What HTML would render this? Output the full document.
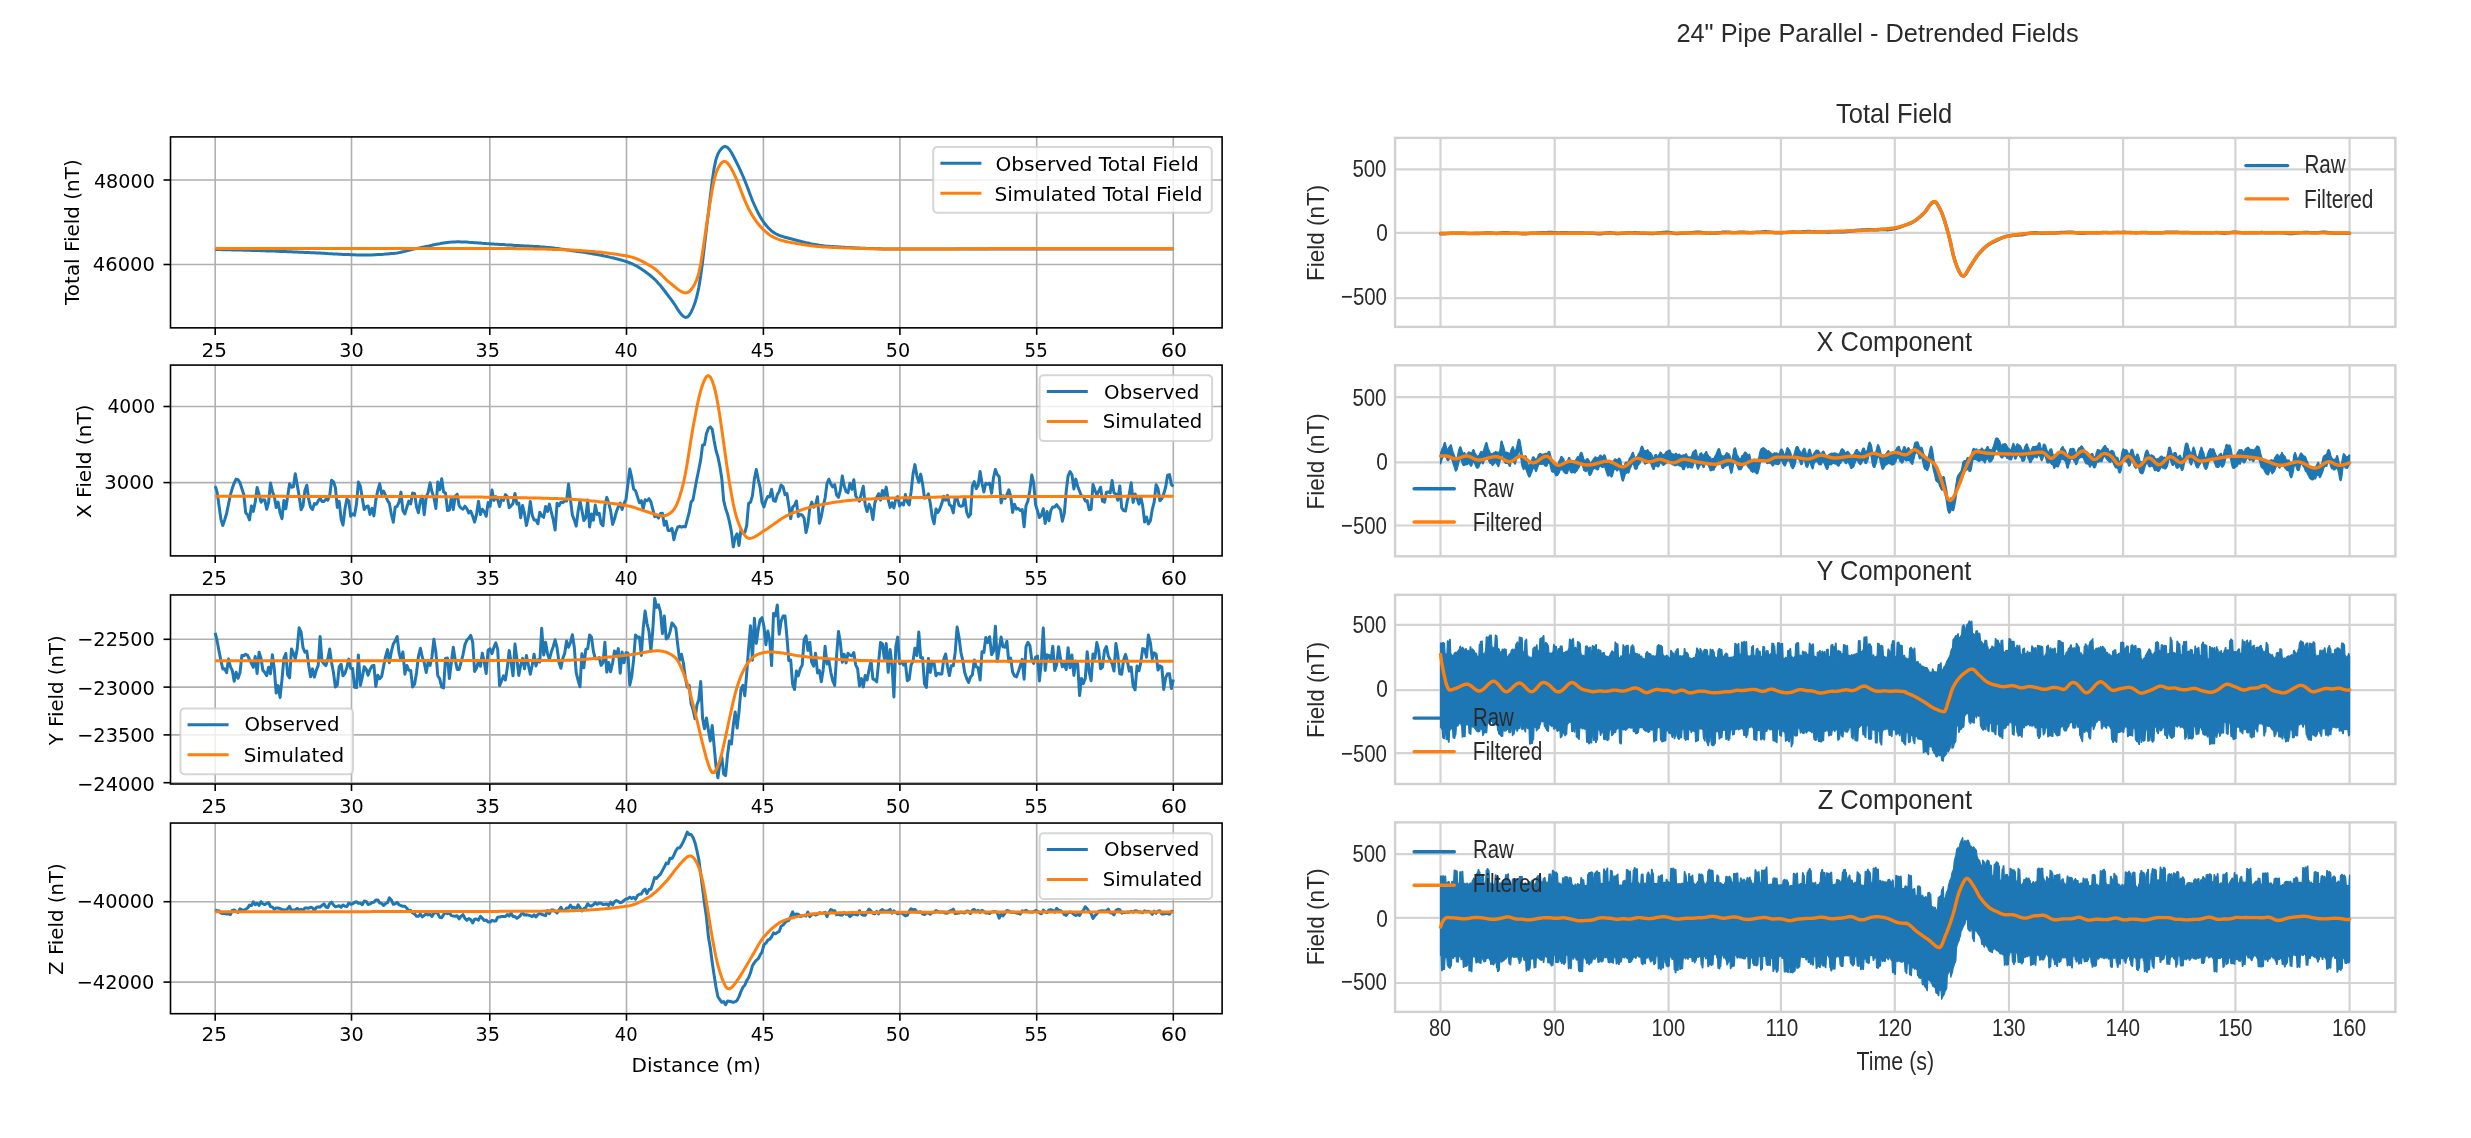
<!DOCTYPE html><html><head><meta charset="utf-8"><title>Pipe Parallel Fields</title><style>html,body{margin:0;padding:0;background:#fff;width:2471px;height:1138px;overflow:hidden}svg{display:block;will-change:transform}</style></head><body><svg width="2471" height="1138" viewBox="0 0 2471 1138"><defs><clipPath id="cl0"><rect x="170.5" y="136.9" width="1051.6" height="190.95"/></clipPath><clipPath id="cl1"><rect x="170.5" y="365.08" width="1051.6" height="190.82"/></clipPath><clipPath id="cl2"><rect x="170.5" y="594.95" width="1051.6" height="189.05"/></clipPath><clipPath id="cl3"><rect x="170.5" y="823.05" width="1051.6" height="190.65"/></clipPath><clipPath id="cr0"><rect x="1395.1" y="137.9" width="1000.3" height="189.0"/></clipPath><clipPath id="cr1"><rect x="1395.1" y="365.3" width="1000.3" height="191.0"/></clipPath><clipPath id="cr2"><rect x="1395.1" y="594.8" width="1000.3" height="189.2"/></clipPath><clipPath id="cr3"><rect x="1395.1" y="822.4" width="1000.3" height="189.5"/></clipPath><filter id="rblur" filterUnits="userSpaceOnUse" x="1270" y="0" width="1201" height="1138"><feGaussianBlur stdDeviation="0.45"/></filter></defs><rect width="2471" height="1138" fill="#fff"/><g>
<line x1="215.2" y1="136.9" x2="215.2" y2="327.9" stroke="#b0b0b0" stroke-width="1.6"/>
<line x1="351.5" y1="136.9" x2="351.5" y2="327.9" stroke="#b0b0b0" stroke-width="1.6"/>
<line x1="489.8" y1="136.9" x2="489.8" y2="327.9" stroke="#b0b0b0" stroke-width="1.6"/>
<line x1="626.5" y1="136.9" x2="626.5" y2="327.9" stroke="#b0b0b0" stroke-width="1.6"/>
<line x1="763.4" y1="136.9" x2="763.4" y2="327.9" stroke="#b0b0b0" stroke-width="1.6"/>
<line x1="899.9" y1="136.9" x2="899.9" y2="327.9" stroke="#b0b0b0" stroke-width="1.6"/>
<line x1="1036.7" y1="136.9" x2="1036.7" y2="327.9" stroke="#b0b0b0" stroke-width="1.6"/>
<line x1="1173.3" y1="136.9" x2="1173.3" y2="327.9" stroke="#b0b0b0" stroke-width="1.6"/>
<line x1="170.5" y1="264.5" x2="1222.1" y2="264.5" stroke="#b0b0b0" stroke-width="1.6"/>
<line x1="170.5" y1="180" x2="1222.1" y2="180" stroke="#b0b0b0" stroke-width="1.6"/>
<polyline points="215.2,249.5 217.1,249.5 219.0,249.6 220.9,249.6 222.8,249.7 224.7,249.7 226.6,249.7 228.5,249.8 230.4,249.8 232.3,249.9 234.2,249.9 236.1,250.0 238.1,250.0 240.0,250.1 241.9,250.1 243.8,250.2 245.7,250.2 247.6,250.3 249.5,250.3 251.4,250.4 253.3,250.5 255.2,250.5 257.1,250.6 259.1,250.6 261.0,250.7 262.9,250.8 264.8,250.8 266.7,250.9 268.6,250.9 270.5,251.0 272.4,251.1 274.3,251.1 276.2,251.2 278.1,251.3 280.1,251.4 282.0,251.4 283.9,251.5 285.8,251.6 287.7,251.7 289.6,251.8 291.5,251.8 293.4,251.9 295.3,252.0 297.2,252.1 299.1,252.2 301.1,252.3 303.0,252.3 304.9,252.4 306.8,252.5 308.7,252.6 310.6,252.7 312.5,252.8 314.4,252.8 316.3,252.9 318.2,253.0 320.1,253.1 322.0,253.2 324.0,253.3 325.9,253.4 327.8,253.6 329.7,253.7 331.6,253.8 333.5,253.9 335.4,254.0 337.3,254.1 339.2,254.2 341.1,254.3 343.0,254.4 345.0,254.5 346.9,254.6 348.8,254.6 350.7,254.7 352.6,254.8 354.5,254.8 356.5,254.9 358.4,254.9 360.4,255.0 362.3,255.0 364.2,255.0 366.2,255.0 368.1,255.0 370.0,254.9 372.0,254.9 373.9,254.8 375.8,254.7 377.8,254.6 379.7,254.5 381.6,254.4 383.6,254.3 385.5,254.1 387.5,254.0 389.4,253.8 391.3,253.6 393.3,253.5 395.2,253.2 397.1,253.0 399.1,252.6 401.0,252.2 402.9,251.8 404.9,251.4 406.8,250.9 408.8,250.4 410.7,249.9 412.6,249.4 414.6,248.9 416.5,248.5 418.4,248.1 420.4,247.7 422.3,247.3 424.2,246.9 426.2,246.5 428.1,246.1 430.1,245.7 432.0,245.3 433.9,244.8 435.9,244.4 437.8,244.0 439.7,243.7 441.7,243.3 443.6,243.0 445.5,242.7 447.5,242.4 449.4,242.2 451.4,242.1 453.3,241.9 455.2,241.9 457.2,241.8 459.1,241.8 461.0,241.9 463.0,242.0 464.9,242.0 466.8,242.1 468.8,242.3 470.7,242.4 472.7,242.5 474.6,242.7 476.5,242.8 478.5,243.0 480.4,243.1 482.3,243.3 484.3,243.4 486.2,243.6 488.1,243.7 490.1,243.8 492.0,243.9 493.9,244.1 495.8,244.2 497.7,244.3 499.6,244.4 501.6,244.5 503.5,244.6 505.4,244.8 507.3,244.9 509.2,245.0 511.1,245.1 513.0,245.2 515.0,245.4 516.9,245.5 518.8,245.6 520.7,245.7 522.6,245.8 524.5,245.9 526.4,246.0 528.3,246.1 530.3,246.2 532.2,246.3 534.1,246.4 536.0,246.5 537.9,246.6 539.8,246.8 541.7,246.9 543.7,247.0 545.6,247.2 547.5,247.4 549.4,247.6 551.3,247.8 553.2,248.0 555.1,248.3 557.1,248.5 559.0,248.8 560.9,249.1 562.8,249.3 564.7,249.6 566.6,249.9 568.5,250.1 570.5,250.4 572.4,250.7 574.3,250.9 576.2,251.2 578.1,251.5 580.0,251.8 581.9,252.1 583.8,252.3 585.8,252.6 587.7,252.9 589.6,253.3 591.5,253.6 593.4,253.9 595.3,254.2 597.2,254.6 599.2,254.9 601.1,255.3 603.0,255.7 604.9,256.1 606.8,256.5 608.7,256.9 610.6,257.4 612.6,257.8 614.5,258.3 616.4,258.8 618.3,259.3 620.2,259.8 622.1,260.3 624.0,260.9 626.0,261.5 627.9,262.1 629.8,262.8 631.7,263.6 633.6,264.5 635.5,265.5 637.5,266.5 639.4,267.7 641.3,268.9 643.2,270.2 645.1,271.5 647.0,273.0 649.0,274.4 650.9,276.0 652.8,277.6 654.7,279.3 656.6,281.2 658.5,283.4 660.5,285.6 662.4,288.0 664.3,290.5 666.2,293.0 668.1,295.5 670.0,298.0 672.0,300.6 673.9,303.4 675.8,306.3 677.7,309.4 679.6,312.2 681.5,314.7 683.5,316.5 685.4,317.4 687.3,317.1 689.2,315.3 691.1,312.2 693.0,308.0 695.0,302.8 696.9,296.2 698.8,287.6 700.7,275.9 702.6,261.5 704.5,245.6 706.4,229.2 708.4,212.9 710.3,196.6 712.2,181.1 714.1,168.2 716.0,159.4 717.9,154.0 719.9,150.6 721.8,148.2 723.7,146.8 725.6,146.5 727.5,147.4 729.4,149.5 731.4,152.5 733.3,156.0 735.2,159.7 737.1,163.5 739.0,167.4 740.9,171.6 742.9,176.0 744.8,180.6 746.7,185.4 748.6,190.4 750.5,195.6 752.4,200.5 754.4,205.0 756.3,209.2 758.2,213.0 760.1,216.5 762.0,219.7 763.9,222.5 765.9,225.0 767.8,227.2 769.7,229.2 771.6,231.0 773.5,232.4 775.4,233.5 777.3,234.5 779.2,235.3 781.1,236.0 783.1,236.6 785.0,237.2 786.9,237.7 788.8,238.2 790.7,238.7 792.6,239.2 794.5,239.7 796.4,240.2 798.3,240.7 800.3,241.2 802.2,241.7 804.1,242.1 806.0,242.6 807.9,243.0 809.8,243.5 811.7,243.9 813.6,244.2 815.5,244.6 817.5,244.9 819.4,245.3 821.3,245.5 823.2,245.8 825.1,246.0 827.0,246.2 828.9,246.3 830.8,246.5 832.7,246.6 834.7,246.7 836.6,246.8 838.5,247.0 840.4,247.1 842.3,247.2 844.2,247.3 846.1,247.4 848.0,247.5 849.9,247.6 851.9,247.7 853.8,247.8 855.7,247.9 857.6,248.0 859.5,248.1 861.4,248.2 863.3,248.3 865.2,248.3 867.1,248.4 869.1,248.5 871.0,248.5 872.9,248.6 874.8,248.7 876.7,248.7 878.6,248.8 880.5,248.8 882.4,248.9 884.3,248.9 886.2,248.9 888.2,249.0 890.1,249.0 892.0,249.0 893.9,249.0 895.8,249.0 897.7,249.0 899.6,249.0 901.5,249.0 903.5,249.0 905.4,249.0 907.3,249.0 909.2,249.0 911.1,249.0 913.0,249.0 914.9,249.0 916.9,249.0 918.8,249.0 920.7,249.0 922.6,249.0 924.5,249.0 926.4,249.0 928.4,249.0 930.3,249.0 932.2,249.0 934.1,249.0 936.0,249.0 937.9,249.0 939.8,249.0 941.8,249.0 943.7,249.0 945.6,249.0 947.5,249.0 949.4,249.0 951.3,249.0 953.3,249.0 955.2,249.0 957.1,249.0 959.0,249.0 960.9,249.0 962.8,249.0 964.7,249.0 966.7,249.0 968.6,249.0 970.5,249.0 972.4,249.0 974.3,249.0 976.2,249.0 978.1,249.0 980.1,249.0 982.0,249.0 983.9,249.0 985.8,249.0 987.7,249.0 989.6,249.0 991.6,249.0 993.5,249.0 995.4,249.0 997.3,249.0 999.2,249.0 1001.1,249.0 1003.0,249.0 1005.0,249.0 1006.9,249.0 1008.8,249.0 1010.7,249.0 1012.6,249.0 1014.5,249.0 1016.5,249.0 1018.4,249.0 1020.3,249.0 1022.2,249.0 1024.1,249.0 1026.0,249.0 1027.9,249.0 1029.9,249.0 1031.8,249.0 1033.7,249.0 1035.6,249.0 1037.5,249.0 1039.4,249.0 1041.3,249.0 1043.3,249.0 1045.2,249.0 1047.1,249.0 1049.0,249.0 1050.9,249.0 1052.8,249.0 1054.7,249.0 1056.6,249.0 1058.6,249.0 1060.5,249.0 1062.4,249.0 1064.3,249.0 1066.2,249.0 1068.1,249.0 1070.0,249.0 1071.9,249.0 1073.9,249.0 1075.8,249.0 1077.7,249.0 1079.6,249.0 1081.5,249.0 1083.4,249.0 1085.3,249.0 1087.2,249.0 1089.2,249.0 1091.1,249.0 1093.0,249.0 1094.9,249.0 1096.8,249.0 1098.7,249.0 1100.6,249.0 1102.5,249.0 1104.5,249.0 1106.4,249.0 1108.3,249.0 1110.2,249.0 1112.1,249.0 1114.0,249.0 1115.9,249.0 1117.8,249.0 1119.8,249.0 1121.7,249.0 1123.6,249.0 1125.5,249.0 1127.4,249.0 1129.3,249.0 1131.2,249.0 1133.1,249.0 1135.1,249.0 1137.0,249.0 1138.9,249.0 1140.8,249.0 1142.7,249.0 1144.6,249.0 1146.5,249.0 1148.4,249.0 1150.4,249.0 1152.3,249.0 1154.2,249.0 1156.1,249.0 1158.0,249.0 1159.9,249.0 1161.8,249.0 1163.7,249.0 1165.7,249.0 1167.6,249.0 1169.5,249.0 1171.4,249.0 1173.3,249.0" fill="none" stroke="#1f77b4" stroke-width="3" stroke-linejoin="round" stroke-linecap="butt" clip-path="url(#cl0)"/>
<polyline points="215.2,248.5 217.1,248.5 219.0,248.5 220.9,248.5 222.8,248.5 224.7,248.5 226.6,248.5 228.5,248.5 230.4,248.5 232.3,248.5 234.2,248.5 236.1,248.5 238.1,248.5 240.0,248.5 241.9,248.5 243.8,248.5 245.7,248.5 247.6,248.5 249.5,248.5 251.4,248.5 253.3,248.5 255.2,248.5 257.1,248.5 259.1,248.5 261.0,248.5 262.9,248.5 264.8,248.5 266.7,248.5 268.6,248.5 270.5,248.5 272.4,248.5 274.3,248.5 276.2,248.5 278.1,248.5 280.1,248.5 282.0,248.5 283.9,248.5 285.8,248.5 287.7,248.5 289.6,248.5 291.5,248.5 293.4,248.5 295.3,248.5 297.2,248.5 299.1,248.5 301.1,248.5 303.0,248.5 304.9,248.5 306.8,248.5 308.7,248.5 310.6,248.5 312.5,248.5 314.4,248.5 316.3,248.5 318.2,248.5 320.1,248.5 322.0,248.5 324.0,248.5 325.9,248.5 327.8,248.5 329.7,248.5 331.6,248.5 333.5,248.5 335.4,248.5 337.3,248.5 339.2,248.5 341.1,248.5 343.0,248.5 345.0,248.5 346.9,248.5 348.8,248.5 350.7,248.5 352.6,248.5 354.5,248.5 356.5,248.5 358.4,248.5 360.4,248.5 362.3,248.5 364.2,248.5 366.2,248.5 368.1,248.5 370.0,248.5 372.0,248.5 373.9,248.5 375.8,248.5 377.8,248.5 379.7,248.5 381.6,248.5 383.6,248.5 385.5,248.5 387.5,248.5 389.4,248.5 391.3,248.5 393.3,248.5 395.2,248.5 397.1,248.5 399.1,248.5 401.0,248.5 402.9,248.5 404.9,248.5 406.8,248.5 408.8,248.5 410.7,248.5 412.6,248.5 414.6,248.5 416.5,248.5 418.4,248.5 420.4,248.5 422.3,248.5 424.2,248.5 426.2,248.5 428.1,248.5 430.1,248.5 432.0,248.5 433.9,248.5 435.9,248.5 437.8,248.5 439.7,248.5 441.7,248.5 443.6,248.5 445.5,248.5 447.5,248.5 449.4,248.5 451.4,248.5 453.3,248.5 455.2,248.5 457.2,248.5 459.1,248.5 461.0,248.5 463.0,248.5 464.9,248.5 466.8,248.5 468.8,248.5 470.7,248.5 472.7,248.5 474.6,248.5 476.5,248.5 478.5,248.5 480.4,248.5 482.3,248.5 484.3,248.5 486.2,248.5 488.1,248.5 490.1,248.5 492.0,248.5 493.9,248.5 495.8,248.6 497.7,248.6 499.6,248.6 501.6,248.6 503.5,248.6 505.4,248.6 507.3,248.6 509.2,248.6 511.1,248.6 513.0,248.6 515.0,248.6 516.9,248.7 518.8,248.7 520.7,248.7 522.6,248.7 524.5,248.7 526.4,248.7 528.3,248.8 530.3,248.8 532.2,248.8 534.1,248.9 536.0,248.9 537.9,249.0 539.8,249.0 541.7,249.0 543.7,249.1 545.6,249.1 547.5,249.2 549.4,249.2 551.3,249.3 553.2,249.4 555.1,249.4 557.1,249.5 559.0,249.5 560.9,249.6 562.8,249.7 564.7,249.7 566.6,249.8 568.5,249.9 570.5,250.0 572.4,250.1 574.3,250.2 576.2,250.3 578.1,250.4 580.0,250.5 581.9,250.7 583.8,250.8 585.8,250.9 587.7,251.1 589.6,251.2 591.5,251.4 593.4,251.6 595.3,251.8 597.2,251.9 599.2,252.1 601.1,252.3 603.0,252.6 604.9,252.8 606.8,253.0 608.7,253.2 610.6,253.5 612.6,253.7 614.5,254.0 616.4,254.3 618.3,254.6 620.2,254.9 622.1,255.2 624.0,255.5 626.0,255.8 627.9,256.2 629.8,256.6 631.7,257.1 633.6,257.7 635.5,258.4 637.5,259.2 639.4,260.0 641.3,260.9 643.2,261.9 645.1,262.9 647.0,264.0 649.0,265.1 650.9,266.2 652.8,267.4 654.7,268.8 656.6,270.3 658.5,272.0 660.5,273.8 662.4,275.7 664.3,277.6 666.2,279.5 668.1,281.3 670.0,282.9 672.0,284.5 673.9,286.0 675.8,287.6 677.7,289.1 679.6,290.5 681.5,291.7 683.5,292.5 685.4,292.9 687.3,292.6 689.2,291.6 691.1,289.7 693.0,287.0 695.0,283.7 696.9,279.3 698.8,272.8 700.7,263.7 702.6,252.1 704.5,239.1 706.4,226.0 708.4,213.3 710.3,201.2 712.2,189.9 714.1,180.3 716.0,173.2 717.9,168.4 719.9,165.0 721.8,162.6 723.7,161.4 725.6,161.6 727.5,163.0 729.4,165.5 731.4,168.7 733.3,172.4 735.2,176.4 737.1,180.6 739.0,185.4 740.9,190.5 742.9,195.6 744.8,200.4 746.7,204.7 748.6,208.7 750.5,212.2 752.4,215.6 754.4,218.6 756.3,221.3 758.2,223.8 760.1,226.2 762.0,228.3 763.9,230.2 765.9,231.9 767.8,233.5 769.7,234.9 771.6,236.2 773.5,237.2 775.4,238.1 777.3,238.9 779.2,239.6 781.1,240.2 783.1,240.7 785.0,241.2 786.9,241.7 788.8,242.1 790.7,242.5 792.6,242.8 794.5,243.1 796.4,243.5 798.3,243.8 800.3,244.1 802.2,244.4 804.1,244.7 806.0,245.0 807.9,245.3 809.8,245.5 811.7,245.8 813.6,246.0 815.5,246.2 817.5,246.4 819.4,246.6 821.3,246.7 823.2,246.9 825.1,247.0 827.0,247.1 828.9,247.2 830.8,247.3 832.7,247.4 834.7,247.5 836.6,247.6 838.5,247.7 840.4,247.7 842.3,247.8 844.2,247.9 846.1,248.0 848.0,248.0 849.9,248.1 851.9,248.2 853.8,248.2 855.7,248.3 857.6,248.3 859.5,248.4 861.4,248.5 863.3,248.5 865.2,248.6 867.1,248.6 869.1,248.7 871.0,248.7 872.9,248.7 874.8,248.8 876.7,248.8 878.6,248.9 880.5,248.9 882.4,248.9 884.3,248.9 886.2,249.0 888.2,249.0 890.1,249.0 892.0,249.0 893.9,249.0 895.8,249.0 897.7,249.0 899.6,249.0 901.5,249.0 903.5,249.0 905.4,249.0 907.3,249.0 909.2,249.0 911.1,249.0 913.0,249.0 914.9,249.0 916.9,249.0 918.8,249.0 920.7,249.0 922.6,249.0 924.5,249.0 926.4,249.0 928.4,249.0 930.3,249.0 932.2,249.0 934.1,249.0 936.0,249.0 937.9,248.9 939.8,248.9 941.8,248.9 943.7,248.9 945.6,248.9 947.5,248.9 949.4,248.9 951.3,248.9 953.3,248.9 955.2,248.8 957.1,248.8 959.0,248.8 960.9,248.8 962.8,248.8 964.7,248.8 966.7,248.8 968.6,248.8 970.5,248.8 972.4,248.7 974.3,248.7 976.2,248.7 978.1,248.7 980.1,248.7 982.0,248.7 983.9,248.7 985.8,248.7 987.7,248.7 989.6,248.6 991.6,248.6 993.5,248.6 995.4,248.6 997.3,248.6 999.2,248.6 1001.1,248.6 1003.0,248.6 1005.0,248.6 1006.9,248.6 1008.8,248.5 1010.7,248.5 1012.6,248.5 1014.5,248.5 1016.5,248.5 1018.4,248.5 1020.3,248.5 1022.2,248.5 1024.1,248.5 1026.0,248.5 1027.9,248.5 1029.9,248.5 1031.8,248.5 1033.7,248.5 1035.6,248.5 1037.5,248.5 1039.4,248.5 1041.3,248.5 1043.3,248.5 1045.2,248.5 1047.1,248.5 1049.0,248.5 1050.9,248.5 1052.8,248.5 1054.7,248.5 1056.6,248.5 1058.6,248.5 1060.5,248.5 1062.4,248.5 1064.3,248.5 1066.2,248.5 1068.1,248.5 1070.0,248.5 1071.9,248.5 1073.9,248.5 1075.8,248.5 1077.7,248.5 1079.6,248.5 1081.5,248.5 1083.4,248.5 1085.3,248.5 1087.2,248.5 1089.2,248.5 1091.1,248.5 1093.0,248.5 1094.9,248.5 1096.8,248.5 1098.7,248.5 1100.6,248.5 1102.5,248.5 1104.5,248.5 1106.4,248.5 1108.3,248.5 1110.2,248.5 1112.1,248.5 1114.0,248.5 1115.9,248.5 1117.8,248.5 1119.8,248.5 1121.7,248.5 1123.6,248.5 1125.5,248.5 1127.4,248.5 1129.3,248.5 1131.2,248.5 1133.1,248.5 1135.1,248.5 1137.0,248.5 1138.9,248.5 1140.8,248.5 1142.7,248.5 1144.6,248.5 1146.5,248.5 1148.4,248.5 1150.4,248.5 1152.3,248.5 1154.2,248.5 1156.1,248.5 1158.0,248.5 1159.9,248.5 1161.8,248.5 1163.7,248.5 1165.7,248.5 1167.6,248.5 1169.5,248.5 1171.4,248.5 1173.3,248.5" fill="none" stroke="#ff7f0e" stroke-width="3" stroke-linejoin="round" stroke-linecap="butt" clip-path="url(#cl0)"/>
<rect x="170.5" y="136.9" width="1051.6" height="190.95" fill="none" stroke="#000" stroke-width="1.6"/>
<line x1="215.2" y1="327.9" x2="215.2" y2="334.9" stroke="#000" stroke-width="1.6"/>
<text x="214.15" y="357.10" font-size="20" font-family="'DejaVu Sans', sans-serif" fill="#000" text-anchor="middle" textLength="25.47" lengthAdjust="spacingAndGlyphs">25</text>
<line x1="351.5" y1="327.9" x2="351.5" y2="334.9" stroke="#000" stroke-width="1.6"/>
<text x="351.50" y="357.10" font-size="20" font-family="'DejaVu Sans', sans-serif" fill="#000" text-anchor="middle" textLength="24.43" lengthAdjust="spacingAndGlyphs">30</text>
<line x1="489.8" y1="327.9" x2="489.8" y2="334.9" stroke="#000" stroke-width="1.6"/>
<text x="487.80" y="357.10" font-size="20" font-family="'DejaVu Sans', sans-serif" fill="#000" text-anchor="middle" textLength="24.45" lengthAdjust="spacingAndGlyphs">35</text>
<line x1="626.5" y1="327.9" x2="626.5" y2="334.9" stroke="#000" stroke-width="1.6"/>
<text x="626.25" y="357.10" font-size="20" font-family="'DejaVu Sans', sans-serif" fill="#000" text-anchor="middle" textLength="22.78" lengthAdjust="spacingAndGlyphs">40</text>
<line x1="763.4" y1="327.9" x2="763.4" y2="334.9" stroke="#000" stroke-width="1.6"/>
<text x="762.65" y="357.10" font-size="20" font-family="'DejaVu Sans', sans-serif" fill="#000" text-anchor="middle" textLength="23.76" lengthAdjust="spacingAndGlyphs">45</text>
<line x1="899.9" y1="327.9" x2="899.9" y2="334.9" stroke="#000" stroke-width="1.6"/>
<text x="897.90" y="357.10" font-size="20" font-family="'DejaVu Sans', sans-serif" fill="#000" text-anchor="middle" textLength="24.38" lengthAdjust="spacingAndGlyphs">50</text>
<line x1="1036.7" y1="327.9" x2="1036.7" y2="334.9" stroke="#000" stroke-width="1.6"/>
<text x="1036.20" y="357.10" font-size="20" font-family="'DejaVu Sans', sans-serif" fill="#000" text-anchor="middle" textLength="23.16" lengthAdjust="spacingAndGlyphs">55</text>
<line x1="1173.3" y1="327.9" x2="1173.3" y2="334.9" stroke="#000" stroke-width="1.6"/>
<text x="1174.05" y="357.10" font-size="20" font-family="'DejaVu Sans', sans-serif" fill="#000" text-anchor="middle" textLength="26.03" lengthAdjust="spacingAndGlyphs">60</text>
<line x1="163.5" y1="264.5" x2="170.5" y2="264.5" stroke="#000" stroke-width="1.6"/>
<text x="154.95" y="271.40" font-size="20" font-family="'DejaVu Sans', sans-serif" fill="#000" text-anchor="end" textLength="62.10" lengthAdjust="spacingAndGlyphs">46000</text>
<line x1="163.5" y1="180" x2="170.5" y2="180" stroke="#000" stroke-width="1.6"/>
<text x="154.95" y="187.90" font-size="20" font-family="'DejaVu Sans', sans-serif" fill="#000" text-anchor="end" textLength="61.07" lengthAdjust="spacingAndGlyphs">48000</text>
<text x="79.50" y="232.12" font-size="20" font-family="'DejaVu Sans', sans-serif" fill="#000" text-anchor="middle" textLength="145.59" lengthAdjust="spacingAndGlyphs" transform="rotate(-90 79.50 232.12)">Total Field (nT)</text>
<line x1="215.2" y1="365.1" x2="215.2" y2="555.9" stroke="#b0b0b0" stroke-width="1.6"/>
<line x1="351.5" y1="365.1" x2="351.5" y2="555.9" stroke="#b0b0b0" stroke-width="1.6"/>
<line x1="489.8" y1="365.1" x2="489.8" y2="555.9" stroke="#b0b0b0" stroke-width="1.6"/>
<line x1="626.5" y1="365.1" x2="626.5" y2="555.9" stroke="#b0b0b0" stroke-width="1.6"/>
<line x1="763.4" y1="365.1" x2="763.4" y2="555.9" stroke="#b0b0b0" stroke-width="1.6"/>
<line x1="899.9" y1="365.1" x2="899.9" y2="555.9" stroke="#b0b0b0" stroke-width="1.6"/>
<line x1="1036.7" y1="365.1" x2="1036.7" y2="555.9" stroke="#b0b0b0" stroke-width="1.6"/>
<line x1="1173.3" y1="365.1" x2="1173.3" y2="555.9" stroke="#b0b0b0" stroke-width="1.6"/>
<line x1="170.5" y1="482.6" x2="1222.1" y2="482.6" stroke="#b0b0b0" stroke-width="1.6"/>
<line x1="170.5" y1="406.5" x2="1222.1" y2="406.5" stroke="#b0b0b0" stroke-width="1.6"/>
<polyline points="215.2,486.1 217.1,491.9 219.0,505.5 220.9,519.1 222.8,525.5 224.7,519.8 226.6,513.5 228.5,504.2 230.4,494.8 232.3,488.3 234.2,483.0 236.1,479.1 238.1,479.7 240.0,482.7 241.9,488.7 243.8,494.5 245.7,512.8 247.6,514.8 249.5,519.9 251.4,506.0 253.3,511.4 255.2,502.2 257.1,487.4 259.1,494.7 261.0,502.2 262.9,499.8 264.8,500.1 266.7,509.3 268.6,502.1 270.5,483.1 272.4,491.6 274.3,496.6 276.2,507.5 278.1,502.1 280.1,512.9 282.0,518.7 283.9,500.6 285.8,508.8 287.7,496.0 289.6,483.7 291.5,487.2 293.4,486.7 295.3,473.7 297.2,484.8 299.1,495.7 301.1,509.7 303.0,506.0 304.9,490.5 306.8,485.2 308.7,499.1 310.6,507.3 312.5,509.5 314.4,503.6 316.3,504.3 318.2,500.9 320.1,498.0 322.0,501.5 324.0,501.4 325.9,499.1 327.8,500.3 329.7,495.7 331.6,480.2 333.5,481.8 335.4,487.7 337.3,507.4 339.2,501.4 341.1,518.7 343.0,525.1 345.0,508.5 346.9,499.1 348.8,500.8 350.7,516.2 352.6,513.9 354.5,515.3 356.5,504.1 358.4,482.1 360.4,486.4 362.3,498.3 364.2,509.6 366.2,506.7 368.1,506.0 370.0,514.4 372.0,508.3 373.9,515.9 375.8,500.1 377.8,490.4 379.7,483.8 381.6,493.8 383.6,491.2 385.5,495.4 387.5,500.5 389.4,503.4 391.3,514.0 393.3,522.2 395.2,507.1 397.1,506.3 399.1,502.0 401.0,492.1 402.9,510.6 404.9,513.9 406.8,507.3 408.8,501.1 410.7,504.0 412.6,493.1 414.6,493.5 416.5,506.7 418.4,512.7 420.4,500.8 422.3,496.1 424.2,514.7 426.2,497.1 428.1,492.5 430.1,482.7 432.0,492.1 433.9,497.4 435.9,508.4 437.8,482.1 439.7,489.8 441.7,478.7 443.6,491.9 445.5,493.0 447.5,510.5 449.4,510.1 451.4,497.4 453.3,509.5 455.2,496.2 457.2,494.2 459.1,505.6 461.0,508.0 463.0,509.2 464.9,506.2 466.8,508.7 468.8,513.0 470.7,511.0 472.7,516.3 474.6,522.1 476.5,514.6 478.5,501.2 480.4,514.5 482.3,509.2 484.3,511.7 486.2,516.3 488.1,502.6 490.1,506.2 492.0,490.1 493.9,500.5 495.8,496.6 497.7,499.6 499.6,506.5 501.6,498.7 503.5,500.4 505.4,494.6 507.3,496.8 509.2,507.7 511.1,505.9 513.0,503.3 515.0,493.4 516.9,504.0 518.8,503.0 520.7,517.7 522.6,505.6 524.5,513.6 526.4,525.5 528.3,517.3 530.3,501.4 532.2,515.0 534.1,520.0 536.0,520.1 537.9,523.7 539.8,512.3 541.7,515.8 543.7,517.3 545.6,506.4 547.5,511.5 549.4,504.1 551.3,512.1 553.2,519.5 555.1,530.1 557.1,503.2 559.0,505.7 560.9,502.2 562.8,502.5 564.7,500.9 566.6,501.0 568.5,484.1 570.5,500.0 572.4,515.1 574.3,520.0 576.2,526.1 578.1,511.2 580.0,500.8 581.9,510.4 583.8,520.6 585.8,517.8 587.7,500.0 589.6,527.0 591.5,514.0 593.4,520.2 595.3,505.0 597.2,514.4 599.2,513.3 601.1,523.8 603.0,525.7 604.9,505.5 606.8,497.4 608.7,503.0 610.6,510.6 612.6,524.4 614.5,519.0 616.4,511.7 618.3,506.7 620.2,503.0 622.1,509.5 624.0,503.6 626.0,499.3 627.9,484.1 629.8,469.0 631.7,477.5 633.6,489.1 635.5,490.6 637.5,496.9 639.4,502.7 641.3,500.7 643.2,508.9 645.1,499.7 647.0,500.8 649.0,498.7 650.9,501.8 652.8,509.3 654.7,516.6 656.6,515.5 658.5,518.1 660.5,513.5 662.4,513.3 664.3,525.3 666.2,521.2 668.1,530.4 670.0,530.5 672.0,528.3 673.9,539.7 675.8,532.0 677.7,527.2 679.6,526.3 681.5,527.2 683.5,526.5 685.4,526.9 687.3,519.5 689.2,512.4 691.1,501.9 693.0,499.7 695.0,488.7 696.9,478.8 698.8,469.5 700.7,459.9 702.6,445.0 704.5,444.7 706.4,433.8 708.4,428.4 710.3,426.9 712.2,429.2 714.1,440.6 716.0,450.5 717.9,456.8 719.9,466.6 721.8,478.8 723.7,500.6 725.6,508.5 727.5,514.1 729.4,521.6 731.4,531.5 733.3,546.9 735.2,537.3 737.1,533.8 739.0,545.4 740.9,530.2 742.9,533.1 744.8,532.6 746.7,525.6 748.6,503.4 750.5,502.3 752.4,495.9 754.4,478.9 756.3,469.5 758.2,479.3 760.1,487.3 762.0,502.2 763.9,507.0 765.9,500.3 767.8,496.5 769.7,496.9 771.6,489.3 773.5,500.5 775.4,501.3 777.3,494.6 779.2,491.5 781.1,485.0 783.1,486.9 785.0,494.6 786.9,493.5 788.8,505.2 790.7,518.7 792.6,507.1 794.5,505.4 796.4,501.0 798.3,516.5 800.3,514.3 802.2,515.1 804.1,518.0 806.0,532.6 807.9,524.5 809.8,508.1 811.7,502.1 813.6,507.1 815.5,505.1 817.5,496.7 819.4,523.3 821.3,516.6 823.2,506.1 825.1,498.0 827.0,483.5 828.9,479.2 830.8,483.9 832.7,487.0 834.7,484.6 836.6,495.1 838.5,497.4 840.4,490.2 842.3,476.0 844.2,486.0 846.1,491.5 848.0,492.8 849.9,483.2 851.9,489.4 853.8,479.8 855.7,495.8 857.6,499.0 859.5,501.2 861.4,493.6 863.3,486.3 865.2,504.9 867.1,511.5 869.1,504.3 871.0,508.8 872.9,519.5 874.8,503.1 876.7,497.4 878.6,493.7 880.5,500.1 882.4,490.5 884.3,495.8 886.2,487.1 888.2,499.7 890.1,507.4 892.0,502.7 893.9,508.0 895.8,498.8 897.7,496.6 899.6,506.0 901.5,503.0 903.5,504.9 905.4,494.6 907.3,502.0 909.2,505.0 911.1,491.9 913.0,474.1 914.9,464.6 916.9,476.1 918.8,482.2 920.7,474.1 922.6,484.0 924.5,498.2 926.4,497.5 928.4,493.9 930.3,503.3 932.2,516.8 934.1,523.7 936.0,509.0 937.9,512.4 939.8,509.0 941.8,503.6 943.7,496.3 945.6,500.3 947.5,495.3 949.4,504.7 951.3,506.0 953.3,512.9 955.2,497.7 957.1,498.4 959.0,505.3 960.9,506.3 962.8,505.7 964.7,496.9 966.7,512.2 968.6,517.0 970.5,514.1 972.4,485.7 974.3,481.6 976.2,488.6 978.1,485.7 980.1,471.5 982.0,483.2 983.9,492.0 985.8,483.3 987.7,484.2 989.6,483.2 991.6,493.3 993.5,477.7 995.4,469.4 997.3,474.5 999.2,476.8 1001.1,503.0 1003.0,495.7 1005.0,498.5 1006.9,494.6 1008.8,489.8 1010.7,496.0 1012.6,512.4 1014.5,504.2 1016.5,509.1 1018.4,508.4 1020.3,510.5 1022.2,509.5 1024.1,526.8 1026.0,505.8 1027.9,501.0 1029.9,490.0 1031.8,474.9 1033.7,483.0 1035.6,504.9 1037.5,510.8 1039.4,517.5 1041.3,515.5 1043.3,508.8 1045.2,523.5 1047.1,511.6 1049.0,520.8 1050.9,510.3 1052.8,507.1 1054.7,507.0 1056.6,504.7 1058.6,507.4 1060.5,509.9 1062.4,521.2 1064.3,513.5 1066.2,491.4 1068.1,475.8 1070.0,471.6 1071.9,474.5 1073.9,489.0 1075.8,479.1 1077.7,486.4 1079.6,491.2 1081.5,496.3 1083.4,496.2 1085.3,500.9 1087.2,500.7 1089.2,509.8 1091.1,509.2 1093.0,484.5 1094.9,490.0 1096.8,495.0 1098.7,491.3 1100.6,487.2 1102.5,501.2 1104.5,502.1 1106.4,492.3 1108.3,491.9 1110.2,493.0 1112.1,480.6 1114.0,492.9 1115.9,494.0 1117.8,500.2 1119.8,485.9 1121.7,507.9 1123.6,510.6 1125.5,511.0 1127.4,500.4 1129.3,494.1 1131.2,482.7 1133.1,502.4 1135.1,494.0 1137.0,498.1 1138.9,504.1 1140.8,497.1 1142.7,505.8 1144.6,522.0 1146.5,517.0 1148.4,524.0 1150.4,520.8 1152.3,509.3 1154.2,502.0 1156.1,484.7 1158.0,488.4 1159.9,500.7 1161.8,498.7 1163.7,494.1 1165.7,487.0 1167.6,475.1 1169.5,474.6 1171.4,484.4 1173.3,486.6" fill="none" stroke="#1f77b4" stroke-width="3" stroke-linejoin="round" stroke-linecap="butt" clip-path="url(#cl1)"/>
<polyline points="215.2,496.3 217.1,496.3 219.0,496.3 220.9,496.3 222.8,496.3 224.7,496.3 226.6,496.3 228.5,496.3 230.4,496.3 232.3,496.3 234.2,496.3 236.1,496.3 238.1,496.3 240.0,496.3 241.9,496.3 243.8,496.3 245.7,496.3 247.6,496.3 249.5,496.3 251.4,496.3 253.3,496.3 255.2,496.3 257.1,496.3 259.1,496.3 261.0,496.3 262.9,496.3 264.8,496.3 266.7,496.3 268.6,496.3 270.5,496.3 272.4,496.3 274.3,496.3 276.2,496.3 278.1,496.3 280.1,496.3 282.0,496.3 283.9,496.3 285.8,496.4 287.7,496.4 289.6,496.4 291.5,496.4 293.4,496.4 295.3,496.4 297.2,496.4 299.1,496.4 301.1,496.4 303.0,496.4 304.9,496.4 306.8,496.4 308.7,496.4 310.6,496.4 312.5,496.4 314.4,496.4 316.3,496.4 318.2,496.4 320.1,496.4 322.0,496.4 324.0,496.4 325.9,496.4 327.8,496.4 329.7,496.4 331.6,496.4 333.5,496.4 335.4,496.4 337.3,496.4 339.2,496.4 341.1,496.4 343.0,496.4 345.0,496.4 346.9,496.4 348.8,496.4 350.7,496.4 352.6,496.5 354.5,496.5 356.5,496.5 358.4,496.5 360.4,496.5 362.3,496.5 364.2,496.5 366.2,496.5 368.1,496.5 370.0,496.5 372.0,496.5 373.9,496.5 375.8,496.5 377.8,496.5 379.7,496.5 381.6,496.5 383.6,496.5 385.5,496.5 387.5,496.5 389.4,496.5 391.3,496.5 393.3,496.5 395.2,496.5 397.1,496.5 399.1,496.6 401.0,496.6 402.9,496.6 404.9,496.6 406.8,496.6 408.8,496.6 410.7,496.6 412.6,496.6 414.6,496.6 416.5,496.6 418.4,496.6 420.4,496.6 422.3,496.6 424.2,496.6 426.2,496.6 428.1,496.7 430.1,496.7 432.0,496.7 433.9,496.7 435.9,496.7 437.8,496.7 439.7,496.7 441.7,496.7 443.6,496.7 445.5,496.7 447.5,496.8 449.4,496.8 451.4,496.8 453.3,496.8 455.2,496.8 457.2,496.8 459.1,496.9 461.0,496.9 463.0,496.9 464.9,496.9 466.8,496.9 468.8,497.0 470.7,497.0 472.7,497.0 474.6,497.0 476.5,497.1 478.5,497.1 480.4,497.1 482.3,497.1 484.3,497.2 486.2,497.2 488.1,497.2 490.1,497.2 492.0,497.3 493.9,497.3 495.8,497.3 497.7,497.4 499.6,497.4 501.6,497.4 503.5,497.4 505.4,497.5 507.3,497.5 509.2,497.5 511.1,497.6 513.0,497.6 515.0,497.6 516.9,497.6 518.8,497.7 520.7,497.7 522.6,497.7 524.5,497.8 526.4,497.8 528.3,497.9 530.3,497.9 532.2,497.9 534.1,498.0 536.0,498.0 537.9,498.1 539.8,498.1 541.7,498.2 543.7,498.2 545.6,498.3 547.5,498.3 549.4,498.4 551.3,498.4 553.2,498.5 555.1,498.5 557.1,498.6 559.0,498.7 560.9,498.7 562.8,498.8 564.7,498.9 566.6,499.0 568.5,499.1 570.5,499.2 572.4,499.3 574.3,499.4 576.2,499.6 578.1,499.7 580.0,499.8 581.9,500.0 583.8,500.1 585.8,500.3 587.7,500.5 589.6,500.7 591.5,500.9 593.4,501.1 595.3,501.3 597.2,501.5 599.2,501.7 601.1,501.9 603.0,502.1 604.9,502.4 606.8,502.6 608.7,502.9 610.6,503.2 612.6,503.4 614.5,503.7 616.4,504.0 618.3,504.3 620.2,504.6 622.1,504.9 624.0,505.2 626.0,505.5 627.9,505.9 629.8,506.3 631.7,506.8 633.6,507.3 635.5,507.9 637.5,508.6 639.4,509.2 641.3,509.9 643.2,510.5 645.1,511.1 647.0,511.7 649.0,512.3 650.9,513.0 652.8,513.6 654.7,514.3 656.6,514.8 658.5,515.3 660.5,515.6 662.4,515.8 664.3,515.7 666.2,515.3 668.1,514.5 670.0,513.3 672.0,511.8 673.9,509.6 675.8,506.5 677.7,502.2 679.6,496.8 681.5,490.4 683.5,482.9 685.4,473.8 687.3,463.0 689.2,451.0 691.1,439.0 693.0,427.6 695.0,417.0 696.9,407.0 698.8,398.1 700.7,390.7 702.6,384.7 704.5,379.9 706.4,376.6 708.4,375.6 710.3,377.0 712.2,380.8 714.1,386.4 716.0,394.1 717.9,404.2 719.9,416.3 721.8,429.5 723.7,443.0 725.6,456.7 727.5,470.0 729.4,482.5 731.4,493.9 733.3,504.1 735.2,512.5 737.1,519.1 739.0,524.4 740.9,528.8 742.9,532.5 744.8,535.5 746.7,537.4 748.6,538.3 750.5,538.4 752.4,537.9 754.4,537.0 756.3,535.9 758.2,534.7 760.1,533.4 762.0,532.1 763.9,530.8 765.9,529.6 767.8,528.4 769.7,527.1 771.6,525.8 773.5,524.4 775.4,523.0 777.3,521.7 779.2,520.3 781.1,519.0 783.1,517.8 785.0,516.7 786.9,515.7 788.8,514.8 790.7,513.9 792.6,513.1 794.5,512.4 796.4,511.7 798.3,511.0 800.3,510.3 802.2,509.7 804.1,509.0 806.0,508.4 807.9,507.9 809.8,507.3 811.7,506.8 813.6,506.3 815.5,505.8 817.5,505.4 819.4,505.0 821.3,504.6 823.2,504.2 825.1,503.9 827.0,503.5 828.9,503.2 830.8,502.9 832.7,502.6 834.7,502.3 836.6,502.0 838.5,501.8 840.4,501.5 842.3,501.2 844.2,501.0 846.1,500.8 848.0,500.6 849.9,500.4 851.9,500.2 853.8,500.0 855.7,499.9 857.6,499.7 859.5,499.6 861.4,499.5 863.3,499.4 865.2,499.2 867.1,499.1 869.1,499.0 871.0,498.9 872.9,498.8 874.8,498.7 876.7,498.7 878.6,498.6 880.5,498.5 882.4,498.4 884.3,498.3 886.2,498.3 888.2,498.2 890.1,498.1 892.0,498.1 893.9,498.0 895.8,498.0 897.7,497.9 899.6,497.9 901.5,497.8 903.5,497.8 905.4,497.7 907.3,497.7 909.2,497.7 911.1,497.6 913.0,497.6 914.9,497.5 916.9,497.5 918.8,497.5 920.7,497.4 922.6,497.4 924.5,497.4 926.4,497.3 928.4,497.3 930.3,497.3 932.2,497.2 934.1,497.2 936.0,497.2 937.9,497.1 939.8,497.1 941.8,497.1 943.7,497.0 945.6,497.0 947.5,497.0 949.4,497.0 951.3,496.9 953.3,496.9 955.2,496.9 957.1,496.9 959.0,496.9 960.9,496.8 962.8,496.8 964.7,496.8 966.7,496.8 968.6,496.8 970.5,496.8 972.4,496.7 974.3,496.7 976.2,496.7 978.1,496.7 980.1,496.7 982.0,496.7 983.9,496.7 985.8,496.7 987.7,496.7 989.6,496.6 991.6,496.6 993.5,496.6 995.4,496.6 997.3,496.6 999.2,496.6 1001.1,496.6 1003.0,496.6 1005.0,496.6 1006.9,496.6 1008.8,496.6 1010.7,496.6 1012.6,496.6 1014.5,496.6 1016.5,496.6 1018.4,496.5 1020.3,496.5 1022.2,496.5 1024.1,496.5 1026.0,496.5 1027.9,496.5 1029.9,496.5 1031.8,496.5 1033.7,496.5 1035.6,496.5 1037.5,496.5 1039.4,496.5 1041.3,496.5 1043.3,496.5 1045.2,496.5 1047.1,496.5 1049.0,496.5 1050.9,496.5 1052.8,496.5 1054.7,496.5 1056.6,496.5 1058.6,496.5 1060.5,496.5 1062.4,496.5 1064.3,496.4 1066.2,496.4 1068.1,496.4 1070.0,496.4 1071.9,496.4 1073.9,496.4 1075.8,496.4 1077.7,496.4 1079.6,496.4 1081.5,496.4 1083.4,496.4 1085.3,496.4 1087.2,496.4 1089.2,496.4 1091.1,496.4 1093.0,496.4 1094.9,496.4 1096.8,496.4 1098.7,496.4 1100.6,496.4 1102.5,496.4 1104.5,496.4 1106.4,496.4 1108.3,496.4 1110.2,496.4 1112.1,496.4 1114.0,496.4 1115.9,496.4 1117.8,496.4 1119.8,496.4 1121.7,496.4 1123.6,496.3 1125.5,496.3 1127.4,496.3 1129.3,496.3 1131.2,496.3 1133.1,496.3 1135.1,496.3 1137.0,496.3 1138.9,496.3 1140.8,496.3 1142.7,496.3 1144.6,496.3 1146.5,496.3 1148.4,496.3 1150.4,496.3 1152.3,496.3 1154.2,496.3 1156.1,496.3 1158.0,496.3 1159.9,496.3 1161.8,496.3 1163.7,496.3 1165.7,496.3 1167.6,496.3 1169.5,496.3 1171.4,496.3 1173.3,496.3" fill="none" stroke="#ff7f0e" stroke-width="3" stroke-linejoin="round" stroke-linecap="butt" clip-path="url(#cl1)"/>
<rect x="170.5" y="365.08" width="1051.6" height="190.82" fill="none" stroke="#000" stroke-width="1.6"/>
<line x1="215.2" y1="555.9" x2="215.2" y2="562.9" stroke="#000" stroke-width="1.6"/>
<text x="214.15" y="585.15" font-size="20" font-family="'DejaVu Sans', sans-serif" fill="#000" text-anchor="middle" textLength="25.47" lengthAdjust="spacingAndGlyphs">25</text>
<line x1="351.5" y1="555.9" x2="351.5" y2="562.9" stroke="#000" stroke-width="1.6"/>
<text x="351.50" y="585.15" font-size="20" font-family="'DejaVu Sans', sans-serif" fill="#000" text-anchor="middle" textLength="24.43" lengthAdjust="spacingAndGlyphs">30</text>
<line x1="489.8" y1="555.9" x2="489.8" y2="562.9" stroke="#000" stroke-width="1.6"/>
<text x="487.80" y="585.15" font-size="20" font-family="'DejaVu Sans', sans-serif" fill="#000" text-anchor="middle" textLength="24.45" lengthAdjust="spacingAndGlyphs">35</text>
<line x1="626.5" y1="555.9" x2="626.5" y2="562.9" stroke="#000" stroke-width="1.6"/>
<text x="626.25" y="585.15" font-size="20" font-family="'DejaVu Sans', sans-serif" fill="#000" text-anchor="middle" textLength="22.78" lengthAdjust="spacingAndGlyphs">40</text>
<line x1="763.4" y1="555.9" x2="763.4" y2="562.9" stroke="#000" stroke-width="1.6"/>
<text x="762.65" y="585.15" font-size="20" font-family="'DejaVu Sans', sans-serif" fill="#000" text-anchor="middle" textLength="23.76" lengthAdjust="spacingAndGlyphs">45</text>
<line x1="899.9" y1="555.9" x2="899.9" y2="562.9" stroke="#000" stroke-width="1.6"/>
<text x="897.90" y="585.15" font-size="20" font-family="'DejaVu Sans', sans-serif" fill="#000" text-anchor="middle" textLength="24.38" lengthAdjust="spacingAndGlyphs">50</text>
<line x1="1036.7" y1="555.9" x2="1036.7" y2="562.9" stroke="#000" stroke-width="1.6"/>
<text x="1036.20" y="585.15" font-size="20" font-family="'DejaVu Sans', sans-serif" fill="#000" text-anchor="middle" textLength="23.16" lengthAdjust="spacingAndGlyphs">55</text>
<line x1="1173.3" y1="555.9" x2="1173.3" y2="562.9" stroke="#000" stroke-width="1.6"/>
<text x="1174.05" y="585.15" font-size="20" font-family="'DejaVu Sans', sans-serif" fill="#000" text-anchor="middle" textLength="26.03" lengthAdjust="spacingAndGlyphs">60</text>
<line x1="163.5" y1="482.6" x2="170.5" y2="482.6" stroke="#000" stroke-width="1.6"/>
<text x="154.20" y="489.25" font-size="20" font-family="'DejaVu Sans', sans-serif" fill="#000" text-anchor="end" textLength="49.88" lengthAdjust="spacingAndGlyphs">3000</text>
<line x1="163.5" y1="406.5" x2="170.5" y2="406.5" stroke="#000" stroke-width="1.6"/>
<text x="155.20" y="412.65" font-size="20" font-family="'DejaVu Sans', sans-serif" fill="#000" text-anchor="end" textLength="47.80" lengthAdjust="spacingAndGlyphs">4000</text>
<text x="91.30" y="461.24" font-size="20" font-family="'DejaVu Sans', sans-serif" fill="#000" text-anchor="middle" textLength="113.60" lengthAdjust="spacingAndGlyphs" transform="rotate(-90 91.30 461.24)">X Field (nT)</text>
<line x1="215.2" y1="595" x2="215.2" y2="784" stroke="#b0b0b0" stroke-width="1.6"/>
<line x1="351.5" y1="595" x2="351.5" y2="784" stroke="#b0b0b0" stroke-width="1.6"/>
<line x1="489.8" y1="595" x2="489.8" y2="784" stroke="#b0b0b0" stroke-width="1.6"/>
<line x1="626.5" y1="595" x2="626.5" y2="784" stroke="#b0b0b0" stroke-width="1.6"/>
<line x1="763.4" y1="595" x2="763.4" y2="784" stroke="#b0b0b0" stroke-width="1.6"/>
<line x1="899.9" y1="595" x2="899.9" y2="784" stroke="#b0b0b0" stroke-width="1.6"/>
<line x1="1036.7" y1="595" x2="1036.7" y2="784" stroke="#b0b0b0" stroke-width="1.6"/>
<line x1="1173.3" y1="595" x2="1173.3" y2="784" stroke="#b0b0b0" stroke-width="1.6"/>
<line x1="170.5" y1="782.7" x2="1222.1" y2="782.7" stroke="#b0b0b0" stroke-width="1.6"/>
<line x1="170.5" y1="734.9" x2="1222.1" y2="734.9" stroke="#b0b0b0" stroke-width="1.6"/>
<line x1="170.5" y1="687.1" x2="1222.1" y2="687.1" stroke="#b0b0b0" stroke-width="1.6"/>
<line x1="170.5" y1="639.3" x2="1222.1" y2="639.3" stroke="#b0b0b0" stroke-width="1.6"/>
<polyline points="215.2,632.9 217.1,640.7 219.0,651.0 220.9,660.7 222.8,669.0 224.7,668.8 226.6,672.7 228.5,659.1 230.4,666.6 232.3,670.4 234.2,681.2 236.1,672.3 238.1,678.4 240.0,672.6 241.9,655.5 243.8,655.8 245.7,654.3 247.6,655.3 249.5,659.4 251.4,663.4 253.3,667.3 255.2,656.4 257.1,673.4 259.1,652.2 261.0,658.2 262.9,670.2 264.8,672.5 266.7,675.7 268.6,667.3 270.5,673.9 272.4,654.7 274.3,669.0 276.2,693.1 278.1,685.6 280.1,697.4 282.0,679.3 283.9,658.1 285.8,653.5 287.7,675.0 289.6,677.8 291.5,648.9 293.4,653.2 295.3,658.9 297.2,648.9 299.1,627.8 301.1,632.1 303.0,647.7 304.9,652.2 306.8,651.1 308.7,665.2 310.6,676.8 312.5,668.9 314.4,677.1 316.3,670.3 318.2,665.4 320.1,636.5 322.0,661.4 324.0,663.9 325.9,665.6 327.8,659.2 329.7,649.0 331.6,662.7 333.5,672.8 335.4,687.1 337.3,685.0 339.2,666.7 341.1,664.3 343.0,675.8 345.0,673.3 346.9,667.4 348.8,659.1 350.7,668.4 352.6,668.5 354.5,687.2 356.5,687.6 358.4,654.9 360.4,685.4 362.3,677.2 364.2,666.8 366.2,669.2 368.1,675.4 370.0,669.4 372.0,666.0 373.9,665.3 375.8,686.4 377.8,675.3 379.7,678.7 381.6,676.6 383.6,666.4 385.5,656.9 387.5,649.6 389.4,662.8 391.3,651.9 393.3,644.0 395.2,640.9 397.1,636.5 399.1,652.7 401.0,660.4 402.9,651.9 404.9,674.2 406.8,665.4 408.8,670.3 410.7,670.6 412.6,687.0 414.6,684.2 416.5,672.7 418.4,656.7 420.4,648.3 422.3,657.2 424.2,662.5 426.2,672.5 428.1,662.3 430.1,665.5 432.0,656.7 433.9,639.2 435.9,652.5 437.8,675.8 439.7,678.8 441.7,687.2 443.6,687.9 445.5,658.5 447.5,658.0 449.4,678.6 451.4,662.0 453.3,647.3 455.2,659.9 457.2,669.4 459.1,669.6 461.0,662.3 463.0,654.8 464.9,644.9 466.8,640.2 468.8,638.3 470.7,635.4 472.7,642.4 474.6,671.5 476.5,668.0 478.5,661.2 480.4,666.3 482.3,653.3 484.3,662.5 486.2,673.4 488.1,650.1 490.1,648.9 492.0,653.6 493.9,647.3 495.8,642.9 497.7,649.4 499.6,685.6 501.6,680.7 503.5,675.9 505.4,680.0 507.3,667.8 509.2,650.5 511.1,662.6 513.0,675.8 515.0,644.1 516.9,659.3 518.8,675.4 520.7,665.2 522.6,658.4 524.5,668.7 526.4,655.6 528.3,664.8 530.3,674.2 532.2,665.3 534.1,654.2 536.0,665.9 537.9,659.7 539.8,662.0 541.7,628.3 543.7,655.1 545.6,642.3 547.5,653.6 549.4,659.5 551.3,652.1 553.2,646.7 555.1,639.8 557.1,647.9 559.0,662.5 560.9,668.3 562.8,658.5 564.7,653.2 566.6,641.1 568.5,647.2 570.5,642.4 572.4,634.7 574.3,647.3 576.2,672.6 578.1,680.3 580.0,686.8 581.9,653.7 583.8,667.8 585.8,649.4 587.7,648.7 589.6,635.0 591.5,637.3 593.4,651.4 595.3,658.8 597.2,658.7 599.2,657.6 601.1,665.4 603.0,662.9 604.9,642.3 606.8,672.2 608.7,662.4 610.6,671.7 612.6,662.8 614.5,651.0 616.4,656.2 618.3,648.6 620.2,673.2 622.1,652.1 624.0,662.8 626.0,652.8 627.9,653.0 629.8,685.2 631.7,676.7 633.6,659.9 635.5,635.0 637.5,637.3 639.4,637.1 641.3,655.4 643.2,628.6 645.1,611.0 647.0,623.5 649.0,631.5 650.9,651.2 652.8,630.0 654.7,598.4 656.6,607.4 658.5,604.8 660.5,612.1 662.4,633.6 664.3,615.9 666.2,638.9 668.1,637.6 670.0,631.9 672.0,622.9 673.9,625.3 675.8,627.9 677.7,644.4 679.6,660.3 681.5,654.2 683.5,663.7 685.4,678.2 687.3,687.3 689.2,685.3 691.1,703.7 693.0,709.4 695.0,718.8 696.9,705.1 698.8,699.7 700.7,681.6 702.6,718.6 704.5,728.8 706.4,718.0 708.4,730.2 710.3,740.9 712.2,725.5 714.1,745.9 716.0,766.3 717.9,777.8 719.9,763.3 721.8,757.1 723.7,774.0 725.6,775.6 727.5,755.2 729.4,741.0 731.4,744.0 733.3,725.2 735.2,711.9 737.1,728.1 739.0,711.8 740.9,689.7 742.9,685.3 744.8,695.8 746.7,673.4 748.6,648.1 750.5,625.8 752.4,660.2 754.4,618.3 756.3,643.4 758.2,629.6 760.1,619.7 762.0,617.7 763.9,626.0 765.9,644.7 767.8,631.1 769.7,640.4 771.6,665.6 773.5,613.5 775.4,615.8 777.3,604.9 779.2,634.2 781.1,621.2 783.1,616.0 785.0,616.0 786.9,636.3 788.8,660.6 790.7,660.0 792.6,684.2 794.5,689.5 796.4,671.0 798.3,675.9 800.3,668.7 802.2,665.1 804.1,639.6 806.0,635.9 807.9,650.4 809.8,642.2 811.7,662.3 813.6,666.2 815.5,653.2 817.5,672.9 819.4,670.4 821.3,681.7 823.2,669.7 825.1,646.3 827.0,664.1 828.9,660.6 830.8,672.3 832.7,680.6 834.7,685.4 836.6,655.6 838.5,631.4 840.4,642.9 842.3,662.3 844.2,654.2 846.1,662.9 848.0,653.3 849.9,655.1 851.9,656.0 853.8,652.6 855.7,665.1 857.6,668.7 859.5,686.0 861.4,678.5 863.3,686.9 865.2,675.4 867.1,680.0 869.1,669.4 871.0,660.5 872.9,678.8 874.8,679.8 876.7,681.8 878.6,662.6 880.5,642.6 882.4,643.7 884.3,658.5 886.2,643.6 888.2,672.3 890.1,649.5 892.0,664.8 893.9,696.9 895.8,646.9 897.7,637.1 899.6,663.7 901.5,661.4 903.5,665.0 905.4,662.8 907.3,680.7 909.2,679.2 911.1,664.9 913.0,661.4 914.9,648.2 916.9,655.6 918.8,632.0 920.7,657.8 922.6,657.8 924.5,683.7 926.4,687.4 928.4,658.5 930.3,672.4 932.2,661.2 934.1,663.2 936.0,675.8 937.9,673.2 939.8,674.0 941.8,674.1 943.7,659.4 945.6,654.0 947.5,666.2 949.4,675.6 951.3,665.7 953.3,665.8 955.2,652.4 957.1,627.1 959.0,637.3 960.9,652.3 962.8,660.6 964.7,672.6 966.7,678.5 968.6,682.4 970.5,676.9 972.4,674.8 974.3,660.0 976.2,666.9 978.1,667.6 980.1,680.1 982.0,651.7 983.9,652.4 985.8,637.5 987.7,642.6 989.6,636.7 991.6,654.7 993.5,651.3 995.4,626.2 997.3,661.5 999.2,648.9 1001.1,637.1 1003.0,646.9 1005.0,647.3 1006.9,641.3 1008.8,661.8 1010.7,658.1 1012.6,672.0 1014.5,675.9 1016.5,676.9 1018.4,671.6 1020.3,665.7 1022.2,659.4 1024.1,679.2 1026.0,646.9 1027.9,642.3 1029.9,645.5 1031.8,660.1 1033.7,663.4 1035.6,657.2 1037.5,656.0 1039.4,680.9 1041.3,662.7 1043.3,628.0 1045.2,670.4 1047.1,654.8 1049.0,655.5 1050.9,661.6 1052.8,646.3 1054.7,670.5 1056.6,665.0 1058.6,646.7 1060.5,658.7 1062.4,666.8 1064.3,663.9 1066.2,669.5 1068.1,647.7 1070.0,667.8 1071.9,655.1 1073.9,675.4 1075.8,661.0 1077.7,664.0 1079.6,695.6 1081.5,678.4 1083.4,683.6 1085.3,678.3 1087.2,651.7 1089.2,672.2 1091.1,680.7 1093.0,654.0 1094.9,658.2 1096.8,642.6 1098.7,650.5 1100.6,668.8 1102.5,667.1 1104.5,650.4 1106.4,646.5 1108.3,656.2 1110.2,660.0 1112.1,663.7 1114.0,671.0 1115.9,643.6 1117.8,654.8 1119.8,673.8 1121.7,674.3 1123.6,659.9 1125.5,654.4 1127.4,661.4 1129.3,671.1 1131.2,667.0 1133.1,685.9 1135.1,689.8 1137.0,666.0 1138.9,670.8 1140.8,662.6 1142.7,648.6 1144.6,649.2 1146.5,657.2 1148.4,635.0 1150.4,642.9 1152.3,658.9 1154.2,652.9 1156.1,654.1 1158.0,670.1 1159.9,665.9 1161.8,667.0 1163.7,689.4 1165.7,677.6 1167.6,673.7 1169.5,673.8 1171.4,688.6 1173.3,679.5" fill="none" stroke="#1f77b4" stroke-width="3" stroke-linejoin="round" stroke-linecap="butt" clip-path="url(#cl2)"/>
<polyline points="215.2,660.8 217.1,660.8 219.0,660.8 220.9,660.8 222.8,660.8 224.7,660.8 226.6,660.8 228.5,660.8 230.4,660.8 232.3,660.8 234.2,660.8 236.1,660.8 238.1,660.8 240.0,660.8 241.9,660.8 243.8,660.8 245.7,660.8 247.6,660.8 249.5,660.8 251.4,660.8 253.3,660.8 255.2,660.8 257.1,660.8 259.1,660.8 261.0,660.8 262.9,660.8 264.8,660.8 266.7,660.8 268.6,660.8 270.5,660.8 272.4,660.8 274.3,660.8 276.2,660.8 278.1,660.8 280.1,660.8 282.0,660.8 283.9,660.8 285.8,660.8 287.7,660.8 289.6,660.8 291.5,660.8 293.4,660.8 295.3,660.8 297.2,660.8 299.1,660.8 301.1,660.8 303.0,660.8 304.9,660.8 306.8,660.8 308.7,660.8 310.6,660.8 312.5,660.8 314.4,660.8 316.3,660.7 318.2,660.7 320.1,660.7 322.0,660.7 324.0,660.7 325.9,660.7 327.8,660.7 329.7,660.7 331.6,660.7 333.5,660.7 335.4,660.7 337.3,660.7 339.2,660.7 341.1,660.7 343.0,660.7 345.0,660.7 346.9,660.7 348.8,660.7 350.7,660.7 352.6,660.7 354.5,660.7 356.5,660.7 358.4,660.7 360.4,660.7 362.3,660.7 364.2,660.7 366.2,660.7 368.1,660.7 370.0,660.7 372.0,660.7 373.9,660.7 375.8,660.7 377.8,660.7 379.7,660.7 381.6,660.7 383.6,660.7 385.5,660.7 387.5,660.7 389.4,660.6 391.3,660.6 393.3,660.6 395.2,660.6 397.1,660.6 399.1,660.6 401.0,660.6 402.9,660.6 404.9,660.6 406.8,660.6 408.8,660.6 410.7,660.6 412.6,660.6 414.6,660.6 416.5,660.6 418.4,660.6 420.4,660.6 422.3,660.6 424.2,660.6 426.2,660.6 428.1,660.6 430.1,660.6 432.0,660.6 433.9,660.5 435.9,660.5 437.8,660.5 439.7,660.5 441.7,660.5 443.6,660.5 445.5,660.5 447.5,660.5 449.4,660.5 451.4,660.5 453.3,660.5 455.2,660.5 457.2,660.5 459.1,660.5 461.0,660.5 463.0,660.5 464.9,660.5 466.8,660.5 468.8,660.5 470.7,660.5 472.7,660.5 474.6,660.5 476.5,660.5 478.5,660.5 480.4,660.5 482.3,660.5 484.3,660.5 486.2,660.5 488.1,660.5 490.1,660.5 492.0,660.5 493.9,660.5 495.8,660.5 497.7,660.5 499.6,660.5 501.6,660.5 503.5,660.5 505.4,660.5 507.3,660.5 509.2,660.5 511.1,660.5 513.0,660.5 515.0,660.5 516.9,660.5 518.8,660.5 520.7,660.5 522.6,660.5 524.5,660.5 526.4,660.5 528.3,660.5 530.3,660.5 532.2,660.5 534.1,660.5 536.0,660.5 537.9,660.5 539.8,660.5 541.7,660.5 543.7,660.5 545.6,660.5 547.5,660.5 549.4,660.4 551.3,660.4 553.2,660.4 555.1,660.4 557.1,660.4 559.0,660.4 560.9,660.4 562.8,660.4 564.7,660.3 566.6,660.3 568.5,660.2 570.5,660.2 572.4,660.1 574.3,660.0 576.2,659.9 578.1,659.8 580.0,659.7 581.9,659.5 583.8,659.4 585.8,659.3 587.7,659.1 589.6,659.0 591.5,658.8 593.4,658.6 595.3,658.5 597.2,658.3 599.2,658.1 601.1,657.9 603.0,657.7 604.9,657.5 606.8,657.3 608.7,657.1 610.6,656.9 612.6,656.7 614.5,656.5 616.4,656.3 618.3,656.1 620.2,655.9 622.1,655.7 624.0,655.5 626.0,655.3 627.9,655.1 629.8,654.8 631.7,654.6 633.6,654.3 635.5,653.9 637.5,653.6 639.4,653.2 641.3,652.9 643.2,652.5 645.1,652.2 647.0,651.9 649.0,651.6 650.9,651.3 652.8,651.1 654.7,650.9 656.6,650.8 658.5,650.8 660.5,650.9 662.4,651.2 664.3,651.6 666.2,652.2 668.1,653.0 670.0,654.0 672.0,655.1 673.9,656.4 675.8,658.1 677.7,660.7 679.6,664.1 681.5,668.3 683.5,673.0 685.4,678.2 687.3,683.7 689.2,689.9 691.1,696.8 693.0,704.3 695.0,712.1 696.9,719.9 698.8,727.8 700.7,735.8 702.6,743.7 704.5,751.2 706.4,758.2 708.4,764.5 710.3,769.7 712.2,772.6 714.1,772.5 716.0,770.0 717.9,765.8 719.9,760.2 721.8,753.3 723.7,745.3 725.6,736.6 727.5,727.7 729.4,718.8 731.4,709.9 733.3,701.3 735.2,693.6 737.1,687.0 739.0,681.2 740.9,676.1 742.9,671.6 744.8,667.8 746.7,664.6 748.6,662.0 750.5,659.7 752.4,657.8 754.4,656.2 756.3,655.0 758.2,654.1 760.1,653.5 762.0,653.0 763.9,652.6 765.9,652.3 767.8,652.1 769.7,652.0 771.6,652.0 773.5,652.1 775.4,652.2 777.3,652.4 779.2,652.6 781.1,652.9 783.1,653.1 785.0,653.4 786.9,653.8 788.8,654.1 790.7,654.4 792.6,654.8 794.5,655.1 796.4,655.5 798.3,655.8 800.3,656.1 802.2,656.3 804.1,656.6 806.0,656.8 807.9,657.0 809.8,657.2 811.7,657.3 813.6,657.5 815.5,657.7 817.5,657.8 819.4,658.0 821.3,658.1 823.2,658.3 825.1,658.4 827.0,658.6 828.9,658.7 830.8,658.9 832.7,659.0 834.7,659.1 836.6,659.3 838.5,659.4 840.4,659.5 842.3,659.6 844.2,659.7 846.1,659.8 848.0,659.9 849.9,660.0 851.9,660.1 853.8,660.2 855.7,660.3 857.6,660.3 859.5,660.4 861.4,660.5 863.3,660.5 865.2,660.6 867.1,660.6 869.1,660.7 871.0,660.8 872.9,660.8 874.8,660.9 876.7,660.9 878.6,661.0 880.5,661.0 882.4,661.0 884.3,661.1 886.2,661.1 888.2,661.2 890.1,661.2 892.0,661.2 893.9,661.2 895.8,661.2 897.7,661.3 899.6,661.3 901.5,661.3 903.5,661.3 905.4,661.3 907.3,661.3 909.2,661.3 911.1,661.3 913.0,661.3 914.9,661.3 916.9,661.3 918.8,661.3 920.7,661.3 922.6,661.3 924.5,661.3 926.4,661.3 928.4,661.3 930.3,661.3 932.2,661.3 934.1,661.2 936.0,661.2 937.9,661.2 939.8,661.2 941.8,661.2 943.7,661.2 945.6,661.2 947.5,661.2 949.4,661.2 951.3,661.2 953.3,661.2 955.2,661.2 957.1,661.2 959.0,661.2 960.9,661.2 962.8,661.2 964.7,661.2 966.7,661.2 968.6,661.2 970.5,661.2 972.4,661.2 974.3,661.2 976.2,661.2 978.1,661.2 980.1,661.2 982.0,661.2 983.9,661.2 985.8,661.2 987.7,661.2 989.6,661.2 991.6,661.2 993.5,661.2 995.4,661.2 997.3,661.2 999.2,661.2 1001.1,661.2 1003.0,661.2 1005.0,661.2 1006.9,661.2 1008.8,661.2 1010.7,661.2 1012.6,661.2 1014.5,661.2 1016.5,661.2 1018.4,661.2 1020.3,661.2 1022.2,661.2 1024.1,661.2 1026.0,661.2 1027.9,661.2 1029.9,661.2 1031.8,661.2 1033.7,661.2 1035.6,661.2 1037.5,661.2 1039.4,661.2 1041.3,661.2 1043.3,661.2 1045.2,661.2 1047.1,661.2 1049.0,661.2 1050.9,661.2 1052.8,661.2 1054.7,661.2 1056.6,661.2 1058.6,661.2 1060.5,661.2 1062.4,661.2 1064.3,661.2 1066.2,661.2 1068.1,661.2 1070.0,661.2 1071.9,661.2 1073.9,661.2 1075.8,661.2 1077.7,661.2 1079.6,661.2 1081.5,661.2 1083.4,661.2 1085.3,661.2 1087.2,661.2 1089.2,661.2 1091.1,661.2 1093.0,661.2 1094.9,661.2 1096.8,661.2 1098.7,661.2 1100.6,661.2 1102.5,661.2 1104.5,661.2 1106.4,661.2 1108.3,661.2 1110.2,661.2 1112.1,661.2 1114.0,661.2 1115.9,661.2 1117.8,661.2 1119.8,661.2 1121.7,661.2 1123.6,661.2 1125.5,661.2 1127.4,661.2 1129.3,661.2 1131.2,661.2 1133.1,661.2 1135.1,661.2 1137.0,661.2 1138.9,661.2 1140.8,661.3 1142.7,661.3 1144.6,661.3 1146.5,661.3 1148.4,661.3 1150.4,661.3 1152.3,661.3 1154.2,661.3 1156.1,661.3 1158.0,661.3 1159.9,661.3 1161.8,661.3 1163.7,661.3 1165.7,661.3 1167.6,661.3 1169.5,661.3 1171.4,661.3 1173.3,661.3" fill="none" stroke="#ff7f0e" stroke-width="3" stroke-linejoin="round" stroke-linecap="butt" clip-path="url(#cl2)"/>
<rect x="170.5" y="594.95" width="1051.6" height="189.05" fill="none" stroke="#000" stroke-width="1.6"/>
<line x1="215.2" y1="784" x2="215.2" y2="791" stroke="#000" stroke-width="1.6"/>
<text x="214.15" y="813.25" font-size="20" font-family="'DejaVu Sans', sans-serif" fill="#000" text-anchor="middle" textLength="25.47" lengthAdjust="spacingAndGlyphs">25</text>
<line x1="351.5" y1="784" x2="351.5" y2="791" stroke="#000" stroke-width="1.6"/>
<text x="351.50" y="813.25" font-size="20" font-family="'DejaVu Sans', sans-serif" fill="#000" text-anchor="middle" textLength="24.43" lengthAdjust="spacingAndGlyphs">30</text>
<line x1="489.8" y1="784" x2="489.8" y2="791" stroke="#000" stroke-width="1.6"/>
<text x="487.80" y="813.25" font-size="20" font-family="'DejaVu Sans', sans-serif" fill="#000" text-anchor="middle" textLength="24.45" lengthAdjust="spacingAndGlyphs">35</text>
<line x1="626.5" y1="784" x2="626.5" y2="791" stroke="#000" stroke-width="1.6"/>
<text x="626.25" y="813.25" font-size="20" font-family="'DejaVu Sans', sans-serif" fill="#000" text-anchor="middle" textLength="22.78" lengthAdjust="spacingAndGlyphs">40</text>
<line x1="763.4" y1="784" x2="763.4" y2="791" stroke="#000" stroke-width="1.6"/>
<text x="762.65" y="813.25" font-size="20" font-family="'DejaVu Sans', sans-serif" fill="#000" text-anchor="middle" textLength="23.76" lengthAdjust="spacingAndGlyphs">45</text>
<line x1="899.9" y1="784" x2="899.9" y2="791" stroke="#000" stroke-width="1.6"/>
<text x="897.90" y="813.25" font-size="20" font-family="'DejaVu Sans', sans-serif" fill="#000" text-anchor="middle" textLength="24.38" lengthAdjust="spacingAndGlyphs">50</text>
<line x1="1036.7" y1="784" x2="1036.7" y2="791" stroke="#000" stroke-width="1.6"/>
<text x="1036.20" y="813.25" font-size="20" font-family="'DejaVu Sans', sans-serif" fill="#000" text-anchor="middle" textLength="23.16" lengthAdjust="spacingAndGlyphs">55</text>
<line x1="1173.3" y1="784" x2="1173.3" y2="791" stroke="#000" stroke-width="1.6"/>
<text x="1174.05" y="813.25" font-size="20" font-family="'DejaVu Sans', sans-serif" fill="#000" text-anchor="middle" textLength="26.03" lengthAdjust="spacingAndGlyphs">60</text>
<line x1="163.5" y1="782.7" x2="170.5" y2="782.7" stroke="#000" stroke-width="1.6"/>
<text x="154.95" y="790.60" font-size="20" font-family="'DejaVu Sans', sans-serif" fill="#000" text-anchor="end" textLength="77.80" lengthAdjust="spacingAndGlyphs">−24000</text>
<line x1="163.5" y1="734.9" x2="170.5" y2="734.9" stroke="#000" stroke-width="1.6"/>
<text x="154.95" y="742.05" font-size="20" font-family="'DejaVu Sans', sans-serif" fill="#000" text-anchor="end" textLength="77.80" lengthAdjust="spacingAndGlyphs">−23500</text>
<line x1="163.5" y1="687.1" x2="170.5" y2="687.1" stroke="#000" stroke-width="1.6"/>
<text x="154.95" y="694.75" font-size="20" font-family="'DejaVu Sans', sans-serif" fill="#000" text-anchor="end" textLength="77.80" lengthAdjust="spacingAndGlyphs">−23000</text>
<line x1="163.5" y1="639.3" x2="170.5" y2="639.3" stroke="#000" stroke-width="1.6"/>
<text x="154.95" y="645.95" font-size="20" font-family="'DejaVu Sans', sans-serif" fill="#000" text-anchor="end" textLength="77.80" lengthAdjust="spacingAndGlyphs">−22500</text>
<text x="63.30" y="690.23" font-size="20" font-family="'DejaVu Sans', sans-serif" fill="#000" text-anchor="middle" textLength="110.08" lengthAdjust="spacingAndGlyphs" transform="rotate(-90 63.30 690.23)">Y Field (nT)</text>
<line x1="215.2" y1="823" x2="215.2" y2="1013.7" stroke="#b0b0b0" stroke-width="1.6"/>
<line x1="351.5" y1="823" x2="351.5" y2="1013.7" stroke="#b0b0b0" stroke-width="1.6"/>
<line x1="489.8" y1="823" x2="489.8" y2="1013.7" stroke="#b0b0b0" stroke-width="1.6"/>
<line x1="626.5" y1="823" x2="626.5" y2="1013.7" stroke="#b0b0b0" stroke-width="1.6"/>
<line x1="763.4" y1="823" x2="763.4" y2="1013.7" stroke="#b0b0b0" stroke-width="1.6"/>
<line x1="899.9" y1="823" x2="899.9" y2="1013.7" stroke="#b0b0b0" stroke-width="1.6"/>
<line x1="1036.7" y1="823" x2="1036.7" y2="1013.7" stroke="#b0b0b0" stroke-width="1.6"/>
<line x1="1173.3" y1="823" x2="1173.3" y2="1013.7" stroke="#b0b0b0" stroke-width="1.6"/>
<line x1="170.5" y1="982.1" x2="1222.1" y2="982.1" stroke="#b0b0b0" stroke-width="1.6"/>
<line x1="170.5" y1="901.7" x2="1222.1" y2="901.7" stroke="#b0b0b0" stroke-width="1.6"/>
<polyline points="215.2,909.9 217.1,910.9 219.0,910.8 220.9,913.1 222.8,913.6 224.7,913.2 226.6,914.0 228.5,913.7 230.4,914.5 232.3,910.5 234.2,910.0 236.1,911.2 238.1,912.4 240.0,908.8 241.9,909.9 243.8,910.4 245.7,909.3 247.6,908.1 249.5,905.1 251.4,905.6 253.3,901.8 255.2,904.8 257.1,903.3 259.1,905.4 261.0,901.7 262.9,903.9 264.8,904.6 266.7,903.4 268.6,902.6 270.5,906.5 272.4,907.1 274.3,909.3 276.2,907.9 278.1,908.0 280.1,908.7 282.0,909.7 283.9,909.7 285.8,910.4 287.7,908.6 289.6,906.3 291.5,911.0 293.4,909.9 295.3,909.9 297.2,908.3 299.1,910.0 301.1,909.3 303.0,910.4 304.9,907.9 306.8,907.9 308.7,908.2 310.6,907.3 312.5,907.9 314.4,910.3 316.3,907.5 318.2,906.8 320.1,907.2 322.0,905.2 324.0,903.9 325.9,907.0 327.8,907.6 329.7,903.7 331.6,902.2 333.5,905.0 335.4,906.7 337.3,906.3 339.2,905.7 341.1,907.2 343.0,905.0 345.0,906.2 346.9,906.5 348.8,903.1 350.7,904.3 352.6,903.8 354.5,902.5 356.5,901.7 358.4,903.2 360.4,903.3 362.3,904.7 364.2,901.1 366.2,901.4 368.1,904.5 370.0,903.9 372.0,902.5 373.9,902.3 375.8,900.1 377.8,899.9 379.7,903.0 381.6,903.4 383.6,905.5 385.5,903.6 387.5,902.7 389.4,897.8 391.3,899.9 393.3,904.3 395.2,903.7 397.1,902.4 399.1,904.7 401.0,905.8 402.9,906.3 404.9,906.3 406.8,908.2 408.8,911.0 410.7,910.3 412.6,912.8 414.6,914.1 416.5,916.3 418.4,916.3 420.4,914.0 422.3,916.9 424.2,915.5 426.2,913.7 428.1,914.9 430.1,914.4 432.0,916.4 433.9,913.3 435.9,912.4 437.8,913.5 439.7,917.3 441.7,917.7 443.6,914.6 445.5,912.2 447.5,913.7 449.4,912.8 451.4,915.6 453.3,916.1 455.2,916.2 457.2,915.7 459.1,918.9 461.0,916.2 463.0,914.7 464.9,918.4 466.8,920.3 468.8,918.5 470.7,919.6 472.7,923.0 474.6,919.3 476.5,919.0 478.5,920.1 480.4,916.4 482.3,918.2 484.3,920.5 486.2,920.1 488.1,921.9 490.1,922.1 492.0,920.3 493.9,921.0 495.8,921.0 497.7,917.3 499.6,916.9 501.6,916.6 503.5,916.6 505.4,916.5 507.3,914.5 509.2,916.0 511.1,913.2 513.0,916.6 515.0,916.6 516.9,918.3 518.8,917.1 520.7,915.1 522.6,912.6 524.5,915.0 526.4,914.7 528.3,915.1 530.3,915.7 532.2,916.6 534.1,914.8 536.0,916.9 537.9,914.5 539.8,913.6 541.7,914.3 543.7,915.0 545.6,915.7 547.5,910.5 549.4,913.6 551.3,909.9 553.2,909.9 555.1,911.3 557.1,913.0 559.0,909.9 560.9,907.3 562.8,910.5 564.7,910.5 566.6,908.1 568.5,908.1 570.5,905.2 572.4,908.1 574.3,907.2 576.2,909.7 578.1,904.9 580.0,907.6 581.9,910.9 583.8,908.7 585.8,907.7 587.7,903.7 589.6,905.8 591.5,905.9 593.4,904.8 595.3,902.6 597.2,904.3 599.2,903.1 601.1,903.3 603.0,904.5 604.9,904.3 606.8,904.1 608.7,905.4 610.6,902.2 612.6,905.0 614.5,901.7 616.4,900.5 618.3,901.5 620.2,902.8 622.1,902.1 624.0,900.4 626.0,898.9 627.9,898.7 629.8,897.1 631.7,898.5 633.6,897.3 635.5,899.2 637.5,895.5 639.4,894.3 641.3,894.1 643.2,890.6 645.1,889.2 647.0,893.6 649.0,889.6 650.9,889.3 652.8,883.6 654.7,877.5 656.6,878.4 658.5,876.1 660.5,874.1 662.4,870.6 664.3,867.1 666.2,863.1 668.1,863.7 670.0,858.2 672.0,858.6 673.9,855.2 675.8,850.8 677.7,848.0 679.6,847.8 681.5,845.1 683.5,841.2 685.4,836.9 687.3,832.1 689.2,834.5 691.1,834.5 693.0,837.3 695.0,842.7 696.9,850.5 698.8,859.5 700.7,873.8 702.6,888.3 704.5,903.7 706.4,916.8 708.4,936.8 710.3,947.8 712.2,962.3 714.1,975.1 716.0,987.0 717.9,996.7 719.9,999.8 721.8,1002.2 723.7,1001.6 725.6,1004.7 727.5,1001.1 729.4,1001.2 731.4,1001.8 733.3,1002.4 735.2,1001.7 737.1,1000.4 739.0,996.6 740.9,991.6 742.9,987.3 744.8,985.3 746.7,980.6 748.6,977.7 750.5,972.8 752.4,965.8 754.4,962.6 756.3,960.3 758.2,958.7 760.1,955.1 762.0,951.9 763.9,944.8 765.9,943.2 767.8,940.1 769.7,939.2 771.6,936.8 773.5,932.9 775.4,933.8 777.3,932.5 779.2,931.4 781.1,926.2 783.1,925.0 785.0,922.7 786.9,921.1 788.8,920.3 790.7,916.8 792.6,911.9 794.5,915.7 796.4,913.9 798.3,914.2 800.3,916.5 802.2,915.9 804.1,915.6 806.0,916.1 807.9,912.0 809.8,916.6 811.7,914.6 813.6,913.9 815.5,915.0 817.5,914.3 819.4,912.7 821.3,913.3 823.2,913.0 825.1,912.4 827.0,916.7 828.9,912.5 830.8,909.5 832.7,910.4 834.7,910.7 836.6,914.8 838.5,914.2 840.4,915.1 842.3,915.1 844.2,912.5 846.1,914.4 848.0,914.0 849.9,916.7 851.9,914.9 853.8,913.7 855.7,914.6 857.6,914.9 859.5,910.7 861.4,914.1 863.3,915.2 865.2,915.2 867.1,911.9 869.1,909.1 871.0,910.8 872.9,913.3 874.8,913.7 876.7,911.4 878.6,913.8 880.5,910.8 882.4,909.6 884.3,911.4 886.2,911.1 888.2,910.8 890.1,909.4 892.0,913.1 893.9,910.8 895.8,912.5 897.7,913.8 899.6,912.9 901.5,913.0 903.5,914.3 905.4,915.9 907.3,915.4 909.2,911.2 911.1,908.7 913.0,909.8 914.9,909.4 916.9,912.0 918.8,912.3 920.7,911.8 922.6,913.9 924.5,914.5 926.4,912.9 928.4,913.0 930.3,914.2 932.2,912.3 934.1,912.6 936.0,910.6 937.9,911.5 939.8,912.3 941.8,911.9 943.7,912.2 945.6,913.2 947.5,913.1 949.4,911.1 951.3,910.5 953.3,909.2 955.2,913.6 957.1,913.2 959.0,913.1 960.9,912.0 962.8,912.6 964.7,913.0 966.7,911.0 968.6,911.2 970.5,913.5 972.4,910.2 974.3,909.5 976.2,911.8 978.1,910.4 980.1,912.4 982.0,910.2 983.9,911.5 985.8,913.0 987.7,912.9 989.6,913.5 991.6,912.1 993.5,911.6 995.4,911.7 997.3,912.7 999.2,918.2 1001.1,914.2 1003.0,916.0 1005.0,913.1 1006.9,910.5 1008.8,910.9 1010.7,912.2 1012.6,912.3 1014.5,912.3 1016.5,913.0 1018.4,913.4 1020.3,914.1 1022.2,910.9 1024.1,911.6 1026.0,910.3 1027.9,911.8 1029.9,911.9 1031.8,912.3 1033.7,911.5 1035.6,910.5 1037.5,911.1 1039.4,912.9 1041.3,913.8 1043.3,910.1 1045.2,911.9 1047.1,912.6 1049.0,910.0 1050.9,909.6 1052.8,910.4 1054.7,912.2 1056.6,908.4 1058.6,910.1 1060.5,910.6 1062.4,911.9 1064.3,914.5 1066.2,915.4 1068.1,912.9 1070.0,911.9 1071.9,912.6 1073.9,914.4 1075.8,915.5 1077.7,914.2 1079.6,915.5 1081.5,912.1 1083.4,910.3 1085.3,906.8 1087.2,908.7 1089.2,911.8 1091.1,913.5 1093.0,918.5 1094.9,915.7 1096.8,913.9 1098.7,911.3 1100.6,910.9 1102.5,910.7 1104.5,911.3 1106.4,910.7 1108.3,909.2 1110.2,912.7 1112.1,913.1 1114.0,914.8 1115.9,910.5 1117.8,909.3 1119.8,909.7 1121.7,913.1 1123.6,912.2 1125.5,912.5 1127.4,912.1 1129.3,912.3 1131.2,911.2 1133.1,912.3 1135.1,910.7 1137.0,911.0 1138.9,912.0 1140.8,912.1 1142.7,912.7 1144.6,910.8 1146.5,911.8 1148.4,911.3 1150.4,912.2 1152.3,914.3 1154.2,911.2 1156.1,913.2 1158.0,911.1 1159.9,910.7 1161.8,913.9 1163.7,914.0 1165.7,913.3 1167.6,913.6 1169.5,914.2 1171.4,911.3 1173.3,911.7" fill="none" stroke="#1f77b4" stroke-width="3" stroke-linejoin="round" stroke-linecap="butt" clip-path="url(#cl3)"/>
<polyline points="215.2,911.7 217.1,911.7 219.0,911.7 220.9,911.7 222.8,911.7 224.7,911.7 226.6,911.7 228.5,911.7 230.4,911.7 232.3,911.7 234.2,911.7 236.1,911.7 238.1,911.7 240.0,911.7 241.9,911.7 243.8,911.7 245.7,911.7 247.6,911.7 249.5,911.7 251.4,911.7 253.3,911.7 255.2,911.7 257.1,911.7 259.1,911.7 261.0,911.7 262.9,911.7 264.8,911.7 266.7,911.7 268.6,911.7 270.5,911.7 272.4,911.7 274.3,911.7 276.2,911.7 278.1,911.7 280.1,911.7 282.0,911.7 283.9,911.7 285.8,911.7 287.7,911.7 289.6,911.7 291.5,911.7 293.4,911.7 295.3,911.7 297.2,911.7 299.1,911.7 301.1,911.7 303.0,911.7 304.9,911.7 306.8,911.7 308.7,911.7 310.6,911.7 312.5,911.7 314.4,911.7 316.3,911.7 318.2,911.7 320.1,911.7 322.0,911.7 324.0,911.7 325.9,911.7 327.8,911.7 329.7,911.7 331.6,911.7 333.5,911.7 335.4,911.7 337.3,911.7 339.2,911.7 341.1,911.7 343.0,911.7 345.0,911.7 346.9,911.7 348.8,911.7 350.7,911.7 352.6,911.7 354.5,911.7 356.5,911.7 358.4,911.7 360.4,911.7 362.3,911.7 364.2,911.7 366.2,911.7 368.1,911.7 370.0,911.7 372.0,911.6 373.9,911.6 375.8,911.6 377.8,911.6 379.7,911.6 381.6,911.6 383.6,911.6 385.5,911.6 387.5,911.6 389.4,911.6 391.3,911.6 393.3,911.6 395.2,911.6 397.1,911.6 399.1,911.6 401.0,911.6 402.9,911.6 404.9,911.6 406.8,911.6 408.8,911.6 410.7,911.6 412.6,911.6 414.6,911.6 416.5,911.6 418.4,911.6 420.4,911.6 422.3,911.6 424.2,911.6 426.2,911.6 428.1,911.6 430.1,911.6 432.0,911.6 433.9,911.6 435.9,911.5 437.8,911.5 439.7,911.5 441.7,911.5 443.6,911.5 445.5,911.5 447.5,911.5 449.4,911.5 451.4,911.5 453.3,911.5 455.2,911.5 457.2,911.5 459.1,911.5 461.0,911.5 463.0,911.5 464.9,911.5 466.8,911.5 468.8,911.5 470.7,911.5 472.7,911.4 474.6,911.4 476.5,911.4 478.5,911.4 480.4,911.4 482.3,911.4 484.3,911.4 486.2,911.4 488.1,911.4 490.1,911.4 492.0,911.4 493.9,911.4 495.8,911.4 497.7,911.4 499.6,911.3 501.6,911.3 503.5,911.3 505.4,911.3 507.3,911.3 509.2,911.3 511.1,911.3 513.0,911.3 515.0,911.3 516.9,911.3 518.8,911.3 520.7,911.3 522.6,911.2 524.5,911.2 526.4,911.2 528.3,911.2 530.3,911.2 532.2,911.2 534.1,911.2 536.0,911.2 537.9,911.2 539.8,911.2 541.7,911.2 543.7,911.1 545.6,911.1 547.5,911.1 549.4,911.1 551.3,911.1 553.2,911.1 555.1,911.1 557.1,911.1 559.0,911.0 560.9,911.0 562.8,911.0 564.7,911.0 566.6,910.9 568.5,910.9 570.5,910.8 572.4,910.8 574.3,910.7 576.2,910.6 578.1,910.6 580.0,910.5 581.9,910.4 583.8,910.3 585.8,910.2 587.7,910.1 589.6,910.0 591.5,909.8 593.4,909.7 595.3,909.6 597.2,909.4 599.2,909.3 601.1,909.1 603.0,908.9 604.9,908.8 606.8,908.6 608.7,908.4 610.6,908.2 612.6,908.0 614.5,907.8 616.4,907.5 618.3,907.3 620.2,907.1 622.1,906.8 624.0,906.6 626.0,906.3 627.9,906.0 629.8,905.6 631.7,905.1 633.6,904.5 635.5,903.8 637.5,903.1 639.4,902.2 641.3,901.3 643.2,900.3 645.1,899.2 647.0,898.2 649.0,897.0 650.9,895.8 652.8,894.3 654.7,892.8 656.6,891.1 658.5,889.3 660.5,887.4 662.4,885.4 664.3,883.4 666.2,881.4 668.1,879.2 670.0,876.8 672.0,874.3 673.9,871.7 675.8,869.2 677.7,866.9 679.6,864.6 681.5,862.5 683.5,860.4 685.4,858.4 687.3,856.9 689.2,856.0 691.1,856.1 693.0,857.3 695.0,859.6 696.9,862.9 698.8,867.3 700.7,873.3 702.6,880.9 704.5,890.5 706.4,901.9 708.4,914.1 710.3,926.0 712.2,937.2 714.1,947.7 716.0,957.1 717.9,965.2 719.9,972.0 721.8,977.7 723.7,982.6 725.6,986.4 727.5,988.5 729.4,988.9 731.4,987.8 733.3,985.8 735.2,983.3 737.1,980.7 739.0,977.9 740.9,974.9 742.9,971.8 744.8,968.5 746.7,965.2 748.6,962.0 750.5,958.7 752.4,955.4 754.4,952.1 756.3,948.7 758.2,945.3 760.1,942.2 762.0,939.4 763.9,936.9 765.9,934.7 767.8,932.6 769.7,930.7 771.6,928.9 773.5,927.2 775.4,925.7 777.3,924.2 779.2,922.9 781.1,921.8 783.1,920.9 785.0,920.1 786.9,919.4 788.8,918.9 790.7,918.3 792.6,917.8 794.5,917.3 796.4,916.9 798.3,916.4 800.3,916.0 802.2,915.6 804.1,915.3 806.0,914.9 807.9,914.6 809.8,914.3 811.7,914.1 813.6,913.9 815.5,913.7 817.5,913.5 819.4,913.4 821.3,913.2 823.2,913.2 825.1,913.1 827.0,913.1 828.9,913.0 830.8,913.0 832.7,912.9 834.7,912.9 836.6,912.9 838.5,912.8 840.4,912.8 842.3,912.8 844.2,912.7 846.1,912.7 848.0,912.7 849.9,912.6 851.9,912.6 853.8,912.6 855.7,912.6 857.6,912.5 859.5,912.5 861.4,912.5 863.3,912.5 865.2,912.5 867.1,912.4 869.1,912.4 871.0,912.4 872.9,912.4 874.8,912.4 876.7,912.4 878.6,912.3 880.5,912.3 882.4,912.3 884.3,912.3 886.2,912.3 888.2,912.3 890.1,912.3 892.0,912.3 893.9,912.3 895.8,912.3 897.7,912.3 899.6,912.2 901.5,912.2 903.5,912.2 905.4,912.2 907.3,912.2 909.2,912.2 911.1,912.2 913.0,912.2 914.9,912.2 916.9,912.2 918.8,912.2 920.7,912.2 922.6,912.2 924.5,912.2 926.4,912.2 928.4,912.2 930.3,912.2 932.2,912.2 934.1,912.2 936.0,912.2 937.9,912.1 939.8,912.1 941.8,912.1 943.7,912.1 945.6,912.1 947.5,912.1 949.4,912.1 951.3,912.1 953.3,912.1 955.2,912.1 957.1,912.1 959.0,912.1 960.9,912.1 962.8,912.1 964.7,912.1 966.7,912.1 968.6,912.1 970.5,912.1 972.4,912.1 974.3,912.1 976.2,912.1 978.1,912.1 980.1,912.1 982.0,912.1 983.9,912.1 985.8,912.1 987.7,912.1 989.6,912.1 991.6,912.1 993.5,912.1 995.4,912.1 997.3,912.1 999.2,912.1 1001.1,912.1 1003.0,912.1 1005.0,912.1 1006.9,912.1 1008.8,912.1 1010.7,912.1 1012.6,912.1 1014.5,912.1 1016.5,912.1 1018.4,912.1 1020.3,912.1 1022.2,912.1 1024.1,912.1 1026.0,912.1 1027.9,912.1 1029.9,912.1 1031.8,912.1 1033.7,912.1 1035.6,912.1 1037.5,912.1 1039.4,912.1 1041.3,912.1 1043.3,912.1 1045.2,912.1 1047.1,912.1 1049.0,912.1 1050.9,912.1 1052.8,912.1 1054.7,912.1 1056.6,912.1 1058.6,912.1 1060.5,912.1 1062.4,912.1 1064.3,912.1 1066.2,912.1 1068.1,912.1 1070.0,912.1 1071.9,912.1 1073.9,912.1 1075.8,912.1 1077.7,912.1 1079.6,912.1 1081.5,912.1 1083.4,912.1 1085.3,912.1 1087.2,912.1 1089.2,912.1 1091.1,912.1 1093.0,912.1 1094.9,912.1 1096.8,912.1 1098.7,912.1 1100.6,912.1 1102.5,912.1 1104.5,912.1 1106.4,912.1 1108.3,912.1 1110.2,912.1 1112.1,912.1 1114.0,912.1 1115.9,912.1 1117.8,912.1 1119.8,912.1 1121.7,912.1 1123.6,912.1 1125.5,912.1 1127.4,912.1 1129.3,912.1 1131.2,912.1 1133.1,912.1 1135.1,912.1 1137.0,912.1 1138.9,912.1 1140.8,912.1 1142.7,912.1 1144.6,912.1 1146.5,912.1 1148.4,912.1 1150.4,912.1 1152.3,912.1 1154.2,912.1 1156.1,912.1 1158.0,912.1 1159.9,912.1 1161.8,912.1 1163.7,912.1 1165.7,912.1 1167.6,912.1 1169.5,912.1 1171.4,912.1 1173.3,912.2" fill="none" stroke="#ff7f0e" stroke-width="3" stroke-linejoin="round" stroke-linecap="butt" clip-path="url(#cl3)"/>
<rect x="170.5" y="823.05" width="1051.6" height="190.65" fill="none" stroke="#000" stroke-width="1.6"/>
<line x1="215.2" y1="1013.7" x2="215.2" y2="1020.7" stroke="#000" stroke-width="1.6"/>
<text x="214.15" y="1041.45" font-size="20" font-family="'DejaVu Sans', sans-serif" fill="#000" text-anchor="middle" textLength="25.47" lengthAdjust="spacingAndGlyphs">25</text>
<line x1="351.5" y1="1013.7" x2="351.5" y2="1020.7" stroke="#000" stroke-width="1.6"/>
<text x="351.50" y="1041.45" font-size="20" font-family="'DejaVu Sans', sans-serif" fill="#000" text-anchor="middle" textLength="24.43" lengthAdjust="spacingAndGlyphs">30</text>
<line x1="489.8" y1="1013.7" x2="489.8" y2="1020.7" stroke="#000" stroke-width="1.6"/>
<text x="487.80" y="1041.45" font-size="20" font-family="'DejaVu Sans', sans-serif" fill="#000" text-anchor="middle" textLength="24.45" lengthAdjust="spacingAndGlyphs">35</text>
<line x1="626.5" y1="1013.7" x2="626.5" y2="1020.7" stroke="#000" stroke-width="1.6"/>
<text x="626.25" y="1041.45" font-size="20" font-family="'DejaVu Sans', sans-serif" fill="#000" text-anchor="middle" textLength="22.78" lengthAdjust="spacingAndGlyphs">40</text>
<line x1="763.4" y1="1013.7" x2="763.4" y2="1020.7" stroke="#000" stroke-width="1.6"/>
<text x="762.65" y="1041.45" font-size="20" font-family="'DejaVu Sans', sans-serif" fill="#000" text-anchor="middle" textLength="23.76" lengthAdjust="spacingAndGlyphs">45</text>
<line x1="899.9" y1="1013.7" x2="899.9" y2="1020.7" stroke="#000" stroke-width="1.6"/>
<text x="897.90" y="1041.45" font-size="20" font-family="'DejaVu Sans', sans-serif" fill="#000" text-anchor="middle" textLength="24.38" lengthAdjust="spacingAndGlyphs">50</text>
<line x1="1036.7" y1="1013.7" x2="1036.7" y2="1020.7" stroke="#000" stroke-width="1.6"/>
<text x="1036.20" y="1041.45" font-size="20" font-family="'DejaVu Sans', sans-serif" fill="#000" text-anchor="middle" textLength="23.16" lengthAdjust="spacingAndGlyphs">55</text>
<line x1="1173.3" y1="1013.7" x2="1173.3" y2="1020.7" stroke="#000" stroke-width="1.6"/>
<text x="1174.05" y="1041.45" font-size="20" font-family="'DejaVu Sans', sans-serif" fill="#000" text-anchor="middle" textLength="26.03" lengthAdjust="spacingAndGlyphs">60</text>
<line x1="163.5" y1="982.1" x2="170.5" y2="982.1" stroke="#000" stroke-width="1.6"/>
<text x="154.45" y="988.75" font-size="20" font-family="'DejaVu Sans', sans-serif" fill="#000" text-anchor="end" textLength="77.79" lengthAdjust="spacingAndGlyphs">−42000</text>
<line x1="163.5" y1="901.7" x2="170.5" y2="901.7" stroke="#000" stroke-width="1.6"/>
<text x="154.45" y="908.35" font-size="20" font-family="'DejaVu Sans', sans-serif" fill="#000" text-anchor="end" textLength="77.79" lengthAdjust="spacingAndGlyphs">−40000</text>
<text x="63.30" y="919.12" font-size="20" font-family="'DejaVu Sans', sans-serif" fill="#000" text-anchor="middle" textLength="111.54" lengthAdjust="spacingAndGlyphs" transform="rotate(-90 63.30 919.12)">Z Field (nT)</text>
<rect x="933.2" y="147.0" width="278.6" height="65.8" rx="4" ry="4" fill="#fff" fill-opacity="0.8" stroke="#cccccc" stroke-opacity="0.8" stroke-width="2"/>
<line x1="940.4" y1="163.2" x2="981.4" y2="163.2" stroke="#1f77b4" stroke-width="3"/>
<text x="995.45" y="171.20" font-size="20" font-family="'DejaVu Sans', sans-serif" fill="#000" textLength="203.34" lengthAdjust="spacingAndGlyphs">Observed Total Field</text>
<line x1="940.4" y1="193.2" x2="981.4" y2="193.2" stroke="#ff7f0e" stroke-width="3"/>
<text x="994.45" y="201.20" font-size="20" font-family="'DejaVu Sans', sans-serif" fill="#000" textLength="208.19" lengthAdjust="spacingAndGlyphs">Simulated Total Field</text>
<rect x="1039.6" y="375.3" width="172.5" height="65.8" rx="4" ry="4" fill="#fff" fill-opacity="0.8" stroke="#cccccc" stroke-opacity="0.8" stroke-width="2"/>
<line x1="1046.8" y1="391.5" x2="1087.8" y2="391.5" stroke="#1f77b4" stroke-width="3"/>
<text x="1104.10" y="398.50" font-size="20" font-family="'DejaVu Sans', sans-serif" fill="#000" textLength="95.21" lengthAdjust="spacingAndGlyphs">Observed</text>
<line x1="1046.8" y1="421.5" x2="1087.8" y2="421.5" stroke="#ff7f0e" stroke-width="3"/>
<text x="1102.85" y="428.00" font-size="20" font-family="'DejaVu Sans', sans-serif" fill="#000" textLength="99.54" lengthAdjust="spacingAndGlyphs">Simulated</text>
<rect x="180.4" y="708.5" width="172.6" height="65.8" rx="4" ry="4" fill="#fff" fill-opacity="0.8" stroke="#cccccc" stroke-opacity="0.8" stroke-width="2"/>
<line x1="187.6" y1="724.7" x2="228.6" y2="724.7" stroke="#1f77b4" stroke-width="3"/>
<text x="244.40" y="731.20" font-size="20" font-family="'DejaVu Sans', sans-serif" fill="#000" textLength="95.20" lengthAdjust="spacingAndGlyphs">Observed</text>
<line x1="187.6" y1="754.7" x2="228.6" y2="754.7" stroke="#ff7f0e" stroke-width="3"/>
<text x="243.65" y="762.20" font-size="20" font-family="'DejaVu Sans', sans-serif" fill="#000" textLength="100.56" lengthAdjust="spacingAndGlyphs">Simulated</text>
<rect x="1039.6" y="833.2" width="172.5" height="65.8" rx="4" ry="4" fill="#fff" fill-opacity="0.8" stroke="#cccccc" stroke-opacity="0.8" stroke-width="2"/>
<line x1="1046.8" y1="849.4" x2="1087.8" y2="849.4" stroke="#1f77b4" stroke-width="3"/>
<text x="1104.10" y="856.40" font-size="20" font-family="'DejaVu Sans', sans-serif" fill="#000" textLength="95.21" lengthAdjust="spacingAndGlyphs">Observed</text>
<line x1="1046.8" y1="879.4" x2="1087.8" y2="879.4" stroke="#ff7f0e" stroke-width="3"/>
<text x="1102.85" y="885.90" font-size="20" font-family="'DejaVu Sans', sans-serif" fill="#000" textLength="99.54" lengthAdjust="spacingAndGlyphs">Simulated</text>
<text x="696.25" y="1072.00" font-size="20" font-family="'DejaVu Sans', sans-serif" fill="#000" text-anchor="middle" textLength="129.42" lengthAdjust="spacingAndGlyphs">Distance (m)</text>
</g>
<g filter="url(#rblur)">
<line x1="1440.5" y1="137.9" x2="1440.5" y2="326.9" stroke="#d3d3d3" stroke-width="2.2"/>
<line x1="1554.7" y1="137.9" x2="1554.7" y2="326.9" stroke="#d3d3d3" stroke-width="2.2"/>
<line x1="1668.6" y1="137.9" x2="1668.6" y2="326.9" stroke="#d3d3d3" stroke-width="2.2"/>
<line x1="1780.9" y1="137.9" x2="1780.9" y2="326.9" stroke="#d3d3d3" stroke-width="2.2"/>
<line x1="1894.8" y1="137.9" x2="1894.8" y2="326.9" stroke="#d3d3d3" stroke-width="2.2"/>
<line x1="2009" y1="137.9" x2="2009" y2="326.9" stroke="#d3d3d3" stroke-width="2.2"/>
<line x1="2123.1" y1="137.9" x2="2123.1" y2="326.9" stroke="#d3d3d3" stroke-width="2.2"/>
<line x1="2235.4" y1="137.9" x2="2235.4" y2="326.9" stroke="#d3d3d3" stroke-width="2.2"/>
<line x1="2349.6" y1="137.9" x2="2349.6" y2="326.9" stroke="#d3d3d3" stroke-width="2.2"/>
<line x1="1395.1" y1="169.4" x2="2395.4" y2="169.4" stroke="#d3d3d3" stroke-width="2.2"/>
<line x1="1395.1" y1="232.8" x2="2395.4" y2="232.8" stroke="#d3d3d3" stroke-width="2.2"/>
<line x1="1395.1" y1="298.2" x2="2395.4" y2="298.2" stroke="#d3d3d3" stroke-width="2.2"/>
<rect x="1395.1" y="137.9" width="1000.3" height="189.0" fill="none" stroke="#d0d0d0" stroke-width="2.4"/>
<polyline points="1440.5,233.8 1441.1,233.8 1441.6,233.8 1442.2,233.8 1442.8,233.8 1443.4,233.8 1443.9,233.8 1444.5,233.7 1445.1,233.7 1445.6,233.7 1446.2,233.6 1446.8,233.6 1447.4,233.6 1447.9,233.5 1448.5,233.5 1449.1,233.4 1449.6,233.4 1450.2,233.3 1450.8,233.3 1451.3,233.2 1451.9,233.2 1452.5,233.2 1453.1,233.1 1453.6,233.1 1454.2,233.1 1454.8,233.1 1455.3,233.1 1455.9,233.1 1456.5,233.1 1457.1,233.1 1457.6,233.2 1458.2,233.2 1458.8,233.2 1459.3,233.3 1459.9,233.3 1460.5,233.3 1461.1,233.3 1461.6,233.3 1462.2,233.3 1462.8,233.3 1463.3,233.3 1463.9,233.3 1464.5,233.3 1465.1,233.3 1465.6,233.4 1466.2,233.4 1466.8,233.4 1467.3,233.5 1467.9,233.5 1468.5,233.6 1469.0,233.6 1469.6,233.6 1470.2,233.6 1470.8,233.6 1471.3,233.6 1471.9,233.6 1472.5,233.6 1473.0,233.6 1473.6,233.6 1474.2,233.5 1474.8,233.5 1475.3,233.5 1475.9,233.5 1476.5,233.5 1477.0,233.5 1477.6,233.5 1478.2,233.5 1478.8,233.5 1479.3,233.5 1479.9,233.4 1480.5,233.4 1481.0,233.4 1481.6,233.4 1482.2,233.3 1482.8,233.3 1483.3,233.2 1483.9,233.2 1484.5,233.1 1485.0,233.1 1485.6,233.0 1486.2,233.0 1486.8,232.9 1487.3,232.9 1487.9,232.9 1488.5,232.9 1489.0,232.9 1489.6,232.9 1490.2,232.9 1490.7,233.0 1491.3,233.0 1491.9,233.1 1492.5,233.1 1493.0,233.2 1493.6,233.3 1494.2,233.3 1494.7,233.4 1495.3,233.4 1495.9,233.5 1496.5,233.5 1497.0,233.5 1497.6,233.4 1498.2,233.4 1498.7,233.3 1499.3,233.3 1499.9,233.2 1500.5,233.1 1501.0,233.0 1501.6,232.9 1502.2,232.9 1502.7,232.8 1503.3,232.7 1503.9,232.7 1504.5,232.7 1505.0,232.7 1505.6,232.7 1506.2,232.8 1506.7,232.8 1507.3,232.8 1507.9,232.9 1508.4,232.9 1509.0,233.0 1509.6,233.0 1510.2,233.1 1510.7,233.1 1511.3,233.1 1511.9,233.2 1512.4,233.2 1513.0,233.2 1513.6,233.2 1514.2,233.3 1514.7,233.3 1515.3,233.3 1515.9,233.3 1516.4,233.3 1517.0,233.3 1517.6,233.4 1518.2,233.4 1518.7,233.4 1519.3,233.5 1519.9,233.5 1520.4,233.6 1521.0,233.6 1521.6,233.7 1522.2,233.7 1522.7,233.7 1523.3,233.8 1523.9,233.8 1524.4,233.8 1525.0,233.8 1525.6,233.8 1526.2,233.7 1526.7,233.7 1527.3,233.6 1527.9,233.6 1528.4,233.5 1529.0,233.5 1529.6,233.4 1530.1,233.3 1530.7,233.3 1531.3,233.2 1531.9,233.2 1532.4,233.2 1533.0,233.2 1533.6,233.1 1534.1,233.1 1534.7,233.1 1535.3,233.1 1535.9,233.1 1536.4,233.1 1537.0,233.0 1537.6,233.0 1538.1,233.0 1538.7,232.9 1539.3,232.9 1539.9,232.9 1540.4,232.8 1541.0,232.8 1541.6,232.8 1542.1,232.8 1542.7,232.7 1543.3,232.7 1543.9,232.7 1544.4,232.7 1545.0,232.6 1545.6,232.6 1546.1,232.6 1546.7,232.6 1547.3,232.6 1547.8,232.5 1548.4,232.5 1549.0,232.5 1549.6,232.5 1550.1,232.5 1550.7,232.5 1551.3,232.5 1551.8,232.5 1552.4,232.5 1553.0,232.6 1553.6,232.6 1554.1,232.7 1554.7,232.7 1555.3,232.8 1555.8,232.8 1556.4,232.8 1557.0,232.8 1557.5,232.9 1558.1,232.9 1558.7,232.9 1559.3,232.9 1559.8,232.9 1560.4,232.9 1561.0,232.8 1561.5,232.8 1562.1,232.8 1562.7,232.8 1563.2,232.7 1563.8,232.7 1564.4,232.7 1565.0,232.7 1565.5,232.7 1566.1,232.8 1566.7,232.8 1567.2,232.8 1567.8,232.8 1568.4,232.9 1568.9,232.9 1569.5,232.9 1570.1,232.9 1570.6,232.9 1571.2,232.9 1571.8,232.9 1572.4,232.9 1572.9,232.9 1573.5,232.9 1574.1,232.9 1574.6,232.9 1575.2,232.9 1575.8,232.9 1576.3,232.9 1576.9,233.0 1577.5,233.0 1578.0,233.0 1578.6,233.0 1579.2,233.0 1579.8,233.0 1580.3,233.0 1580.9,233.0 1581.5,233.0 1582.0,233.0 1582.6,233.0 1583.2,233.0 1583.7,233.0 1584.3,233.1 1584.9,233.1 1585.5,233.1 1586.0,233.1 1586.6,233.2 1587.2,233.2 1587.7,233.2 1588.3,233.2 1588.9,233.2 1589.4,233.2 1590.0,233.2 1590.6,233.2 1591.1,233.2 1591.7,233.2 1592.3,233.2 1592.9,233.3 1593.4,233.3 1594.0,233.4 1594.6,233.4 1595.1,233.5 1595.7,233.6 1596.3,233.6 1596.8,233.7 1597.4,233.7 1598.0,233.8 1598.6,233.8 1599.1,233.8 1599.7,233.8 1600.3,233.7 1600.8,233.7 1601.4,233.6 1602.0,233.6 1602.5,233.5 1603.1,233.5 1603.7,233.4 1604.2,233.3 1604.8,233.3 1605.4,233.2 1606.0,233.1 1606.5,233.1 1607.1,233.0 1607.7,233.0 1608.2,232.9 1608.8,232.9 1609.4,232.8 1609.9,232.8 1610.5,232.8 1611.1,232.9 1611.7,232.9 1612.2,233.0 1612.8,233.1 1613.4,233.1 1613.9,233.2 1614.5,233.3 1615.1,233.4 1615.6,233.5 1616.2,233.5 1616.8,233.6 1617.3,233.6 1617.9,233.6 1618.5,233.6 1619.1,233.6 1619.6,233.5 1620.2,233.5 1620.8,233.4 1621.3,233.4 1621.9,233.3 1622.5,233.3 1623.0,233.2 1623.6,233.2 1624.2,233.1 1624.7,233.1 1625.3,233.0 1625.9,233.0 1626.5,233.0 1627.0,233.0 1627.6,233.0 1628.2,232.9 1628.7,232.9 1629.3,232.9 1629.9,232.9 1630.4,232.9 1631.0,232.9 1631.6,232.9 1632.2,232.9 1632.7,232.9 1633.3,232.9 1633.9,232.8 1634.4,232.8 1635.0,232.8 1635.6,232.8 1636.1,232.8 1636.7,232.9 1637.3,232.9 1637.8,232.9 1638.4,233.0 1639.0,233.0 1639.6,233.0 1640.1,233.1 1640.7,233.1 1641.3,233.2 1641.8,233.2 1642.4,233.2 1643.0,233.2 1643.5,233.2 1644.1,233.3 1644.7,233.3 1645.3,233.3 1645.8,233.3 1646.4,233.3 1647.0,233.4 1647.5,233.4 1648.1,233.4 1648.7,233.5 1649.2,233.5 1649.8,233.5 1650.4,233.5 1650.9,233.6 1651.5,233.6 1652.1,233.5 1652.7,233.5 1653.2,233.5 1653.8,233.5 1654.4,233.4 1654.9,233.4 1655.5,233.4 1656.1,233.3 1656.6,233.2 1657.2,233.2 1657.8,233.1 1658.3,233.0 1658.9,233.0 1659.5,232.9 1660.1,232.8 1660.6,232.7 1661.2,232.7 1661.8,232.6 1662.3,232.6 1662.9,232.5 1663.5,232.5 1664.0,232.4 1664.6,232.4 1665.2,232.4 1665.8,232.3 1666.3,232.3 1666.9,232.3 1667.5,232.3 1668.0,232.4 1668.6,232.4 1669.2,232.4 1669.7,232.5 1670.3,232.6 1670.8,232.7 1671.4,232.8 1672.0,232.9 1672.5,233.0 1673.1,233.1 1673.7,233.3 1674.2,233.4 1674.8,233.4 1675.3,233.5 1675.9,233.6 1676.5,233.6 1677.0,233.6 1677.6,233.5 1678.1,233.5 1678.7,233.5 1679.3,233.4 1679.8,233.3 1680.4,233.3 1681.0,233.2 1681.5,233.2 1682.1,233.2 1682.6,233.1 1683.2,233.1 1683.8,233.1 1684.3,233.1 1684.9,233.1 1685.4,233.1 1686.0,233.1 1686.6,233.1 1687.1,233.1 1687.7,233.0 1688.3,233.0 1688.8,232.9 1689.4,232.9 1689.9,232.8 1690.5,232.8 1691.1,232.7 1691.6,232.6 1692.2,232.6 1692.7,232.6 1693.3,232.5 1693.9,232.5 1694.4,232.4 1695.0,232.4 1695.6,232.3 1696.1,232.3 1696.7,232.3 1697.2,232.2 1697.8,232.2 1698.4,232.2 1698.9,232.3 1699.5,232.3 1700.0,232.3 1700.6,232.4 1701.2,232.5 1701.7,232.5 1702.3,232.6 1702.9,232.7 1703.4,232.7 1704.0,232.8 1704.5,232.9 1705.1,232.9 1705.7,233.0 1706.2,233.0 1706.8,233.1 1707.3,233.1 1707.9,233.1 1708.5,233.1 1709.0,233.1 1709.6,233.2 1710.2,233.2 1710.7,233.1 1711.3,233.1 1711.8,233.1 1712.4,233.1 1713.0,233.1 1713.5,233.1 1714.1,233.1 1714.6,233.1 1715.2,233.1 1715.8,233.0 1716.3,233.0 1716.9,233.0 1717.5,232.9 1718.0,232.9 1718.6,232.8 1719.1,232.8 1719.7,232.7 1720.3,232.6 1720.8,232.6 1721.4,232.5 1721.9,232.4 1722.5,232.3 1723.1,232.3 1723.6,232.2 1724.2,232.1 1724.8,232.1 1725.3,232.1 1725.9,232.1 1726.4,232.1 1727.0,232.1 1727.6,232.1 1728.1,232.2 1728.7,232.2 1729.2,232.3 1729.8,232.3 1730.4,232.4 1730.9,232.4 1731.5,232.5 1732.0,232.5 1732.6,232.6 1733.2,232.6 1733.7,232.6 1734.3,232.6 1734.9,232.6 1735.4,232.6 1736.0,232.6 1736.5,232.5 1737.1,232.5 1737.7,232.4 1738.2,232.4 1738.8,232.3 1739.3,232.3 1739.9,232.2 1740.5,232.2 1741.0,232.2 1741.6,232.2 1742.2,232.2 1742.7,232.2 1743.3,232.2 1743.8,232.3 1744.4,232.3 1745.0,232.3 1745.5,232.4 1746.1,232.4 1746.6,232.5 1747.2,232.5 1747.8,232.5 1748.3,232.5 1748.9,232.6 1749.5,232.6 1750.0,232.6 1750.6,232.6 1751.1,232.6 1751.7,232.6 1752.3,232.5 1752.8,232.5 1753.4,232.5 1753.9,232.4 1754.5,232.4 1755.1,232.4 1755.6,232.4 1756.2,232.3 1756.8,232.3 1757.3,232.3 1757.9,232.3 1758.4,232.2 1759.0,232.2 1759.6,232.2 1760.1,232.1 1760.7,232.1 1761.2,232.1 1761.8,232.0 1762.4,232.0 1762.9,231.9 1763.5,231.9 1764.1,231.9 1764.6,231.8 1765.2,231.8 1765.7,231.8 1766.3,231.9 1766.9,231.9 1767.4,231.9 1768.0,232.0 1768.5,232.0 1769.1,232.1 1769.7,232.1 1770.2,232.2 1770.8,232.2 1771.4,232.3 1771.9,232.4 1772.5,232.4 1773.0,232.5 1773.6,232.5 1774.2,232.6 1774.7,232.6 1775.3,232.7 1775.8,232.7 1776.4,232.8 1777.0,232.8 1777.5,232.8 1778.1,232.8 1778.7,232.8 1779.2,232.8 1779.8,232.8 1780.3,232.8 1780.9,232.7 1781.5,232.7 1782.0,232.7 1782.6,232.7 1783.2,232.6 1783.7,232.6 1784.3,232.6 1784.9,232.6 1785.5,232.6 1786.0,232.6 1786.6,232.5 1787.2,232.5 1787.7,232.5 1788.3,232.4 1788.9,232.4 1789.4,232.3 1790.0,232.2 1790.6,232.2 1791.2,232.1 1791.7,232.1 1792.3,232.0 1792.9,232.0 1793.4,232.0 1794.0,232.0 1794.6,232.0 1795.1,232.1 1795.7,232.1 1796.3,232.1 1796.8,232.1 1797.4,232.1 1798.0,232.1 1798.6,232.1 1799.1,232.1 1799.7,232.1 1800.3,232.1 1800.8,232.1 1801.4,232.0 1802.0,232.0 1802.5,231.9 1803.1,231.9 1803.7,231.8 1804.2,231.8 1804.8,231.7 1805.4,231.6 1806.0,231.6 1806.5,231.6 1807.1,231.5 1807.7,231.5 1808.2,231.5 1808.8,231.5 1809.4,231.5 1809.9,231.5 1810.5,231.5 1811.1,231.6 1811.7,231.6 1812.2,231.6 1812.8,231.7 1813.4,231.7 1813.9,231.8 1814.5,231.8 1815.1,231.8 1815.6,231.8 1816.2,231.8 1816.8,231.8 1817.3,231.8 1817.9,231.8 1818.5,231.7 1819.1,231.7 1819.6,231.7 1820.2,231.7 1820.8,231.7 1821.3,231.7 1821.9,231.7 1822.5,231.7 1823.0,231.7 1823.6,231.7 1824.2,231.8 1824.8,231.8 1825.3,231.9 1825.9,231.9 1826.5,231.9 1827.0,232.0 1827.6,232.0 1828.2,232.0 1828.7,232.0 1829.3,232.0 1829.9,232.0 1830.4,232.0 1831.0,231.9 1831.6,231.9 1832.2,231.9 1832.7,231.9 1833.3,231.8 1833.9,231.8 1834.4,231.8 1835.0,231.8 1835.6,231.8 1836.1,231.8 1836.7,231.8 1837.3,231.8 1837.8,231.8 1838.4,231.9 1839.0,231.9 1839.6,231.9 1840.1,231.9 1840.7,231.9 1841.3,231.9 1841.8,231.9 1842.4,231.9 1843.0,231.8 1843.5,231.8 1844.1,231.8 1844.7,231.7 1845.3,231.6 1845.8,231.6 1846.4,231.5 1847.0,231.5 1847.5,231.4 1848.1,231.3 1848.7,231.2 1849.2,231.2 1849.8,231.1 1850.4,231.0 1850.9,231.0 1851.5,230.9 1852.1,230.8 1852.7,230.8 1853.2,230.7 1853.8,230.7 1854.4,230.6 1854.9,230.5 1855.5,230.5 1856.1,230.4 1856.6,230.4 1857.2,230.3 1857.8,230.3 1858.4,230.2 1858.9,230.2 1859.5,230.1 1860.1,230.1 1860.6,230.1 1861.2,230.1 1861.8,230.0 1862.3,230.0 1862.9,230.0 1863.5,230.0 1864.0,230.0 1864.6,230.0 1865.2,229.9 1865.8,229.9 1866.3,229.9 1866.9,229.8 1867.5,229.8 1868.0,229.7 1868.6,229.7 1869.2,229.7 1869.7,229.7 1870.3,229.6 1870.9,229.6 1871.5,229.6 1872.0,229.7 1872.6,229.7 1873.2,229.7 1873.7,229.7 1874.3,229.7 1874.9,229.7 1875.4,229.8 1876.0,229.8 1876.6,229.8 1877.1,229.7 1877.7,229.7 1878.3,229.7 1878.9,229.7 1879.4,229.6 1880.0,229.6 1880.6,229.5 1881.1,229.5 1881.7,229.5 1882.3,229.5 1882.8,229.5 1883.4,229.5 1884.0,229.5 1884.5,229.5 1885.1,229.6 1885.7,229.6 1886.3,229.6 1886.8,229.6 1887.4,229.7 1888.0,229.6 1888.5,229.6 1889.1,229.6 1889.7,229.5 1890.2,229.4 1890.8,229.3 1891.4,229.2 1892.0,229.1 1892.5,229.0 1893.1,228.9 1893.7,228.8 1894.2,228.6 1894.8,228.5 1895.4,228.4 1895.9,228.3 1896.5,228.1 1897.1,228.0 1897.7,227.9 1898.2,227.7 1898.8,227.5 1899.4,227.4 1899.9,227.2 1900.5,227.0 1901.1,226.7 1901.7,226.5 1902.2,226.3 1902.8,226.0 1903.4,225.8 1903.9,225.6 1904.5,225.4 1905.1,225.2 1905.6,225.0 1906.2,224.8 1906.8,224.6 1907.4,224.4 1907.9,224.2 1908.5,224.0 1909.1,223.8 1909.6,223.6 1910.2,223.3 1910.8,223.1 1911.4,222.8 1911.9,222.6 1912.5,222.3 1913.1,221.9 1913.6,221.6 1914.2,221.2 1914.8,220.9 1915.4,220.5 1915.9,220.1 1916.5,219.6 1917.1,219.2 1917.6,218.8 1918.2,218.3 1918.8,217.8 1919.4,217.4 1919.9,216.9 1920.5,216.4 1921.1,215.9 1921.6,215.4 1922.2,214.9 1922.8,214.4 1923.3,213.8 1923.9,213.3 1924.5,212.6 1925.1,211.9 1925.6,211.2 1926.2,210.4 1926.8,209.6 1927.3,208.7 1927.9,207.9 1928.5,207.1 1929.1,206.3 1929.6,205.5 1930.2,204.8 1930.8,204.1 1931.3,203.4 1931.9,202.9 1932.5,202.4 1933.1,202.1 1933.6,201.8 1934.2,201.7 1934.8,201.8 1935.3,202.0 1935.9,202.4 1936.5,203.0 1937.1,203.8 1937.6,204.6 1938.2,205.6 1938.8,206.7 1939.3,207.8 1939.9,208.9 1940.5,210.0 1941.1,211.2 1941.6,212.5 1942.2,213.9 1942.8,215.5 1943.3,217.1 1943.9,218.8 1944.5,220.5 1945.0,222.4 1945.6,224.2 1946.2,226.1 1946.8,228.1 1947.3,230.0 1947.9,232.0 1948.5,234.1 1949.0,236.3 1949.6,238.6 1950.2,241.0 1950.8,243.6 1951.3,246.2 1951.9,248.8 1952.5,251.4 1953.0,253.8 1953.6,256.2 1954.2,258.3 1954.8,260.3 1955.3,262.0 1955.9,263.7 1956.5,265.2 1957.0,266.6 1957.6,268.1 1958.2,269.4 1958.8,270.7 1959.3,271.9 1959.9,272.9 1960.5,273.9 1961.0,274.6 1961.6,275.3 1962.2,275.7 1962.7,275.9 1963.3,276.0 1963.9,275.8 1964.5,275.4 1965.0,274.9 1965.6,274.2 1966.2,273.4 1966.7,272.5 1967.3,271.6 1967.9,270.6 1968.5,269.6 1969.0,268.6 1969.6,267.7 1970.2,266.8 1970.7,265.9 1971.3,265.0 1971.9,264.2 1972.5,263.2 1973.0,262.3 1973.6,261.4 1974.2,260.5 1974.7,259.6 1975.3,258.7 1975.9,257.8 1976.5,257.0 1977.0,256.2 1977.6,255.5 1978.2,254.7 1978.7,254.0 1979.3,253.4 1979.9,252.7 1980.5,252.1 1981.0,251.4 1981.6,250.8 1982.2,250.2 1982.7,249.7 1983.3,249.1 1983.9,248.5 1984.4,248.0 1985.0,247.5 1985.6,247.0 1986.2,246.5 1986.7,246.0 1987.3,245.5 1987.9,245.1 1988.4,244.7 1989.0,244.4 1989.6,244.0 1990.2,243.7 1990.7,243.3 1991.3,243.0 1991.9,242.7 1992.4,242.4 1993.0,242.2 1993.6,241.9 1994.2,241.6 1994.7,241.3 1995.3,241.1 1995.9,240.8 1996.4,240.5 1997.0,240.2 1997.6,240.0 1998.2,239.7 1998.7,239.4 1999.3,239.1 1999.9,238.8 2000.4,238.6 2001.0,238.3 2001.6,238.0 2002.1,237.8 2002.7,237.5 2003.3,237.3 2003.9,237.1 2004.4,236.9 2005.0,236.7 2005.6,236.6 2006.1,236.4 2006.7,236.3 2007.3,236.2 2007.9,236.1 2008.4,236.0 2009.0,235.9 2009.6,235.8 2010.1,235.8 2010.7,235.7 2011.3,235.6 2011.9,235.5 2012.4,235.5 2013.0,235.4 2013.6,235.3 2014.1,235.2 2014.7,235.2 2015.3,235.1 2015.8,235.1 2016.4,235.0 2017.0,235.0 2017.6,235.0 2018.1,235.0 2018.7,235.0 2019.3,234.9 2019.8,234.9 2020.4,234.9 2021.0,234.8 2021.6,234.7 2022.1,234.7 2022.7,234.6 2023.3,234.5 2023.8,234.4 2024.4,234.2 2025.0,234.1 2025.5,234.0 2026.1,233.9 2026.7,233.8 2027.3,233.7 2027.8,233.6 2028.4,233.6 2029.0,233.5 2029.5,233.4 2030.1,233.3 2030.7,233.2 2031.2,233.1 2031.8,233.0 2032.4,232.9 2033.0,232.9 2033.5,232.8 2034.1,232.8 2034.7,232.8 2035.2,232.8 2035.8,232.8 2036.4,232.9 2037.0,232.9 2037.5,233.0 2038.1,233.0 2038.7,233.1 2039.2,233.1 2039.8,233.1 2040.4,233.2 2040.9,233.2 2041.5,233.2 2042.1,233.2 2042.7,233.2 2043.2,233.2 2043.8,233.2 2044.4,233.2 2044.9,233.2 2045.5,233.1 2046.1,233.1 2046.7,233.1 2047.2,233.1 2047.8,233.1 2048.4,233.1 2048.9,233.1 2049.5,233.1 2050.1,233.1 2050.6,233.1 2051.2,233.1 2051.8,233.2 2052.4,233.2 2052.9,233.2 2053.5,233.1 2054.1,233.1 2054.6,233.1 2055.2,233.0 2055.8,233.0 2056.4,232.9 2056.9,232.9 2057.5,232.8 2058.1,232.7 2058.6,232.7 2059.2,232.6 2059.8,232.6 2060.3,232.5 2060.9,232.5 2061.5,232.5 2062.1,232.4 2062.6,232.4 2063.2,232.4 2063.8,232.4 2064.3,232.4 2064.9,232.4 2065.5,232.4 2066.1,232.4 2066.6,232.3 2067.2,232.3 2067.8,232.3 2068.3,232.3 2068.9,232.3 2069.5,232.3 2070.0,232.3 2070.6,232.3 2071.2,232.3 2071.8,232.3 2072.3,232.3 2072.9,232.4 2073.5,232.4 2074.0,232.5 2074.6,232.5 2075.2,232.6 2075.7,232.7 2076.3,232.8 2076.9,232.9 2077.5,232.9 2078.0,233.0 2078.6,233.1 2079.2,233.1 2079.7,233.2 2080.3,233.2 2080.9,233.2 2081.5,233.2 2082.0,233.2 2082.6,233.2 2083.2,233.2 2083.7,233.2 2084.3,233.1 2084.9,233.1 2085.4,233.0 2086.0,233.0 2086.6,233.0 2087.2,232.9 2087.7,232.9 2088.3,232.8 2088.9,232.8 2089.4,232.8 2090.0,232.8 2090.6,232.8 2091.2,232.8 2091.7,232.9 2092.3,232.9 2092.9,232.9 2093.4,232.9 2094.0,232.9 2094.6,232.9 2095.1,232.9 2095.7,232.9 2096.3,232.9 2096.9,232.9 2097.4,232.8 2098.0,232.8 2098.6,232.8 2099.1,232.7 2099.7,232.7 2100.3,232.6 2100.9,232.6 2101.4,232.6 2102.0,232.5 2102.6,232.5 2103.1,232.5 2103.7,232.4 2104.3,232.4 2104.8,232.4 2105.4,232.4 2106.0,232.4 2106.6,232.5 2107.1,232.5 2107.7,232.5 2108.3,232.6 2108.8,232.6 2109.4,232.6 2110.0,232.6 2110.5,232.6 2111.1,232.6 2111.7,232.6 2112.3,232.6 2112.8,232.5 2113.4,232.5 2114.0,232.4 2114.5,232.4 2115.1,232.4 2115.7,232.4 2116.3,232.4 2116.8,232.3 2117.4,232.3 2118.0,232.4 2118.5,232.4 2119.1,232.4 2119.7,232.4 2120.2,232.4 2120.8,232.4 2121.4,232.4 2122.0,232.4 2122.5,232.4 2123.1,232.4 2123.7,232.3 2124.2,232.3 2124.8,232.3 2125.3,232.3 2125.9,232.4 2126.5,232.4 2127.0,232.4 2127.6,232.4 2128.2,232.4 2128.7,232.4 2129.3,232.4 2129.8,232.4 2130.4,232.5 2131.0,232.5 2131.5,232.5 2132.1,232.6 2132.6,232.6 2133.2,232.6 2133.8,232.6 2134.3,232.7 2134.9,232.7 2135.5,232.7 2136.0,232.7 2136.6,232.7 2137.1,232.7 2137.7,232.7 2138.3,232.7 2138.8,232.6 2139.4,232.6 2139.9,232.6 2140.5,232.5 2141.1,232.5 2141.6,232.5 2142.2,232.5 2142.8,232.4 2143.3,232.4 2143.9,232.4 2144.4,232.4 2145.0,232.5 2145.6,232.5 2146.1,232.5 2146.7,232.5 2147.2,232.6 2147.8,232.6 2148.4,232.7 2148.9,232.7 2149.5,232.7 2150.1,232.8 2150.6,232.8 2151.2,232.8 2151.7,232.8 2152.3,232.8 2152.9,232.8 2153.4,232.8 2154.0,232.8 2154.5,232.8 2155.1,232.8 2155.7,232.8 2156.2,232.8 2156.8,232.8 2157.4,232.9 2157.9,232.9 2158.5,232.9 2159.0,232.9 2159.6,232.9 2160.2,232.8 2160.7,232.8 2161.3,232.8 2161.8,232.7 2162.4,232.7 2163.0,232.6 2163.5,232.5 2164.1,232.5 2164.7,232.4 2165.2,232.4 2165.8,232.3 2166.3,232.3 2166.9,232.2 2167.5,232.2 2168.0,232.2 2168.6,232.2 2169.1,232.2 2169.7,232.2 2170.3,232.2 2170.8,232.2 2171.4,232.2 2172.0,232.3 2172.5,232.3 2173.1,232.3 2173.6,232.3 2174.2,232.2 2174.8,232.2 2175.3,232.3 2175.9,232.3 2176.4,232.3 2177.0,232.3 2177.6,232.3 2178.1,232.3 2178.7,232.4 2179.2,232.4 2179.8,232.4 2180.4,232.5 2180.9,232.5 2181.5,232.5 2182.1,232.5 2182.6,232.5 2183.2,232.5 2183.7,232.5 2184.3,232.5 2184.9,232.5 2185.4,232.5 2186.0,232.5 2186.5,232.5 2187.1,232.5 2187.7,232.5 2188.2,232.5 2188.8,232.5 2189.4,232.6 2189.9,232.6 2190.5,232.6 2191.0,232.6 2191.6,232.7 2192.2,232.7 2192.7,232.8 2193.3,232.8 2193.8,232.8 2194.4,232.8 2195.0,232.9 2195.5,232.9 2196.1,232.9 2196.7,232.9 2197.2,232.9 2197.8,232.9 2198.3,232.8 2198.9,232.8 2199.5,232.8 2200.0,232.8 2200.6,232.7 2201.1,232.7 2201.7,232.7 2202.3,232.7 2202.8,232.6 2203.4,232.6 2204.0,232.6 2204.5,232.7 2205.1,232.7 2205.6,232.7 2206.2,232.8 2206.8,232.8 2207.3,232.8 2207.9,232.9 2208.4,232.9 2209.0,232.9 2209.6,232.9 2210.1,232.9 2210.7,232.9 2211.3,232.8 2211.8,232.8 2212.4,232.8 2212.9,232.7 2213.5,232.7 2214.1,232.6 2214.6,232.6 2215.2,232.6 2215.7,232.5 2216.3,232.5 2216.9,232.5 2217.4,232.6 2218.0,232.6 2218.6,232.6 2219.1,232.7 2219.7,232.8 2220.2,232.8 2220.8,232.9 2221.4,233.0 2221.9,233.1 2222.5,233.1 2223.0,233.2 2223.6,233.2 2224.2,233.2 2224.7,233.2 2225.3,233.2 2225.9,233.1 2226.4,233.1 2227.0,233.0 2227.5,232.9 2228.1,232.8 2228.7,232.8 2229.2,232.7 2229.8,232.6 2230.3,232.5 2230.9,232.4 2231.5,232.4 2232.0,232.3 2232.6,232.3 2233.2,232.3 2233.7,232.2 2234.3,232.2 2234.8,232.2 2235.4,232.2 2236.0,232.3 2236.5,232.3 2237.1,232.3 2237.7,232.4 2238.3,232.4 2238.8,232.4 2239.4,232.5 2240.0,232.5 2240.5,232.6 2241.1,232.6 2241.7,232.6 2242.3,232.7 2242.8,232.7 2243.4,232.7 2244.0,232.8 2244.5,232.8 2245.1,232.8 2245.7,232.8 2246.2,232.8 2246.8,232.8 2247.4,232.8 2248.0,232.8 2248.5,232.8 2249.1,232.8 2249.7,232.8 2250.2,232.8 2250.8,232.8 2251.4,232.8 2252.0,232.9 2252.5,232.9 2253.1,232.9 2253.7,232.9 2254.2,232.9 2254.8,232.9 2255.4,232.9 2256.0,232.9 2256.5,232.9 2257.1,232.8 2257.7,232.8 2258.2,232.7 2258.8,232.7 2259.4,232.6 2260.0,232.6 2260.5,232.6 2261.1,232.5 2261.7,232.5 2262.2,232.5 2262.8,232.6 2263.4,232.6 2263.9,232.6 2264.5,232.7 2265.1,232.7 2265.7,232.7 2266.2,232.8 2266.8,232.8 2267.4,232.8 2267.9,232.8 2268.5,232.9 2269.1,232.9 2269.7,232.9 2270.2,232.9 2270.8,232.9 2271.4,232.9 2271.9,232.9 2272.5,232.9 2273.1,232.9 2273.7,232.9 2274.2,232.8 2274.8,232.8 2275.4,232.8 2275.9,232.7 2276.5,232.7 2277.1,232.7 2277.7,232.6 2278.2,232.6 2278.8,232.6 2279.4,232.7 2279.9,232.7 2280.5,232.7 2281.1,232.7 2281.7,232.8 2282.2,232.8 2282.8,232.8 2283.4,232.8 2283.9,232.9 2284.5,232.9 2285.1,233.0 2285.6,233.1 2286.2,233.1 2286.8,233.2 2287.4,233.3 2287.9,233.4 2288.5,233.5 2289.1,233.5 2289.6,233.6 2290.2,233.6 2290.8,233.6 2291.4,233.6 2291.9,233.6 2292.5,233.6 2293.1,233.5 2293.6,233.4 2294.2,233.4 2294.8,233.3 2295.4,233.2 2295.9,233.1 2296.5,233.1 2297.1,233.0 2297.6,232.9 2298.2,232.9 2298.8,232.8 2299.4,232.8 2299.9,232.8 2300.5,232.7 2301.1,232.7 2301.6,232.6 2302.2,232.6 2302.8,232.6 2303.3,232.5 2303.9,232.5 2304.5,232.5 2305.1,232.5 2305.6,232.5 2306.2,232.5 2306.8,232.5 2307.3,232.5 2307.9,232.5 2308.5,232.5 2309.1,232.6 2309.6,232.6 2310.2,232.6 2310.8,232.7 2311.3,232.7 2311.9,232.7 2312.5,232.7 2313.1,232.8 2313.6,232.8 2314.2,232.8 2314.8,232.8 2315.3,232.8 2315.9,232.8 2316.5,232.8 2317.1,232.7 2317.6,232.7 2318.2,232.7 2318.8,232.6 2319.3,232.6 2319.9,232.5 2320.5,232.5 2321.1,232.4 2321.6,232.4 2322.2,232.3 2322.8,232.3 2323.3,232.2 2323.9,232.2 2324.5,232.3 2325.0,232.3 2325.6,232.3 2326.2,232.4 2326.8,232.5 2327.3,232.5 2327.9,232.6 2328.5,232.7 2329.0,232.7 2329.6,232.8 2330.2,232.9 2330.8,232.9 2331.3,233.0 2331.9,233.0 2332.5,233.1 2333.0,233.1 2333.6,233.1 2334.2,233.2 2334.8,233.2 2335.3,233.2 2335.9,233.2 2336.5,233.2 2337.0,233.2 2337.6,233.2 2338.2,233.2 2338.8,233.2 2339.3,233.2 2339.9,233.2 2340.5,233.2 2341.0,233.2 2341.6,233.2 2342.2,233.2 2342.7,233.2 2343.3,233.2 2343.9,233.2 2344.5,233.2 2345.0,233.2 2345.6,233.2 2346.2,233.2 2346.7,233.2 2347.3,233.2 2347.9,233.2 2348.5,233.2 2349.0,233.2 2349.6,233.2" fill="none" stroke="#1f77b4" stroke-width="3.4" stroke-linejoin="round" stroke-linecap="round" clip-path="url(#cr0)"/>
<polyline points="1440.5,233.2 1441.1,233.2 1441.6,233.2 1442.2,233.2 1442.8,233.2 1443.4,233.2 1443.9,233.2 1444.5,233.2 1445.1,233.2 1445.6,233.2 1446.2,233.2 1446.8,233.2 1447.4,233.2 1447.9,233.2 1448.5,233.2 1449.1,233.2 1449.6,233.2 1450.2,233.2 1450.8,233.2 1451.3,233.2 1451.9,233.2 1452.5,233.2 1453.1,233.2 1453.6,233.2 1454.2,233.2 1454.8,233.2 1455.3,233.2 1455.9,233.2 1456.5,233.2 1457.1,233.2 1457.6,233.2 1458.2,233.2 1458.8,233.2 1459.3,233.2 1459.9,233.2 1460.5,233.2 1461.1,233.2 1461.6,233.2 1462.2,233.2 1462.8,233.2 1463.3,233.2 1463.9,233.2 1464.5,233.2 1465.1,233.2 1465.6,233.2 1466.2,233.2 1466.8,233.2 1467.3,233.2 1467.9,233.2 1468.5,233.2 1469.0,233.2 1469.6,233.2 1470.2,233.2 1470.8,233.2 1471.3,233.2 1471.9,233.2 1472.5,233.2 1473.0,233.2 1473.6,233.2 1474.2,233.2 1474.8,233.2 1475.3,233.2 1475.9,233.2 1476.5,233.2 1477.0,233.2 1477.6,233.2 1478.2,233.2 1478.8,233.2 1479.3,233.2 1479.9,233.2 1480.5,233.2 1481.0,233.2 1481.6,233.2 1482.2,233.2 1482.8,233.2 1483.3,233.2 1483.9,233.2 1484.5,233.2 1485.0,233.2 1485.6,233.2 1486.2,233.2 1486.8,233.2 1487.3,233.2 1487.9,233.2 1488.5,233.2 1489.0,233.2 1489.6,233.2 1490.2,233.2 1490.7,233.2 1491.3,233.2 1491.9,233.2 1492.5,233.2 1493.0,233.2 1493.6,233.2 1494.2,233.2 1494.7,233.2 1495.3,233.2 1495.9,233.2 1496.5,233.2 1497.0,233.2 1497.6,233.2 1498.2,233.2 1498.7,233.2 1499.3,233.2 1499.9,233.2 1500.5,233.2 1501.0,233.2 1501.6,233.2 1502.2,233.2 1502.7,233.2 1503.3,233.2 1503.9,233.2 1504.5,233.2 1505.0,233.2 1505.6,233.2 1506.2,233.2 1506.7,233.2 1507.3,233.2 1507.9,233.2 1508.4,233.2 1509.0,233.2 1509.6,233.2 1510.2,233.2 1510.7,233.2 1511.3,233.2 1511.9,233.2 1512.4,233.2 1513.0,233.2 1513.6,233.2 1514.2,233.2 1514.7,233.2 1515.3,233.2 1515.9,233.2 1516.4,233.2 1517.0,233.2 1517.6,233.2 1518.2,233.2 1518.7,233.2 1519.3,233.2 1519.9,233.2 1520.4,233.2 1521.0,233.2 1521.6,233.2 1522.2,233.2 1522.7,233.2 1523.3,233.2 1523.9,233.2 1524.4,233.2 1525.0,233.2 1525.6,233.2 1526.2,233.2 1526.7,233.2 1527.3,233.2 1527.9,233.2 1528.4,233.2 1529.0,233.2 1529.6,233.2 1530.1,233.2 1530.7,233.2 1531.3,233.2 1531.9,233.2 1532.4,233.2 1533.0,233.2 1533.6,233.2 1534.1,233.2 1534.7,233.2 1535.3,233.2 1535.9,233.2 1536.4,233.2 1537.0,233.2 1537.6,233.2 1538.1,233.2 1538.7,233.2 1539.3,233.2 1539.9,233.2 1540.4,233.2 1541.0,233.2 1541.6,233.2 1542.1,233.2 1542.7,233.2 1543.3,233.2 1543.9,233.2 1544.4,233.2 1545.0,233.2 1545.6,233.2 1546.1,233.2 1546.7,233.2 1547.3,233.2 1547.8,233.2 1548.4,233.2 1549.0,233.2 1549.6,233.2 1550.1,233.2 1550.7,233.2 1551.3,233.2 1551.8,233.2 1552.4,233.2 1553.0,233.2 1553.6,233.2 1554.1,233.2 1554.7,233.2 1555.3,233.2 1555.8,233.2 1556.4,233.2 1557.0,233.2 1557.5,233.2 1558.1,233.2 1558.7,233.2 1559.3,233.2 1559.8,233.2 1560.4,233.2 1561.0,233.2 1561.5,233.2 1562.1,233.2 1562.7,233.2 1563.2,233.2 1563.8,233.2 1564.4,233.2 1565.0,233.2 1565.5,233.2 1566.1,233.2 1566.7,233.2 1567.2,233.2 1567.8,233.2 1568.4,233.2 1568.9,233.2 1569.5,233.2 1570.1,233.2 1570.6,233.2 1571.2,233.2 1571.8,233.2 1572.4,233.2 1572.9,233.2 1573.5,233.2 1574.1,233.2 1574.6,233.2 1575.2,233.2 1575.8,233.2 1576.3,233.2 1576.9,233.2 1577.5,233.2 1578.0,233.2 1578.6,233.2 1579.2,233.2 1579.8,233.2 1580.3,233.2 1580.9,233.2 1581.5,233.2 1582.0,233.2 1582.6,233.2 1583.2,233.2 1583.7,233.2 1584.3,233.2 1584.9,233.2 1585.5,233.2 1586.0,233.2 1586.6,233.2 1587.2,233.1 1587.7,233.1 1588.3,233.1 1588.9,233.1 1589.4,233.1 1590.0,233.1 1590.6,233.1 1591.1,233.1 1591.7,233.1 1592.3,233.1 1592.9,233.1 1593.4,233.1 1594.0,233.1 1594.6,233.1 1595.1,233.1 1595.7,233.1 1596.3,233.1 1596.8,233.1 1597.4,233.1 1598.0,233.1 1598.6,233.1 1599.1,233.1 1599.7,233.1 1600.3,233.1 1600.8,233.1 1601.4,233.1 1602.0,233.1 1602.5,233.1 1603.1,233.1 1603.7,233.1 1604.2,233.1 1604.8,233.1 1605.4,233.1 1606.0,233.1 1606.5,233.1 1607.1,233.1 1607.7,233.1 1608.2,233.1 1608.8,233.1 1609.4,233.1 1609.9,233.1 1610.5,233.1 1611.1,233.1 1611.7,233.1 1612.2,233.1 1612.8,233.1 1613.4,233.1 1613.9,233.1 1614.5,233.1 1615.1,233.1 1615.6,233.1 1616.2,233.1 1616.8,233.1 1617.3,233.1 1617.9,233.1 1618.5,233.1 1619.1,233.1 1619.6,233.1 1620.2,233.1 1620.8,233.1 1621.3,233.1 1621.9,233.1 1622.5,233.1 1623.0,233.1 1623.6,233.1 1624.2,233.1 1624.7,233.1 1625.3,233.1 1625.9,233.1 1626.5,233.1 1627.0,233.1 1627.6,233.1 1628.2,233.1 1628.7,233.1 1629.3,233.1 1629.9,233.1 1630.4,233.1 1631.0,233.1 1631.6,233.1 1632.2,233.1 1632.7,233.1 1633.3,233.1 1633.9,233.1 1634.4,233.1 1635.0,233.1 1635.6,233.1 1636.1,233.1 1636.7,233.1 1637.3,233.1 1637.8,233.1 1638.4,233.1 1639.0,233.1 1639.6,233.1 1640.1,233.1 1640.7,233.1 1641.3,233.1 1641.8,233.1 1642.4,233.1 1643.0,233.1 1643.5,233.1 1644.1,233.1 1644.7,233.1 1645.3,233.1 1645.8,233.1 1646.4,233.1 1647.0,233.1 1647.5,233.1 1648.1,233.1 1648.7,233.1 1649.2,233.1 1649.8,233.1 1650.4,233.1 1650.9,233.1 1651.5,233.1 1652.1,233.1 1652.7,233.1 1653.2,233.1 1653.8,233.1 1654.4,233.1 1654.9,233.1 1655.5,233.1 1656.1,233.1 1656.6,233.1 1657.2,233.1 1657.8,233.1 1658.3,233.1 1658.9,233.1 1659.5,233.1 1660.1,233.1 1660.6,233.1 1661.2,233.1 1661.8,233.1 1662.3,233.1 1662.9,233.1 1663.5,233.1 1664.0,233.1 1664.6,233.1 1665.2,233.1 1665.8,233.1 1666.3,233.1 1666.9,233.1 1667.5,233.1 1668.0,233.1 1668.6,233.1 1669.2,233.1 1669.7,233.1 1670.3,233.1 1670.8,233.1 1671.4,233.1 1672.0,233.1 1672.5,233.1 1673.1,233.1 1673.7,233.1 1674.2,233.1 1674.8,233.1 1675.3,233.1 1675.9,233.1 1676.5,233.1 1677.0,233.1 1677.6,233.1 1678.1,233.1 1678.7,233.1 1679.3,233.1 1679.8,233.1 1680.4,233.1 1681.0,233.1 1681.5,233.0 1682.1,233.0 1682.6,233.0 1683.2,233.0 1683.8,233.0 1684.3,233.0 1684.9,233.0 1685.4,233.0 1686.0,233.0 1686.6,233.0 1687.1,233.0 1687.7,233.0 1688.3,233.0 1688.8,233.0 1689.4,233.0 1689.9,233.0 1690.5,233.0 1691.1,233.0 1691.6,233.0 1692.2,233.0 1692.7,233.0 1693.3,233.0 1693.9,233.0 1694.4,233.0 1695.0,233.0 1695.6,233.0 1696.1,233.0 1696.7,233.0 1697.2,233.0 1697.8,233.0 1698.4,233.0 1698.9,233.0 1699.5,233.0 1700.0,233.0 1700.6,233.0 1701.2,233.0 1701.7,233.0 1702.3,233.0 1702.9,233.0 1703.4,233.0 1704.0,233.0 1704.5,233.0 1705.1,233.0 1705.7,233.0 1706.2,233.0 1706.8,233.0 1707.3,233.0 1707.9,233.0 1708.5,233.0 1709.0,232.9 1709.6,232.9 1710.2,232.9 1710.7,232.9 1711.3,232.9 1711.8,232.9 1712.4,232.9 1713.0,232.9 1713.5,232.9 1714.1,232.9 1714.6,232.9 1715.2,232.9 1715.8,232.9 1716.3,232.9 1716.9,232.9 1717.5,232.9 1718.0,232.9 1718.6,232.9 1719.1,232.9 1719.7,232.9 1720.3,232.9 1720.8,232.9 1721.4,232.9 1721.9,232.9 1722.5,232.9 1723.1,232.9 1723.6,232.9 1724.2,232.9 1724.8,232.9 1725.3,232.9 1725.9,232.9 1726.4,232.9 1727.0,232.9 1727.6,232.8 1728.1,232.8 1728.7,232.8 1729.2,232.8 1729.8,232.8 1730.4,232.8 1730.9,232.8 1731.5,232.8 1732.0,232.8 1732.6,232.8 1733.2,232.8 1733.7,232.8 1734.3,232.8 1734.9,232.8 1735.4,232.8 1736.0,232.8 1736.5,232.8 1737.1,232.8 1737.7,232.8 1738.2,232.8 1738.8,232.8 1739.3,232.8 1739.9,232.8 1740.5,232.8 1741.0,232.8 1741.6,232.8 1742.2,232.7 1742.7,232.7 1743.3,232.7 1743.8,232.7 1744.4,232.7 1745.0,232.7 1745.5,232.7 1746.1,232.7 1746.6,232.7 1747.2,232.7 1747.8,232.7 1748.3,232.7 1748.9,232.7 1749.5,232.7 1750.0,232.7 1750.6,232.7 1751.1,232.7 1751.7,232.7 1752.3,232.7 1752.8,232.7 1753.4,232.7 1753.9,232.7 1754.5,232.7 1755.1,232.6 1755.6,232.6 1756.2,232.6 1756.8,232.6 1757.3,232.6 1757.9,232.6 1758.4,232.6 1759.0,232.6 1759.6,232.6 1760.1,232.6 1760.7,232.6 1761.2,232.6 1761.8,232.6 1762.4,232.6 1762.9,232.6 1763.5,232.6 1764.1,232.6 1764.6,232.6 1765.2,232.6 1765.7,232.6 1766.3,232.6 1766.9,232.5 1767.4,232.5 1768.0,232.5 1768.5,232.5 1769.1,232.5 1769.7,232.5 1770.2,232.5 1770.8,232.5 1771.4,232.5 1771.9,232.5 1772.5,232.5 1773.0,232.5 1773.6,232.5 1774.2,232.5 1774.7,232.5 1775.3,232.5 1775.8,232.5 1776.4,232.5 1777.0,232.5 1777.5,232.4 1778.1,232.4 1778.7,232.4 1779.2,232.4 1779.8,232.4 1780.3,232.4 1780.9,232.4 1781.5,232.4 1782.0,232.4 1782.6,232.4 1783.2,232.4 1783.7,232.4 1784.3,232.4 1784.9,232.4 1785.5,232.4 1786.0,232.4 1786.6,232.4 1787.2,232.3 1787.7,232.3 1788.3,232.3 1788.9,232.3 1789.4,232.3 1790.0,232.3 1790.6,232.3 1791.2,232.3 1791.7,232.3 1792.3,232.3 1792.9,232.3 1793.4,232.3 1794.0,232.3 1794.6,232.2 1795.1,232.2 1795.7,232.2 1796.3,232.2 1796.8,232.2 1797.4,232.2 1798.0,232.2 1798.6,232.2 1799.1,232.2 1799.7,232.2 1800.3,232.2 1800.8,232.1 1801.4,232.1 1802.0,232.1 1802.5,232.1 1803.1,232.1 1803.7,232.1 1804.2,232.1 1804.8,232.1 1805.4,232.1 1806.0,232.1 1806.5,232.0 1807.1,232.0 1807.7,232.0 1808.2,232.0 1808.8,232.0 1809.4,232.0 1809.9,232.0 1810.5,232.0 1811.1,231.9 1811.7,231.9 1812.2,231.9 1812.8,231.9 1813.4,231.9 1813.9,231.9 1814.5,231.9 1815.1,231.9 1815.6,231.8 1816.2,231.8 1816.8,231.8 1817.3,231.8 1817.9,231.8 1818.5,231.8 1819.1,231.8 1819.6,231.8 1820.2,231.7 1820.8,231.7 1821.3,231.7 1821.9,231.7 1822.5,231.7 1823.0,231.7 1823.6,231.7 1824.2,231.6 1824.8,231.6 1825.3,231.6 1825.9,231.6 1826.5,231.6 1827.0,231.6 1827.6,231.6 1828.2,231.5 1828.7,231.5 1829.3,231.5 1829.9,231.5 1830.4,231.5 1831.0,231.5 1831.6,231.4 1832.2,231.4 1832.7,231.4 1833.3,231.4 1833.9,231.4 1834.4,231.4 1835.0,231.4 1835.6,231.3 1836.1,231.3 1836.7,231.3 1837.3,231.3 1837.8,231.3 1838.4,231.3 1839.0,231.2 1839.6,231.2 1840.1,231.2 1840.7,231.2 1841.3,231.2 1841.8,231.1 1842.4,231.1 1843.0,231.1 1843.5,231.1 1844.1,231.1 1844.7,231.1 1845.3,231.0 1845.8,231.0 1846.4,231.0 1847.0,231.0 1847.5,231.0 1848.1,231.0 1848.7,230.9 1849.2,230.9 1849.8,230.9 1850.4,230.9 1850.9,230.9 1851.5,230.8 1852.1,230.8 1852.7,230.8 1853.2,230.8 1853.8,230.8 1854.4,230.7 1854.9,230.7 1855.5,230.7 1856.1,230.7 1856.6,230.7 1857.2,230.6 1857.8,230.6 1858.4,230.6 1858.9,230.6 1859.5,230.5 1860.1,230.5 1860.6,230.5 1861.2,230.5 1861.8,230.4 1862.3,230.4 1862.9,230.4 1863.5,230.4 1864.0,230.3 1864.6,230.3 1865.2,230.3 1865.8,230.2 1866.3,230.2 1866.9,230.2 1867.5,230.2 1868.0,230.1 1868.6,230.1 1869.2,230.1 1869.7,230.0 1870.3,230.0 1870.9,230.0 1871.5,229.9 1872.0,229.9 1872.6,229.9 1873.2,229.8 1873.7,229.8 1874.3,229.8 1874.9,229.7 1875.4,229.7 1876.0,229.7 1876.6,229.6 1877.1,229.6 1877.7,229.5 1878.3,229.5 1878.9,229.5 1879.4,229.4 1880.0,229.4 1880.6,229.3 1881.1,229.3 1881.7,229.3 1882.3,229.2 1882.8,229.2 1883.4,229.1 1884.0,229.1 1884.5,229.0 1885.1,229.0 1885.7,228.9 1886.3,228.9 1886.8,228.8 1887.4,228.8 1888.0,228.7 1888.5,228.7 1889.1,228.6 1889.7,228.5 1890.2,228.5 1890.8,228.4 1891.4,228.3 1892.0,228.2 1892.5,228.2 1893.1,228.1 1893.7,228.0 1894.2,227.9 1894.8,227.8 1895.4,227.7 1895.9,227.6 1896.5,227.5 1897.1,227.4 1897.7,227.3 1898.2,227.1 1898.8,227.0 1899.4,226.9 1899.9,226.7 1900.5,226.5 1901.1,226.4 1901.7,226.2 1902.2,226.1 1902.8,225.9 1903.4,225.7 1903.9,225.5 1904.5,225.3 1905.1,225.1 1905.6,224.9 1906.2,224.7 1906.8,224.5 1907.4,224.3 1907.9,224.0 1908.5,223.8 1909.1,223.6 1909.6,223.3 1910.2,223.1 1910.8,222.8 1911.4,222.6 1911.9,222.3 1912.5,222.0 1913.1,221.7 1913.6,221.4 1914.2,221.0 1914.8,220.7 1915.4,220.3 1915.9,219.9 1916.5,219.5 1917.1,219.1 1917.6,218.6 1918.2,218.2 1918.8,217.7 1919.4,217.2 1919.9,216.8 1920.5,216.3 1921.1,215.8 1921.6,215.3 1922.2,214.8 1922.8,214.3 1923.3,213.7 1923.9,213.1 1924.5,212.5 1925.1,211.8 1925.6,211.1 1926.2,210.3 1926.8,209.5 1927.3,208.7 1927.9,207.8 1928.5,207.0 1929.1,206.2 1929.6,205.4 1930.2,204.7 1930.8,204.0 1931.3,203.4 1931.9,202.8 1932.5,202.4 1933.1,202.0 1933.6,201.7 1934.2,201.6 1934.8,201.7 1935.3,201.9 1935.9,202.3 1936.5,202.9 1937.1,203.6 1937.6,204.5 1938.2,205.5 1938.8,206.5 1939.3,207.6 1939.9,208.7 1940.5,209.9 1941.1,211.1 1941.6,212.4 1942.2,213.9 1942.8,215.4 1943.3,217.0 1943.9,218.7 1944.5,220.5 1945.0,222.4 1945.6,224.3 1946.2,226.3 1946.8,228.3 1947.3,230.3 1947.9,232.3 1948.5,234.5 1949.0,236.7 1949.6,239.0 1950.2,241.5 1950.8,244.1 1951.3,246.7 1951.9,249.3 1952.5,251.8 1953.0,254.2 1953.6,256.5 1954.2,258.6 1954.8,260.5 1955.3,262.2 1955.9,263.7 1956.5,265.2 1957.0,266.6 1957.6,268.0 1958.2,269.3 1958.8,270.6 1959.3,271.8 1959.9,272.8 1960.5,273.8 1961.0,274.6 1961.6,275.2 1962.2,275.6 1962.7,275.8 1963.3,275.9 1963.9,275.7 1964.5,275.3 1965.0,274.7 1965.6,274.0 1966.2,273.2 1966.7,272.2 1967.3,271.2 1967.9,270.2 1968.5,269.2 1969.0,268.2 1969.6,267.3 1970.2,266.4 1970.7,265.5 1971.3,264.6 1971.9,263.7 1972.5,262.8 1973.0,261.9 1973.6,261.0 1974.2,260.2 1974.7,259.3 1975.3,258.4 1975.9,257.6 1976.5,256.8 1977.0,256.0 1977.6,255.2 1978.2,254.5 1978.7,253.8 1979.3,253.2 1979.9,252.5 1980.5,251.9 1981.0,251.3 1981.6,250.7 1982.2,250.1 1982.7,249.5 1983.3,248.9 1983.9,248.4 1984.4,247.8 1985.0,247.3 1985.6,246.8 1986.2,246.3 1986.7,245.8 1987.3,245.3 1987.9,244.9 1988.4,244.5 1989.0,244.1 1989.6,243.7 1990.2,243.3 1990.7,242.9 1991.3,242.6 1991.9,242.2 1992.4,241.9 1993.0,241.6 1993.6,241.3 1994.2,241.0 1994.7,240.7 1995.3,240.4 1995.9,240.1 1996.4,239.9 1997.0,239.6 1997.6,239.4 1998.2,239.2 1998.7,238.9 1999.3,238.7 1999.9,238.5 2000.4,238.3 2001.0,238.1 2001.6,237.9 2002.1,237.7 2002.7,237.6 2003.3,237.4 2003.9,237.2 2004.4,237.0 2005.0,236.9 2005.6,236.7 2006.1,236.6 2006.7,236.4 2007.3,236.3 2007.9,236.2 2008.4,236.1 2009.0,236.0 2009.6,235.9 2010.1,235.8 2010.7,235.7 2011.3,235.6 2011.9,235.5 2012.4,235.4 2013.0,235.3 2013.6,235.2 2014.1,235.1 2014.7,235.0 2015.3,234.9 2015.8,234.8 2016.4,234.7 2017.0,234.6 2017.6,234.5 2018.1,234.4 2018.7,234.3 2019.3,234.3 2019.8,234.2 2020.4,234.1 2021.0,234.0 2021.6,234.0 2022.1,233.9 2022.7,233.8 2023.3,233.8 2023.8,233.7 2024.4,233.6 2025.0,233.6 2025.5,233.5 2026.1,233.5 2026.7,233.4 2027.3,233.4 2027.8,233.4 2028.4,233.3 2029.0,233.3 2029.5,233.3 2030.1,233.3 2030.7,233.2 2031.2,233.2 2031.8,233.2 2032.4,233.2 2033.0,233.2 2033.5,233.2 2034.1,233.2 2034.7,233.2 2035.2,233.2 2035.8,233.2 2036.4,233.1 2037.0,233.1 2037.5,233.1 2038.1,233.1 2038.7,233.1 2039.2,233.1 2039.8,233.1 2040.4,233.1 2040.9,233.1 2041.5,233.1 2042.1,233.1 2042.7,233.1 2043.2,233.1 2043.8,233.1 2044.4,233.1 2044.9,233.0 2045.5,233.0 2046.1,233.0 2046.7,233.0 2047.2,233.0 2047.8,233.0 2048.4,233.0 2048.9,233.0 2049.5,233.0 2050.1,233.0 2050.6,233.0 2051.2,233.0 2051.8,233.0 2052.4,233.0 2052.9,233.0 2053.5,233.0 2054.1,233.0 2054.6,232.9 2055.2,232.9 2055.8,232.9 2056.4,232.9 2056.9,232.9 2057.5,232.9 2058.1,232.9 2058.6,232.9 2059.2,232.9 2059.8,232.9 2060.3,232.9 2060.9,232.9 2061.5,232.9 2062.1,232.9 2062.6,232.9 2063.2,232.9 2063.8,232.9 2064.3,232.9 2064.9,232.9 2065.5,232.9 2066.1,232.9 2066.6,232.9 2067.2,232.9 2067.8,232.8 2068.3,232.8 2068.9,232.8 2069.5,232.8 2070.0,232.8 2070.6,232.8 2071.2,232.8 2071.8,232.8 2072.3,232.8 2072.9,232.8 2073.5,232.8 2074.0,232.8 2074.6,232.8 2075.2,232.8 2075.7,232.8 2076.3,232.8 2076.9,232.8 2077.5,232.8 2078.0,232.8 2078.6,232.8 2079.2,232.8 2079.7,232.8 2080.3,232.8 2080.9,232.8 2081.5,232.8 2082.0,232.8 2082.6,232.8 2083.2,232.8 2083.7,232.8 2084.3,232.8 2084.9,232.8 2085.4,232.8 2086.0,232.7 2086.6,232.7 2087.2,232.7 2087.7,232.7 2088.3,232.7 2088.9,232.7 2089.4,232.7 2090.0,232.7 2090.6,232.7 2091.2,232.7 2091.7,232.7 2092.3,232.7 2092.9,232.7 2093.4,232.7 2094.0,232.7 2094.6,232.7 2095.1,232.7 2095.7,232.7 2096.3,232.7 2096.9,232.7 2097.4,232.7 2098.0,232.7 2098.6,232.7 2099.1,232.7 2099.7,232.7 2100.3,232.7 2100.9,232.7 2101.4,232.7 2102.0,232.7 2102.6,232.7 2103.1,232.7 2103.7,232.7 2104.3,232.7 2104.8,232.7 2105.4,232.7 2106.0,232.7 2106.6,232.7 2107.1,232.7 2107.7,232.7 2108.3,232.7 2108.8,232.7 2109.4,232.7 2110.0,232.7 2110.5,232.7 2111.1,232.7 2111.7,232.7 2112.3,232.7 2112.8,232.7 2113.4,232.7 2114.0,232.7 2114.5,232.7 2115.1,232.7 2115.7,232.7 2116.3,232.7 2116.8,232.7 2117.4,232.7 2118.0,232.7 2118.5,232.7 2119.1,232.7 2119.7,232.7 2120.2,232.7 2120.8,232.7 2121.4,232.7 2122.0,232.7 2122.5,232.7 2123.1,232.7 2123.7,232.7 2124.2,232.7 2124.8,232.7 2125.3,232.7 2125.9,232.7 2126.5,232.7 2127.0,232.7 2127.6,232.7 2128.2,232.7 2128.7,232.7 2129.3,232.7 2129.8,232.7 2130.4,232.7 2131.0,232.7 2131.5,232.7 2132.1,232.7 2132.6,232.7 2133.2,232.7 2133.8,232.7 2134.3,232.7 2134.9,232.7 2135.5,232.7 2136.0,232.7 2136.6,232.7 2137.1,232.7 2137.7,232.7 2138.3,232.7 2138.8,232.7 2139.4,232.7 2139.9,232.7 2140.5,232.7 2141.1,232.7 2141.6,232.7 2142.2,232.7 2142.8,232.7 2143.3,232.7 2143.9,232.7 2144.4,232.7 2145.0,232.7 2145.6,232.7 2146.1,232.7 2146.7,232.7 2147.2,232.7 2147.8,232.7 2148.4,232.7 2148.9,232.7 2149.5,232.7 2150.1,232.7 2150.6,232.7 2151.2,232.7 2151.7,232.7 2152.3,232.7 2152.9,232.7 2153.4,232.7 2154.0,232.7 2154.5,232.7 2155.1,232.7 2155.7,232.7 2156.2,232.7 2156.8,232.7 2157.4,232.7 2157.9,232.7 2158.5,232.7 2159.0,232.7 2159.6,232.7 2160.2,232.7 2160.7,232.7 2161.3,232.7 2161.8,232.7 2162.4,232.7 2163.0,232.7 2163.5,232.7 2164.1,232.7 2164.7,232.7 2165.2,232.7 2165.8,232.7 2166.3,232.7 2166.9,232.7 2167.5,232.7 2168.0,232.7 2168.6,232.7 2169.1,232.7 2169.7,232.7 2170.3,232.7 2170.8,232.7 2171.4,232.7 2172.0,232.7 2172.5,232.7 2173.1,232.7 2173.6,232.7 2174.2,232.7 2174.8,232.7 2175.3,232.7 2175.9,232.7 2176.4,232.7 2177.0,232.7 2177.6,232.7 2178.1,232.7 2178.7,232.7 2179.2,232.7 2179.8,232.7 2180.4,232.7 2180.9,232.7 2181.5,232.7 2182.1,232.7 2182.6,232.7 2183.2,232.7 2183.7,232.7 2184.3,232.7 2184.9,232.7 2185.4,232.7 2186.0,232.7 2186.5,232.7 2187.1,232.7 2187.7,232.7 2188.2,232.7 2188.8,232.7 2189.4,232.7 2189.9,232.7 2190.5,232.7 2191.0,232.7 2191.6,232.7 2192.2,232.7 2192.7,232.7 2193.3,232.7 2193.8,232.7 2194.4,232.7 2195.0,232.7 2195.5,232.7 2196.1,232.7 2196.7,232.7 2197.2,232.7 2197.8,232.7 2198.3,232.7 2198.9,232.7 2199.5,232.7 2200.0,232.7 2200.6,232.7 2201.1,232.7 2201.7,232.7 2202.3,232.7 2202.8,232.7 2203.4,232.7 2204.0,232.7 2204.5,232.7 2205.1,232.7 2205.6,232.7 2206.2,232.7 2206.8,232.7 2207.3,232.7 2207.9,232.7 2208.4,232.7 2209.0,232.7 2209.6,232.7 2210.1,232.7 2210.7,232.7 2211.3,232.7 2211.8,232.7 2212.4,232.7 2212.9,232.7 2213.5,232.7 2214.1,232.7 2214.6,232.7 2215.2,232.7 2215.7,232.7 2216.3,232.7 2216.9,232.7 2217.4,232.7 2218.0,232.7 2218.6,232.7 2219.1,232.7 2219.7,232.7 2220.2,232.7 2220.8,232.7 2221.4,232.7 2221.9,232.7 2222.5,232.7 2223.0,232.7 2223.6,232.7 2224.2,232.7 2224.7,232.7 2225.3,232.7 2225.9,232.7 2226.4,232.7 2227.0,232.7 2227.5,232.7 2228.1,232.7 2228.7,232.7 2229.2,232.7 2229.8,232.7 2230.3,232.7 2230.9,232.7 2231.5,232.7 2232.0,232.7 2232.6,232.7 2233.2,232.7 2233.7,232.7 2234.3,232.7 2234.8,232.7 2235.4,232.7 2236.0,232.7 2236.5,232.7 2237.1,232.7 2237.7,232.7 2238.3,232.7 2238.8,232.7 2239.4,232.7 2240.0,232.7 2240.5,232.7 2241.1,232.7 2241.7,232.7 2242.3,232.7 2242.8,232.7 2243.4,232.7 2244.0,232.7 2244.5,232.7 2245.1,232.7 2245.7,232.7 2246.2,232.7 2246.8,232.7 2247.4,232.7 2248.0,232.7 2248.5,232.7 2249.1,232.7 2249.7,232.7 2250.2,232.7 2250.8,232.7 2251.4,232.7 2252.0,232.7 2252.5,232.7 2253.1,232.7 2253.7,232.7 2254.2,232.7 2254.8,232.7 2255.4,232.7 2256.0,232.7 2256.5,232.7 2257.1,232.7 2257.7,232.7 2258.2,232.7 2258.8,232.7 2259.4,232.7 2260.0,232.7 2260.5,232.7 2261.1,232.7 2261.7,232.7 2262.2,232.7 2262.8,232.7 2263.4,232.7 2263.9,232.7 2264.5,232.7 2265.1,232.7 2265.7,232.7 2266.2,232.7 2266.8,232.7 2267.4,232.7 2267.9,232.7 2268.5,232.7 2269.1,232.7 2269.7,232.7 2270.2,232.7 2270.8,232.7 2271.4,232.7 2271.9,232.7 2272.5,232.7 2273.1,232.7 2273.7,232.7 2274.2,232.7 2274.8,232.7 2275.4,232.7 2275.9,232.7 2276.5,232.7 2277.1,232.7 2277.7,232.7 2278.2,232.8 2278.8,232.8 2279.4,232.8 2279.9,232.8 2280.5,232.8 2281.1,232.8 2281.7,232.8 2282.2,232.8 2282.8,232.8 2283.4,232.8 2283.9,232.8 2284.5,232.8 2285.1,232.8 2285.6,232.8 2286.2,232.8 2286.8,232.8 2287.4,232.8 2287.9,232.8 2288.5,232.8 2289.1,232.8 2289.6,232.8 2290.2,232.8 2290.8,232.8 2291.4,232.8 2291.9,232.8 2292.5,232.8 2293.1,232.8 2293.6,232.8 2294.2,232.8 2294.8,232.8 2295.4,232.8 2295.9,232.8 2296.5,232.8 2297.1,232.8 2297.6,232.8 2298.2,232.8 2298.8,232.8 2299.4,232.8 2299.9,232.8 2300.5,232.8 2301.1,232.8 2301.6,232.8 2302.2,232.8 2302.8,232.8 2303.3,232.8 2303.9,232.8 2304.5,232.9 2305.1,232.9 2305.6,232.9 2306.2,232.9 2306.8,232.9 2307.3,232.9 2307.9,232.9 2308.5,232.9 2309.1,232.9 2309.6,232.9 2310.2,232.9 2310.8,232.9 2311.3,232.9 2311.9,232.9 2312.5,232.9 2313.1,232.9 2313.6,232.9 2314.2,232.9 2314.8,232.9 2315.3,232.9 2315.9,232.9 2316.5,232.9 2317.1,232.9 2317.6,232.9 2318.2,232.9 2318.8,232.9 2319.3,232.9 2319.9,232.9 2320.5,232.9 2321.1,232.9 2321.6,232.9 2322.2,232.9 2322.8,232.9 2323.3,232.9 2323.9,232.9 2324.5,232.9 2325.0,232.9 2325.6,233.0 2326.2,233.0 2326.8,233.0 2327.3,233.0 2327.9,233.0 2328.5,233.0 2329.0,233.0 2329.6,233.0 2330.2,233.0 2330.8,233.0 2331.3,233.0 2331.9,233.0 2332.5,233.0 2333.0,233.0 2333.6,233.0 2334.2,233.0 2334.8,233.0 2335.3,233.0 2335.9,233.0 2336.5,233.0 2337.0,233.0 2337.6,233.0 2338.2,233.0 2338.8,233.0 2339.3,233.0 2339.9,233.0 2340.5,233.0 2341.0,233.0 2341.6,233.0 2342.2,233.0 2342.7,233.0 2343.3,233.0 2343.9,233.0 2344.5,233.0 2345.0,233.0 2345.6,233.1 2346.2,233.1 2346.7,233.1 2347.3,233.1 2347.9,233.1 2348.5,233.1 2349.0,233.1 2349.6,233.1" fill="none" stroke="#ff7f0e" stroke-width="3.4" stroke-linejoin="round" stroke-linecap="round" clip-path="url(#cr0)"/>
<text x="1386.50" y="176.50" font-size="24.6" font-family="'Liberation Sans', Arial, sans-serif" fill="#2c2c2c" text-anchor="end" textLength="34.08" lengthAdjust="spacingAndGlyphs">500</text>
<text x="1387.75" y="241.40" font-size="24.6" font-family="'Liberation Sans', Arial, sans-serif" fill="#2c2c2c" text-anchor="end" textLength="11.60" lengthAdjust="spacingAndGlyphs">0</text>
<text x="1387.00" y="305.05" font-size="24.6" font-family="'Liberation Sans', Arial, sans-serif" fill="#2c2c2c" text-anchor="end" textLength="46.06" lengthAdjust="spacingAndGlyphs">−500</text>
<text x="1324.20" y="232.90" font-size="24.3" font-family="'Liberation Sans', Arial, sans-serif" fill="#2c2c2c" text-anchor="middle" textLength="96.27" lengthAdjust="spacingAndGlyphs" transform="rotate(-90 1324.20 232.90)">Field (nT)</text>
<line x1="1440.5" y1="365.3" x2="1440.5" y2="556.3" stroke="#d3d3d3" stroke-width="2.2"/>
<line x1="1554.7" y1="365.3" x2="1554.7" y2="556.3" stroke="#d3d3d3" stroke-width="2.2"/>
<line x1="1668.6" y1="365.3" x2="1668.6" y2="556.3" stroke="#d3d3d3" stroke-width="2.2"/>
<line x1="1780.9" y1="365.3" x2="1780.9" y2="556.3" stroke="#d3d3d3" stroke-width="2.2"/>
<line x1="1894.8" y1="365.3" x2="1894.8" y2="556.3" stroke="#d3d3d3" stroke-width="2.2"/>
<line x1="2009" y1="365.3" x2="2009" y2="556.3" stroke="#d3d3d3" stroke-width="2.2"/>
<line x1="2123.1" y1="365.3" x2="2123.1" y2="556.3" stroke="#d3d3d3" stroke-width="2.2"/>
<line x1="2235.4" y1="365.3" x2="2235.4" y2="556.3" stroke="#d3d3d3" stroke-width="2.2"/>
<line x1="2349.6" y1="365.3" x2="2349.6" y2="556.3" stroke="#d3d3d3" stroke-width="2.2"/>
<line x1="1395.1" y1="397.2" x2="2395.4" y2="397.2" stroke="#d3d3d3" stroke-width="2.2"/>
<line x1="1395.1" y1="462.4" x2="2395.4" y2="462.4" stroke="#d3d3d3" stroke-width="2.2"/>
<line x1="1395.1" y1="525.5" x2="2395.4" y2="525.5" stroke="#d3d3d3" stroke-width="2.2"/>
<rect x="1395.1" y="365.3" width="1000.3" height="191.0" fill="none" stroke="#d0d0d0" stroke-width="2.4"/>
<polygon points="1440.5,452.3 1441.1,451.7 1441.6,449.9 1442.2,448.3 1442.8,447.2 1443.4,445.9 1443.9,443.9 1444.5,442.5 1445.1,442.5 1445.6,444.0 1446.2,446.6 1446.8,448.7 1447.4,449.6 1447.9,449.9 1448.5,447.7 1449.1,446.9 1449.6,446.6 1450.2,445.2 1450.8,444.7 1451.3,445.1 1451.9,447.3 1452.5,450.0 1453.1,451.9 1453.6,453.3 1454.2,455.1 1454.8,456.2 1455.3,458.3 1455.9,458.8 1456.5,458.9 1457.1,458.0 1457.6,455.7 1458.2,452.1 1458.8,449.7 1459.3,448.6 1459.9,446.8 1460.5,446.8 1461.1,447.8 1461.6,449.4 1462.2,451.3 1462.8,453.2 1463.3,453.7 1463.9,452.8 1464.5,452.6 1465.1,453.2 1465.6,454.5 1466.2,454.7 1466.8,454.0 1467.3,453.8 1467.9,452.9 1468.5,452.0 1469.0,451.9 1469.6,452.0 1470.2,452.2 1470.8,453.5 1471.3,452.8 1471.9,452.1 1472.5,451.3 1473.0,449.7 1473.6,449.6 1474.2,450.3 1474.8,452.5 1475.3,453.5 1475.9,454.2 1476.5,455.5 1477.0,456.3 1477.6,456.3 1478.2,455.5 1478.8,455.5 1479.3,454.7 1479.9,453.3 1480.5,452.1 1481.0,451.4 1481.6,451.5 1482.2,452.3 1482.8,451.9 1483.3,451.0 1483.9,449.3 1484.5,447.4 1485.0,445.4 1485.6,443.5 1486.2,442.6 1486.8,442.7 1487.3,444.4 1487.9,447.0 1488.5,448.8 1489.0,450.0 1489.6,451.3 1490.2,452.9 1490.7,453.6 1491.3,453.6 1491.9,453.9 1492.5,454.0 1493.0,453.3 1493.6,452.7 1494.2,452.8 1494.7,452.6 1495.3,451.4 1495.9,451.4 1496.5,452.1 1497.0,452.0 1497.6,452.0 1498.2,452.3 1498.7,453.7 1499.3,451.8 1499.9,450.0 1500.5,445.4 1501.0,441.5 1501.6,441.0 1502.2,441.6 1502.7,444.1 1503.3,445.3 1503.9,447.3 1504.5,449.6 1505.0,451.7 1505.6,452.7 1506.2,452.2 1506.7,452.1 1507.3,452.5 1507.9,452.5 1508.4,452.9 1509.0,454.2 1509.6,453.8 1510.2,452.5 1510.7,450.7 1511.3,449.2 1511.9,448.0 1512.4,446.9 1513.0,446.7 1513.6,447.6 1514.2,450.1 1514.7,451.8 1515.3,451.5 1515.9,449.8 1516.4,447.6 1517.0,445.3 1517.6,442.4 1518.2,439.9 1518.7,439.2 1519.3,439.3 1519.9,440.2 1520.4,442.7 1521.0,446.4 1521.6,449.9 1522.2,453.9 1522.7,456.3 1523.3,457.4 1523.9,457.7 1524.4,456.6 1525.0,455.9 1525.6,455.8 1526.2,456.3 1526.7,458.7 1527.3,461.6 1527.9,463.9 1528.4,465.4 1529.0,465.8 1529.6,464.8 1530.1,463.2 1530.7,461.7 1531.3,460.8 1531.9,459.3 1532.4,457.5 1533.0,456.8 1533.6,456.8 1534.1,457.4 1534.7,458.2 1535.3,458.9 1535.9,459.9 1536.4,459.7 1537.0,458.2 1537.6,456.9 1538.1,455.4 1538.7,454.2 1539.3,454.0 1539.9,453.4 1540.4,453.5 1541.0,454.0 1541.6,454.1 1542.1,454.4 1542.7,454.2 1543.3,454.1 1543.9,454.0 1544.4,454.1 1545.0,453.4 1545.6,453.3 1546.1,453.3 1546.7,453.6 1547.3,454.0 1547.8,452.6 1548.4,451.5 1549.0,451.3 1549.6,451.5 1550.1,453.3 1550.7,455.7 1551.3,458.0 1551.8,460.0 1552.4,461.6 1553.0,462.1 1553.6,461.7 1554.1,461.6 1554.7,462.4 1555.3,462.4 1555.8,462.9 1556.4,464.4 1557.0,465.3 1557.5,465.3 1558.1,464.0 1558.7,461.6 1559.3,460.1 1559.8,459.9 1560.4,458.0 1561.0,456.6 1561.5,456.4 1562.1,456.8 1562.7,458.1 1563.2,458.1 1563.8,458.9 1564.4,460.9 1565.0,462.1 1565.5,462.1 1566.1,462.4 1566.7,462.7 1567.2,461.6 1567.8,459.9 1568.4,458.2 1568.9,457.4 1569.5,457.5 1570.1,458.9 1570.6,461.2 1571.2,462.2 1571.8,462.6 1572.4,462.2 1572.9,461.9 1573.5,460.9 1574.1,460.9 1574.6,461.2 1575.2,461.3 1575.8,459.4 1576.3,459.3 1576.9,457.8 1577.5,456.6 1578.0,456.6 1578.6,457.5 1579.2,456.3 1579.8,454.5 1580.3,453.2 1580.9,452.4 1581.5,452.4 1582.0,453.0 1582.6,454.7 1583.2,456.6 1583.7,458.5 1584.3,459.9 1584.9,460.4 1585.5,460.1 1586.0,460.1 1586.6,459.2 1587.2,458.5 1587.7,458.5 1588.3,459.8 1588.9,460.0 1589.4,461.3 1590.0,463.2 1590.6,464.1 1591.1,462.9 1591.7,461.7 1592.3,460.6 1592.9,459.9 1593.4,458.9 1594.0,458.2 1594.6,457.6 1595.1,456.8 1595.7,456.8 1596.3,458.2 1596.8,457.8 1597.4,457.8 1598.0,457.7 1598.6,457.2 1599.1,456.7 1599.7,455.5 1600.3,455.0 1600.8,455.1 1601.4,456.0 1602.0,457.0 1602.5,456.3 1603.1,456.3 1603.7,455.0 1604.2,454.8 1604.8,455.0 1605.4,456.1 1606.0,458.2 1606.5,460.5 1607.1,462.0 1607.7,462.7 1608.2,463.5 1608.8,463.9 1609.4,463.4 1609.9,463.4 1610.5,464.1 1611.1,464.9 1611.7,464.2 1612.2,462.0 1612.8,461.5 1613.4,461.1 1613.9,459.9 1614.5,459.1 1615.1,458.9 1615.6,459.1 1616.2,459.4 1616.8,459.5 1617.3,459.8 1617.9,459.5 1618.5,458.4 1619.1,458.1 1619.6,458.3 1620.2,459.0 1620.8,460.1 1621.3,463.2 1621.9,466.3 1622.5,468.6 1623.0,469.8 1623.6,468.8 1624.2,466.4 1624.7,464.2 1625.3,462.8 1625.9,462.0 1626.5,462.0 1627.0,462.2 1627.6,462.0 1628.2,461.3 1628.7,460.3 1629.3,458.4 1629.9,457.5 1630.4,457.3 1631.0,455.7 1631.6,454.2 1632.2,453.1 1632.7,452.3 1633.3,452.4 1633.9,454.4 1634.4,456.2 1635.0,458.3 1635.6,458.4 1636.1,457.4 1636.7,456.5 1637.3,456.5 1637.8,455.2 1638.4,453.8 1639.0,452.8 1639.6,452.0 1640.1,450.4 1640.7,448.2 1641.3,446.6 1641.8,446.2 1642.4,446.3 1643.0,447.4 1643.5,448.5 1644.1,450.6 1644.7,450.5 1645.3,450.5 1645.8,451.1 1646.4,451.1 1647.0,449.9 1647.5,449.7 1648.1,450.1 1648.7,451.8 1649.2,451.8 1649.8,452.2 1650.4,452.5 1650.9,453.1 1651.5,454.1 1652.1,455.2 1652.7,456.7 1653.2,458.3 1653.8,457.8 1654.4,456.5 1654.9,454.9 1655.5,454.6 1656.1,454.7 1656.6,454.7 1657.2,456.3 1657.8,456.5 1658.3,455.7 1658.9,454.6 1659.5,453.5 1660.1,452.2 1660.6,452.1 1661.2,452.5 1661.8,453.4 1662.3,454.1 1662.9,454.6 1663.5,454.8 1664.0,454.2 1664.6,453.9 1665.2,453.3 1665.8,452.3 1666.3,451.5 1666.9,451.4 1667.5,450.8 1668.0,450.7 1668.6,450.5 1669.2,450.0 1669.7,450.0 1670.3,450.6 1670.8,452.0 1671.4,453.7 1672.0,453.9 1672.5,453.9 1673.1,454.0 1673.7,454.0 1674.2,454.2 1674.8,454.6 1675.3,453.5 1675.9,453.2 1676.5,453.5 1677.0,454.4 1677.6,454.5 1678.1,454.8 1678.7,454.0 1679.3,454.1 1679.8,455.2 1680.4,454.9 1681.0,455.4 1681.5,456.0 1682.1,455.4 1682.6,455.2 1683.2,454.9 1683.8,454.8 1684.3,455.0 1684.9,454.9 1685.4,454.1 1686.0,453.8 1686.6,454.1 1687.1,455.5 1687.7,457.1 1688.3,456.8 1688.8,456.8 1689.4,457.0 1689.9,456.9 1690.5,456.9 1691.1,457.3 1691.6,456.1 1692.2,453.8 1692.7,452.6 1693.3,451.5 1693.9,450.9 1694.4,450.9 1695.0,450.0 1695.6,449.7 1696.1,450.2 1696.7,452.6 1697.2,455.4 1697.8,456.7 1698.4,457.0 1698.9,456.2 1699.5,455.0 1700.0,453.6 1700.6,453.2 1701.2,452.7 1701.7,452.9 1702.3,454.2 1702.9,455.6 1703.4,455.9 1704.0,454.6 1704.5,453.8 1705.1,453.3 1705.7,451.9 1706.2,451.6 1706.8,451.9 1707.3,453.4 1707.9,454.7 1708.5,455.6 1709.0,456.5 1709.6,456.9 1710.2,457.1 1710.7,457.9 1711.3,459.3 1711.8,459.3 1712.4,458.7 1713.0,458.6 1713.5,458.6 1714.1,458.0 1714.6,456.8 1715.2,455.8 1715.8,454.8 1716.3,453.6 1716.9,452.1 1717.5,450.4 1718.0,449.3 1718.6,448.6 1719.1,448.6 1719.7,449.4 1720.3,451.7 1720.8,453.5 1721.4,455.0 1721.9,455.9 1722.5,455.8 1723.1,456.2 1723.6,456.0 1724.2,455.6 1724.8,455.2 1725.3,454.9 1725.9,453.9 1726.4,452.8 1727.0,452.7 1727.6,453.3 1728.1,453.5 1728.7,453.6 1729.2,454.4 1729.8,455.3 1730.4,457.1 1730.9,460.1 1731.5,461.5 1732.0,459.1 1732.6,456.6 1733.2,453.0 1733.7,449.6 1734.3,448.4 1734.9,447.8 1735.4,447.9 1736.0,449.6 1736.5,452.5 1737.1,454.5 1737.7,455.5 1738.2,456.4 1738.8,457.6 1739.3,458.6 1739.9,458.7 1740.5,458.7 1741.0,458.5 1741.6,456.2 1742.2,455.3 1742.7,455.3 1743.3,455.1 1743.8,453.8 1744.4,452.7 1745.0,452.0 1745.5,452.0 1746.1,452.8 1746.6,453.2 1747.2,453.9 1747.8,455.3 1748.3,455.6 1748.9,454.3 1749.5,454.2 1750.0,455.8 1750.6,458.7 1751.1,460.3 1751.7,461.0 1752.3,461.5 1752.8,460.8 1753.4,459.6 1753.9,459.0 1754.5,459.0 1755.1,460.2 1755.6,461.8 1756.2,462.8 1756.8,462.8 1757.3,462.3 1757.9,460.5 1758.4,458.5 1759.0,456.7 1759.6,452.9 1760.1,451.2 1760.7,450.1 1761.2,448.6 1761.8,448.6 1762.4,448.4 1762.9,447.7 1763.5,447.8 1764.1,448.0 1764.6,448.2 1765.2,449.0 1765.7,449.3 1766.3,450.0 1766.9,451.2 1767.4,451.6 1768.0,450.7 1768.5,450.7 1769.1,451.2 1769.7,452.0 1770.2,452.4 1770.8,452.7 1771.4,453.5 1771.9,454.5 1772.5,454.0 1773.0,453.9 1773.6,453.4 1774.2,452.9 1774.7,452.9 1775.3,453.1 1775.8,453.1 1776.4,452.9 1777.0,452.9 1777.5,453.9 1778.1,454.1 1778.7,453.7 1779.2,453.0 1779.8,452.0 1780.3,450.1 1780.9,449.2 1781.5,449.1 1782.0,449.2 1782.6,450.2 1783.2,451.5 1783.7,453.6 1784.3,455.5 1784.9,454.5 1785.5,453.4 1786.0,451.7 1786.6,449.2 1787.2,447.8 1787.7,447.7 1788.3,448.4 1788.9,449.5 1789.4,449.6 1790.0,451.0 1790.6,452.5 1791.2,454.3 1791.7,456.0 1792.3,457.7 1792.9,457.7 1793.4,456.1 1794.0,454.4 1794.6,452.6 1795.1,450.3 1795.7,448.1 1796.3,447.0 1796.8,446.6 1797.4,446.5 1798.0,446.9 1798.6,448.2 1799.1,449.5 1799.7,450.5 1800.3,451.5 1800.8,452.5 1801.4,453.4 1802.0,452.4 1802.5,450.7 1803.1,449.8 1803.7,448.9 1804.2,448.2 1804.8,448.4 1805.4,450.2 1806.0,452.3 1806.5,454.6 1807.1,456.1 1807.7,454.1 1808.2,451.7 1808.8,449.9 1809.4,449.1 1809.9,449.2 1810.5,450.6 1811.1,453.3 1811.7,455.2 1812.2,455.6 1812.8,456.1 1813.4,453.8 1813.9,453.5 1814.5,452.3 1815.1,451.5 1815.6,450.7 1816.2,450.1 1816.8,450.1 1817.3,450.4 1817.9,450.4 1818.5,450.4 1819.1,451.6 1819.6,452.0 1820.2,453.2 1820.8,454.1 1821.3,453.9 1821.9,452.6 1822.5,451.7 1823.0,451.2 1823.6,451.2 1824.2,452.0 1824.8,453.1 1825.3,454.5 1825.9,456.4 1826.5,457.9 1827.0,457.1 1827.6,456.0 1828.2,455.4 1828.7,454.7 1829.3,454.3 1829.9,454.1 1830.4,453.7 1831.0,453.3 1831.6,453.1 1832.2,453.2 1832.7,453.7 1833.3,453.5 1833.9,453.0 1834.4,452.9 1835.0,453.0 1835.6,453.0 1836.1,453.6 1836.7,453.7 1837.3,453.8 1837.8,454.9 1838.4,454.9 1839.0,453.7 1839.6,452.9 1840.1,452.0 1840.7,450.6 1841.3,449.3 1841.8,448.8 1842.4,448.8 1843.0,449.2 1843.5,449.6 1844.1,450.6 1844.7,451.8 1845.3,452.4 1845.8,452.7 1846.4,452.3 1847.0,451.5 1847.5,451.4 1848.1,451.5 1848.7,452.4 1849.2,452.7 1849.8,453.7 1850.4,455.0 1850.9,456.2 1851.5,457.0 1852.1,456.1 1852.7,455.1 1853.2,454.8 1853.8,454.0 1854.4,453.0 1854.9,452.0 1855.5,450.7 1856.1,450.0 1856.6,449.6 1857.2,449.5 1857.8,450.1 1858.4,451.9 1858.9,451.9 1859.5,452.2 1860.1,452.7 1860.6,453.5 1861.2,453.1 1861.8,451.2 1862.3,449.3 1862.9,448.4 1863.5,448.0 1864.0,448.0 1864.6,448.9 1865.2,450.9 1865.8,452.4 1866.3,452.2 1866.9,450.6 1867.5,449.2 1868.0,446.3 1868.6,443.7 1869.2,442.3 1869.7,442.2 1870.3,442.8 1870.9,444.0 1871.5,445.6 1872.0,448.6 1872.6,452.3 1873.2,455.5 1873.7,456.9 1874.3,456.0 1874.9,454.8 1875.4,453.2 1876.0,450.8 1876.6,448.8 1877.1,446.6 1877.7,444.7 1878.3,444.7 1878.9,445.9 1879.4,447.3 1880.0,449.0 1880.6,451.5 1881.1,453.9 1881.7,456.5 1882.3,457.9 1882.8,459.0 1883.4,458.3 1884.0,457.0 1884.5,456.3 1885.1,454.8 1885.7,453.8 1886.3,453.8 1886.8,452.4 1887.4,451.5 1888.0,450.8 1888.5,450.7 1889.1,451.5 1889.7,452.6 1890.2,453.3 1890.8,453.8 1891.4,453.5 1892.0,453.5 1892.5,453.6 1893.1,453.4 1893.7,453.2 1894.2,453.3 1894.8,451.5 1895.4,450.2 1895.9,449.6 1896.5,448.5 1897.1,447.3 1897.7,447.0 1898.2,446.6 1898.8,446.3 1899.4,446.7 1899.9,448.4 1900.5,449.9 1901.1,451.1 1901.7,452.2 1902.2,451.7 1902.8,449.6 1903.4,447.6 1903.9,446.7 1904.5,446.6 1905.1,447.2 1905.6,448.8 1906.2,449.2 1906.8,449.3 1907.4,449.0 1907.9,447.8 1908.5,447.7 1909.1,448.2 1909.6,449.4 1910.2,450.1 1910.8,451.5 1911.4,453.2 1911.9,454.1 1912.5,452.4 1913.1,450.4 1913.6,447.9 1914.2,445.0 1914.8,442.9 1915.4,442.2 1915.9,442.2 1916.5,442.3 1917.1,441.8 1917.6,441.8 1918.2,442.8 1918.8,444.8 1919.4,446.2 1919.9,447.0 1920.5,447.3 1921.1,447.3 1921.6,447.4 1922.2,447.9 1922.8,449.9 1923.3,452.5 1923.9,454.0 1924.5,455.4 1925.1,456.4 1925.6,457.4 1926.2,458.4 1926.8,458.5 1927.3,457.9 1927.9,457.0 1928.5,455.9 1929.1,453.3 1929.6,450.6 1930.2,447.9 1930.8,446.4 1931.3,446.4 1931.9,447.2 1932.5,449.8 1933.1,453.6 1933.6,457.5 1934.2,460.8 1934.8,463.3 1935.3,466.0 1935.9,468.1 1936.5,469.6 1937.1,470.2 1937.6,470.9 1938.2,471.9 1938.8,472.0 1939.3,472.4 1939.9,473.9 1940.5,475.3 1941.1,476.2 1941.6,476.7 1942.2,477.3 1942.8,477.3 1943.3,476.5 1943.9,476.5 1944.5,478.1 1945.0,481.1 1945.6,484.1 1946.2,487.0 1946.8,490.4 1947.3,494.6 1947.9,498.8 1948.5,501.6 1949.0,502.3 1949.6,502.0 1950.2,499.5 1950.8,498.1 1951.3,497.6 1951.9,497.8 1952.5,499.0 1953.0,499.2 1953.6,497.4 1954.2,495.5 1954.8,491.5 1955.3,488.3 1955.9,484.7 1956.5,481.0 1957.0,477.7 1957.6,476.1 1958.2,474.6 1958.8,474.2 1959.3,473.4 1959.9,472.5 1960.5,472.0 1961.0,471.0 1961.6,469.0 1962.2,466.3 1962.7,462.9 1963.3,461.4 1963.9,461.2 1964.5,460.5 1965.0,460.5 1965.6,461.1 1966.2,460.4 1966.7,458.9 1967.3,457.8 1967.9,457.4 1968.5,457.5 1969.0,458.5 1969.6,460.4 1970.2,461.0 1970.7,458.0 1971.3,455.0 1971.9,452.6 1972.5,450.2 1973.0,449.0 1973.6,448.3 1974.2,448.5 1974.7,449.8 1975.3,449.6 1975.9,448.9 1976.5,448.9 1977.0,449.5 1977.6,450.1 1978.2,450.0 1978.7,450.0 1979.3,450.5 1979.9,449.6 1980.5,449.3 1981.0,449.0 1981.6,448.1 1982.2,448.1 1982.7,449.0 1983.3,450.1 1983.9,450.3 1984.4,450.2 1985.0,450.1 1985.6,449.3 1986.2,448.5 1986.7,447.5 1987.3,446.5 1987.9,446.5 1988.4,447.6 1989.0,449.1 1989.6,449.4 1990.2,449.4 1990.7,449.7 1991.3,450.6 1991.9,449.5 1992.4,448.9 1993.0,447.2 1993.6,445.7 1994.2,443.8 1994.7,441.8 1995.3,439.7 1995.9,438.2 1996.4,437.9 1997.0,438.3 1997.6,438.1 1998.2,438.6 1998.7,439.6 1999.3,440.3 1999.9,441.4 2000.4,443.7 2001.0,446.6 2001.6,446.2 2002.1,444.5 2002.7,444.0 2003.3,444.1 2003.9,444.5 2004.4,443.8 2005.0,443.6 2005.6,443.8 2006.1,444.5 2006.7,445.2 2007.3,446.4 2007.9,447.7 2008.4,448.0 2009.0,448.4 2009.6,449.2 2010.1,449.8 2010.7,449.4 2011.3,448.9 2011.9,447.3 2012.4,445.1 2013.0,443.5 2013.6,443.4 2014.1,444.4 2014.7,446.8 2015.3,447.6 2015.8,446.9 2016.4,445.2 2017.0,443.9 2017.6,443.8 2018.1,444.2 2018.7,445.2 2019.3,445.1 2019.8,445.2 2020.4,446.0 2021.0,447.1 2021.6,448.4 2022.1,449.4 2022.7,450.3 2023.3,450.7 2023.8,450.3 2024.4,448.0 2025.0,446.1 2025.5,445.6 2026.1,444.6 2026.7,443.8 2027.3,444.0 2027.8,446.2 2028.4,447.3 2029.0,449.1 2029.5,450.9 2030.1,452.0 2030.7,451.3 2031.2,450.1 2031.8,448.6 2032.4,447.1 2033.0,446.5 2033.5,446.5 2034.1,446.7 2034.7,446.5 2035.2,446.6 2035.8,446.3 2036.4,446.0 2037.0,446.1 2037.5,445.9 2038.1,444.3 2038.7,443.0 2039.2,442.7 2039.8,442.9 2040.4,444.6 2040.9,447.2 2041.5,448.9 2042.1,448.9 2042.7,447.7 2043.2,444.9 2043.8,444.1 2044.4,444.1 2044.9,444.7 2045.5,445.0 2046.1,447.2 2046.7,449.2 2047.2,450.5 2047.8,451.5 2048.4,452.4 2048.9,452.1 2049.5,450.3 2050.1,449.3 2050.6,448.9 2051.2,448.7 2051.8,449.2 2052.4,451.7 2052.9,453.9 2053.5,455.2 2054.1,455.2 2054.6,454.9 2055.2,455.0 2055.8,455.2 2056.4,455.5 2056.9,454.2 2057.5,454.0 2058.1,454.7 2058.6,454.0 2059.2,452.7 2059.8,451.8 2060.3,450.7 2060.9,448.9 2061.5,447.9 2062.1,447.1 2062.6,446.7 2063.2,446.8 2063.8,448.2 2064.3,449.5 2064.9,449.8 2065.5,450.6 2066.1,452.4 2066.6,453.8 2067.2,455.8 2067.8,455.2 2068.3,454.3 2068.9,453.1 2069.5,450.8 2070.0,448.9 2070.6,448.5 2071.2,448.7 2071.8,448.9 2072.3,448.6 2072.9,448.4 2073.5,448.4 2074.0,448.8 2074.6,449.7 2075.2,451.9 2075.7,453.7 2076.3,453.7 2076.9,452.2 2077.5,450.7 2078.0,449.2 2078.6,448.2 2079.2,447.9 2079.7,447.5 2080.3,447.4 2080.9,446.2 2081.5,445.9 2082.0,446.1 2082.6,446.9 2083.2,447.8 2083.7,448.5 2084.3,449.5 2084.9,450.7 2085.4,451.9 2086.0,451.8 2086.6,451.7 2087.2,452.0 2087.7,452.8 2088.3,453.3 2088.9,453.7 2089.4,454.4 2090.0,455.1 2090.6,454.5 2091.2,454.1 2091.7,453.5 2092.3,453.3 2092.9,453.9 2093.4,456.0 2094.0,457.4 2094.6,457.7 2095.1,456.6 2095.7,455.2 2096.3,452.6 2096.9,451.1 2097.4,449.5 2098.0,449.5 2098.6,449.8 2099.1,449.9 2099.7,450.5 2100.3,451.0 2100.9,450.8 2101.4,449.9 2102.0,449.2 2102.6,448.8 2103.1,447.6 2103.7,446.6 2104.3,446.1 2104.8,445.5 2105.4,445.5 2106.0,446.8 2106.6,448.3 2107.1,448.4 2107.7,448.4 2108.3,449.1 2108.8,450.7 2109.4,452.0 2110.0,451.7 2110.5,451.3 2111.1,450.5 2111.7,450.3 2112.3,450.6 2112.8,450.8 2113.4,451.0 2114.0,452.3 2114.5,454.0 2115.1,455.7 2115.7,457.0 2116.3,457.2 2116.8,457.2 2117.4,457.3 2118.0,458.2 2118.5,459.7 2119.1,461.8 2119.7,462.9 2120.2,461.8 2120.8,458.7 2121.4,455.1 2122.0,452.1 2122.5,450.0 2123.1,448.9 2123.7,449.1 2124.2,449.8 2124.8,449.9 2125.3,449.9 2125.9,449.8 2126.5,449.8 2127.0,450.3 2127.6,451.4 2128.2,453.1 2128.7,454.5 2129.3,454.2 2129.8,453.2 2130.4,452.8 2131.0,450.0 2131.5,449.4 2132.1,449.4 2132.6,449.4 2133.2,451.0 2133.8,453.9 2134.3,455.5 2134.9,457.1 2135.5,457.2 2136.0,456.4 2136.6,455.0 2137.1,454.0 2137.7,454.0 2138.3,454.8 2138.8,456.4 2139.4,458.4 2139.9,460.5 2140.5,461.9 2141.1,461.8 2141.6,461.6 2142.2,461.7 2142.8,462.0 2143.3,460.1 2143.9,458.6 2144.4,456.4 2145.0,453.8 2145.6,452.1 2146.1,451.0 2146.7,450.2 2147.2,450.2 2147.8,450.9 2148.4,452.3 2148.9,453.8 2149.5,455.0 2150.1,455.9 2150.6,455.9 2151.2,454.8 2151.7,454.8 2152.3,455.3 2152.9,455.6 2153.4,456.1 2154.0,456.3 2154.5,457.3 2155.1,458.6 2155.7,458.5 2156.2,458.9 2156.8,459.2 2157.4,458.7 2157.9,458.4 2158.5,458.4 2159.0,458.8 2159.6,457.6 2160.2,456.7 2160.7,456.4 2161.3,456.0 2161.8,456.0 2162.4,456.6 2163.0,457.4 2163.5,457.7 2164.1,457.3 2164.7,457.2 2165.2,457.3 2165.8,458.1 2166.3,457.6 2166.9,456.1 2167.5,453.9 2168.0,451.0 2168.6,447.7 2169.1,447.2 2169.7,447.3 2170.3,447.4 2170.8,449.0 2171.4,451.4 2172.0,453.5 2172.5,454.3 2173.1,454.6 2173.6,453.6 2174.2,452.5 2174.8,452.5 2175.3,452.5 2175.9,452.6 2176.4,454.0 2177.0,456.0 2177.6,457.6 2178.1,456.8 2178.7,456.0 2179.2,455.7 2179.8,455.3 2180.4,455.3 2180.9,456.6 2181.5,458.4 2182.1,459.3 2182.6,459.6 2183.2,456.9 2183.7,453.4 2184.3,450.0 2184.9,446.8 2185.4,444.3 2186.0,443.3 2186.5,443.1 2187.1,443.4 2187.7,443.8 2188.2,445.2 2188.8,448.0 2189.4,450.1 2189.9,451.2 2190.5,452.4 2191.0,453.8 2191.6,453.5 2192.2,451.1 2192.7,448.6 2193.3,447.2 2193.8,447.2 2194.4,448.7 2195.0,450.2 2195.5,452.7 2196.1,455.4 2196.7,456.2 2197.2,456.7 2197.8,457.0 2198.3,456.9 2198.9,454.7 2199.5,452.1 2200.0,451.1 2200.6,448.9 2201.1,447.2 2201.7,447.3 2202.3,448.9 2202.8,450.8 2203.4,451.8 2204.0,453.6 2204.5,456.4 2205.1,457.2 2205.6,458.5 2206.2,458.3 2206.8,457.0 2207.3,454.6 2207.9,452.9 2208.4,451.5 2209.0,450.3 2209.6,449.4 2210.1,448.5 2210.7,448.5 2211.3,449.5 2211.8,449.3 2212.4,448.9 2212.9,448.8 2213.5,448.9 2214.1,449.8 2214.6,451.5 2215.2,453.1 2215.7,454.3 2216.3,455.1 2216.9,456.5 2217.4,456.6 2218.0,456.8 2218.6,455.8 2219.1,454.7 2219.7,454.1 2220.2,454.2 2220.8,453.2 2221.4,453.3 2221.9,455.1 2222.5,456.6 2223.0,456.1 2223.6,453.8 2224.2,451.2 2224.7,449.2 2225.3,448.2 2225.9,445.4 2226.4,444.3 2227.0,444.4 2227.5,445.4 2228.1,445.2 2228.7,445.2 2229.2,445.1 2229.8,445.1 2230.3,446.1 2230.9,447.9 2231.5,450.3 2232.0,454.1 2232.6,456.3 2233.2,457.7 2233.7,458.8 2234.3,458.3 2234.8,457.9 2235.4,456.9 2236.0,456.8 2236.5,455.0 2237.1,453.2 2237.7,451.9 2238.3,451.1 2238.8,450.1 2239.4,449.6 2240.0,449.7 2240.5,450.6 2241.1,449.7 2241.7,449.7 2242.3,450.3 2242.8,451.0 2243.4,451.6 2244.0,452.4 2244.5,451.8 2245.1,449.2 2245.7,448.7 2246.2,448.9 2246.8,447.9 2247.4,447.4 2248.0,447.3 2248.5,447.5 2249.1,448.0 2249.7,449.0 2250.2,449.0 2250.8,449.8 2251.4,449.4 2252.0,449.5 2252.5,450.0 2253.1,450.0 2253.7,450.0 2254.2,449.5 2254.8,449.5 2255.4,448.3 2256.0,447.8 2256.5,446.4 2257.1,446.1 2257.7,446.1 2258.2,446.4 2258.8,446.8 2259.4,447.9 2260.0,450.0 2260.5,452.6 2261.1,455.0 2261.7,456.9 2262.2,458.2 2262.8,458.8 2263.4,459.1 2263.9,459.6 2264.5,460.1 2265.1,461.0 2265.7,462.3 2266.2,463.5 2266.8,463.5 2267.4,463.5 2267.9,463.5 2268.5,463.2 2269.1,461.6 2269.7,460.4 2270.2,460.3 2270.8,460.0 2271.4,459.7 2271.9,459.8 2272.5,460.2 2273.1,460.8 2273.7,460.6 2274.2,458.9 2274.8,457.5 2275.4,456.5 2275.9,455.8 2276.5,455.4 2277.1,454.3 2277.7,454.3 2278.2,455.3 2278.8,457.1 2279.4,457.1 2279.9,455.8 2280.5,454.7 2281.1,454.4 2281.7,452.4 2282.2,452.4 2282.8,454.0 2283.4,454.9 2283.9,455.8 2284.5,455.9 2285.1,456.4 2285.6,458.0 2286.2,459.5 2286.8,460.0 2287.4,460.0 2287.9,460.2 2288.5,460.1 2289.1,460.2 2289.6,460.9 2290.2,462.1 2290.8,463.9 2291.4,466.3 2291.9,465.8 2292.5,463.4 2293.1,460.6 2293.6,456.3 2294.2,454.0 2294.8,452.7 2295.4,452.6 2295.9,453.9 2296.5,456.2 2297.1,457.8 2297.6,458.7 2298.2,458.2 2298.8,457.3 2299.4,455.9 2299.9,454.6 2300.5,453.5 2301.1,453.0 2301.6,453.0 2302.2,454.0 2302.8,454.8 2303.3,455.3 2303.9,455.8 2304.5,456.2 2305.1,456.4 2305.6,456.9 2306.2,458.8 2306.8,460.7 2307.3,461.3 2307.9,462.7 2308.5,465.1 2309.1,466.0 2309.6,467.4 2310.2,467.7 2310.8,468.4 2311.3,468.4 2311.9,469.0 2312.5,469.3 2313.1,468.6 2313.6,467.7 2314.2,467.7 2314.8,468.1 2315.3,467.4 2315.9,466.1 2316.5,465.5 2317.1,464.4 2317.6,462.6 2318.2,462.2 2318.8,462.8 2319.3,464.9 2319.9,466.1 2320.5,466.3 2321.1,465.2 2321.6,463.7 2322.2,461.5 2322.8,458.7 2323.3,456.6 2323.9,455.8 2324.5,455.7 2325.0,455.0 2325.6,454.8 2326.2,454.6 2326.8,453.7 2327.3,451.9 2327.9,449.9 2328.5,449.5 2329.0,449.8 2329.6,450.8 2330.2,452.7 2330.8,455.5 2331.3,456.6 2331.9,457.7 2332.5,458.8 2333.0,459.1 2333.6,459.3 2334.2,459.3 2334.8,459.6 2335.3,458.9 2335.9,458.2 2336.5,456.4 2337.0,455.5 2337.6,455.8 2338.2,458.4 2338.8,461.2 2339.3,463.8 2339.9,466.9 2340.5,469.4 2341.0,468.2 2341.6,463.7 2342.2,459.2 2342.7,457.1 2343.3,453.9 2343.9,453.5 2344.5,454.4 2345.0,454.7 2345.6,455.8 2346.2,457.1 2346.7,456.8 2347.3,456.7 2347.9,456.8 2348.5,455.9 2349.0,455.0 2349.6,454.9 2349.6,464.5 2349.0,465.1 2348.5,466.1 2347.9,467.5 2347.3,468.4 2346.7,468.4 2346.2,467.6 2345.6,468.1 2345.0,467.9 2344.5,465.3 2343.9,465.5 2343.3,466.2 2342.7,469.8 2342.2,474.3 2341.6,478.4 2341.0,480.5 2340.5,480.7 2339.9,479.8 2339.3,477.0 2338.8,474.0 2338.2,471.2 2337.6,469.2 2337.0,468.1 2336.5,468.0 2335.9,468.7 2335.3,469.2 2334.8,469.8 2334.2,469.9 2333.6,469.8 2333.0,469.0 2332.5,469.0 2331.9,468.9 2331.3,468.2 2330.8,466.6 2330.2,464.7 2329.6,462.5 2329.0,460.5 2328.5,460.9 2327.9,462.4 2327.3,464.4 2326.8,466.3 2326.2,466.5 2325.6,466.1 2325.0,465.9 2324.5,467.0 2323.9,467.6 2323.3,469.9 2322.8,471.7 2322.2,473.2 2321.6,474.5 2321.1,475.9 2320.5,477.0 2319.9,477.6 2319.3,477.3 2318.8,475.3 2318.2,475.3 2317.6,474.6 2317.1,475.5 2316.5,476.2 2315.9,478.2 2315.3,478.9 2314.8,479.0 2314.2,478.9 2313.6,479.4 2313.1,479.8 2312.5,479.9 2311.9,479.8 2311.3,478.9 2310.8,479.1 2310.2,478.9 2309.6,478.2 2309.1,477.3 2308.5,475.6 2307.9,475.1 2307.3,473.7 2306.8,471.9 2306.2,471.8 2305.6,471.4 2305.1,470.4 2304.5,468.6 2303.9,467.0 2303.3,466.3 2302.8,466.0 2302.2,464.7 2301.6,463.4 2301.1,463.3 2300.5,464.9 2299.9,467.5 2299.4,469.6 2298.8,470.5 2298.2,470.7 2297.6,470.5 2297.1,469.9 2296.5,468.0 2295.9,466.4 2295.4,465.0 2294.8,464.1 2294.2,466.3 2293.6,469.6 2293.1,472.8 2292.5,475.1 2291.9,477.0 2291.4,477.6 2290.8,477.6 2290.2,476.6 2289.6,474.5 2289.1,472.0 2288.5,470.3 2287.9,470.6 2287.4,470.6 2286.8,470.3 2286.2,469.5 2285.6,468.9 2285.1,468.2 2284.5,467.7 2283.9,466.4 2283.4,465.4 2282.8,465.0 2282.2,464.0 2281.7,464.2 2281.1,465.0 2280.5,466.6 2279.9,468.0 2279.4,468.1 2278.8,467.5 2278.2,466.6 2277.7,465.3 2277.1,465.8 2276.5,466.3 2275.9,467.4 2275.4,468.5 2274.8,470.6 2274.2,471.6 2273.7,472.1 2273.1,472.8 2272.5,473.8 2271.9,473.6 2271.4,471.2 2270.8,470.7 2270.2,470.9 2269.7,471.8 2269.1,472.8 2268.5,474.7 2267.9,475.0 2267.4,474.7 2266.8,474.3 2266.2,473.9 2265.7,473.1 2265.1,472.5 2264.5,471.3 2263.9,469.5 2263.4,469.1 2262.8,468.6 2262.2,468.0 2261.7,467.8 2261.1,466.9 2260.5,465.0 2260.0,463.0 2259.4,461.2 2258.8,459.2 2258.2,457.5 2257.7,457.3 2257.1,457.3 2256.5,457.3 2256.0,457.9 2255.4,458.7 2254.8,459.4 2254.2,460.2 2253.7,461.4 2253.1,461.6 2252.5,461.1 2252.0,460.0 2251.4,459.4 2250.8,459.8 2250.2,460.2 2249.7,460.3 2249.1,459.8 2248.5,458.5 2248.0,457.2 2247.4,458.3 2246.8,458.9 2246.2,459.7 2245.7,461.0 2245.1,462.0 2244.5,462.8 2244.0,462.8 2243.4,462.6 2242.8,461.8 2242.3,460.9 2241.7,460.3 2241.1,461.1 2240.5,463.6 2240.0,464.3 2239.4,463.7 2238.8,463.7 2238.3,463.8 2237.7,465.5 2237.1,466.4 2236.5,466.6 2236.0,467.0 2235.4,467.3 2234.8,467.9 2234.3,468.3 2233.7,468.3 2233.2,468.2 2232.6,468.0 2232.0,466.2 2231.5,463.4 2230.9,460.8 2230.3,458.5 2229.8,456.4 2229.2,455.9 2228.7,456.0 2228.1,455.9 2227.5,455.4 2227.0,455.5 2226.4,456.2 2225.9,457.9 2225.3,460.4 2224.7,463.1 2224.2,464.8 2223.6,466.1 2223.0,466.6 2222.5,467.1 2221.9,467.1 2221.4,466.4 2220.8,465.2 2220.2,464.7 2219.7,465.5 2219.1,466.6 2218.6,467.3 2218.0,467.5 2217.4,467.4 2216.9,467.1 2216.3,467.1 2215.7,466.1 2215.2,464.9 2214.6,463.3 2214.1,461.5 2213.5,460.0 2212.9,458.9 2212.4,459.1 2211.8,459.2 2211.3,459.6 2210.7,460.2 2210.1,460.2 2209.6,460.0 2209.0,461.4 2208.4,463.3 2207.9,465.9 2207.3,467.6 2206.8,468.8 2206.2,469.4 2205.6,469.3 2205.1,468.5 2204.5,467.9 2204.0,466.6 2203.4,464.6 2202.8,462.2 2202.3,460.1 2201.7,460.2 2201.1,461.9 2200.6,463.5 2200.0,464.5 2199.5,465.0 2198.9,466.3 2198.3,467.7 2197.8,467.8 2197.2,467.7 2196.7,467.4 2196.1,466.5 2195.5,464.8 2195.0,463.1 2194.4,461.0 2193.8,459.8 2193.3,459.8 2192.7,461.5 2192.2,462.8 2191.6,464.8 2191.0,464.9 2190.5,464.2 2189.9,463.0 2189.4,461.3 2188.8,459.2 2188.2,457.3 2187.7,455.3 2187.1,453.7 2186.5,454.5 2186.0,456.2 2185.4,457.9 2184.9,459.2 2184.3,464.1 2183.7,467.3 2183.2,469.2 2182.6,470.3 2182.1,470.5 2181.5,470.2 2180.9,468.6 2180.4,467.6 2179.8,467.0 2179.2,466.2 2178.7,466.8 2178.1,467.6 2177.6,468.4 2177.0,468.3 2176.4,467.7 2175.9,466.9 2175.3,464.9 2174.8,463.6 2174.2,463.9 2173.6,464.7 2173.1,465.5 2172.5,465.5 2172.0,464.7 2171.4,463.4 2170.8,461.4 2170.3,459.7 2169.7,458.1 2169.1,458.9 2168.6,460.6 2168.0,463.6 2167.5,465.8 2166.9,467.2 2166.3,468.0 2165.8,468.9 2165.2,469.0 2164.7,468.9 2164.1,468.6 2163.5,467.7 2163.0,468.1 2162.4,467.9 2161.8,466.8 2161.3,467.0 2160.7,468.1 2160.2,469.1 2159.6,470.1 2159.0,471.1 2158.5,471.5 2157.9,471.5 2157.4,470.9 2156.8,470.4 2156.2,470.0 2155.7,470.4 2155.1,470.8 2154.5,470.5 2154.0,469.0 2153.4,467.7 2152.9,466.7 2152.3,466.1 2151.7,466.2 2151.2,466.1 2150.6,466.3 2150.1,466.9 2149.5,466.9 2148.9,466.5 2148.4,465.6 2147.8,464.1 2147.2,463.4 2146.7,463.7 2146.1,464.1 2145.6,465.0 2145.0,466.9 2144.4,469.2 2143.9,471.0 2143.3,472.5 2142.8,473.5 2142.2,473.8 2141.6,473.8 2141.1,473.4 2140.5,473.1 2139.9,472.5 2139.4,470.8 2138.8,468.6 2138.3,466.6 2137.7,465.5 2137.1,466.7 2136.6,467.9 2136.0,468.3 2135.5,468.2 2134.9,467.2 2134.3,466.5 2133.8,465.3 2133.2,463.3 2132.6,461.7 2132.1,460.9 2131.5,460.9 2131.0,462.5 2130.4,464.6 2129.8,465.7 2129.3,466.2 2128.7,466.1 2128.2,464.7 2127.6,462.7 2127.0,462.2 2126.5,462.1 2125.9,461.2 2125.3,461.2 2124.8,460.4 2124.2,460.2 2123.7,459.9 2123.1,461.0 2122.5,461.9 2122.0,465.4 2121.4,469.5 2120.8,471.7 2120.2,472.7 2119.7,472.9 2119.1,472.8 2118.5,471.7 2118.0,469.1 2117.4,468.2 2116.8,467.7 2116.3,467.8 2115.7,467.9 2115.1,467.2 2114.5,466.0 2114.0,465.2 2113.4,463.0 2112.8,462.4 2112.3,460.8 2111.7,460.9 2111.1,461.4 2110.5,462.3 2110.0,462.3 2109.4,462.0 2108.8,461.7 2108.3,461.0 2107.7,460.2 2107.1,459.8 2106.6,459.1 2106.0,458.1 2105.4,457.3 2104.8,456.3 2104.3,456.5 2103.7,457.1 2103.1,458.3 2102.6,460.1 2102.0,461.6 2101.4,461.8 2100.9,461.6 2100.3,461.3 2099.7,461.2 2099.1,462.0 2098.6,462.2 2098.0,461.7 2097.4,461.4 2096.9,462.6 2096.3,464.4 2095.7,466.6 2095.1,467.4 2094.6,467.9 2094.0,467.6 2093.4,467.4 2092.9,465.7 2092.3,464.9 2091.7,465.0 2091.2,465.1 2090.6,466.5 2090.0,467.1 2089.4,466.8 2088.9,464.5 2088.3,464.5 2087.7,463.9 2087.2,463.9 2086.6,464.0 2086.0,463.7 2085.4,462.6 2084.9,461.8 2084.3,460.5 2083.7,459.0 2083.2,458.2 2082.6,457.4 2082.0,457.3 2081.5,457.2 2080.9,457.4 2080.3,457.9 2079.7,458.1 2079.2,458.1 2078.6,459.2 2078.0,460.6 2077.5,462.7 2076.9,464.0 2076.3,464.6 2075.7,464.5 2075.2,462.8 2074.6,462.2 2074.0,461.0 2073.5,459.9 2072.9,459.3 2072.3,459.0 2071.8,459.2 2071.2,459.2 2070.6,459.5 2070.0,461.6 2069.5,463.7 2068.9,464.2 2068.3,467.5 2067.8,468.3 2067.2,468.1 2066.6,466.6 2066.1,464.0 2065.5,461.9 2064.9,460.9 2064.3,460.0 2063.8,459.9 2063.2,459.9 2062.6,459.2 2062.1,458.5 2061.5,458.8 2060.9,460.4 2060.3,461.9 2059.8,463.0 2059.2,464.3 2058.6,466.1 2058.1,467.0 2057.5,467.0 2056.9,466.5 2056.4,466.3 2055.8,466.4 2055.2,467.1 2054.6,468.3 2054.1,468.4 2053.5,467.1 2052.9,465.0 2052.4,464.4 2051.8,464.4 2051.2,463.8 2050.6,463.1 2050.1,462.2 2049.5,462.1 2048.9,462.8 2048.4,462.8 2047.8,462.8 2047.2,462.9 2046.7,461.9 2046.1,459.6 2045.5,457.2 2044.9,454.9 2044.4,454.7 2043.8,456.5 2043.2,457.7 2042.7,458.6 2042.1,460.6 2041.5,460.7 2040.9,459.7 2040.4,457.8 2039.8,456.6 2039.2,455.2 2038.7,454.5 2038.1,455.3 2037.5,457.1 2037.0,457.8 2036.4,457.8 2035.8,457.5 2035.2,456.7 2034.7,456.8 2034.1,457.2 2033.5,457.9 2033.0,458.8 2032.4,459.5 2031.8,460.6 2031.2,462.2 2030.7,462.7 2030.1,462.7 2029.5,461.8 2029.0,460.2 2028.4,459.3 2027.8,457.9 2027.3,456.2 2026.7,455.1 2026.1,455.0 2025.5,456.5 2025.0,458.9 2024.4,460.7 2023.8,461.0 2023.3,461.1 2022.7,461.4 2022.1,461.2 2021.6,459.7 2021.0,457.7 2020.4,457.3 2019.8,456.6 2019.3,455.8 2018.7,455.2 2018.1,455.2 2017.6,455.4 2017.0,456.4 2016.4,458.1 2015.8,459.0 2015.3,459.1 2014.7,458.5 2014.1,456.5 2013.6,455.0 2013.0,455.0 2012.4,456.4 2011.9,458.5 2011.3,459.9 2010.7,460.0 2010.1,459.8 2009.6,459.3 2009.0,459.1 2008.4,458.8 2007.9,458.1 2007.3,458.4 2006.7,458.1 2006.1,456.1 2005.6,456.5 2005.0,456.4 2004.4,455.7 2003.9,455.5 2003.3,456.3 2002.7,457.8 2002.1,457.9 2001.6,458.0 2001.0,457.3 2000.4,456.8 1999.9,455.2 1999.3,453.6 1998.7,453.0 1998.2,451.6 1997.6,449.7 1997.0,449.0 1996.4,448.6 1995.9,449.8 1995.3,450.8 1994.7,453.3 1994.2,455.4 1993.6,456.8 1993.0,458.9 1992.4,459.8 1991.9,460.4 1991.3,461.3 1990.7,461.6 1990.2,462.1 1989.6,462.1 1989.0,461.5 1988.4,460.0 1987.9,458.1 1987.3,458.8 1986.7,459.7 1986.2,459.8 1985.6,461.5 1985.0,463.0 1984.4,462.9 1983.9,461.2 1983.3,461.1 1982.7,460.8 1982.2,459.6 1981.6,459.7 1981.0,460.4 1980.5,460.2 1979.9,461.1 1979.3,461.5 1978.7,461.5 1978.2,460.9 1977.6,460.5 1977.0,460.2 1976.5,460.0 1975.9,459.5 1975.3,459.6 1974.7,459.6 1974.2,459.5 1973.6,459.3 1973.0,460.0 1972.5,462.4 1971.9,466.1 1971.3,469.4 1970.7,471.2 1970.2,471.2 1969.6,471.7 1969.0,471.3 1968.5,469.9 1967.9,469.4 1967.3,469.8 1966.7,470.0 1966.2,470.4 1965.6,471.1 1965.0,471.2 1964.5,470.7 1963.9,472.8 1963.3,475.3 1962.7,477.4 1962.2,479.3 1961.6,481.2 1961.0,482.8 1960.5,483.7 1959.9,483.8 1959.3,483.8 1958.8,484.5 1958.2,485.6 1957.6,487.2 1957.0,490.2 1956.5,494.8 1955.9,499.5 1955.3,502.5 1954.8,505.2 1954.2,508.3 1953.6,510.4 1953.0,510.6 1952.5,510.2 1951.9,509.5 1951.3,509.5 1950.8,511.0 1950.2,512.6 1949.6,513.1 1949.0,513.1 1948.5,512.7 1947.9,510.7 1947.3,508.4 1946.8,504.5 1946.2,500.1 1945.6,497.1 1945.0,494.5 1944.5,491.4 1943.9,488.8 1943.3,487.8 1942.8,489.5 1942.2,490.2 1941.6,490.1 1941.1,489.2 1940.5,487.7 1939.9,486.7 1939.3,485.4 1938.8,483.1 1938.2,482.5 1937.6,482.3 1937.1,481.9 1936.5,481.4 1935.9,480.6 1935.3,478.7 1934.8,475.5 1934.2,473.1 1933.6,471.4 1933.1,468.8 1932.5,465.4 1931.9,462.1 1931.3,459.6 1930.8,459.3 1930.2,460.3 1929.6,462.3 1929.1,466.5 1928.5,467.9 1927.9,469.8 1927.3,470.6 1926.8,470.4 1926.2,469.4 1925.6,469.1 1925.1,469.1 1924.5,468.8 1923.9,467.1 1923.3,464.7 1922.8,462.3 1922.2,459.3 1921.6,457.5 1921.1,457.1 1920.5,458.2 1919.9,458.9 1919.4,458.7 1918.8,456.7 1918.2,454.4 1917.6,453.6 1917.1,452.6 1916.5,452.9 1915.9,453.0 1915.4,453.6 1914.8,455.3 1914.2,458.1 1913.6,460.3 1913.1,463.0 1912.5,464.3 1911.9,464.2 1911.4,463.7 1910.8,462.6 1910.2,462.0 1909.6,460.8 1909.1,459.7 1908.5,460.4 1907.9,460.5 1907.4,459.9 1906.8,460.8 1906.2,460.9 1905.6,460.5 1905.1,459.9 1904.5,459.0 1903.9,459.5 1903.4,461.7 1902.8,462.6 1902.2,462.9 1901.7,463.1 1901.1,462.5 1900.5,461.5 1899.9,461.3 1899.4,460.0 1898.8,458.0 1898.2,457.5 1897.7,458.2 1897.1,458.5 1896.5,459.2 1895.9,461.8 1895.4,462.5 1894.8,463.3 1894.2,464.3 1893.7,464.2 1893.1,464.9 1892.5,464.9 1892.0,464.9 1891.4,464.8 1890.8,463.9 1890.2,464.0 1889.7,463.8 1889.1,462.7 1888.5,463.2 1888.0,463.8 1887.4,464.1 1886.8,464.7 1886.3,465.0 1885.7,465.2 1885.1,465.5 1884.5,466.8 1884.0,468.0 1883.4,469.0 1882.8,469.3 1882.3,469.3 1881.7,467.7 1881.1,465.6 1880.6,462.9 1880.0,461.0 1879.4,458.0 1878.9,457.3 1878.3,456.7 1877.7,457.2 1877.1,459.4 1876.6,461.9 1876.0,464.1 1875.4,465.4 1874.9,467.0 1874.3,467.5 1873.7,467.4 1873.2,466.9 1872.6,465.0 1872.0,462.2 1871.5,458.8 1870.9,455.9 1870.3,453.9 1869.7,453.1 1869.2,454.3 1868.6,457.1 1868.0,460.0 1867.5,461.5 1866.9,462.5 1866.3,463.4 1865.8,463.6 1865.2,463.4 1864.6,462.0 1864.0,459.7 1863.5,459.6 1862.9,460.9 1862.3,462.0 1861.8,462.7 1861.2,463.8 1860.6,464.7 1860.1,464.7 1859.5,463.6 1858.9,463.3 1858.4,462.5 1857.8,461.2 1857.2,460.5 1856.6,460.0 1856.1,460.4 1855.5,461.5 1854.9,463.5 1854.4,465.1 1853.8,466.4 1853.2,467.3 1852.7,467.6 1852.1,467.9 1851.5,468.5 1850.9,468.5 1850.4,467.2 1849.8,465.0 1849.2,464.5 1848.7,463.1 1848.1,462.0 1847.5,462.1 1847.0,462.6 1846.4,463.6 1845.8,463.7 1845.3,463.1 1844.7,462.1 1844.1,461.4 1843.5,460.7 1843.0,460.7 1842.4,460.8 1841.8,460.9 1841.3,462.0 1840.7,463.5 1840.1,463.6 1839.6,464.9 1839.0,465.9 1838.4,466.1 1837.8,466.0 1837.3,465.3 1836.7,464.5 1836.1,463.7 1835.6,464.1 1835.0,464.1 1834.4,463.6 1833.9,463.2 1833.3,463.3 1832.7,463.3 1832.2,463.8 1831.6,464.8 1831.0,465.0 1830.4,464.9 1829.9,464.5 1829.3,464.5 1828.7,465.6 1828.2,467.8 1827.6,469.3 1827.0,469.4 1826.5,469.1 1825.9,467.9 1825.3,466.5 1824.8,465.1 1824.2,463.7 1823.6,462.1 1823.0,462.1 1822.5,461.9 1821.9,463.1 1821.3,464.8 1820.8,465.0 1820.2,464.6 1819.6,464.6 1819.1,464.7 1818.5,464.1 1817.9,462.8 1817.3,461.0 1816.8,461.2 1816.2,461.7 1815.6,462.0 1815.1,462.1 1814.5,463.1 1813.9,464.6 1813.4,467.7 1812.8,469.0 1812.2,468.9 1811.7,467.2 1811.1,465.9 1810.5,464.1 1809.9,461.8 1809.4,460.5 1808.8,463.0 1808.2,465.7 1807.7,467.1 1807.1,467.3 1806.5,467.1 1806.0,466.5 1805.4,464.7 1804.8,461.4 1804.2,460.2 1803.7,459.9 1803.1,460.3 1802.5,462.8 1802.0,464.5 1801.4,464.8 1800.8,464.6 1800.3,462.9 1799.7,460.8 1799.1,460.1 1798.6,459.5 1798.0,458.7 1797.4,458.1 1796.8,457.4 1796.3,458.5 1795.7,461.7 1795.1,464.5 1794.6,466.2 1794.0,467.1 1793.4,468.3 1792.9,468.7 1792.3,468.3 1791.7,467.6 1791.2,466.8 1790.6,465.0 1790.0,462.4 1789.4,461.0 1788.9,461.0 1788.3,460.8 1787.7,461.0 1787.2,461.5 1786.6,461.7 1786.0,464.2 1785.5,465.6 1784.9,465.9 1784.3,465.8 1783.7,464.9 1783.2,464.2 1782.6,463.0 1782.0,461.4 1781.5,460.1 1780.9,460.2 1780.3,461.3 1779.8,463.0 1779.2,463.8 1778.7,464.5 1778.1,464.6 1777.5,464.4 1777.0,463.6 1776.4,464.3 1775.8,464.3 1775.3,463.4 1774.7,463.7 1774.2,464.2 1773.6,465.3 1773.0,466.0 1772.5,466.0 1771.9,465.2 1771.4,464.3 1770.8,463.8 1770.2,463.3 1769.7,463.1 1769.1,463.3 1768.5,463.0 1768.0,463.4 1767.4,463.6 1766.9,463.4 1766.3,462.4 1765.7,460.5 1765.2,459.8 1764.6,459.8 1764.1,459.6 1763.5,459.1 1762.9,458.6 1762.4,458.4 1761.8,459.8 1761.2,460.9 1760.7,461.8 1760.1,463.9 1759.6,467.0 1759.0,469.4 1758.4,471.6 1757.9,473.4 1757.3,473.9 1756.8,473.9 1756.2,473.5 1755.6,472.4 1755.1,472.4 1754.5,471.8 1753.9,471.4 1753.4,471.9 1752.8,472.3 1752.3,472.2 1751.7,471.6 1751.1,471.3 1750.6,470.5 1750.0,469.1 1749.5,468.3 1748.9,468.1 1748.3,467.6 1747.8,466.2 1747.2,466.0 1746.6,464.2 1746.1,463.9 1745.5,463.5 1745.0,463.7 1744.4,464.4 1743.8,465.3 1743.3,465.9 1742.7,466.4 1742.2,467.4 1741.6,468.7 1741.0,469.6 1740.5,469.6 1739.9,469.6 1739.3,469.7 1738.8,469.8 1738.2,469.0 1737.7,466.8 1737.1,465.9 1736.5,464.7 1736.0,462.3 1735.4,460.0 1734.9,458.7 1734.3,459.9 1733.7,463.4 1733.2,466.7 1732.6,469.5 1732.0,472.2 1731.5,473.3 1730.9,473.2 1730.4,471.4 1729.8,468.7 1729.2,466.4 1728.7,464.3 1728.1,464.9 1727.6,465.4 1727.0,465.6 1726.4,465.4 1725.9,466.0 1725.3,466.6 1724.8,466.6 1724.2,466.9 1723.6,468.2 1723.1,468.5 1722.5,468.4 1721.9,467.4 1721.4,465.9 1720.8,464.2 1720.3,462.5 1719.7,461.8 1719.1,461.3 1718.6,459.9 1718.0,460.5 1717.5,461.9 1716.9,462.8 1716.3,464.7 1715.8,466.7 1715.2,467.3 1714.6,468.1 1714.1,469.9 1713.5,470.1 1713.0,469.7 1712.4,470.2 1711.8,470.3 1711.3,470.7 1710.7,470.8 1710.2,470.5 1709.6,468.6 1709.0,467.0 1708.5,466.0 1707.9,464.9 1707.3,464.6 1706.8,464.2 1706.2,463.4 1705.7,463.3 1705.1,463.9 1704.5,466.0 1704.0,467.5 1703.4,467.6 1702.9,466.9 1702.3,465.5 1701.7,464.5 1701.2,464.0 1700.6,464.9 1700.0,465.7 1699.5,465.9 1698.9,467.9 1698.4,469.1 1697.8,469.1 1697.2,468.0 1696.7,466.0 1696.1,464.0 1695.6,462.2 1695.0,461.5 1694.4,462.3 1693.9,463.6 1693.3,465.3 1692.7,467.1 1692.2,467.8 1691.6,467.9 1691.1,468.0 1690.5,467.5 1689.9,467.1 1689.4,467.1 1688.8,467.3 1688.3,467.8 1687.7,467.8 1687.1,466.9 1686.6,465.4 1686.0,465.6 1685.4,466.3 1684.9,467.9 1684.3,469.4 1683.8,469.7 1683.2,469.7 1682.6,469.1 1682.1,467.9 1681.5,466.4 1681.0,466.5 1680.4,466.3 1679.8,465.9 1679.3,466.0 1678.7,465.4 1678.1,465.3 1677.6,464.8 1677.0,464.9 1676.5,465.4 1675.9,465.7 1675.3,465.7 1674.8,465.6 1674.2,465.6 1673.7,464.8 1673.1,464.7 1672.5,464.8 1672.0,464.5 1671.4,463.6 1670.8,463.2 1670.3,462.6 1669.7,462.0 1669.2,461.9 1668.6,461.1 1668.0,461.3 1667.5,462.0 1666.9,462.6 1666.3,462.9 1665.8,464.0 1665.2,464.1 1664.6,464.5 1664.0,465.2 1663.5,465.3 1662.9,465.1 1662.3,464.8 1661.8,464.0 1661.2,462.8 1660.6,462.0 1660.1,463.1 1659.5,464.7 1658.9,466.4 1658.3,467.0 1657.8,467.0 1657.2,466.5 1656.6,465.8 1656.1,465.4 1655.5,466.1 1654.9,466.4 1654.4,468.9 1653.8,469.5 1653.2,469.5 1652.7,468.7 1652.1,467.3 1651.5,465.6 1650.9,464.0 1650.4,462.9 1649.8,462.2 1649.2,462.3 1648.7,462.4 1648.1,462.2 1647.5,462.6 1647.0,463.5 1646.4,463.5 1645.8,463.4 1645.3,464.1 1644.7,463.9 1644.1,462.5 1643.5,460.3 1643.0,457.7 1642.4,457.0 1641.8,457.8 1641.3,459.7 1640.7,461.4 1640.1,463.0 1639.6,463.8 1639.0,464.4 1638.4,465.2 1637.8,465.8 1637.3,468.0 1636.7,469.1 1636.1,469.1 1635.6,469.2 1635.0,469.1 1634.4,467.9 1633.9,465.7 1633.3,463.7 1632.7,463.5 1632.2,464.5 1631.6,465.5 1631.0,466.9 1630.4,467.9 1629.9,469.4 1629.3,471.7 1628.7,473.0 1628.2,473.1 1627.6,472.5 1627.0,472.5 1626.5,473.3 1625.9,473.4 1625.3,474.0 1624.7,476.6 1624.2,477.8 1623.6,480.3 1623.0,481.1 1622.5,480.9 1621.9,479.6 1621.3,477.2 1620.8,474.4 1620.2,471.9 1619.6,469.9 1619.1,468.5 1618.5,469.0 1617.9,470.1 1617.3,471.0 1616.8,470.9 1616.2,469.7 1615.6,469.4 1615.1,469.2 1614.5,469.4 1613.9,470.3 1613.4,472.2 1612.8,474.7 1612.2,476.4 1611.7,476.9 1611.1,476.8 1610.5,475.9 1609.9,474.4 1609.4,474.7 1608.8,475.8 1608.2,476.1 1607.7,475.9 1607.1,474.3 1606.5,472.6 1606.0,471.1 1605.4,469.4 1604.8,467.0 1604.2,465.4 1603.7,466.6 1603.1,467.4 1602.5,467.4 1602.0,467.2 1601.4,466.9 1600.8,466.2 1600.3,466.0 1599.7,466.3 1599.1,467.3 1598.6,469.0 1598.0,470.0 1597.4,470.0 1596.8,469.3 1596.3,469.5 1595.7,468.8 1595.1,467.6 1594.6,468.3 1594.0,468.7 1593.4,469.2 1592.9,469.9 1592.3,471.3 1591.7,473.2 1591.1,474.3 1590.6,474.8 1590.0,475.5 1589.4,475.5 1588.9,474.4 1588.3,472.2 1587.7,470.4 1587.2,469.1 1586.6,470.6 1586.0,471.6 1585.5,471.6 1584.9,470.9 1584.3,470.9 1583.7,470.3 1583.2,468.4 1582.6,466.1 1582.0,464.8 1581.5,463.9 1580.9,463.8 1580.3,464.3 1579.8,465.5 1579.2,467.2 1578.6,468.2 1578.0,469.3 1577.5,469.5 1576.9,471.1 1576.3,471.6 1575.8,471.7 1575.2,473.0 1574.6,473.0 1574.1,472.7 1573.5,472.4 1572.9,472.5 1572.4,472.6 1571.8,472.9 1571.2,472.5 1570.6,472.2 1570.1,471.1 1569.5,469.1 1568.9,468.6 1568.4,470.0 1567.8,472.2 1567.2,473.4 1566.7,473.7 1566.1,473.7 1565.5,473.4 1565.0,473.2 1564.4,472.2 1563.8,472.2 1563.2,471.2 1562.7,469.5 1562.1,470.0 1561.5,469.9 1561.0,469.7 1560.4,469.9 1559.8,471.0 1559.3,472.6 1558.7,473.6 1558.1,474.6 1557.5,475.4 1557.0,475.5 1556.4,475.8 1555.8,475.6 1555.3,474.5 1554.7,473.2 1554.1,472.1 1553.6,472.2 1553.0,472.0 1552.4,472.1 1551.8,471.7 1551.3,470.3 1550.7,467.8 1550.1,465.3 1549.6,463.9 1549.0,463.2 1548.4,463.2 1547.8,463.4 1547.3,465.2 1546.7,466.2 1546.1,466.2 1545.6,466.1 1545.0,466.0 1544.4,465.4 1543.9,464.3 1543.3,464.2 1542.7,464.2 1542.1,464.0 1541.6,464.3 1541.0,464.3 1540.4,464.4 1539.9,464.0 1539.3,464.2 1538.7,465.0 1538.1,466.5 1537.6,467.9 1537.0,469.6 1536.4,471.4 1535.9,471.6 1535.3,470.6 1534.7,468.6 1534.1,468.0 1533.6,467.6 1533.0,468.8 1532.4,470.3 1531.9,471.9 1531.3,473.2 1530.7,474.7 1530.1,476.4 1529.6,477.0 1529.0,476.9 1528.4,475.9 1527.9,474.9 1527.3,473.2 1526.7,471.5 1526.2,470.0 1525.6,468.7 1525.0,467.3 1524.4,468.3 1523.9,469.6 1523.3,469.6 1522.7,467.8 1522.2,467.2 1521.6,464.1 1521.0,459.4 1520.4,456.4 1519.9,452.2 1519.3,450.7 1518.7,450.9 1518.2,453.5 1517.6,455.6 1517.0,457.4 1516.4,459.2 1515.9,462.2 1515.3,464.2 1514.7,464.1 1514.2,462.7 1513.6,462.6 1513.0,461.1 1512.4,459.4 1511.9,458.9 1511.3,461.0 1510.7,464.6 1510.2,466.3 1509.6,466.3 1509.0,465.6 1508.4,464.1 1507.9,463.6 1507.3,463.0 1506.7,463.0 1506.2,463.5 1505.6,463.5 1505.0,462.6 1504.5,462.3 1503.9,460.4 1503.3,457.5 1502.7,455.2 1502.2,453.4 1501.6,454.4 1501.0,457.4 1500.5,459.7 1499.9,461.9 1499.3,464.3 1498.7,466.6 1498.2,466.7 1497.6,465.2 1497.0,464.4 1496.5,463.8 1495.9,462.3 1495.3,462.4 1494.7,463.1 1494.2,463.8 1493.6,463.9 1493.0,465.3 1492.5,465.5 1491.9,464.8 1491.3,463.8 1490.7,463.5 1490.2,463.5 1489.6,462.6 1489.0,461.5 1488.5,460.1 1487.9,459.0 1487.3,458.2 1486.8,456.4 1486.2,454.1 1485.6,455.5 1485.0,458.4 1484.5,460.2 1483.9,461.4 1483.3,463.9 1482.8,464.0 1482.2,463.2 1481.6,462.2 1481.0,462.3 1480.5,463.3 1479.9,464.1 1479.3,465.9 1478.8,467.3 1478.2,468.0 1477.6,468.2 1477.0,468.2 1476.5,467.6 1475.9,466.6 1475.3,465.2 1474.8,463.7 1474.2,462.8 1473.6,461.9 1473.0,461.3 1472.5,463.3 1471.9,465.3 1471.3,466.2 1470.8,466.2 1470.2,465.3 1469.6,464.1 1469.0,463.1 1468.5,463.2 1467.9,464.3 1467.3,464.7 1466.8,464.7 1466.2,464.5 1465.6,464.9 1465.1,464.9 1464.5,465.3 1463.9,465.6 1463.3,465.5 1462.8,464.8 1462.2,463.7 1461.6,461.7 1461.1,460.0 1460.5,459.5 1459.9,459.6 1459.3,460.5 1458.8,462.7 1458.2,465.1 1457.6,467.7 1457.1,469.5 1456.5,470.4 1455.9,471.1 1455.3,470.9 1454.8,468.9 1454.2,466.7 1453.6,465.6 1453.1,463.7 1452.5,461.3 1451.9,460.0 1451.3,459.1 1450.8,458.4 1450.2,457.6 1449.6,458.2 1449.1,459.5 1448.5,460.7 1447.9,460.8 1447.4,460.5 1446.8,459.4 1446.2,457.9 1445.6,456.8 1445.1,456.0 1444.5,455.3 1443.9,455.9 1443.4,456.6 1442.8,457.8 1442.2,459.0 1441.6,460.9 1441.1,462.8 1440.5,463.9" fill="#1f77b4" stroke="#1f77b4" stroke-width="1.2" stroke-linejoin="round" clip-path="url(#cr1)"/>
<polyline points="1440.5,456.0 1441.1,456.0 1441.6,455.9 1442.2,455.9 1442.8,455.9 1443.4,455.9 1443.9,455.9 1444.5,455.9 1445.1,455.9 1445.6,455.9 1446.2,456.0 1446.8,456.1 1447.4,456.2 1447.9,456.4 1448.5,456.5 1449.1,456.7 1449.6,457.0 1450.2,457.2 1450.8,457.5 1451.3,457.7 1451.9,458.0 1452.5,458.2 1453.1,458.4 1453.6,458.5 1454.2,458.7 1454.8,458.8 1455.3,458.8 1455.9,458.8 1456.5,458.8 1457.1,458.7 1457.6,458.6 1458.2,458.4 1458.8,458.3 1459.3,458.1 1459.9,457.8 1460.5,457.6 1461.1,457.4 1461.6,457.2 1462.2,457.0 1462.8,456.7 1463.3,456.6 1463.9,456.4 1464.5,456.2 1465.1,456.1 1465.6,456.0 1466.2,456.0 1466.8,456.0 1467.3,456.0 1467.9,456.1 1468.5,456.2 1469.0,456.4 1469.6,456.6 1470.2,456.8 1470.8,457.1 1471.3,457.3 1471.9,457.6 1472.5,457.9 1473.0,458.2 1473.6,458.5 1474.2,458.8 1474.8,459.0 1475.3,459.3 1475.9,459.5 1476.5,459.6 1477.0,459.8 1477.6,459.9 1478.2,459.9 1478.8,460.0 1479.3,460.0 1479.9,459.9 1480.5,459.9 1481.0,459.8 1481.6,459.7 1482.2,459.6 1482.8,459.5 1483.3,459.4 1483.9,459.2 1484.5,459.1 1485.0,458.9 1485.6,458.8 1486.2,458.6 1486.8,458.5 1487.3,458.3 1487.9,458.1 1488.5,458.0 1489.0,457.8 1489.6,457.7 1490.2,457.5 1490.7,457.4 1491.3,457.2 1491.9,457.1 1492.5,457.0 1493.0,456.9 1493.6,456.8 1494.2,456.7 1494.7,456.7 1495.3,456.6 1495.9,456.6 1496.5,456.7 1497.0,456.7 1497.6,456.8 1498.2,456.9 1498.7,457.1 1499.3,457.3 1499.9,457.5 1500.5,457.8 1501.0,458.0 1501.6,458.3 1502.2,458.6 1502.7,458.9 1503.3,459.3 1503.9,459.6 1504.5,459.9 1505.0,460.2 1505.6,460.5 1506.2,460.8 1506.7,461.0 1507.3,461.2 1507.9,461.4 1508.4,461.5 1509.0,461.6 1509.6,461.7 1510.2,461.6 1510.7,461.5 1511.3,461.4 1511.9,461.2 1512.4,460.9 1513.0,460.5 1513.6,460.2 1514.2,459.8 1514.7,459.3 1515.3,458.9 1515.9,458.4 1516.4,458.0 1517.0,457.6 1517.6,457.2 1518.2,456.9 1518.7,456.6 1519.3,456.4 1519.9,456.3 1520.4,456.2 1521.0,456.2 1521.6,456.3 1522.2,456.5 1522.7,456.7 1523.3,457.0 1523.9,457.3 1524.4,457.7 1525.0,458.1 1525.6,458.5 1526.2,459.0 1526.7,459.5 1527.3,459.9 1527.9,460.4 1528.4,460.8 1529.0,461.2 1529.6,461.6 1530.1,461.9 1530.7,462.2 1531.3,462.4 1531.9,462.6 1532.4,462.7 1533.0,462.8 1533.6,462.8 1534.1,462.7 1534.7,462.5 1535.3,462.3 1535.9,462.1 1536.4,461.8 1537.0,461.5 1537.6,461.1 1538.1,460.7 1538.7,460.3 1539.3,459.9 1539.9,459.5 1540.4,459.0 1541.0,458.6 1541.6,458.2 1542.1,457.8 1542.7,457.4 1543.3,457.1 1543.9,456.8 1544.4,456.6 1545.0,456.4 1545.6,456.3 1546.1,456.2 1546.7,456.3 1547.3,456.4 1547.8,456.6 1548.4,456.9 1549.0,457.3 1549.6,457.7 1550.1,458.2 1550.7,458.8 1551.3,459.4 1551.8,460.1 1552.4,460.7 1553.0,461.4 1553.6,462.0 1554.1,462.7 1554.7,463.2 1555.3,463.8 1555.8,464.2 1556.4,464.6 1557.0,464.9 1557.5,465.1 1558.1,465.2 1558.7,465.3 1559.3,465.2 1559.8,465.2 1560.4,465.0 1561.0,464.8 1561.5,464.6 1562.1,464.3 1562.7,464.0 1563.2,463.7 1563.8,463.4 1564.4,463.1 1565.0,462.8 1565.5,462.5 1566.1,462.3 1566.7,462.0 1567.2,461.8 1567.8,461.6 1568.4,461.5 1568.9,461.4 1569.5,461.3 1570.1,461.3 1570.6,461.3 1571.2,461.3 1571.8,461.4 1572.4,461.4 1572.9,461.5 1573.5,461.7 1574.1,461.8 1574.6,461.9 1575.2,462.1 1575.8,462.2 1576.3,462.4 1576.9,462.6 1577.5,462.7 1578.0,462.9 1578.6,463.1 1579.2,463.3 1579.8,463.5 1580.3,463.7 1580.9,463.8 1581.5,464.0 1582.0,464.2 1582.6,464.3 1583.2,464.4 1583.7,464.6 1584.3,464.7 1584.9,464.8 1585.5,464.9 1586.0,464.9 1586.6,465.0 1587.2,465.0 1587.7,465.0 1588.3,465.0 1588.9,465.0 1589.4,465.0 1590.0,464.9 1590.6,464.9 1591.1,464.8 1591.7,464.7 1592.3,464.6 1592.9,464.5 1593.4,464.3 1594.0,464.2 1594.6,464.1 1595.1,463.9 1595.7,463.8 1596.3,463.6 1596.8,463.4 1597.4,463.3 1598.0,463.1 1598.6,462.9 1599.1,462.8 1599.7,462.6 1600.3,462.5 1600.8,462.3 1601.4,462.2 1602.0,462.0 1602.5,461.9 1603.1,461.8 1603.7,461.6 1604.2,461.5 1604.8,461.4 1605.4,461.4 1606.0,461.3 1606.5,461.3 1607.1,461.2 1607.7,461.2 1608.2,461.3 1608.8,461.3 1609.4,461.4 1609.9,461.5 1610.5,461.7 1611.1,461.9 1611.7,462.1 1612.2,462.3 1612.8,462.6 1613.4,462.9 1613.9,463.2 1614.5,463.5 1615.1,463.8 1615.6,464.1 1616.2,464.5 1616.8,464.8 1617.3,465.1 1617.9,465.4 1618.5,465.7 1619.1,466.0 1619.6,466.2 1620.2,466.4 1620.8,466.6 1621.3,466.7 1621.9,466.8 1622.5,466.8 1623.0,466.8 1623.6,466.7 1624.2,466.6 1624.7,466.4 1625.3,466.1 1625.9,465.8 1626.5,465.5 1627.0,465.1 1627.6,464.6 1628.2,464.1 1628.7,463.6 1629.3,463.1 1629.9,462.6 1630.4,462.1 1631.0,461.6 1631.6,461.1 1632.2,460.6 1632.7,460.1 1633.3,459.7 1633.9,459.4 1634.4,459.1 1635.0,458.8 1635.6,458.6 1636.1,458.5 1636.7,458.4 1637.3,458.4 1637.8,458.4 1638.4,458.4 1639.0,458.6 1639.6,458.7 1640.1,458.9 1640.7,459.1 1641.3,459.3 1641.8,459.5 1642.4,459.8 1643.0,460.0 1643.5,460.3 1644.1,460.5 1644.7,460.8 1645.3,461.0 1645.8,461.2 1646.4,461.4 1647.0,461.5 1647.5,461.6 1648.1,461.7 1648.7,461.8 1649.2,461.8 1649.8,461.8 1650.4,461.7 1650.9,461.6 1651.5,461.5 1652.1,461.4 1652.7,461.2 1653.2,461.0 1653.8,460.8 1654.4,460.6 1654.9,460.4 1655.5,460.2 1656.1,460.0 1656.6,459.8 1657.2,459.7 1657.8,459.6 1658.3,459.5 1658.9,459.4 1659.5,459.4 1660.1,459.4 1660.6,459.4 1661.2,459.5 1661.8,459.6 1662.3,459.8 1662.9,459.9 1663.5,460.1 1664.0,460.3 1664.6,460.5 1665.2,460.7 1665.8,461.0 1666.3,461.2 1666.9,461.4 1667.5,461.6 1668.0,461.9 1668.6,462.1 1669.2,462.3 1669.7,462.5 1670.3,462.6 1670.8,462.7 1671.4,462.8 1672.0,462.9 1672.5,462.9 1673.1,462.9 1673.7,462.9 1674.2,462.8 1674.8,462.6 1675.3,462.5 1675.9,462.3 1676.5,462.0 1677.0,461.8 1677.6,461.5 1678.1,461.2 1678.7,460.9 1679.3,460.6 1679.8,460.4 1680.4,460.1 1681.0,459.9 1681.5,459.7 1682.1,459.6 1682.6,459.5 1683.2,459.4 1683.8,459.3 1684.3,459.3 1684.9,459.3 1685.4,459.4 1686.0,459.4 1686.6,459.5 1687.1,459.6 1687.7,459.7 1688.3,459.8 1688.8,460.0 1689.4,460.1 1689.9,460.2 1690.5,460.4 1691.1,460.5 1691.6,460.6 1692.2,460.8 1692.7,460.9 1693.3,461.1 1693.9,461.2 1694.4,461.3 1695.0,461.5 1695.6,461.6 1696.1,461.7 1696.7,461.8 1697.2,462.0 1697.8,462.1 1698.4,462.2 1698.9,462.3 1699.5,462.3 1700.0,462.4 1700.6,462.5 1701.2,462.6 1701.7,462.7 1702.3,462.8 1702.9,462.9 1703.4,463.0 1704.0,463.1 1704.5,463.2 1705.1,463.3 1705.7,463.3 1706.2,463.4 1706.8,463.5 1707.3,463.6 1707.9,463.7 1708.5,463.7 1709.0,463.8 1709.6,463.9 1710.2,463.9 1710.7,464.0 1711.3,464.0 1711.8,464.1 1712.4,464.1 1713.0,464.1 1713.5,464.2 1714.1,464.2 1714.6,464.2 1715.2,464.2 1715.8,464.1 1716.3,464.1 1716.9,464.0 1717.5,463.9 1718.0,463.8 1718.6,463.7 1719.1,463.5 1719.7,463.3 1720.3,463.1 1720.8,462.9 1721.4,462.7 1721.9,462.4 1722.5,462.2 1723.1,462.0 1723.6,461.8 1724.2,461.5 1724.8,461.3 1725.3,461.1 1725.9,460.9 1726.4,460.8 1727.0,460.6 1727.6,460.5 1728.1,460.5 1728.7,460.4 1729.2,460.4 1729.8,460.5 1730.4,460.5 1730.9,460.6 1731.5,460.8 1732.0,461.0 1732.6,461.2 1733.2,461.4 1733.7,461.6 1734.3,461.9 1734.9,462.2 1735.4,462.5 1736.0,462.8 1736.5,463.0 1737.1,463.3 1737.7,463.5 1738.2,463.8 1738.8,464.0 1739.3,464.1 1739.9,464.3 1740.5,464.4 1741.0,464.5 1741.6,464.5 1742.2,464.5 1742.7,464.4 1743.3,464.3 1743.8,464.1 1744.4,464.0 1745.0,463.8 1745.5,463.5 1746.1,463.3 1746.6,463.0 1747.2,462.8 1747.8,462.5 1748.3,462.2 1748.9,461.9 1749.5,461.6 1750.0,461.4 1750.6,461.2 1751.1,461.0 1751.7,460.8 1752.3,460.6 1752.8,460.5 1753.4,460.4 1753.9,460.3 1754.5,460.3 1755.1,460.3 1755.6,460.3 1756.2,460.3 1756.8,460.3 1757.3,460.3 1757.9,460.4 1758.4,460.4 1759.0,460.5 1759.6,460.5 1760.1,460.6 1760.7,460.6 1761.2,460.7 1761.8,460.7 1762.4,460.8 1762.9,460.8 1763.5,460.8 1764.1,460.9 1764.6,460.9 1765.2,460.9 1765.7,460.9 1766.3,460.9 1766.9,460.8 1767.4,460.7 1768.0,460.6 1768.5,460.4 1769.1,460.2 1769.7,460.0 1770.2,459.7 1770.8,459.4 1771.4,459.1 1771.9,458.7 1772.5,458.4 1773.0,458.2 1773.6,457.9 1774.2,457.7 1774.7,457.5 1775.3,457.4 1775.8,457.3 1776.4,457.2 1777.0,457.1 1777.5,457.1 1778.1,457.1 1778.7,457.1 1779.2,457.1 1779.8,457.1 1780.3,457.1 1780.9,457.1 1781.5,457.1 1782.0,457.1 1782.6,457.1 1783.2,457.1 1783.7,457.1 1784.3,457.1 1784.9,457.1 1785.5,457.1 1786.0,457.1 1786.6,457.1 1787.2,457.1 1787.7,457.1 1788.3,457.1 1788.9,457.1 1789.4,457.1 1790.0,457.1 1790.6,457.1 1791.2,457.1 1791.7,457.1 1792.3,457.1 1792.9,457.1 1793.4,457.2 1794.0,457.2 1794.6,457.3 1795.1,457.3 1795.7,457.4 1796.3,457.5 1796.8,457.5 1797.4,457.6 1798.0,457.7 1798.6,457.8 1799.1,457.9 1799.7,458.0 1800.3,458.1 1800.8,458.2 1801.4,458.3 1802.0,458.4 1802.5,458.5 1803.1,458.6 1803.7,458.7 1804.2,458.8 1804.8,458.8 1805.4,458.9 1806.0,458.9 1806.5,459.0 1807.1,459.0 1807.7,459.0 1808.2,459.0 1808.8,458.9 1809.4,458.8 1809.9,458.7 1810.5,458.6 1811.1,458.4 1811.7,458.2 1812.2,458.0 1812.8,457.8 1813.4,457.6 1813.9,457.3 1814.5,457.1 1815.1,456.8 1815.6,456.6 1816.2,456.4 1816.8,456.1 1817.3,455.9 1817.9,455.7 1818.5,455.6 1819.1,455.5 1819.6,455.4 1820.2,455.3 1820.8,455.3 1821.3,455.2 1821.9,455.3 1822.5,455.3 1823.0,455.4 1823.6,455.5 1824.2,455.6 1824.8,455.7 1825.3,455.9 1825.9,456.1 1826.5,456.2 1827.0,456.4 1827.6,456.6 1828.2,456.7 1828.7,456.9 1829.3,457.1 1829.9,457.2 1830.4,457.4 1831.0,457.5 1831.6,457.6 1832.2,457.8 1832.7,457.8 1833.3,457.9 1833.9,458.0 1834.4,458.0 1835.0,458.0 1835.6,458.0 1836.1,458.0 1836.7,458.0 1837.3,457.9 1837.8,457.9 1838.4,457.8 1839.0,457.7 1839.6,457.7 1840.1,457.6 1840.7,457.5 1841.3,457.4 1841.8,457.4 1842.4,457.3 1843.0,457.2 1843.5,457.1 1844.1,457.0 1844.7,456.9 1845.3,456.8 1845.8,456.7 1846.4,456.6 1847.0,456.6 1847.5,456.5 1848.1,456.4 1848.7,456.4 1849.2,456.3 1849.8,456.2 1850.4,456.2 1850.9,456.2 1851.5,456.1 1852.1,456.1 1852.7,456.1 1853.2,456.1 1853.8,456.2 1854.4,456.2 1854.9,456.2 1855.5,456.3 1856.1,456.4 1856.6,456.4 1857.2,456.5 1857.8,456.6 1858.4,456.6 1858.9,456.7 1859.5,456.8 1860.1,456.8 1860.6,456.9 1861.2,456.9 1861.8,456.9 1862.3,456.9 1862.9,456.8 1863.5,456.8 1864.0,456.6 1864.6,456.5 1865.2,456.3 1865.8,456.1 1866.3,455.9 1866.9,455.6 1867.5,455.3 1868.0,455.0 1868.6,454.7 1869.2,454.5 1869.7,454.2 1870.3,454.0 1870.9,453.8 1871.5,453.6 1872.0,453.4 1872.6,453.4 1873.2,453.3 1873.7,453.3 1874.3,453.4 1874.9,453.4 1875.4,453.6 1876.0,453.7 1876.6,453.9 1877.1,454.1 1877.7,454.3 1878.3,454.5 1878.9,454.7 1879.4,454.9 1880.0,455.1 1880.6,455.3 1881.1,455.5 1881.7,455.6 1882.3,455.7 1882.8,455.7 1883.4,455.7 1884.0,455.7 1884.5,455.6 1885.1,455.5 1885.7,455.4 1886.3,455.2 1886.8,455.0 1887.4,454.7 1888.0,454.5 1888.5,454.2 1889.1,454.0 1889.7,453.7 1890.2,453.5 1890.8,453.3 1891.4,453.1 1892.0,452.9 1892.5,452.7 1893.1,452.6 1893.7,452.5 1894.2,452.4 1894.8,452.4 1895.4,452.4 1895.9,452.4 1896.5,452.5 1897.1,452.6 1897.7,452.7 1898.2,452.9 1898.8,453.1 1899.4,453.3 1899.9,453.5 1900.5,453.7 1901.1,453.9 1901.7,454.1 1902.2,454.3 1902.8,454.5 1903.4,454.6 1903.9,454.7 1904.5,454.8 1905.1,454.8 1905.6,454.8 1906.2,454.7 1906.8,454.5 1907.4,454.3 1907.9,454.0 1908.5,453.6 1909.1,453.1 1909.6,452.6 1910.2,452.1 1910.8,451.6 1911.4,451.2 1911.9,450.7 1912.5,450.4 1913.1,450.1 1913.6,449.9 1914.2,449.8 1914.8,449.8 1915.4,449.9 1915.9,450.1 1916.5,450.4 1917.1,450.7 1917.6,451.1 1918.2,451.5 1918.8,452.0 1919.4,452.5 1919.9,453.0 1920.5,453.4 1921.1,453.9 1921.6,454.4 1922.2,454.9 1922.8,455.4 1923.3,455.8 1923.9,456.3 1924.5,456.8 1925.1,457.2 1925.6,457.7 1926.2,458.1 1926.8,458.6 1927.3,459.0 1927.9,459.4 1928.5,459.8 1929.1,460.1 1929.6,460.4 1930.2,460.8 1930.8,461.1 1931.3,461.4 1931.9,461.7 1932.5,462.1 1933.1,462.5 1933.6,463.0 1934.2,463.6 1934.8,464.2 1935.3,465.1 1935.9,466.0 1936.5,467.1 1937.1,468.3 1937.6,469.7 1938.2,471.1 1938.8,472.7 1939.3,474.3 1939.9,475.9 1940.5,477.6 1941.1,479.4 1941.6,481.1 1942.2,482.9 1942.8,484.6 1943.3,486.4 1943.9,488.2 1944.5,490.0 1945.0,491.7 1945.6,493.4 1946.2,494.9 1946.8,496.3 1947.3,497.5 1947.9,498.6 1948.5,499.4 1949.0,499.9 1949.6,500.3 1950.2,500.3 1950.8,500.2 1951.3,499.9 1951.9,499.3 1952.5,498.6 1953.0,497.8 1953.6,496.9 1954.2,495.9 1954.8,494.8 1955.3,493.6 1955.9,492.4 1956.5,491.1 1957.0,489.8 1957.6,488.5 1958.2,487.1 1958.8,485.7 1959.3,484.2 1959.9,482.7 1960.5,481.2 1961.0,479.6 1961.6,478.1 1962.2,476.5 1962.7,475.0 1963.3,473.5 1963.9,472.1 1964.5,470.6 1965.0,469.2 1965.6,467.9 1966.2,466.6 1966.7,465.3 1967.3,464.0 1967.9,462.8 1968.5,461.5 1969.0,460.4 1969.6,459.2 1970.2,458.1 1970.7,457.0 1971.3,456.0 1971.9,455.1 1972.5,454.2 1973.0,453.5 1973.6,452.9 1974.2,452.4 1974.7,452.0 1975.3,451.8 1975.9,451.6 1976.5,451.6 1977.0,451.5 1977.6,451.6 1978.2,451.6 1978.7,451.7 1979.3,451.8 1979.9,451.9 1980.5,452.0 1981.0,452.2 1981.6,452.3 1982.2,452.4 1982.7,452.5 1983.3,452.6 1983.9,452.7 1984.4,452.8 1985.0,452.9 1985.6,453.0 1986.2,453.0 1986.7,453.1 1987.3,453.2 1987.9,453.2 1988.4,453.3 1989.0,453.3 1989.6,453.4 1990.2,453.4 1990.7,453.4 1991.3,453.5 1991.9,453.5 1992.4,453.5 1993.0,453.6 1993.6,453.6 1994.2,453.6 1994.7,453.6 1995.3,453.7 1995.9,453.7 1996.4,453.7 1997.0,453.7 1997.6,453.7 1998.2,453.8 1998.7,453.8 1999.3,453.8 1999.9,453.8 2000.4,453.8 2001.0,453.8 2001.6,453.9 2002.1,453.9 2002.7,453.9 2003.3,453.9 2003.9,453.9 2004.4,453.9 2005.0,453.9 2005.6,453.9 2006.1,454.0 2006.7,454.0 2007.3,454.0 2007.9,454.0 2008.4,454.0 2009.0,454.0 2009.6,454.0 2010.1,454.0 2010.7,454.0 2011.3,454.1 2011.9,454.1 2012.4,454.1 2013.0,454.1 2013.6,454.1 2014.1,454.1 2014.7,454.1 2015.3,454.1 2015.8,454.1 2016.4,454.1 2017.0,454.1 2017.6,454.1 2018.1,454.1 2018.7,454.1 2019.3,454.1 2019.8,454.1 2020.4,454.1 2021.0,454.1 2021.6,454.1 2022.1,454.1 2022.7,454.0 2023.3,454.0 2023.8,454.0 2024.4,453.9 2025.0,453.9 2025.5,453.8 2026.1,453.8 2026.7,453.7 2027.3,453.7 2027.8,453.6 2028.4,453.5 2029.0,453.5 2029.5,453.4 2030.1,453.3 2030.7,453.3 2031.2,453.2 2031.8,453.1 2032.4,453.0 2033.0,453.0 2033.5,452.9 2034.1,452.8 2034.7,452.7 2035.2,452.7 2035.8,452.6 2036.4,452.5 2037.0,452.5 2037.5,452.4 2038.1,452.4 2038.7,452.3 2039.2,452.3 2039.8,452.3 2040.4,452.2 2040.9,452.2 2041.5,452.3 2042.1,452.3 2042.7,452.4 2043.2,452.6 2043.8,452.9 2044.4,453.2 2044.9,453.6 2045.5,454.0 2046.1,454.5 2046.7,455.1 2047.2,455.7 2047.8,456.2 2048.4,456.8 2048.9,457.3 2049.5,457.7 2050.1,458.0 2050.6,458.2 2051.2,458.3 2051.8,458.2 2052.4,458.1 2052.9,457.8 2053.5,457.4 2054.1,456.9 2054.6,456.4 2055.2,455.8 2055.8,455.2 2056.4,454.6 2056.9,454.0 2057.5,453.5 2058.1,453.0 2058.6,452.6 2059.2,452.3 2059.8,452.1 2060.3,451.9 2060.9,451.9 2061.5,452.0 2062.1,452.1 2062.6,452.3 2063.2,452.6 2063.8,453.0 2064.3,453.4 2064.9,453.8 2065.5,454.2 2066.1,454.7 2066.6,455.2 2067.2,455.6 2067.8,456.0 2068.3,456.4 2068.9,456.8 2069.5,457.1 2070.0,457.3 2070.6,457.5 2071.2,457.6 2071.8,457.6 2072.3,457.6 2072.9,457.4 2073.5,457.2 2074.0,456.9 2074.6,456.6 2075.2,456.2 2075.7,455.7 2076.3,455.2 2076.9,454.7 2077.5,454.2 2078.0,453.7 2078.6,453.2 2079.2,452.7 2079.7,452.2 2080.3,451.8 2080.9,451.5 2081.5,451.2 2082.0,451.0 2082.6,450.9 2083.2,450.9 2083.7,451.0 2084.3,451.1 2084.9,451.4 2085.4,451.8 2086.0,452.2 2086.6,452.7 2087.2,453.3 2087.7,453.9 2088.3,454.6 2088.9,455.2 2089.4,455.9 2090.0,456.5 2090.6,457.1 2091.2,457.7 2091.7,458.2 2092.3,458.7 2092.9,459.0 2093.4,459.3 2094.0,459.4 2094.6,459.5 2095.1,459.4 2095.7,459.3 2096.3,459.0 2096.9,458.6 2097.4,458.2 2098.0,457.7 2098.6,457.2 2099.1,456.7 2099.7,456.2 2100.3,455.6 2100.9,455.1 2101.4,454.7 2102.0,454.3 2102.6,454.0 2103.1,453.8 2103.7,453.6 2104.3,453.6 2104.8,453.5 2105.4,453.6 2106.0,453.7 2106.6,453.8 2107.1,454.0 2107.7,454.2 2108.3,454.5 2108.8,454.7 2109.4,455.0 2110.0,455.4 2110.5,455.8 2111.1,456.3 2111.7,456.8 2112.3,457.4 2112.8,458.0 2113.4,458.8 2114.0,459.5 2114.5,460.3 2115.1,461.1 2115.7,461.9 2116.3,462.6 2116.8,463.2 2117.4,463.7 2118.0,464.0 2118.5,464.2 2119.1,464.2 2119.7,464.1 2120.2,463.8 2120.8,463.4 2121.4,462.9 2122.0,462.3 2122.5,461.7 2123.1,461.0 2123.7,460.3 2124.2,459.6 2124.8,458.9 2125.3,458.2 2125.9,457.6 2126.5,457.1 2127.0,456.7 2127.6,456.5 2128.2,456.3 2128.7,456.3 2129.3,456.5 2129.8,456.8 2130.4,457.3 2131.0,457.9 2131.5,458.6 2132.1,459.5 2132.6,460.3 2133.2,461.3 2133.8,462.2 2134.3,463.0 2134.9,463.9 2135.5,464.6 2136.0,465.2 2136.6,465.7 2137.1,466.0 2137.7,466.2 2138.3,466.3 2138.8,466.2 2139.4,466.0 2139.9,465.7 2140.5,465.3 2141.1,464.8 2141.6,464.2 2142.2,463.6 2142.8,462.9 2143.3,462.3 2143.9,461.6 2144.4,461.0 2145.0,460.4 2145.6,459.8 2146.1,459.3 2146.7,458.8 2147.2,458.5 2147.8,458.2 2148.4,458.1 2148.9,458.0 2149.5,458.0 2150.1,458.2 2150.6,458.4 2151.2,458.8 2151.7,459.2 2152.3,459.7 2152.9,460.2 2153.4,460.7 2154.0,461.3 2154.5,461.9 2155.1,462.4 2155.7,463.0 2156.2,463.4 2156.8,463.9 2157.4,464.2 2157.9,464.5 2158.5,464.6 2159.0,464.7 2159.6,464.6 2160.2,464.5 2160.7,464.3 2161.3,463.9 2161.8,463.5 2162.4,463.1 2163.0,462.5 2163.5,462.0 2164.1,461.4 2164.7,460.8 2165.2,460.2 2165.8,459.6 2166.3,459.1 2166.9,458.5 2167.5,458.1 2168.0,457.7 2168.6,457.3 2169.1,457.1 2169.7,456.9 2170.3,456.8 2170.8,456.8 2171.4,456.9 2172.0,457.1 2172.5,457.3 2173.1,457.6 2173.6,458.0 2174.2,458.4 2174.8,458.8 2175.3,459.3 2175.9,459.7 2176.4,460.2 2177.0,460.6 2177.6,461.0 2178.1,461.4 2178.7,461.8 2179.2,462.1 2179.8,462.3 2180.4,462.5 2180.9,462.5 2181.5,462.5 2182.1,462.4 2182.6,462.1 2183.2,461.8 2183.7,461.4 2184.3,460.9 2184.9,460.4 2185.4,459.8 2186.0,459.2 2186.5,458.6 2187.1,458.0 2187.7,457.5 2188.2,457.0 2188.8,456.6 2189.4,456.3 2189.9,456.1 2190.5,456.0 2191.0,456.0 2191.6,456.1 2192.2,456.3 2192.7,456.6 2193.3,456.9 2193.8,457.3 2194.4,457.8 2195.0,458.2 2195.5,458.7 2196.1,459.1 2196.7,459.6 2197.2,459.9 2197.8,460.3 2198.3,460.5 2198.9,460.8 2199.5,460.9 2200.0,461.0 2200.6,461.1 2201.1,461.1 2201.7,461.1 2202.3,461.0 2202.8,461.0 2203.4,460.9 2204.0,460.8 2204.5,460.8 2205.1,460.7 2205.6,460.6 2206.2,460.4 2206.8,460.3 2207.3,460.2 2207.9,460.1 2208.4,460.0 2209.0,459.9 2209.6,459.8 2210.1,459.7 2210.7,459.6 2211.3,459.4 2211.8,459.3 2212.4,459.2 2212.9,459.1 2213.5,459.1 2214.1,459.0 2214.6,458.9 2215.2,458.8 2215.7,458.7 2216.3,458.6 2216.9,458.5 2217.4,458.4 2218.0,458.3 2218.6,458.2 2219.1,458.1 2219.7,458.0 2220.2,457.9 2220.8,457.8 2221.4,457.7 2221.9,457.6 2222.5,457.5 2223.0,457.4 2223.6,457.4 2224.2,457.3 2224.7,457.2 2225.3,457.1 2225.9,457.0 2226.4,456.9 2227.0,456.8 2227.5,456.8 2228.1,456.7 2228.7,456.6 2229.2,456.6 2229.8,456.5 2230.3,456.5 2230.9,456.4 2231.5,456.4 2232.0,456.3 2232.6,456.3 2233.2,456.3 2233.7,456.3 2234.3,456.2 2234.8,456.2 2235.4,456.2 2236.0,456.2 2236.5,456.2 2237.1,456.2 2237.7,456.2 2238.3,456.2 2238.8,456.3 2239.4,456.3 2240.0,456.3 2240.5,456.3 2241.1,456.4 2241.7,456.4 2242.3,456.4 2242.8,456.5 2243.4,456.5 2244.0,456.6 2244.5,456.6 2245.1,456.7 2245.7,456.7 2246.2,456.8 2246.8,456.8 2247.4,456.9 2248.0,456.9 2248.5,457.0 2249.1,457.1 2249.7,457.1 2250.2,457.2 2250.8,457.3 2251.4,457.3 2252.0,457.4 2252.5,457.5 2253.1,457.5 2253.7,457.6 2254.2,457.7 2254.8,457.8 2255.4,457.9 2256.0,457.9 2256.5,458.0 2257.1,458.1 2257.7,458.2 2258.2,458.3 2258.8,458.4 2259.4,458.5 2260.0,458.6 2260.5,458.8 2261.1,458.9 2261.7,459.1 2262.2,459.3 2262.8,459.5 2263.4,459.7 2263.9,459.9 2264.5,460.1 2265.1,460.3 2265.7,460.5 2266.2,460.8 2266.8,461.0 2267.4,461.2 2267.9,461.5 2268.5,461.7 2269.1,462.0 2269.7,462.2 2270.2,462.5 2270.8,462.7 2271.4,462.9 2271.9,463.2 2272.5,463.4 2273.1,463.6 2273.7,463.8 2274.2,464.0 2274.8,464.2 2275.4,464.4 2275.9,464.5 2276.5,464.7 2277.1,464.8 2277.7,464.9 2278.2,465.0 2278.8,465.1 2279.4,465.2 2279.9,465.2 2280.5,465.3 2281.1,465.3 2281.7,465.3 2282.2,465.2 2282.8,465.2 2283.4,465.1 2283.9,465.0 2284.5,464.9 2285.1,464.8 2285.6,464.7 2286.2,464.6 2286.8,464.4 2287.4,464.2 2287.9,464.1 2288.5,463.9 2289.1,463.7 2289.6,463.6 2290.2,463.4 2290.8,463.2 2291.4,463.0 2291.9,462.9 2292.5,462.7 2293.1,462.6 2293.6,462.4 2294.2,462.3 2294.8,462.2 2295.4,462.1 2295.9,462.0 2296.5,461.9 2297.1,461.9 2297.6,461.9 2298.2,461.9 2298.8,461.9 2299.4,462.0 2299.9,462.1 2300.5,462.2 2301.1,462.4 2301.6,462.6 2302.2,462.8 2302.8,463.0 2303.3,463.3 2303.9,463.5 2304.5,463.8 2305.1,464.1 2305.6,464.4 2306.2,464.7 2306.8,465.0 2307.3,465.3 2307.9,465.7 2308.5,466.0 2309.1,466.3 2309.6,466.5 2310.2,466.8 2310.8,467.1 2311.3,467.3 2311.9,467.5 2312.5,467.7 2313.1,467.8 2313.6,467.9 2314.2,468.0 2314.8,468.1 2315.3,468.0 2315.9,468.0 2316.5,467.9 2317.1,467.7 2317.6,467.5 2318.2,467.3 2318.8,467.0 2319.3,466.7 2319.9,466.4 2320.5,466.0 2321.1,465.6 2321.6,465.2 2322.2,464.8 2322.8,464.4 2323.3,464.0 2323.9,463.7 2324.5,463.3 2325.0,463.0 2325.6,462.7 2326.2,462.4 2326.8,462.2 2327.3,462.0 2327.9,461.8 2328.5,461.8 2329.0,461.8 2329.6,461.8 2330.2,461.9 2330.8,462.0 2331.3,462.2 2331.9,462.5 2332.5,462.8 2333.0,463.1 2333.6,463.4 2334.2,463.7 2334.8,464.0 2335.3,464.3 2335.9,464.5 2336.5,464.7 2337.0,464.9 2337.6,465.0 2338.2,465.2 2338.8,465.2 2339.3,465.3 2339.9,465.3 2340.5,465.2 2341.0,465.2 2341.6,465.1 2342.2,465.1 2342.7,465.0 2343.3,464.8 2343.9,464.7 2344.5,464.6 2345.0,464.4 2345.6,464.2 2346.2,464.0 2346.7,463.8 2347.3,463.6 2347.9,463.4 2348.5,463.2 2349.0,463.0 2349.6,462.8" fill="none" stroke="#ff7f0e" stroke-width="3.4" stroke-linejoin="round" stroke-linecap="round" clip-path="url(#cr1)"/>
<text x="1386.50" y="406.05" font-size="24.6" font-family="'Liberation Sans', Arial, sans-serif" fill="#2c2c2c" text-anchor="end" textLength="34.08" lengthAdjust="spacingAndGlyphs">500</text>
<text x="1387.75" y="469.75" font-size="24.6" font-family="'Liberation Sans', Arial, sans-serif" fill="#2c2c2c" text-anchor="end" textLength="11.60" lengthAdjust="spacingAndGlyphs">0</text>
<text x="1387.00" y="534.10" font-size="24.6" font-family="'Liberation Sans', Arial, sans-serif" fill="#2c2c2c" text-anchor="end" textLength="46.06" lengthAdjust="spacingAndGlyphs">−500</text>
<text x="1324.20" y="461.30" font-size="24.3" font-family="'Liberation Sans', Arial, sans-serif" fill="#2c2c2c" text-anchor="middle" textLength="96.28" lengthAdjust="spacingAndGlyphs" transform="rotate(-90 1324.20 461.30)">Field (nT)</text>
<line x1="1440.5" y1="594.8" x2="1440.5" y2="784" stroke="#d3d3d3" stroke-width="2.2"/>
<line x1="1554.7" y1="594.8" x2="1554.7" y2="784" stroke="#d3d3d3" stroke-width="2.2"/>
<line x1="1668.6" y1="594.8" x2="1668.6" y2="784" stroke="#d3d3d3" stroke-width="2.2"/>
<line x1="1780.9" y1="594.8" x2="1780.9" y2="784" stroke="#d3d3d3" stroke-width="2.2"/>
<line x1="1894.8" y1="594.8" x2="1894.8" y2="784" stroke="#d3d3d3" stroke-width="2.2"/>
<line x1="2009" y1="594.8" x2="2009" y2="784" stroke="#d3d3d3" stroke-width="2.2"/>
<line x1="2123.1" y1="594.8" x2="2123.1" y2="784" stroke="#d3d3d3" stroke-width="2.2"/>
<line x1="2235.4" y1="594.8" x2="2235.4" y2="784" stroke="#d3d3d3" stroke-width="2.2"/>
<line x1="2349.6" y1="594.8" x2="2349.6" y2="784" stroke="#d3d3d3" stroke-width="2.2"/>
<line x1="1395.1" y1="624.9" x2="2395.4" y2="624.9" stroke="#d3d3d3" stroke-width="2.2"/>
<line x1="1395.1" y1="690.1" x2="2395.4" y2="690.1" stroke="#d3d3d3" stroke-width="2.2"/>
<line x1="1395.1" y1="753.1" x2="2395.4" y2="753.1" stroke="#d3d3d3" stroke-width="2.2"/>
<rect x="1395.1" y="594.8" width="1000.3" height="189.2" fill="none" stroke="#d0d0d0" stroke-width="2.4"/>
<polygon points="1440.5,643.0 1441.1,643.0 1441.6,643.0 1442.2,643.0 1442.8,642.6 1443.4,642.6 1443.9,643.4 1444.5,643.4 1445.1,653.7 1445.6,653.7 1446.2,656.5 1446.8,656.5 1447.4,640.9 1447.9,640.9 1448.5,642.4 1449.1,642.4 1449.6,639.3 1450.2,639.3 1450.8,653.9 1451.3,653.9 1451.9,655.6 1452.5,655.4 1453.1,656.3 1453.6,656.1 1454.2,653.1 1454.8,652.9 1455.3,652.4 1455.9,652.2 1456.5,653.0 1457.1,652.8 1457.6,651.2 1458.2,650.9 1458.8,649.9 1459.3,649.6 1459.9,646.5 1460.5,646.2 1461.1,650.6 1461.6,650.4 1462.2,647.4 1462.8,647.2 1463.3,648.8 1463.9,648.6 1464.5,651.1 1465.1,651.0 1465.6,648.8 1466.2,648.7 1466.8,651.5 1467.3,651.6 1467.9,650.4 1468.5,650.6 1469.0,652.2 1469.6,652.5 1470.2,646.7 1470.8,647.1 1471.3,649.9 1471.9,650.4 1472.5,648.9 1473.0,649.4 1473.6,650.3 1474.2,650.7 1474.8,652.9 1475.3,653.3 1475.9,653.0 1476.5,653.4 1477.0,655.9 1477.6,656.2 1478.2,656.8 1478.8,657.0 1479.3,644.6 1479.9,644.5 1480.5,641.5 1481.0,641.2 1481.6,641.4 1482.2,641.0 1482.8,653.7 1483.3,653.3 1483.9,655.8 1484.5,655.3 1485.0,652.0 1485.6,651.5 1486.2,637.3 1486.8,636.7 1487.3,637.9 1487.9,637.3 1488.5,637.1 1489.0,636.6 1489.6,635.4 1490.2,635.0 1490.7,635.4 1491.3,635.1 1491.9,647.0 1492.5,646.9 1493.0,648.3 1493.6,648.3 1494.2,647.1 1494.7,647.3 1495.3,635.1 1495.9,635.5 1496.5,635.6 1497.0,636.1 1497.6,648.2 1498.2,648.9 1498.7,648.6 1499.3,649.3 1499.9,653.4 1500.5,654.1 1501.0,651.7 1501.6,652.4 1502.2,649.2 1502.7,649.8 1503.3,649.3 1503.9,649.8 1504.5,648.8 1505.0,649.1 1505.6,649.3 1506.2,649.4 1506.7,658.2 1507.3,658.0 1507.9,656.3 1508.4,655.9 1509.0,654.5 1509.6,654.0 1510.2,653.3 1510.7,652.8 1511.3,650.2 1511.9,649.6 1512.4,649.5 1513.0,649.0 1513.6,651.2 1514.2,650.7 1514.7,649.3 1515.3,648.9 1515.9,644.1 1516.4,643.8 1517.0,642.3 1517.6,642.0 1518.2,649.2 1518.7,649.1 1519.3,637.0 1519.9,637.0 1520.4,637.3 1521.0,637.5 1521.6,637.7 1522.2,638.1 1522.7,651.1 1523.3,651.6 1523.9,652.4 1524.4,652.9 1525.0,640.7 1525.6,641.3 1526.2,639.0 1526.7,639.6 1527.3,654.9 1527.9,655.5 1528.4,657.4 1529.0,657.9 1529.6,656.9 1530.1,657.1 1530.7,658.7 1531.3,658.8 1531.9,657.0 1532.4,656.8 1533.0,648.5 1533.6,648.1 1534.1,647.5 1534.7,647.0 1535.3,648.6 1535.9,647.9 1536.4,645.4 1537.0,644.7 1537.6,652.9 1538.1,652.2 1538.7,650.6 1539.3,650.0 1539.9,638.9 1540.4,638.4 1541.0,638.4 1541.6,638.1 1542.1,637.5 1542.7,637.3 1543.3,635.7 1543.9,635.7 1544.4,649.1 1545.0,649.2 1545.6,642.4 1546.1,642.6 1546.7,643.5 1547.3,643.8 1547.8,645.3 1548.4,645.7 1549.0,653.2 1549.6,653.7 1550.1,653.0 1550.7,653.5 1551.3,653.3 1551.8,653.8 1552.4,652.1 1553.0,652.7 1553.6,644.4 1554.1,645.0 1554.7,646.1 1555.3,646.5 1555.8,646.3 1556.4,646.6 1557.0,656.0 1557.5,656.2 1558.1,648.8 1558.7,648.7 1559.3,648.6 1559.8,648.4 1560.4,646.2 1561.0,645.9 1561.5,646.5 1562.1,646.1 1562.7,653.2 1563.2,652.7 1563.8,653.2 1564.4,652.6 1565.0,652.3 1565.5,651.7 1566.1,651.7 1566.7,651.1 1567.2,651.7 1567.8,651.2 1568.4,649.1 1568.9,648.7 1569.5,639.4 1570.1,639.1 1570.6,641.4 1571.2,641.3 1571.8,639.8 1572.4,639.8 1572.9,638.6 1573.5,638.8 1574.1,650.0 1574.6,650.4 1575.2,647.3 1575.8,647.7 1576.3,651.3 1576.9,651.8 1577.5,641.6 1578.0,642.1 1578.6,641.9 1579.2,642.3 1579.8,643.4 1580.3,643.7 1580.9,653.7 1581.5,654.0 1582.0,656.0 1582.6,656.2 1583.2,655.3 1583.7,655.5 1584.3,657.0 1584.9,657.1 1585.5,646.3 1586.0,646.4 1586.6,645.9 1587.2,645.9 1587.7,647.6 1588.3,647.7 1588.9,647.9 1589.4,648.0 1590.0,647.0 1590.6,647.2 1591.1,657.4 1591.7,657.6 1592.3,645.5 1592.9,645.5 1593.4,647.1 1594.0,647.1 1594.6,646.4 1595.1,646.3 1595.7,644.8 1596.3,644.7 1596.8,655.0 1597.4,654.9 1598.0,649.4 1598.6,649.4 1599.1,650.2 1599.7,650.2 1600.3,650.4 1600.8,650.4 1601.4,655.3 1602.0,655.4 1602.5,652.8 1603.1,652.9 1603.7,652.5 1604.2,652.5 1604.8,655.5 1605.4,655.5 1606.0,656.5 1606.5,656.4 1607.1,656.4 1607.7,656.3 1608.2,657.8 1608.8,657.7 1609.4,655.7 1609.9,655.6 1610.5,653.1 1611.1,652.9 1611.7,651.0 1612.2,650.9 1612.8,651.9 1613.4,651.8 1613.9,656.2 1614.5,656.2 1615.1,642.0 1615.6,642.1 1616.2,643.7 1616.8,643.7 1617.3,644.1 1617.9,644.2 1618.5,658.3 1619.1,658.4 1619.6,657.6 1620.2,657.7 1620.8,655.8 1621.3,655.8 1621.9,656.9 1622.5,656.8 1623.0,644.9 1623.6,644.8 1624.2,648.5 1624.7,648.4 1625.3,646.2 1625.9,646.0 1626.5,645.5 1627.0,645.3 1627.6,645.4 1628.2,645.3 1628.7,655.7 1629.3,655.5 1629.9,654.3 1630.4,654.1 1631.0,646.5 1631.6,646.4 1632.2,645.0 1632.7,644.8 1633.3,646.7 1633.9,646.6 1634.4,652.9 1635.0,652.9 1635.6,654.0 1636.1,654.1 1636.7,653.5 1637.3,653.6 1637.8,655.5 1638.4,655.7 1639.0,654.1 1639.6,654.4 1640.1,656.8 1640.7,657.2 1641.3,656.0 1641.8,656.4 1642.4,658.7 1643.0,659.1 1643.5,658.3 1644.1,658.6 1644.7,660.1 1645.3,660.3 1645.8,653.2 1646.4,653.3 1647.0,651.7 1647.5,651.6 1648.1,653.4 1648.7,653.2 1649.2,653.7 1649.8,653.5 1650.4,654.4 1650.9,654.1 1651.5,657.2 1652.1,657.0 1652.7,655.8 1653.2,655.6 1653.8,656.3 1654.4,656.1 1654.9,656.5 1655.5,656.4 1656.1,655.0 1656.6,655.0 1657.2,645.8 1657.8,645.9 1658.3,644.7 1658.9,644.7 1659.5,645.7 1660.1,645.8 1660.6,645.3 1661.2,645.4 1661.8,646.6 1662.3,646.6 1662.9,654.8 1663.5,654.9 1664.0,656.0 1664.6,656.0 1665.2,656.6 1665.8,656.6 1666.3,655.2 1666.9,655.3 1667.5,656.0 1668.0,656.0 1668.6,658.5 1669.2,658.6 1669.7,657.6 1670.3,657.8 1670.8,650.4 1671.4,650.6 1672.0,652.3 1672.5,652.4 1673.1,653.2 1673.7,653.3 1674.2,655.9 1674.8,655.9 1675.3,651.6 1675.9,651.5 1676.5,649.3 1677.0,649.1 1677.6,648.8 1678.1,648.6 1678.7,656.6 1679.3,656.4 1679.8,655.8 1680.4,655.7 1681.0,657.0 1681.5,657.0 1682.1,655.8 1682.6,655.9 1683.2,655.7 1683.8,655.9 1684.3,648.6 1684.9,648.9 1685.4,652.8 1686.0,653.0 1686.6,652.3 1687.1,652.5 1687.7,653.8 1688.3,654.0 1688.8,657.5 1689.4,657.6 1689.9,658.2 1690.5,658.2 1691.1,658.6 1691.6,658.5 1692.2,658.8 1692.7,658.6 1693.3,657.7 1693.9,657.6 1694.4,658.1 1695.0,657.9 1695.6,654.5 1696.1,654.3 1696.7,648.0 1697.2,647.9 1697.8,649.8 1698.4,649.8 1698.9,657.9 1699.5,657.8 1700.0,648.6 1700.6,648.6 1701.2,650.7 1701.7,650.7 1702.3,656.5 1702.9,656.5 1703.4,650.8 1704.0,650.9 1704.5,649.3 1705.1,649.4 1705.7,649.5 1706.2,649.6 1706.8,649.9 1707.3,650.1 1707.9,655.7 1708.5,655.8 1709.0,659.4 1709.6,659.5 1710.2,649.1 1710.7,649.2 1711.3,650.7 1711.8,650.7 1712.4,649.6 1713.0,649.6 1713.5,651.8 1714.1,651.8 1714.6,656.9 1715.2,656.8 1715.8,657.7 1716.3,657.7 1716.9,658.1 1717.5,658.1 1718.0,650.4 1718.6,650.3 1719.1,648.7 1719.7,648.6 1720.3,649.5 1720.8,649.4 1721.4,649.6 1721.9,649.5 1722.5,657.9 1723.1,657.8 1723.6,656.2 1724.2,656.2 1724.8,654.4 1725.3,654.4 1725.9,653.0 1726.4,653.0 1727.0,654.0 1727.6,654.0 1728.1,657.9 1728.7,657.9 1729.2,657.5 1729.8,657.4 1730.4,657.4 1730.9,657.3 1731.5,657.1 1732.0,657.0 1732.6,657.5 1733.2,657.3 1733.7,656.2 1734.3,656.1 1734.9,643.5 1735.4,643.4 1736.0,644.2 1736.5,644.1 1737.1,645.7 1737.7,645.7 1738.2,643.6 1738.8,643.6 1739.3,654.3 1739.9,654.3 1740.5,654.5 1741.0,654.6 1741.6,642.1 1742.2,642.1 1742.7,644.0 1743.3,644.0 1743.8,641.5 1744.4,641.4 1745.0,642.6 1745.5,642.5 1746.1,641.8 1746.6,641.7 1747.2,655.5 1747.8,655.4 1748.3,656.2 1748.9,656.1 1749.5,656.2 1750.0,656.1 1750.6,655.5 1751.1,655.5 1751.7,646.8 1752.3,646.8 1752.8,645.7 1753.4,645.7 1753.9,655.6 1754.5,655.6 1755.1,657.6 1755.6,657.7 1756.2,649.0 1756.8,649.2 1757.3,648.4 1757.9,648.5 1758.4,651.7 1759.0,651.9 1759.6,651.2 1760.1,651.3 1760.7,656.3 1761.2,656.4 1761.8,657.4 1762.4,657.4 1762.9,646.6 1763.5,646.6 1764.1,646.9 1764.6,646.8 1765.2,657.3 1765.7,657.1 1766.3,650.9 1766.9,650.6 1767.4,651.0 1768.0,650.7 1768.5,654.5 1769.1,654.3 1769.7,655.1 1770.2,655.0 1770.8,653.4 1771.4,653.4 1771.9,643.2 1772.5,643.3 1773.0,643.4 1773.6,643.5 1774.2,645.9 1774.7,646.0 1775.3,654.5 1775.8,654.7 1776.4,655.1 1777.0,655.3 1777.5,642.9 1778.1,643.1 1778.7,642.6 1779.2,642.8 1779.8,644.6 1780.3,644.7 1780.9,643.7 1781.5,643.8 1782.0,643.4 1782.6,643.5 1783.2,659.5 1783.7,659.6 1784.3,658.6 1784.9,658.6 1785.5,657.3 1786.0,657.3 1786.6,659.9 1787.2,659.8 1787.7,650.7 1788.3,650.7 1788.9,650.8 1789.4,650.7 1790.0,648.7 1790.6,648.5 1791.2,656.9 1791.7,656.7 1792.3,657.3 1792.9,657.1 1793.4,658.4 1794.0,658.2 1794.6,656.6 1795.1,656.4 1795.7,644.0 1796.3,643.8 1796.8,642.9 1797.4,642.7 1798.0,642.9 1798.6,642.8 1799.1,655.8 1799.7,655.7 1800.3,655.2 1800.8,655.2 1801.4,656.5 1802.0,656.5 1802.5,651.2 1803.1,651.3 1803.7,652.6 1804.2,652.8 1804.8,651.8 1805.4,651.9 1806.0,652.7 1806.5,652.8 1807.1,654.7 1807.7,654.7 1808.2,654.6 1808.8,654.6 1809.4,643.1 1809.9,643.1 1810.5,644.9 1811.1,644.9 1811.7,645.4 1812.2,645.5 1812.8,643.9 1813.4,644.0 1813.9,655.8 1814.5,656.0 1815.1,656.4 1815.6,656.6 1816.2,659.1 1816.8,659.3 1817.3,652.4 1817.9,652.5 1818.5,652.0 1819.1,652.1 1819.6,650.7 1820.2,650.7 1820.8,657.7 1821.3,657.6 1821.9,651.3 1822.5,651.2 1823.0,653.5 1823.6,653.4 1824.2,651.7 1824.8,651.6 1825.3,658.0 1825.9,657.9 1826.5,649.5 1827.0,649.4 1827.6,649.4 1828.2,649.3 1828.7,657.9 1829.3,657.8 1829.9,656.2 1830.4,656.2 1831.0,645.2 1831.6,645.2 1832.2,644.5 1832.7,644.5 1833.3,647.0 1833.9,647.1 1834.4,646.6 1835.0,646.6 1835.6,643.2 1836.1,643.2 1836.7,657.6 1837.3,657.5 1837.8,650.5 1838.4,650.4 1839.0,651.1 1839.6,651.0 1840.1,651.8 1840.7,651.7 1841.3,654.3 1841.8,654.2 1842.4,653.9 1843.0,653.8 1843.5,644.7 1844.1,644.6 1844.7,645.3 1845.3,645.2 1845.8,646.4 1846.4,646.4 1847.0,645.7 1847.5,645.7 1848.1,656.4 1848.7,656.5 1849.2,655.3 1849.8,655.4 1850.4,656.0 1850.9,656.1 1851.5,654.6 1852.1,654.6 1852.7,656.4 1853.2,656.3 1853.8,654.4 1854.4,654.2 1854.9,654.8 1855.5,654.5 1856.1,653.6 1856.6,653.3 1857.2,656.9 1857.8,656.6 1858.4,640.9 1858.9,640.6 1859.5,640.9 1860.1,640.7 1860.6,652.3 1861.2,652.0 1861.8,651.3 1862.3,651.2 1862.9,649.9 1863.5,649.8 1864.0,637.2 1864.6,637.3 1865.2,637.1 1865.8,637.2 1866.3,636.7 1866.9,636.9 1867.5,653.1 1868.0,653.4 1868.6,643.9 1869.2,644.3 1869.7,643.8 1870.3,644.2 1870.9,646.0 1871.5,646.3 1872.0,657.9 1872.6,658.2 1873.2,654.8 1873.7,655.1 1874.3,658.1 1874.9,658.3 1875.4,656.6 1876.0,656.7 1876.6,656.1 1877.1,656.2 1877.7,643.3 1878.3,643.3 1878.9,643.9 1879.4,643.8 1880.0,647.2 1880.6,647.2 1881.1,645.3 1881.7,645.3 1882.3,646.1 1882.8,646.0 1883.4,656.1 1884.0,656.1 1884.5,656.7 1885.1,656.7 1885.7,658.2 1886.3,658.3 1886.8,657.0 1887.4,657.1 1888.0,649.1 1888.5,649.1 1889.1,650.5 1889.7,650.5 1890.2,657.4 1890.8,657.4 1891.4,644.5 1892.0,644.4 1892.5,640.9 1893.1,640.9 1893.7,640.8 1894.2,640.8 1894.8,656.3 1895.4,656.3 1895.9,659.0 1896.5,659.0 1897.1,642.7 1897.7,642.8 1898.2,642.0 1898.8,642.0 1899.4,644.8 1899.9,644.9 1900.5,645.4 1901.1,645.5 1901.7,645.4 1902.2,645.5 1902.8,657.8 1903.4,657.9 1903.9,655.3 1904.5,655.3 1905.1,657.8 1905.6,657.9 1906.2,658.0 1906.8,658.2 1907.4,659.2 1907.9,659.4 1908.5,658.4 1909.1,658.7 1909.6,648.3 1910.2,648.5 1910.8,647.3 1911.4,647.6 1911.9,648.8 1912.5,649.0 1913.1,651.2 1913.6,651.5 1914.2,648.0 1914.8,648.3 1915.4,661.7 1915.9,662.0 1916.5,661.8 1917.1,662.1 1917.6,661.4 1918.2,661.7 1918.8,664.9 1919.4,665.2 1919.9,663.7 1920.5,664.0 1921.1,666.1 1921.6,666.4 1922.2,666.0 1922.8,666.3 1923.3,666.6 1923.9,666.9 1924.5,667.2 1925.1,667.5 1925.6,667.6 1926.2,668.0 1926.8,667.6 1927.3,667.9 1927.9,669.6 1928.5,669.9 1929.1,672.0 1929.6,672.3 1930.2,672.1 1930.8,672.4 1931.3,672.3 1931.9,672.5 1932.5,668.9 1933.1,669.1 1933.6,671.8 1934.2,671.9 1934.8,671.6 1935.3,671.8 1935.9,672.8 1936.5,672.9 1937.1,671.3 1937.6,671.4 1938.2,664.5 1938.8,664.6 1939.3,664.7 1939.9,664.8 1940.5,662.9 1941.1,662.9 1941.6,673.3 1942.2,673.3 1942.8,669.1 1943.3,669.0 1943.9,666.8 1944.5,666.2 1945.0,666.0 1945.6,664.4 1946.2,663.0 1946.8,661.0 1947.3,661.0 1947.9,659.1 1948.5,659.0 1949.0,657.1 1949.6,656.3 1950.2,654.4 1950.8,651.4 1951.3,649.7 1951.9,648.6 1952.5,647.4 1953.0,639.8 1953.6,638.8 1954.2,638.6 1954.8,637.7 1955.3,636.2 1955.9,635.4 1956.5,637.0 1957.0,636.3 1957.6,634.2 1958.2,633.6 1958.8,639.1 1959.3,638.6 1959.9,637.2 1960.5,636.7 1961.0,635.6 1961.6,635.2 1962.2,626.6 1962.7,626.3 1963.3,625.0 1963.9,624.7 1964.5,627.1 1965.0,626.8 1965.6,636.4 1966.2,636.1 1966.7,624.7 1967.3,624.4 1967.9,623.7 1968.5,623.5 1969.0,621.1 1969.6,620.9 1970.2,623.3 1970.7,623.3 1971.3,621.2 1971.9,621.3 1972.5,633.2 1973.0,633.5 1973.6,633.6 1974.2,634.1 1974.7,636.2 1975.3,636.8 1975.9,631.0 1976.5,631.7 1977.0,630.6 1977.6,631.4 1978.2,634.1 1978.7,634.7 1979.3,633.2 1979.9,633.8 1980.5,640.5 1981.0,641.1 1981.6,642.0 1982.2,642.5 1982.7,643.6 1983.3,644.2 1983.9,643.8 1984.4,644.3 1985.0,640.1 1985.6,640.6 1986.2,640.4 1986.7,640.8 1987.3,646.4 1987.9,646.7 1988.4,650.6 1989.0,650.9 1989.6,649.4 1990.2,649.6 1990.7,648.3 1991.3,648.5 1991.9,646.0 1992.4,646.2 1993.0,646.9 1993.6,647.0 1994.2,651.0 1994.7,651.1 1995.3,638.5 1995.9,638.7 1996.4,640.9 1997.0,641.0 1997.6,640.1 1998.2,640.5 1998.7,642.9 1999.3,643.0 1999.9,650.3 2000.4,650.4 2001.0,640.7 2001.6,640.8 2002.1,640.0 2002.7,640.0 2003.3,651.8 2003.9,651.8 2004.4,653.1 2005.0,653.0 2005.6,650.6 2006.1,650.5 2006.7,650.4 2007.3,650.3 2007.9,652.5 2008.4,652.4 2009.0,638.7 2009.6,638.7 2010.1,639.1 2010.7,639.1 2011.3,642.0 2011.9,642.0 2012.4,641.4 2013.0,641.4 2013.6,641.3 2014.1,641.4 2014.7,653.1 2015.3,653.3 2015.8,647.2 2016.4,647.4 2017.0,645.2 2017.6,645.4 2018.1,649.0 2018.7,649.2 2019.3,645.4 2019.8,645.5 2020.4,653.9 2021.0,654.0 2021.6,655.7 2022.1,655.7 2022.7,649.1 2023.3,649.0 2023.8,648.3 2024.4,648.2 2025.0,653.7 2025.5,653.6 2026.1,653.8 2026.7,653.7 2027.3,651.3 2027.8,651.2 2028.4,653.2 2029.0,653.2 2029.5,652.4 2030.1,652.4 2030.7,653.5 2031.2,653.6 2031.8,645.9 2032.4,646.0 2033.0,647.9 2033.5,648.0 2034.1,648.4 2034.7,648.5 2035.2,647.5 2035.8,647.7 2036.4,653.3 2037.0,653.5 2037.5,645.4 2038.1,645.5 2038.7,645.6 2039.2,645.7 2039.8,646.3 2040.4,646.5 2040.9,646.0 2041.5,646.2 2042.1,646.7 2042.7,646.8 2043.2,657.4 2043.8,657.5 2044.4,656.1 2044.9,656.0 2045.5,654.0 2046.1,653.9 2046.7,646.2 2047.2,646.0 2047.8,645.4 2048.4,645.2 2048.9,654.3 2049.5,654.1 2050.1,647.9 2050.6,647.8 2051.2,649.7 2051.8,649.6 2052.4,648.8 2052.9,648.8 2053.5,649.3 2054.1,649.3 2054.6,648.2 2055.2,648.2 2055.8,653.7 2056.4,653.7 2056.9,655.7 2057.5,655.8 2058.1,640.7 2058.6,640.8 2059.2,640.6 2059.8,640.8 2060.3,641.2 2060.9,641.4 2061.5,642.3 2062.1,642.5 2062.6,642.5 2063.2,642.6 2063.8,656.8 2064.3,656.5 2064.9,655.8 2065.5,655.3 2066.1,652.6 2066.6,652.0 2067.2,652.1 2067.8,651.4 2068.3,648.7 2068.9,648.1 2069.5,647.4 2070.0,646.9 2070.6,645.1 2071.2,644.8 2071.8,648.6 2072.3,648.5 2072.9,648.1 2073.5,648.2 2074.0,647.8 2074.6,647.9 2075.2,650.4 2075.7,650.7 2076.3,643.3 2076.9,643.7 2077.5,644.9 2078.0,645.5 2078.6,646.5 2079.2,647.2 2079.7,652.5 2080.3,653.2 2080.9,652.9 2081.5,653.5 2082.0,654.4 2082.6,655.1 2083.2,656.4 2083.7,656.9 2084.3,646.4 2084.9,646.7 2085.4,643.9 2086.0,644.0 2086.6,645.7 2087.2,645.5 2087.7,657.2 2088.3,656.9 2088.9,644.9 2089.4,644.4 2090.0,641.6 2090.6,641.1 2091.2,640.7 2091.7,640.1 2092.3,639.3 2092.9,638.7 2093.4,652.3 2094.0,651.7 2094.6,650.3 2095.1,649.7 2095.7,648.7 2096.3,648.2 2096.9,648.7 2097.4,648.3 2098.0,648.0 2098.6,647.7 2099.1,649.7 2099.7,649.5 2100.3,646.7 2100.9,646.7 2101.4,647.7 2102.0,647.9 2102.6,646.3 2103.1,646.7 2103.7,647.4 2104.3,647.9 2104.8,649.0 2105.4,649.5 2106.0,652.7 2106.6,653.3 2107.1,652.3 2107.7,652.8 2108.3,655.1 2108.8,655.6 2109.4,653.9 2110.0,654.4 2110.5,655.9 2111.1,656.3 2111.7,655.5 2112.3,655.7 2112.8,651.1 2113.4,651.2 2114.0,650.2 2114.5,650.1 2115.1,649.9 2115.7,649.8 2116.3,655.9 2116.8,655.7 2117.4,654.6 2118.0,654.4 2118.5,653.4 2119.1,653.2 2119.7,655.7 2120.2,655.6 2120.8,642.4 2121.4,642.3 2122.0,642.2 2122.5,642.1 2123.1,642.8 2123.7,642.7 2124.2,653.9 2124.8,653.8 2125.3,648.1 2125.9,648.0 2126.5,646.2 2127.0,646.1 2127.6,646.0 2128.2,646.0 2128.7,653.5 2129.3,653.5 2129.8,654.0 2130.4,654.1 2131.0,645.7 2131.5,645.8 2132.1,644.7 2132.6,645.0 2133.2,646.0 2133.8,646.3 2134.3,646.2 2134.9,646.6 2135.5,645.5 2136.0,645.9 2136.6,656.4 2137.1,656.8 2137.7,648.3 2138.3,648.7 2138.8,648.4 2139.4,648.6 2139.9,649.1 2140.5,649.2 2141.1,658.5 2141.6,658.5 2142.2,661.5 2142.8,661.4 2143.3,658.7 2143.9,658.5 2144.4,657.8 2145.0,657.6 2145.6,655.1 2146.1,654.9 2146.7,653.3 2147.2,653.0 2147.8,651.1 2148.4,650.9 2148.9,649.1 2149.5,648.9 2150.1,650.6 2150.6,650.4 2151.2,653.6 2151.7,653.4 2152.3,656.2 2152.9,655.9 2153.4,653.7 2154.0,653.4 2154.5,652.3 2155.1,652.0 2155.7,642.4 2156.2,642.1 2156.8,642.0 2157.4,641.7 2157.9,642.7 2158.5,642.6 2159.0,650.4 2159.6,650.3 2160.2,652.8 2160.7,652.8 2161.3,644.8 2161.8,644.8 2162.4,644.9 2163.0,645.0 2163.5,647.4 2164.1,647.6 2164.7,645.4 2165.2,645.6 2165.8,645.6 2166.3,645.8 2166.9,654.9 2167.5,655.1 2168.0,653.7 2168.6,653.7 2169.1,653.4 2169.7,653.4 2170.3,637.4 2170.8,637.3 2171.4,640.1 2172.0,640.1 2172.5,652.0 2173.1,652.0 2173.6,652.7 2174.2,652.7 2174.8,653.2 2175.3,653.3 2175.9,653.6 2176.4,653.8 2177.0,641.2 2177.6,641.4 2178.1,642.8 2178.7,643.0 2179.2,643.9 2179.8,644.0 2180.4,654.9 2180.9,655.0 2181.5,654.6 2182.1,654.7 2182.6,645.7 2183.2,645.7 2183.7,641.6 2184.3,641.6 2184.9,642.4 2185.4,642.4 2186.0,641.4 2186.5,641.4 2187.1,655.1 2187.7,655.0 2188.2,651.3 2188.8,651.2 2189.4,651.5 2189.9,651.4 2190.5,649.5 2191.0,649.4 2191.6,649.9 2192.2,649.8 2192.7,654.5 2193.3,654.4 2193.8,655.0 2194.4,655.0 2195.0,646.1 2195.5,646.2 2196.1,649.8 2196.7,650.0 2197.2,648.5 2197.8,648.7 2198.3,647.3 2198.9,647.5 2199.5,655.9 2200.0,656.1 2200.6,655.5 2201.1,655.7 2201.7,644.1 2202.3,644.3 2202.8,642.1 2203.4,642.2 2204.0,645.3 2204.5,645.5 2205.1,644.7 2205.6,644.9 2206.2,645.4 2206.8,645.5 2207.3,658.5 2207.9,658.6 2208.4,659.9 2209.0,660.0 2209.6,646.4 2210.1,646.4 2210.7,649.2 2211.3,649.1 2211.8,647.7 2212.4,647.6 2212.9,648.9 2213.5,648.7 2214.1,647.9 2214.6,647.6 2215.2,655.3 2215.7,655.0 2216.3,647.0 2216.9,646.7 2217.4,649.7 2218.0,649.3 2218.6,656.1 2219.1,655.7 2219.7,651.6 2220.2,651.2 2220.8,651.0 2221.4,650.6 2221.9,654.3 2222.5,653.8 2223.0,653.5 2223.6,653.2 2224.2,650.7 2224.7,650.4 2225.3,647.7 2225.9,647.6 2226.4,651.8 2227.0,651.8 2227.5,649.8 2228.1,649.9 2228.7,652.4 2229.2,652.6 2229.8,640.7 2230.3,640.9 2230.9,639.0 2231.5,639.3 2232.0,640.2 2232.6,640.4 2233.2,652.5 2233.7,652.7 2234.3,651.5 2234.8,651.7 2235.4,651.5 2236.0,651.7 2236.5,652.3 2237.1,652.5 2237.7,649.9 2238.3,650.2 2238.8,648.7 2239.4,649.0 2240.0,653.2 2240.5,653.5 2241.1,653.6 2241.7,653.8 2242.3,639.8 2242.8,639.9 2243.4,642.9 2244.0,642.9 2244.5,641.5 2245.1,641.4 2245.7,654.0 2246.2,653.9 2246.8,640.2 2247.4,640.0 2248.0,643.3 2248.5,643.1 2249.1,642.8 2249.7,642.7 2250.2,640.4 2250.8,640.3 2251.4,652.1 2252.0,652.0 2252.5,646.2 2253.1,646.1 2253.7,645.3 2254.2,645.3 2254.8,654.3 2255.4,654.3 2256.0,647.5 2256.5,647.4 2257.1,647.3 2257.7,647.1 2258.2,647.7 2258.8,647.5 2259.4,646.7 2260.0,646.4 2260.5,645.5 2261.1,645.3 2261.7,648.8 2262.2,648.6 2262.8,651.2 2263.4,651.2 2263.9,652.0 2264.5,652.0 2265.1,651.2 2265.7,651.3 2266.2,642.5 2266.8,642.8 2267.4,644.1 2267.9,644.5 2268.5,653.5 2269.1,653.9 2269.7,653.7 2270.2,654.2 2270.8,655.4 2271.4,655.8 2271.9,654.6 2272.5,654.9 2273.1,656.8 2273.7,657.0 2274.2,658.5 2274.8,658.6 2275.4,657.1 2275.9,657.2 2276.5,652.9 2277.1,653.0 2277.7,652.3 2278.2,652.4 2278.8,657.2 2279.4,657.3 2279.9,648.7 2280.5,648.9 2281.1,649.2 2281.7,649.3 2282.2,657.7 2282.8,657.8 2283.4,658.6 2283.9,658.6 2284.5,658.1 2285.1,657.9 2285.6,658.9 2286.2,658.7 2286.8,656.7 2287.4,656.4 2287.9,656.2 2288.5,655.8 2289.1,657.0 2289.6,656.6 2290.2,655.6 2290.8,655.3 2291.4,654.9 2291.9,654.6 2292.5,655.4 2293.1,655.1 2293.6,650.7 2294.2,650.3 2294.8,652.3 2295.4,652.0 2295.9,653.5 2296.5,653.2 2297.1,653.1 2297.6,652.8 2298.2,649.4 2298.8,649.3 2299.4,642.9 2299.9,642.8 2300.5,640.9 2301.1,640.9 2301.6,641.7 2302.2,641.8 2302.8,642.0 2303.3,642.2 2303.9,649.9 2304.5,650.2 2305.1,644.6 2305.6,645.0 2306.2,643.2 2306.8,643.7 2307.3,642.8 2307.9,643.3 2308.5,654.1 2309.1,654.5 2309.6,643.0 2310.2,643.4 2310.8,643.5 2311.3,643.8 2311.9,644.9 2312.5,645.1 2313.1,641.8 2313.6,641.8 2314.2,642.9 2314.8,642.8 2315.3,654.7 2315.9,654.5 2316.5,657.5 2317.1,657.3 2317.6,655.6 2318.2,655.4 2318.8,656.0 2319.3,655.8 2319.9,650.2 2320.5,650.0 2321.1,651.8 2321.6,651.6 2322.2,650.4 2322.8,650.2 2323.3,650.3 2323.9,650.2 2324.5,647.8 2325.0,647.8 2325.6,653.4 2326.2,653.4 2326.8,653.6 2327.3,653.7 2327.9,647.9 2328.5,648.0 2329.0,645.7 2329.6,645.7 2330.2,648.8 2330.8,648.8 2331.3,655.6 2331.9,655.6 2332.5,653.6 2333.0,653.5 2333.6,655.7 2334.2,655.6 2334.8,649.3 2335.3,649.1 2335.9,650.0 2336.5,649.9 2337.0,647.9 2337.6,647.9 2338.2,648.1 2338.8,648.1 2339.3,649.0 2339.9,649.0 2340.5,652.5 2341.0,652.7 2341.6,643.0 2342.2,643.2 2342.7,643.1 2343.3,643.3 2343.9,644.5 2344.5,644.7 2345.0,655.5 2345.6,655.6 2346.2,657.6 2346.7,657.6 2347.3,656.1 2347.9,656.1 2348.5,653.7 2349.0,653.6 2349.6,656.3 2349.6,734.1 2349.0,735.7 2348.5,735.8 2347.9,729.8 2347.3,729.8 2346.7,729.5 2346.2,729.5 2345.6,729.6 2345.0,729.5 2344.5,729.2 2343.9,729.0 2343.3,733.6 2342.7,733.4 2342.2,731.3 2341.6,731.1 2341.0,730.4 2340.5,730.2 2339.9,731.2 2339.3,731.1 2338.8,726.3 2338.2,726.3 2337.6,727.6 2337.0,727.7 2336.5,728.0 2335.9,728.1 2335.3,726.8 2334.8,726.9 2334.2,727.3 2333.6,727.4 2333.0,724.6 2332.5,724.6 2331.9,729.2 2331.3,729.2 2330.8,734.7 2330.2,734.7 2329.6,734.0 2329.0,733.9 2328.5,736.0 2327.9,736.0 2327.3,733.9 2326.8,733.9 2326.2,735.2 2325.6,735.2 2325.0,728.2 2324.5,728.3 2323.9,728.8 2323.3,729.0 2322.8,727.6 2322.2,727.8 2321.6,736.1 2321.1,736.3 2320.5,733.3 2319.9,733.5 2319.3,728.3 2318.8,728.5 2318.2,731.8 2317.6,732.0 2317.1,735.0 2316.5,735.2 2315.9,736.4 2315.3,736.6 2314.8,735.4 2314.2,735.5 2313.6,735.0 2313.1,735.0 2312.5,732.6 2311.9,732.5 2311.3,740.4 2310.8,740.2 2310.2,739.3 2309.6,738.9 2309.1,740.1 2308.5,739.7 2307.9,738.1 2307.3,737.6 2306.8,735.1 2306.2,734.6 2305.6,725.3 2305.1,724.9 2304.5,722.4 2303.9,722.1 2303.3,727.1 2302.8,726.9 2302.2,724.2 2301.6,724.1 2301.1,723.3 2300.5,723.3 2299.9,724.9 2299.4,725.0 2298.8,724.2 2298.2,724.4 2297.6,735.7 2297.1,736.0 2296.5,735.3 2295.9,735.6 2295.4,734.2 2294.8,734.6 2294.2,737.4 2293.6,737.8 2293.1,737.2 2292.5,737.5 2291.9,729.7 2291.4,730.0 2290.8,728.0 2290.2,728.3 2289.6,737.3 2289.1,737.6 2288.5,741.1 2287.9,741.4 2287.4,739.5 2286.8,739.8 2286.2,741.7 2285.6,741.9 2285.1,737.9 2284.5,738.0 2283.9,729.4 2283.4,729.5 2282.8,738.9 2282.2,738.8 2281.7,736.5 2281.1,736.4 2280.5,737.1 2279.9,736.9 2279.4,736.8 2278.8,736.6 2278.2,731.3 2277.7,731.2 2277.1,731.0 2276.5,730.9 2275.9,734.7 2275.4,734.6 2274.8,736.7 2274.2,736.5 2273.7,731.0 2273.1,730.8 2272.5,729.7 2271.9,729.4 2271.4,728.4 2270.8,728.0 2270.2,726.4 2269.7,726.0 2269.1,726.4 2268.5,726.0 2267.9,726.4 2267.4,725.9 2266.8,725.4 2266.2,725.1 2265.7,732.1 2265.1,731.9 2264.5,735.9 2263.9,735.8 2263.4,724.7 2262.8,724.8 2262.2,723.9 2261.7,724.1 2261.1,723.6 2260.5,723.8 2260.0,722.6 2259.4,722.8 2258.8,724.7 2258.2,724.9 2257.7,731.7 2257.1,731.9 2256.5,729.4 2256.0,729.5 2255.4,726.6 2254.8,726.7 2254.2,736.9 2253.7,737.0 2253.1,736.5 2252.5,736.6 2252.0,737.8 2251.4,737.8 2250.8,736.8 2250.2,736.9 2249.7,728.7 2249.1,728.9 2248.5,732.8 2248.0,733.0 2247.4,732.5 2246.8,732.7 2246.2,729.1 2245.7,729.2 2245.1,729.5 2244.5,729.6 2244.0,727.7 2243.4,727.7 2242.8,733.7 2242.3,733.6 2241.7,732.0 2241.1,731.8 2240.5,731.8 2240.0,731.6 2239.4,725.2 2238.8,724.9 2238.3,727.4 2237.7,727.1 2237.1,725.2 2236.5,724.9 2236.0,738.6 2235.4,738.3 2234.8,738.9 2234.3,738.6 2233.7,739.6 2233.2,739.4 2232.6,736.8 2232.0,736.5 2231.5,736.6 2230.9,736.3 2230.3,723.8 2229.8,723.5 2229.2,722.6 2228.7,722.5 2228.1,734.3 2227.5,734.2 2227.0,733.4 2226.4,733.5 2225.9,722.2 2225.3,722.4 2224.7,720.0 2224.2,720.3 2223.6,732.8 2223.0,733.2 2222.5,732.1 2221.9,732.5 2221.4,733.3 2220.8,733.8 2220.2,735.9 2219.7,736.3 2219.1,728.3 2218.6,728.7 2218.0,733.2 2217.4,733.5 2216.9,737.0 2216.3,737.3 2215.7,729.9 2215.2,730.1 2214.6,743.6 2214.1,743.8 2213.5,743.5 2212.9,743.7 2212.4,743.8 2211.8,743.9 2211.3,742.2 2210.7,742.2 2210.1,744.5 2209.6,744.5 2209.0,731.5 2208.4,731.5 2207.9,736.9 2207.3,736.8 2206.8,734.5 2206.2,734.3 2205.6,735.2 2205.1,735.1 2204.5,735.1 2204.0,735.0 2203.4,734.2 2202.8,734.0 2202.3,730.2 2201.7,730.0 2201.1,726.9 2200.6,726.7 2200.0,728.0 2199.5,727.8 2198.9,734.0 2198.3,733.7 2197.8,733.8 2197.2,733.6 2196.7,734.7 2196.1,734.5 2195.5,727.0 2195.0,726.9 2194.4,726.4 2193.8,726.4 2193.3,737.6 2192.7,737.7 2192.2,738.9 2191.6,739.0 2191.0,738.5 2190.5,738.6 2189.9,738.2 2189.4,738.3 2188.8,738.7 2188.2,738.8 2187.7,727.2 2187.1,727.3 2186.5,737.3 2186.0,737.4 2185.4,739.1 2184.9,739.1 2184.3,728.4 2183.7,728.4 2183.2,727.4 2182.6,727.4 2182.1,725.9 2181.5,725.9 2180.9,727.7 2180.4,727.6 2179.8,725.8 2179.2,725.7 2178.7,725.7 2178.1,725.5 2177.6,727.1 2177.0,726.9 2176.4,726.3 2175.9,726.1 2175.3,725.6 2174.8,725.5 2174.2,736.6 2173.6,736.5 2173.1,737.4 2172.5,737.4 2172.0,738.3 2171.4,738.3 2170.8,737.0 2170.3,737.1 2169.7,734.7 2169.1,734.8 2168.6,726.9 2168.0,726.8 2167.5,738.4 2166.9,738.3 2166.3,735.8 2165.8,735.7 2165.2,735.2 2164.7,735.0 2164.1,724.7 2163.5,724.5 2163.0,727.8 2162.4,727.6 2161.8,730.5 2161.3,730.4 2160.7,730.9 2160.2,730.9 2159.6,725.7 2159.0,725.9 2158.5,733.4 2157.9,733.6 2157.4,731.6 2156.8,731.8 2156.2,726.6 2155.7,726.9 2155.1,727.2 2154.5,727.5 2154.0,740.6 2153.4,740.9 2152.9,741.9 2152.3,742.2 2151.7,740.2 2151.2,740.4 2150.6,730.1 2150.1,730.3 2149.5,740.6 2148.9,740.8 2148.4,741.1 2147.8,741.3 2147.2,729.6 2146.7,729.8 2146.1,729.8 2145.6,730.0 2145.0,740.4 2144.4,740.6 2143.9,741.1 2143.3,741.2 2142.8,739.3 2142.2,739.3 2141.6,742.3 2141.1,742.3 2140.5,730.2 2139.9,730.1 2139.4,744.5 2138.8,744.3 2138.3,740.8 2137.7,740.5 2137.1,741.9 2136.6,741.5 2136.0,740.3 2135.5,739.9 2134.9,728.9 2134.3,728.5 2133.8,725.9 2133.2,725.6 2132.6,736.1 2132.1,735.8 2131.5,735.1 2131.0,734.9 2130.4,735.5 2129.8,735.4 2129.3,735.1 2128.7,735.1 2128.2,736.5 2127.6,736.6 2127.0,727.1 2126.5,727.2 2125.9,725.7 2125.3,725.8 2124.8,727.8 2124.2,727.9 2123.7,732.5 2123.1,732.6 2122.5,730.5 2122.0,730.6 2121.4,731.7 2120.8,731.8 2120.2,732.0 2119.7,732.1 2119.1,732.5 2118.5,732.6 2118.0,729.2 2117.4,729.4 2116.8,742.1 2116.3,742.3 2115.7,741.0 2115.1,741.1 2114.5,739.7 2114.0,739.8 2113.4,742.4 2112.8,742.3 2112.3,740.2 2111.7,740.0 2111.1,728.7 2110.5,728.3 2110.0,727.0 2109.4,726.6 2108.8,725.7 2108.3,725.2 2107.7,725.3 2107.1,724.7 2106.6,728.3 2106.0,727.7 2105.4,727.2 2104.8,726.6 2104.3,723.1 2103.7,722.6 2103.1,726.9 2102.6,726.5 2102.0,729.0 2101.4,728.7 2100.9,720.4 2100.3,720.3 2099.7,720.1 2099.1,720.3 2098.6,720.0 2098.0,720.4 2097.4,721.5 2096.9,722.0 2096.3,722.5 2095.7,723.0 2095.1,725.9 2094.6,726.5 2094.0,728.9 2093.4,729.6 2092.9,725.3 2092.3,725.9 2091.7,726.4 2091.2,727.0 2090.6,738.5 2090.0,739.0 2089.4,737.3 2088.9,737.7 2088.3,731.7 2087.7,732.0 2087.2,731.0 2086.6,731.1 2086.0,730.2 2085.4,730.1 2084.9,732.4 2084.3,732.2 2083.7,729.3 2083.2,728.8 2082.6,741.6 2082.0,741.0 2081.5,738.9 2080.9,738.3 2080.3,735.9 2079.7,735.3 2079.2,724.2 2078.6,723.5 2078.0,727.3 2077.5,726.7 2076.9,720.7 2076.3,720.3 2075.7,727.8 2075.2,727.4 2074.6,728.2 2074.0,728.0 2073.5,727.9 2072.9,727.9 2072.3,720.4 2071.8,720.6 2071.2,722.6 2070.6,723.0 2070.0,722.0 2069.5,722.6 2068.9,726.1 2068.3,726.8 2067.8,727.5 2067.2,728.1 2066.6,730.3 2066.1,730.8 2065.5,730.7 2064.9,731.1 2064.3,729.6 2063.8,729.8 2063.2,726.6 2062.6,726.6 2062.1,726.5 2061.5,726.3 2060.9,727.9 2060.3,727.7 2059.8,735.2 2059.2,735.0 2058.6,735.5 2058.1,735.4 2057.5,736.0 2056.9,735.9 2056.4,734.5 2055.8,734.4 2055.2,732.5 2054.6,732.5 2054.1,726.6 2053.5,726.6 2052.9,736.4 2052.4,736.5 2051.8,736.0 2051.2,736.1 2050.6,735.4 2050.1,735.6 2049.5,735.6 2048.9,735.8 2048.4,736.7 2047.8,736.9 2047.2,725.3 2046.7,725.4 2046.1,728.2 2045.5,728.3 2044.9,733.2 2044.4,733.2 2043.8,734.8 2043.2,734.8 2042.7,727.2 2042.1,727.1 2041.5,727.4 2040.9,727.3 2040.4,736.6 2039.8,736.5 2039.2,738.7 2038.7,738.5 2038.1,736.2 2037.5,736.0 2037.0,726.5 2036.4,726.3 2035.8,728.0 2035.2,727.9 2034.7,725.8 2034.1,725.6 2033.5,725.4 2033.0,725.3 2032.4,726.2 2031.8,726.1 2031.2,725.5 2030.7,725.4 2030.1,725.8 2029.5,725.8 2029.0,724.2 2028.4,724.3 2027.8,724.5 2027.3,724.6 2026.7,725.6 2026.1,725.8 2025.5,724.6 2025.0,724.8 2024.4,727.8 2023.8,728.0 2023.3,725.2 2022.7,725.3 2022.1,737.1 2021.6,737.1 2021.0,735.4 2020.4,735.3 2019.8,735.0 2019.3,734.9 2018.7,736.2 2018.1,736.0 2017.6,732.9 2017.0,732.7 2016.4,725.4 2015.8,725.2 2015.3,724.8 2014.7,724.7 2014.1,735.1 2013.6,735.0 2013.0,734.2 2012.4,734.1 2011.9,722.8 2011.3,722.9 2010.7,722.3 2010.1,722.4 2009.6,722.8 2009.0,722.8 2008.4,725.2 2007.9,725.3 2007.3,724.9 2006.7,725.0 2006.1,727.7 2005.6,727.7 2005.0,728.6 2004.4,728.7 2003.9,725.2 2003.3,725.2 2002.7,738.4 2002.1,738.4 2001.6,736.1 2001.0,736.1 2000.4,737.0 1999.9,736.9 1999.3,735.2 1998.7,735.1 1998.2,724.6 1997.6,724.5 1997.0,723.2 1996.4,723.1 1995.9,734.7 1995.3,734.6 1994.7,732.7 1994.2,732.5 1993.6,730.9 1993.0,730.7 1992.4,731.8 1991.9,731.6 1991.3,723.8 1990.7,723.6 1990.2,721.7 1989.6,721.5 1989.0,731.7 1988.4,731.5 1987.9,730.3 1987.3,730.1 1986.7,720.2 1986.2,719.9 1985.6,729.6 1985.0,729.2 1984.4,729.2 1983.9,728.8 1983.3,730.3 1982.7,729.8 1982.2,728.7 1981.6,728.2 1981.0,726.5 1980.5,726.1 1979.9,714.7 1979.3,714.3 1978.7,716.4 1978.2,716.0 1977.6,715.6 1977.0,715.1 1976.5,717.8 1975.9,717.3 1975.3,711.3 1974.7,710.9 1974.2,723.2 1973.6,722.9 1973.0,722.4 1972.5,722.2 1971.9,721.3 1971.3,721.5 1970.7,723.5 1970.2,723.9 1969.6,721.4 1969.0,721.8 1968.5,712.9 1967.9,713.4 1967.3,713.5 1966.7,714.1 1966.2,713.6 1965.6,714.2 1965.0,715.8 1964.5,716.4 1963.9,726.7 1963.3,727.4 1962.7,726.8 1962.2,727.5 1961.6,728.7 1961.0,729.4 1960.5,729.1 1959.9,729.9 1959.3,731.7 1958.8,732.6 1958.2,725.0 1957.6,725.9 1957.0,725.8 1956.5,726.7 1955.9,741.3 1955.3,742.3 1954.8,742.9 1954.2,743.9 1953.6,746.9 1953.0,748.0 1952.5,746.7 1951.9,748.2 1951.3,735.8 1950.8,737.7 1950.2,747.7 1949.6,749.5 1949.0,750.4 1948.5,752.0 1947.9,748.7 1947.3,750.5 1946.8,752.9 1946.2,754.6 1945.6,754.7 1945.0,755.7 1944.5,756.4 1943.9,756.4 1943.3,761.2 1942.8,761.0 1942.2,760.6 1941.6,760.3 1941.1,753.6 1940.5,753.2 1939.9,756.0 1939.3,755.6 1938.8,753.1 1938.2,752.7 1937.6,756.6 1937.1,756.2 1936.5,756.9 1935.9,756.4 1935.3,754.1 1934.8,753.7 1934.2,753.3 1933.6,752.9 1933.1,750.7 1932.5,750.2 1931.9,746.0 1931.3,745.5 1930.8,747.0 1930.2,746.5 1929.6,745.8 1929.1,745.2 1928.5,754.7 1927.9,754.2 1927.3,752.7 1926.8,752.2 1926.2,751.9 1925.6,751.4 1925.1,751.6 1924.5,751.1 1923.9,752.8 1923.3,752.4 1922.8,739.9 1922.2,739.5 1921.6,739.9 1921.1,739.5 1920.5,739.3 1919.9,738.9 1919.4,739.2 1918.8,738.8 1918.2,739.1 1917.6,738.7 1917.1,736.8 1916.5,736.5 1915.9,735.0 1915.4,734.6 1914.8,743.7 1914.2,743.4 1913.6,741.0 1913.1,740.7 1912.5,733.0 1911.9,732.7 1911.4,735.6 1910.8,735.4 1910.2,742.0 1909.6,741.8 1909.1,742.6 1908.5,742.4 1907.9,732.2 1907.4,731.9 1906.8,732.3 1906.2,732.1 1905.6,745.0 1905.1,744.9 1904.5,743.6 1903.9,743.6 1903.4,741.8 1902.8,741.7 1902.2,741.2 1901.7,741.2 1901.1,728.1 1900.5,728.1 1899.9,735.8 1899.4,735.7 1898.8,733.0 1898.2,733.0 1897.7,733.8 1897.1,733.7 1896.5,734.8 1895.9,734.7 1895.4,730.1 1894.8,730.1 1894.2,729.9 1893.7,730.0 1893.1,728.3 1892.5,728.4 1892.0,736.4 1891.4,736.4 1890.8,734.3 1890.2,734.3 1889.7,735.4 1889.1,735.3 1888.5,729.0 1888.0,729.0 1887.4,729.1 1886.8,729.0 1886.3,728.8 1885.7,728.7 1885.1,729.7 1884.5,729.7 1884.0,729.7 1883.4,729.7 1882.8,731.1 1882.3,731.2 1881.7,745.0 1881.1,745.0 1880.6,742.1 1880.0,742.1 1879.4,729.7 1878.9,729.7 1878.3,731.6 1877.7,731.6 1877.1,743.0 1876.6,742.9 1876.0,742.8 1875.4,742.7 1874.9,728.8 1874.3,728.6 1873.7,730.2 1873.2,730.0 1872.6,727.9 1872.0,727.6 1871.5,739.0 1870.9,738.7 1870.3,739.4 1869.7,739.0 1869.2,739.3 1868.6,738.9 1868.0,725.5 1867.5,725.1 1866.9,725.6 1866.3,725.3 1865.8,737.5 1865.2,737.4 1864.6,735.2 1864.0,735.1 1863.5,734.6 1862.9,734.7 1862.3,725.3 1861.8,725.5 1861.2,725.2 1860.6,725.5 1860.1,726.8 1859.5,727.1 1858.9,727.8 1858.4,728.2 1857.8,740.6 1857.2,741.0 1856.6,740.6 1856.1,740.9 1855.5,740.1 1854.9,740.3 1854.4,727.1 1853.8,727.2 1853.2,739.0 1852.7,739.0 1852.1,737.2 1851.5,737.2 1850.9,727.0 1850.4,727.0 1849.8,727.6 1849.2,727.5 1848.7,730.1 1848.1,730.0 1847.5,732.1 1847.0,732.1 1846.4,731.9 1845.8,731.9 1845.3,731.0 1844.7,731.1 1844.1,730.5 1843.5,730.6 1843.0,736.9 1842.4,737.0 1841.8,735.8 1841.3,735.9 1840.7,729.0 1840.1,729.1 1839.6,739.0 1839.0,739.1 1838.4,740.1 1837.8,740.2 1837.3,729.8 1836.7,729.8 1836.1,729.3 1835.6,729.3 1835.0,731.3 1834.4,731.3 1833.9,729.1 1833.3,729.1 1832.7,730.4 1832.2,730.4 1831.6,735.2 1831.0,735.2 1830.4,734.7 1829.9,734.7 1829.3,735.8 1828.7,735.9 1828.2,730.7 1827.6,730.9 1827.0,729.6 1826.5,729.8 1825.9,731.2 1825.3,731.3 1824.8,728.8 1824.2,729.0 1823.6,740.4 1823.0,740.5 1822.5,741.0 1821.9,741.0 1821.3,741.9 1820.8,742.0 1820.2,741.3 1819.6,741.2 1819.1,741.5 1818.5,741.4 1817.9,731.6 1817.3,731.4 1816.8,739.9 1816.2,739.8 1815.6,740.5 1815.1,740.3 1814.5,739.5 1813.9,739.3 1813.4,728.7 1812.8,728.6 1812.2,732.7 1811.7,732.6 1811.1,731.5 1810.5,731.5 1809.9,731.1 1809.4,731.0 1808.8,730.3 1808.2,730.3 1807.7,731.6 1807.1,731.6 1806.5,732.9 1806.0,732.8 1805.4,729.8 1804.8,729.7 1804.2,733.3 1803.7,733.2 1803.1,733.3 1802.5,733.2 1802.0,731.0 1801.4,730.9 1800.8,732.8 1800.3,732.8 1799.7,728.2 1799.1,728.2 1798.6,727.9 1798.0,728.0 1797.4,735.5 1796.8,735.7 1796.3,735.9 1795.7,736.1 1795.1,735.5 1794.6,735.7 1794.0,729.7 1793.4,729.9 1792.9,743.9 1792.3,744.1 1791.7,746.7 1791.2,746.8 1790.6,730.9 1790.0,731.0 1789.4,741.8 1788.9,741.9 1788.3,740.1 1787.7,740.2 1787.2,740.1 1786.6,740.1 1786.0,741.1 1785.5,741.1 1784.9,732.1 1784.3,732.1 1783.7,731.2 1783.2,731.1 1782.6,730.8 1782.0,730.7 1781.5,736.2 1780.9,736.0 1780.3,735.6 1779.8,735.5 1779.2,729.0 1778.7,728.9 1778.1,729.1 1777.5,728.9 1777.0,742.8 1776.4,742.5 1775.8,741.6 1775.3,741.4 1774.7,740.9 1774.2,740.7 1773.6,740.8 1773.0,740.6 1772.5,726.1 1771.9,726.0 1771.4,729.6 1770.8,729.6 1770.2,729.8 1769.7,729.9 1769.1,728.6 1768.5,728.8 1768.0,729.0 1767.4,729.2 1766.9,731.3 1766.3,731.5 1765.7,728.8 1765.2,729.0 1764.6,739.8 1764.1,739.9 1763.5,738.5 1762.9,738.6 1762.4,739.0 1761.8,739.0 1761.2,739.8 1760.7,739.7 1760.1,727.8 1759.6,727.7 1759.0,730.7 1758.4,730.5 1757.9,728.8 1757.3,728.6 1756.8,740.6 1756.2,740.4 1755.6,739.6 1755.1,739.4 1754.5,739.7 1753.9,739.7 1753.4,728.0 1752.8,728.0 1752.3,726.9 1751.7,726.9 1751.1,726.6 1750.6,726.6 1750.0,727.6 1749.5,727.6 1748.9,727.8 1748.3,727.9 1747.8,735.0 1747.2,735.0 1746.6,737.3 1746.1,737.4 1745.5,735.4 1745.0,735.5 1744.4,735.4 1743.8,735.5 1743.3,729.1 1742.7,729.2 1742.2,727.9 1741.6,727.9 1741.0,728.9 1740.5,728.9 1739.9,729.1 1739.3,729.1 1738.8,729.9 1738.2,729.9 1737.7,728.0 1737.1,728.0 1736.5,729.3 1736.0,729.4 1735.4,729.3 1734.9,729.4 1734.3,734.5 1733.7,734.7 1733.2,734.7 1732.6,734.8 1732.0,729.6 1731.5,729.7 1730.9,729.4 1730.4,729.4 1729.8,739.0 1729.2,739.0 1728.7,740.5 1728.1,740.5 1727.6,737.2 1727.0,737.2 1726.4,739.3 1725.9,739.3 1725.3,730.0 1724.8,730.1 1724.2,730.1 1723.6,730.1 1723.1,730.7 1722.5,730.7 1721.9,737.6 1721.4,737.7 1720.8,737.5 1720.3,737.6 1719.7,738.9 1719.1,739.0 1718.6,731.5 1718.0,731.5 1717.5,731.6 1716.9,731.7 1716.3,731.7 1715.8,731.7 1715.2,743.6 1714.6,743.6 1714.1,745.2 1713.5,745.2 1713.0,745.7 1712.4,745.7 1711.8,744.7 1711.3,744.7 1710.7,729.8 1710.2,729.7 1709.6,741.6 1709.0,741.5 1708.5,745.6 1707.9,745.5 1707.3,742.7 1706.8,742.6 1706.2,729.0 1705.7,728.8 1705.1,740.9 1704.5,740.8 1704.0,738.8 1703.4,738.7 1702.9,729.5 1702.3,729.5 1701.7,728.8 1701.2,728.7 1700.6,728.8 1700.0,728.8 1699.5,728.9 1698.9,728.9 1698.4,740.4 1697.8,740.5 1697.2,741.1 1696.7,741.2 1696.1,741.6 1695.6,741.8 1695.0,731.2 1694.4,731.4 1693.9,730.9 1693.3,731.1 1692.7,730.8 1692.2,730.9 1691.6,732.4 1691.1,732.4 1690.5,729.7 1689.9,729.7 1689.4,729.8 1688.8,729.8 1688.3,739.7 1687.7,739.5 1687.1,738.8 1686.6,738.6 1686.0,740.4 1685.4,740.1 1684.9,738.7 1684.3,738.4 1683.8,728.7 1683.2,728.5 1682.6,729.4 1682.1,729.3 1681.5,737.6 1681.0,737.7 1680.4,737.4 1679.8,737.6 1679.3,739.2 1678.7,739.4 1678.1,737.9 1677.6,738.1 1677.0,728.4 1676.5,728.6 1675.9,736.3 1675.3,736.4 1674.8,738.6 1674.2,738.6 1673.7,732.0 1673.1,732.0 1672.5,737.4 1672.0,737.2 1671.4,733.7 1670.8,733.5 1670.3,733.7 1669.7,733.5 1669.2,733.1 1668.6,732.9 1668.0,730.8 1667.5,730.7 1666.9,729.1 1666.3,729.1 1665.8,740.6 1665.2,740.6 1664.6,741.1 1664.0,741.1 1663.5,741.4 1662.9,741.4 1662.3,741.8 1661.8,741.7 1661.2,740.1 1660.6,740.0 1660.1,727.9 1659.5,727.8 1658.9,727.1 1658.3,727.0 1657.8,728.1 1657.2,728.0 1656.6,740.5 1656.1,740.5 1655.5,740.6 1654.9,740.7 1654.4,741.7 1653.8,741.9 1653.2,729.6 1652.7,729.8 1652.1,729.9 1651.5,730.1 1650.9,728.2 1650.4,728.4 1649.8,731.4 1649.2,731.6 1648.7,732.4 1648.1,732.5 1647.5,730.8 1647.0,730.9 1646.4,731.1 1645.8,731.1 1645.3,730.9 1644.7,730.7 1644.1,729.8 1643.5,729.5 1643.0,727.6 1642.4,727.3 1641.8,727.8 1641.3,727.4 1640.7,727.7 1640.1,727.4 1639.6,727.9 1639.0,727.6 1638.4,732.3 1637.8,732.0 1637.3,733.5 1636.7,733.3 1636.1,733.8 1635.6,733.7 1635.0,731.4 1634.4,731.4 1633.9,731.6 1633.3,731.7 1632.7,726.0 1632.2,726.1 1631.6,728.0 1631.0,728.2 1630.4,727.8 1629.9,728.0 1629.3,727.2 1628.7,727.5 1628.2,728.0 1627.6,728.2 1627.0,729.3 1626.5,729.5 1625.9,730.2 1625.3,730.3 1624.7,729.2 1624.2,729.3 1623.6,729.8 1623.0,729.8 1622.5,728.1 1621.9,728.1 1621.3,744.0 1620.8,744.0 1620.2,743.1 1619.6,743.1 1619.1,728.9 1618.5,728.8 1617.9,728.5 1617.3,728.4 1616.8,729.3 1616.2,729.2 1615.6,732.3 1615.1,732.2 1614.5,732.7 1613.9,732.7 1613.4,734.1 1612.8,734.2 1612.2,735.5 1611.7,735.6 1611.1,729.8 1610.5,729.9 1609.9,729.6 1609.4,729.7 1608.8,739.6 1608.2,739.7 1607.7,740.5 1607.1,740.6 1606.5,738.2 1606.0,738.2 1605.4,739.6 1604.8,739.6 1604.2,739.4 1603.7,739.3 1603.1,729.3 1602.5,729.3 1602.0,732.9 1601.4,732.9 1600.8,735.3 1600.3,735.3 1599.7,729.9 1599.1,729.9 1598.6,729.7 1598.0,729.8 1597.4,739.9 1596.8,740.0 1596.3,742.5 1595.7,742.6 1595.1,738.8 1594.6,738.8 1594.0,740.3 1593.4,740.3 1592.9,729.3 1592.3,729.3 1591.7,743.0 1591.1,742.9 1590.6,742.1 1590.0,742.0 1589.4,743.9 1588.9,743.8 1588.3,742.4 1587.7,742.3 1587.2,742.2 1586.6,742.1 1586.0,727.5 1585.5,727.4 1584.9,729.2 1584.3,729.1 1583.7,727.9 1583.2,727.7 1582.6,728.9 1582.0,728.7 1581.5,727.2 1580.9,727.0 1580.3,728.1 1579.8,727.8 1579.2,739.4 1578.6,739.0 1578.0,738.2 1577.5,737.7 1576.9,737.3 1576.3,736.7 1575.8,722.7 1575.2,722.3 1574.6,732.2 1574.1,731.8 1573.5,729.8 1572.9,729.5 1572.4,731.5 1571.8,731.4 1571.2,722.2 1570.6,722.4 1570.1,721.9 1569.5,722.3 1568.9,722.6 1568.4,723.1 1567.8,724.2 1567.2,724.8 1566.7,734.1 1566.1,734.7 1565.5,735.3 1565.0,735.9 1564.4,733.3 1563.8,733.9 1563.2,728.4 1562.7,728.9 1562.1,736.2 1561.5,736.6 1561.0,737.5 1560.4,737.8 1559.8,729.0 1559.3,729.1 1558.7,730.7 1558.1,730.7 1557.5,731.3 1557.0,731.2 1556.4,728.8 1555.8,728.6 1555.3,727.3 1554.7,726.9 1554.1,729.3 1553.6,728.8 1553.0,725.9 1552.4,725.4 1551.8,726.5 1551.3,725.9 1550.7,725.5 1550.1,724.9 1549.6,723.8 1549.0,723.3 1548.4,731.5 1547.8,731.1 1547.3,730.6 1546.7,730.3 1546.1,728.5 1545.6,728.2 1545.0,726.7 1544.4,726.5 1543.9,721.8 1543.3,721.7 1542.7,721.7 1542.1,721.9 1541.6,720.1 1541.0,720.5 1540.4,724.3 1539.9,724.8 1539.3,728.1 1538.7,728.7 1538.1,728.9 1537.6,729.6 1537.0,730.2 1536.4,730.9 1535.9,726.8 1535.3,727.4 1534.7,725.8 1534.1,726.3 1533.6,739.3 1533.0,739.6 1532.4,743.5 1531.9,743.6 1531.3,743.5 1530.7,743.4 1530.1,744.2 1529.6,744.0 1529.0,729.0 1528.4,728.6 1527.9,728.7 1527.3,728.2 1526.7,724.6 1526.2,724.0 1525.6,732.0 1525.0,731.4 1524.4,729.7 1523.9,729.1 1523.3,728.7 1522.7,728.1 1522.2,729.6 1521.6,729.2 1521.0,722.0 1520.4,721.7 1519.9,728.3 1519.3,728.2 1518.7,728.4 1518.2,728.6 1517.6,730.9 1517.0,731.2 1516.4,729.5 1515.9,729.9 1515.3,724.2 1514.7,724.6 1514.2,733.7 1513.6,734.2 1513.0,735.0 1512.4,735.5 1511.9,725.0 1511.3,725.6 1510.7,732.0 1510.2,732.6 1509.6,732.3 1509.0,732.7 1508.4,729.2 1507.9,729.5 1507.3,729.5 1506.7,729.6 1506.2,730.7 1505.6,730.7 1505.0,731.2 1504.5,730.9 1503.9,728.6 1503.3,728.2 1502.7,736.2 1502.2,735.7 1501.6,736.5 1501.0,735.9 1500.5,735.3 1499.9,734.6 1499.3,734.3 1498.7,733.6 1498.2,730.8 1497.6,730.1 1497.0,723.2 1496.5,722.6 1495.9,724.7 1495.3,724.3 1494.7,725.2 1494.2,724.9 1493.6,725.2 1493.0,725.2 1492.5,721.3 1491.9,721.5 1491.3,721.1 1490.7,721.4 1490.2,722.5 1489.6,722.9 1489.0,721.6 1488.5,722.2 1487.9,723.8 1487.3,724.4 1486.8,732.2 1486.2,732.8 1485.6,732.1 1485.0,732.6 1484.5,732.8 1483.9,733.3 1483.3,735.1 1482.8,735.6 1482.2,729.4 1481.6,729.7 1481.0,726.5 1480.5,726.8 1479.9,731.2 1479.3,731.3 1478.8,732.0 1478.2,732.0 1477.6,731.7 1477.0,731.5 1476.5,730.3 1475.9,729.9 1475.3,729.0 1474.8,728.6 1474.2,727.0 1473.6,726.5 1473.0,727.3 1472.5,726.8 1471.9,725.5 1471.3,725.1 1470.8,734.5 1470.2,734.0 1469.6,733.4 1469.0,733.0 1468.5,723.1 1467.9,722.9 1467.3,725.0 1466.8,724.9 1466.2,723.7 1465.6,723.7 1465.1,736.6 1464.5,736.7 1463.9,736.3 1463.3,736.5 1462.8,736.9 1462.2,737.1 1461.6,724.8 1461.1,725.1 1460.5,722.8 1459.9,723.1 1459.3,723.8 1458.8,724.1 1458.2,725.8 1457.6,726.1 1457.1,724.1 1456.5,724.3 1455.9,734.6 1455.3,734.8 1454.8,738.3 1454.2,738.5 1453.6,737.5 1453.1,737.7 1452.5,727.9 1451.9,728.1 1451.3,728.9 1450.8,728.9 1450.2,730.1 1449.6,730.1 1449.1,742.1 1448.5,742.1 1447.9,739.2 1447.4,739.2 1446.8,739.5 1446.2,739.5 1445.6,726.7 1445.1,726.7 1444.5,738.6 1443.9,738.6 1443.4,738.0 1442.8,737.9 1442.2,729.4 1441.6,729.4 1441.1,727.3 1440.5,727.3" fill="#1f77b4" stroke="#1f77b4" stroke-width="1.2" stroke-linejoin="round" clip-path="url(#cr2)"/>
<polyline points="1440.5,654.5 1441.1,658.2 1441.6,661.8 1442.2,665.2 1442.8,668.3 1443.4,671.3 1443.9,674.0 1444.5,676.6 1445.1,679.1 1445.6,681.5 1446.2,683.6 1446.8,685.4 1447.4,686.8 1447.9,687.9 1448.5,689.0 1449.1,689.7 1449.6,690.0 1450.2,690.0 1450.8,689.9 1451.3,689.8 1451.9,689.7 1452.5,689.5 1453.1,689.3 1453.6,689.1 1454.2,688.9 1454.8,688.7 1455.3,688.5 1455.9,688.3 1456.5,688.1 1457.1,687.9 1457.6,687.7 1458.2,687.4 1458.8,687.2 1459.3,686.9 1459.9,686.6 1460.5,686.3 1461.1,686.0 1461.6,685.7 1462.2,685.5 1462.8,685.2 1463.3,685.0 1463.9,684.7 1464.5,684.5 1465.1,684.4 1465.6,684.2 1466.2,684.2 1466.8,684.1 1467.3,684.1 1467.9,684.2 1468.5,684.4 1469.0,684.7 1469.6,685.0 1470.2,685.3 1470.8,685.7 1471.3,686.1 1471.9,686.6 1472.5,687.0 1473.0,687.5 1473.6,688.0 1474.2,688.5 1474.8,688.9 1475.3,689.4 1475.9,689.8 1476.5,690.1 1477.0,690.4 1477.6,690.7 1478.2,690.9 1478.8,691.0 1479.3,691.0 1479.9,690.9 1480.5,690.8 1481.0,690.6 1481.6,690.3 1482.2,690.0 1482.8,689.6 1483.3,689.2 1483.9,688.7 1484.5,688.2 1485.0,687.7 1485.6,687.1 1486.2,686.5 1486.8,685.9 1487.3,685.4 1487.9,684.8 1488.5,684.2 1489.0,683.7 1489.6,683.2 1490.2,682.7 1490.7,682.3 1491.3,681.9 1491.9,681.7 1492.5,681.5 1493.0,681.3 1493.6,681.3 1494.2,681.4 1494.7,681.5 1495.3,681.8 1495.9,682.2 1496.5,682.6 1497.0,683.1 1497.6,683.7 1498.2,684.3 1498.7,685.0 1499.3,685.7 1499.9,686.4 1500.5,687.1 1501.0,687.8 1501.6,688.5 1502.2,689.1 1502.7,689.7 1503.3,690.3 1503.9,690.7 1504.5,691.1 1505.0,691.4 1505.6,691.6 1506.2,691.7 1506.7,691.7 1507.3,691.6 1507.9,691.4 1508.4,691.1 1509.0,690.7 1509.6,690.2 1510.2,689.7 1510.7,689.2 1511.3,688.7 1511.9,688.1 1512.4,687.5 1513.0,687.0 1513.6,686.5 1514.2,685.9 1514.7,685.5 1515.3,685.0 1515.9,684.5 1516.4,684.1 1517.0,683.8 1517.6,683.5 1518.2,683.3 1518.7,683.1 1519.3,683.0 1519.9,683.1 1520.4,683.2 1521.0,683.4 1521.6,683.7 1522.2,684.1 1522.7,684.6 1523.3,685.1 1523.9,685.6 1524.4,686.2 1525.0,686.8 1525.6,687.4 1526.2,688.1 1526.7,688.7 1527.3,689.2 1527.9,689.8 1528.4,690.3 1529.0,690.7 1529.6,691.1 1530.1,691.3 1530.7,691.5 1531.3,691.7 1531.9,691.7 1532.4,691.5 1533.0,691.3 1533.6,691.0 1534.1,690.6 1534.7,690.2 1535.3,689.6 1535.9,689.1 1536.4,688.4 1537.0,687.7 1537.6,687.1 1538.1,686.4 1538.7,685.7 1539.3,685.1 1539.9,684.5 1540.4,683.9 1541.0,683.4 1541.6,683.1 1542.1,682.8 1542.7,682.6 1543.3,682.5 1543.9,682.5 1544.4,682.5 1545.0,682.7 1545.6,682.9 1546.1,683.1 1546.7,683.4 1547.3,683.7 1547.8,684.1 1548.4,684.5 1549.0,684.9 1549.6,685.4 1550.1,685.9 1550.7,686.4 1551.3,687.0 1551.8,687.5 1552.4,688.1 1553.0,688.7 1553.6,689.2 1554.1,689.8 1554.7,690.3 1555.3,690.7 1555.8,691.1 1556.4,691.4 1557.0,691.6 1557.5,691.8 1558.1,691.8 1558.7,691.8 1559.3,691.8 1559.8,691.6 1560.4,691.4 1561.0,691.1 1561.5,690.8 1562.1,690.4 1562.7,689.9 1563.2,689.5 1563.8,688.9 1564.4,688.4 1565.0,687.8 1565.5,687.2 1566.1,686.6 1566.7,686.0 1567.2,685.4 1567.8,684.8 1568.4,684.3 1568.9,683.8 1569.5,683.4 1570.1,683.0 1570.6,682.8 1571.2,682.6 1571.8,682.5 1572.4,682.5 1572.9,682.7 1573.5,682.9 1574.1,683.1 1574.6,683.5 1575.2,683.9 1575.8,684.4 1576.3,684.8 1576.9,685.4 1577.5,685.9 1578.0,686.4 1578.6,686.9 1579.2,687.3 1579.8,687.7 1580.3,688.1 1580.9,688.5 1581.5,688.8 1582.0,689.0 1582.6,689.3 1583.2,689.5 1583.7,689.7 1584.3,689.9 1584.9,690.0 1585.5,690.2 1586.0,690.3 1586.6,690.4 1587.2,690.5 1587.7,690.6 1588.3,690.7 1588.9,690.9 1589.4,691.0 1590.0,691.2 1590.6,691.3 1591.1,691.4 1591.7,691.5 1592.3,691.6 1592.9,691.7 1593.4,691.7 1594.0,691.7 1594.6,691.6 1595.1,691.5 1595.7,691.4 1596.3,691.3 1596.8,691.2 1597.4,691.1 1598.0,691.1 1598.6,691.0 1599.1,690.9 1599.7,690.9 1600.3,690.9 1600.8,691.0 1601.4,691.0 1602.0,691.1 1602.5,691.2 1603.1,691.2 1603.7,691.3 1604.2,691.4 1604.8,691.4 1605.4,691.4 1606.0,691.4 1606.5,691.4 1607.1,691.3 1607.7,691.2 1608.2,691.1 1608.8,691.0 1609.4,690.9 1609.9,690.8 1610.5,690.6 1611.1,690.5 1611.7,690.4 1612.2,690.3 1612.8,690.2 1613.4,690.1 1613.9,690.1 1614.5,690.1 1615.1,690.1 1615.6,690.1 1616.2,690.2 1616.8,690.3 1617.3,690.4 1617.9,690.5 1618.5,690.6 1619.1,690.7 1619.6,690.9 1620.2,690.9 1620.8,691.0 1621.3,691.1 1621.9,691.1 1622.5,691.1 1623.0,691.1 1623.6,691.0 1624.2,690.9 1624.7,690.8 1625.3,690.7 1625.9,690.6 1626.5,690.4 1627.0,690.2 1627.6,690.1 1628.2,689.9 1628.7,689.7 1629.3,689.5 1629.9,689.3 1630.4,689.1 1631.0,688.9 1631.6,688.7 1632.2,688.5 1632.7,688.3 1633.3,688.2 1633.9,688.1 1634.4,688.0 1635.0,688.0 1635.6,688.0 1636.1,688.1 1636.7,688.2 1637.3,688.3 1637.8,688.5 1638.4,688.7 1639.0,688.9 1639.6,689.2 1640.1,689.5 1640.7,689.9 1641.3,690.2 1641.8,690.6 1642.4,691.0 1643.0,691.3 1643.5,691.7 1644.1,692.0 1644.7,692.2 1645.3,692.4 1645.8,692.5 1646.4,692.6 1647.0,692.6 1647.5,692.5 1648.1,692.4 1648.7,692.2 1649.2,692.0 1649.8,691.7 1650.4,691.5 1650.9,691.2 1651.5,691.0 1652.1,690.7 1652.7,690.5 1653.2,690.3 1653.8,690.1 1654.4,689.9 1654.9,689.8 1655.5,689.6 1656.1,689.5 1656.6,689.5 1657.2,689.5 1657.8,689.5 1658.3,689.5 1658.9,689.6 1659.5,689.7 1660.1,689.8 1660.6,689.9 1661.2,690.0 1661.8,690.1 1662.3,690.2 1662.9,690.2 1663.5,690.3 1664.0,690.3 1664.6,690.3 1665.2,690.3 1665.8,690.3 1666.3,690.3 1666.9,690.3 1667.5,690.3 1668.0,690.4 1668.6,690.5 1669.2,690.7 1669.7,690.8 1670.3,691.0 1670.8,691.2 1671.4,691.4 1672.0,691.6 1672.5,691.8 1673.1,692.0 1673.7,692.0 1674.2,692.1 1674.8,692.1 1675.3,692.0 1675.9,691.9 1676.5,691.8 1677.0,691.6 1677.6,691.4 1678.1,691.1 1678.7,690.9 1679.3,690.7 1679.8,690.5 1680.4,690.3 1681.0,690.2 1681.5,690.2 1682.1,690.1 1682.6,690.2 1683.2,690.3 1683.8,690.5 1684.3,690.7 1684.9,690.9 1685.4,691.2 1686.0,691.5 1686.6,691.8 1687.1,692.0 1687.7,692.3 1688.3,692.5 1688.8,692.7 1689.4,692.8 1689.9,692.8 1690.5,692.9 1691.1,692.8 1691.6,692.8 1692.2,692.7 1692.7,692.6 1693.3,692.4 1693.9,692.3 1694.4,692.1 1695.0,692.0 1695.6,691.8 1696.1,691.7 1696.7,691.6 1697.2,691.4 1697.8,691.4 1698.4,691.3 1698.9,691.2 1699.5,691.2 1700.0,691.2 1700.6,691.1 1701.2,691.1 1701.7,691.2 1702.3,691.2 1702.9,691.2 1703.4,691.2 1704.0,691.3 1704.5,691.3 1705.1,691.4 1705.7,691.5 1706.2,691.6 1706.8,691.7 1707.3,691.9 1707.9,692.0 1708.5,692.1 1709.0,692.2 1709.6,692.3 1710.2,692.4 1710.7,692.5 1711.3,692.6 1711.8,692.6 1712.4,692.6 1713.0,692.7 1713.5,692.7 1714.1,692.7 1714.6,692.7 1715.2,692.7 1715.8,692.7 1716.3,692.6 1716.9,692.6 1717.5,692.6 1718.0,692.6 1718.6,692.6 1719.1,692.5 1719.7,692.5 1720.3,692.4 1720.8,692.3 1721.4,692.3 1721.9,692.2 1722.5,692.1 1723.1,692.0 1723.6,691.9 1724.2,691.9 1724.8,691.8 1725.3,691.8 1725.9,691.7 1726.4,691.7 1727.0,691.7 1727.6,691.7 1728.1,691.7 1728.7,691.7 1729.2,691.7 1729.8,691.7 1730.4,691.6 1730.9,691.6 1731.5,691.5 1732.0,691.3 1732.6,691.2 1733.2,691.1 1733.7,690.9 1734.3,690.8 1734.9,690.6 1735.4,690.5 1736.0,690.4 1736.5,690.4 1737.1,690.3 1737.7,690.3 1738.2,690.3 1738.8,690.4 1739.3,690.4 1739.9,690.4 1740.5,690.5 1741.0,690.5 1741.6,690.5 1742.2,690.5 1742.7,690.5 1743.3,690.4 1743.8,690.4 1744.4,690.3 1745.0,690.3 1745.5,690.2 1746.1,690.2 1746.6,690.1 1747.2,690.0 1747.8,689.9 1748.3,689.9 1748.9,689.8 1749.5,689.7 1750.0,689.6 1750.6,689.6 1751.1,689.5 1751.7,689.5 1752.3,689.4 1752.8,689.4 1753.4,689.4 1753.9,689.4 1754.5,689.5 1755.1,689.5 1755.6,689.6 1756.2,689.7 1756.8,689.9 1757.3,690.0 1757.9,690.2 1758.4,690.4 1759.0,690.6 1759.6,690.8 1760.1,690.9 1760.7,691.1 1761.2,691.2 1761.8,691.3 1762.4,691.3 1762.9,691.4 1763.5,691.3 1764.1,691.2 1764.6,691.1 1765.2,691.0 1765.7,690.8 1766.3,690.6 1766.9,690.4 1767.4,690.1 1768.0,689.9 1768.5,689.7 1769.1,689.5 1769.7,689.3 1770.2,689.2 1770.8,689.1 1771.4,689.1 1771.9,689.1 1772.5,689.2 1773.0,689.3 1773.6,689.5 1774.2,689.6 1774.7,689.8 1775.3,690.1 1775.8,690.3 1776.4,690.5 1777.0,690.7 1777.5,690.9 1778.1,691.1 1778.7,691.3 1779.2,691.5 1779.8,691.7 1780.3,691.9 1780.9,692.0 1781.5,692.1 1782.0,692.2 1782.6,692.3 1783.2,692.4 1783.7,692.5 1784.3,692.6 1784.9,692.6 1785.5,692.7 1786.0,692.7 1786.6,692.7 1787.2,692.7 1787.7,692.7 1788.3,692.7 1788.9,692.6 1789.4,692.6 1790.0,692.5 1790.6,692.4 1791.2,692.3 1791.7,692.1 1792.3,692.0 1792.9,691.8 1793.4,691.6 1794.0,691.4 1794.6,691.2 1795.1,691.0 1795.7,690.7 1796.3,690.5 1796.8,690.3 1797.4,690.1 1798.0,690.0 1798.6,689.8 1799.1,689.7 1799.7,689.6 1800.3,689.6 1800.8,689.6 1801.4,689.6 1802.0,689.7 1802.5,689.8 1803.1,689.9 1803.7,690.0 1804.2,690.2 1804.8,690.3 1805.4,690.4 1806.0,690.5 1806.5,690.6 1807.1,690.7 1807.7,690.7 1808.2,690.7 1808.8,690.8 1809.4,690.8 1809.9,690.8 1810.5,690.8 1811.1,690.8 1811.7,690.9 1812.2,691.0 1812.8,691.1 1813.4,691.2 1813.9,691.3 1814.5,691.5 1815.1,691.7 1815.6,691.9 1816.2,692.1 1816.8,692.3 1817.3,692.5 1817.9,692.6 1818.5,692.8 1819.1,692.9 1819.6,693.0 1820.2,693.0 1820.8,693.0 1821.3,693.0 1821.9,693.0 1822.5,692.9 1823.0,692.8 1823.6,692.7 1824.2,692.6 1824.8,692.5 1825.3,692.4 1825.9,692.2 1826.5,692.1 1827.0,692.0 1827.6,691.8 1828.2,691.7 1828.7,691.6 1829.3,691.5 1829.9,691.4 1830.4,691.4 1831.0,691.4 1831.6,691.3 1832.2,691.3 1832.7,691.3 1833.3,691.3 1833.9,691.4 1834.4,691.4 1835.0,691.4 1835.6,691.4 1836.1,691.3 1836.7,691.3 1837.3,691.2 1837.8,691.2 1838.4,691.1 1839.0,691.0 1839.6,690.9 1840.1,690.8 1840.7,690.6 1841.3,690.5 1841.8,690.4 1842.4,690.3 1843.0,690.2 1843.5,690.1 1844.1,690.0 1844.7,689.9 1845.3,689.9 1845.8,689.8 1846.4,689.8 1847.0,689.9 1847.5,689.9 1848.1,690.0 1848.7,690.1 1849.2,690.2 1849.8,690.4 1850.4,690.5 1850.9,690.5 1851.5,690.6 1852.1,690.6 1852.7,690.6 1853.2,690.5 1853.8,690.4 1854.4,690.2 1854.9,690.0 1855.5,689.8 1856.1,689.5 1856.6,689.2 1857.2,688.9 1857.8,688.6 1858.4,688.3 1858.9,687.9 1859.5,687.6 1860.1,687.3 1860.6,687.0 1861.2,686.8 1861.8,686.6 1862.3,686.4 1862.9,686.3 1863.5,686.2 1864.0,686.2 1864.6,686.2 1865.2,686.2 1865.8,686.4 1866.3,686.6 1866.9,686.8 1867.5,687.1 1868.0,687.4 1868.6,687.7 1869.2,688.1 1869.7,688.4 1870.3,688.7 1870.9,689.1 1871.5,689.4 1872.0,689.6 1872.6,689.9 1873.2,690.2 1873.7,690.4 1874.3,690.6 1874.9,690.8 1875.4,690.9 1876.0,691.1 1876.6,691.2 1877.1,691.2 1877.7,691.3 1878.3,691.3 1878.9,691.3 1879.4,691.2 1880.0,691.2 1880.6,691.2 1881.1,691.1 1881.7,691.1 1882.3,691.0 1882.8,691.0 1883.4,690.9 1884.0,690.9 1884.5,690.9 1885.1,690.9 1885.7,690.9 1886.3,690.9 1886.8,691.0 1887.4,691.1 1888.0,691.1 1888.5,691.2 1889.1,691.3 1889.7,691.3 1890.2,691.3 1890.8,691.3 1891.4,691.3 1892.0,691.2 1892.5,691.2 1893.1,691.1 1893.7,691.1 1894.2,691.0 1894.8,691.0 1895.4,690.9 1895.9,690.9 1896.5,691.0 1897.1,691.0 1897.7,691.1 1898.2,691.1 1898.8,691.2 1899.4,691.2 1899.9,691.3 1900.5,691.3 1901.1,691.4 1901.7,691.4 1902.2,691.4 1902.8,691.5 1903.4,691.5 1903.9,691.6 1904.5,691.7 1905.1,691.7 1905.6,691.8 1906.2,692.8 1906.8,693.0 1907.4,693.2 1907.9,693.4 1908.5,693.7 1909.1,693.9 1909.6,694.2 1910.2,694.4 1910.8,694.7 1911.4,694.9 1911.9,695.1 1912.5,695.4 1913.1,695.6 1913.6,695.9 1914.2,696.2 1914.8,696.5 1915.4,696.8 1915.9,697.1 1916.5,697.4 1917.1,697.7 1917.6,698.0 1918.2,698.4 1918.8,698.7 1919.4,699.0 1919.9,699.4 1920.5,699.7 1921.1,700.1 1921.6,700.4 1922.2,700.7 1922.8,701.1 1923.3,701.4 1923.9,701.8 1924.5,702.1 1925.1,702.5 1925.6,702.9 1926.2,703.3 1926.8,703.6 1927.3,704.0 1927.9,704.4 1928.5,704.8 1929.1,705.2 1929.6,705.6 1930.2,706.0 1930.8,706.4 1931.3,706.8 1931.9,707.1 1932.5,707.4 1933.1,707.8 1933.6,708.1 1934.2,708.3 1934.8,708.6 1935.3,708.8 1935.9,709.1 1936.5,709.3 1937.1,709.6 1937.6,709.9 1938.2,710.1 1938.8,710.3 1939.3,710.6 1939.9,710.8 1940.5,711.0 1941.1,711.2 1941.6,711.3 1942.2,711.5 1942.8,711.6 1943.3,711.6 1943.9,711.7 1944.5,711.6 1945.0,711.0 1945.6,709.8 1946.2,708.3 1946.8,706.4 1947.3,704.5 1947.9,702.6 1948.5,700.9 1949.0,699.2 1949.6,697.4 1950.2,695.5 1950.8,693.6 1951.3,691.8 1951.9,690.1 1952.5,688.6 1953.0,687.3 1953.6,686.3 1954.2,685.2 1954.8,684.2 1955.3,683.3 1955.9,682.4 1956.5,681.5 1957.0,680.7 1957.6,679.9 1958.2,679.2 1958.8,678.5 1959.3,677.8 1959.9,677.2 1960.5,676.6 1961.0,676.0 1961.6,675.4 1962.2,674.9 1962.7,674.4 1963.3,674.0 1963.9,673.5 1964.5,673.1 1965.0,672.6 1965.6,672.2 1966.2,671.8 1966.7,671.4 1967.3,671.0 1967.9,670.6 1968.5,670.3 1969.0,669.9 1969.6,669.7 1970.2,669.5 1970.7,669.3 1971.3,669.2 1971.9,669.1 1972.5,669.1 1973.0,669.3 1973.6,669.6 1974.2,670.0 1974.7,670.5 1975.3,671.0 1975.9,671.6 1976.5,672.3 1977.0,672.9 1977.6,673.5 1978.2,674.2 1978.7,674.7 1979.3,675.3 1979.9,675.8 1980.5,676.3 1981.0,676.8 1981.6,677.3 1982.2,677.9 1982.7,678.4 1983.3,678.9 1983.9,679.5 1984.4,680.0 1985.0,680.5 1985.6,680.9 1986.2,681.3 1986.7,681.7 1987.3,682.1 1987.9,682.4 1988.4,682.7 1989.0,682.9 1989.6,683.2 1990.2,683.4 1990.7,683.6 1991.3,683.8 1991.9,684.1 1992.4,684.3 1993.0,684.4 1993.6,684.6 1994.2,684.8 1994.7,684.9 1995.3,685.1 1995.9,685.2 1996.4,685.3 1997.0,685.4 1997.6,685.5 1998.2,685.9 1998.7,686.0 1999.3,686.2 1999.9,686.3 2000.4,686.4 2001.0,686.5 2001.6,686.6 2002.1,686.6 2002.7,686.6 2003.3,686.7 2003.9,686.6 2004.4,686.6 2005.0,686.6 2005.6,686.5 2006.1,686.4 2006.7,686.3 2007.3,686.3 2007.9,686.2 2008.4,686.1 2009.0,686.0 2009.6,685.9 2010.1,685.8 2010.7,685.8 2011.3,685.7 2011.9,685.7 2012.4,685.7 2013.0,685.7 2013.6,685.8 2014.1,685.9 2014.7,686.0 2015.3,686.1 2015.8,686.3 2016.4,686.5 2017.0,686.7 2017.6,686.9 2018.1,687.1 2018.7,687.3 2019.3,687.5 2019.8,687.6 2020.4,687.7 2021.0,687.8 2021.6,687.9 2022.1,687.9 2022.7,687.8 2023.3,687.7 2023.8,687.6 2024.4,687.5 2025.0,687.3 2025.5,687.2 2026.1,687.0 2026.7,686.9 2027.3,686.7 2027.8,686.6 2028.4,686.6 2029.0,686.5 2029.5,686.5 2030.1,686.5 2030.7,686.6 2031.2,686.6 2031.8,686.7 2032.4,686.8 2033.0,686.9 2033.5,687.0 2034.1,687.1 2034.7,687.2 2035.2,687.3 2035.8,687.4 2036.4,687.6 2037.0,687.7 2037.5,687.8 2038.1,688.0 2038.7,688.1 2039.2,688.3 2039.8,688.5 2040.4,688.6 2040.9,688.8 2041.5,689.0 2042.1,689.1 2042.7,689.2 2043.2,689.3 2043.8,689.3 2044.4,689.4 2044.9,689.3 2045.5,689.3 2046.1,689.2 2046.7,689.1 2047.2,689.0 2047.8,688.8 2048.4,688.6 2048.9,688.5 2049.5,688.3 2050.1,688.1 2050.6,688.0 2051.2,687.8 2051.8,687.7 2052.4,687.6 2052.9,687.6 2053.5,687.5 2054.1,687.5 2054.6,687.5 2055.2,687.5 2055.8,687.6 2056.4,687.6 2056.9,687.7 2057.5,687.8 2058.1,688.0 2058.6,688.1 2059.2,688.3 2059.8,688.5 2060.3,688.6 2060.9,688.8 2061.5,689.0 2062.1,689.2 2062.6,689.4 2063.2,689.5 2063.8,689.5 2064.3,689.3 2064.9,689.0 2065.5,688.7 2066.1,688.2 2066.6,687.6 2067.2,687.0 2067.8,686.4 2068.3,685.7 2068.9,685.1 2069.5,684.5 2070.0,683.9 2070.6,683.4 2071.2,683.0 2071.8,682.7 2072.3,682.6 2072.9,682.5 2073.5,682.5 2074.0,682.6 2074.6,682.7 2075.2,682.9 2075.7,683.2 2076.3,683.6 2076.9,684.0 2077.5,684.5 2078.0,685.1 2078.6,685.7 2079.2,686.3 2079.7,686.9 2080.3,687.6 2080.9,688.3 2081.5,689.0 2082.0,689.6 2082.6,690.3 2083.2,690.8 2083.7,691.4 2084.3,691.8 2084.9,692.2 2085.4,692.5 2086.0,692.6 2086.6,692.7 2087.2,692.6 2087.7,692.5 2088.3,692.2 2088.9,691.9 2089.4,691.5 2090.0,691.0 2090.6,690.5 2091.2,689.9 2091.7,689.3 2092.3,688.7 2092.9,688.0 2093.4,687.4 2094.0,686.7 2094.6,686.1 2095.1,685.4 2095.7,684.8 2096.3,684.2 2096.9,683.7 2097.4,683.2 2098.0,682.7 2098.6,682.4 2099.1,682.1 2099.7,681.9 2100.3,681.8 2100.9,681.8 2101.4,681.9 2102.0,682.1 2102.6,682.4 2103.1,682.8 2103.7,683.2 2104.3,683.6 2104.8,684.1 2105.4,684.6 2106.0,685.2 2106.6,685.8 2107.1,686.3 2107.7,686.9 2108.3,687.4 2108.8,688.0 2109.4,688.5 2110.0,688.9 2110.5,689.3 2111.1,689.7 2111.7,690.0 2112.3,690.2 2112.8,690.4 2113.4,690.5 2114.0,690.4 2114.5,690.4 2115.1,690.2 2115.7,690.1 2116.3,689.9 2116.8,689.7 2117.4,689.5 2118.0,689.4 2118.5,689.2 2119.1,689.0 2119.7,688.9 2120.2,688.7 2120.8,688.6 2121.4,688.5 2122.0,688.4 2122.5,688.3 2123.1,688.2 2123.7,688.1 2124.2,688.0 2124.8,687.9 2125.3,687.8 2125.9,687.7 2126.5,687.6 2127.0,687.5 2127.6,687.4 2128.2,687.4 2128.7,687.3 2129.3,687.4 2129.8,687.4 2130.4,687.5 2131.0,687.7 2131.5,687.8 2132.1,688.1 2132.6,688.3 2133.2,688.6 2133.8,689.0 2134.3,689.3 2134.9,689.7 2135.5,690.1 2136.0,690.5 2136.6,690.9 2137.1,691.3 2137.7,691.7 2138.3,692.1 2138.8,692.4 2139.4,692.6 2139.9,692.8 2140.5,693.0 2141.1,693.1 2141.6,693.1 2142.2,693.1 2142.8,693.0 2143.3,692.9 2143.9,692.7 2144.4,692.5 2145.0,692.3 2145.6,692.1 2146.1,691.9 2146.7,691.7 2147.2,691.5 2147.8,691.3 2148.4,691.1 2148.9,690.9 2149.5,690.7 2150.1,690.4 2150.6,690.2 2151.2,690.0 2151.7,689.8 2152.3,689.5 2152.9,689.3 2153.4,689.0 2154.0,688.7 2154.5,688.4 2155.1,688.2 2155.7,687.9 2156.2,687.6 2156.8,687.3 2157.4,687.0 2157.9,686.8 2158.5,686.5 2159.0,686.4 2159.6,686.2 2160.2,686.1 2160.7,686.1 2161.3,686.1 2161.8,686.2 2162.4,686.3 2163.0,686.5 2163.5,686.7 2164.1,686.9 2164.7,687.1 2165.2,687.3 2165.8,687.6 2166.3,687.8 2166.9,687.9 2167.5,688.0 2168.0,688.1 2168.6,688.2 2169.1,688.2 2169.7,688.2 2170.3,688.2 2170.8,688.1 2171.4,688.1 2172.0,688.0 2172.5,687.9 2173.1,687.9 2173.6,687.9 2174.2,687.9 2174.8,688.0 2175.3,688.0 2175.9,688.2 2176.4,688.3 2177.0,688.4 2177.6,688.6 2178.1,688.8 2178.7,688.9 2179.2,689.1 2179.8,689.2 2180.4,689.3 2180.9,689.4 2181.5,689.5 2182.1,689.6 2182.6,689.7 2183.2,689.7 2183.7,689.8 2184.3,689.8 2184.9,689.8 2185.4,689.7 2186.0,689.7 2186.5,689.6 2187.1,689.6 2187.7,689.5 2188.2,689.4 2188.8,689.3 2189.4,689.1 2189.9,689.0 2190.5,688.9 2191.0,688.8 2191.6,688.6 2192.2,688.6 2192.7,688.5 2193.3,688.4 2193.8,688.4 2194.4,688.4 2195.0,688.4 2195.5,688.5 2196.1,688.7 2196.7,688.8 2197.2,689.0 2197.8,689.2 2198.3,689.4 2198.9,689.7 2199.5,689.9 2200.0,690.1 2200.6,690.3 2201.1,690.5 2201.7,690.7 2202.3,690.8 2202.8,691.0 2203.4,691.1 2204.0,691.2 2204.5,691.3 2205.1,691.4 2205.6,691.6 2206.2,691.7 2206.8,691.8 2207.3,691.9 2207.9,692.0 2208.4,692.1 2209.0,692.2 2209.6,692.2 2210.1,692.3 2210.7,692.3 2211.3,692.2 2211.8,692.2 2212.4,692.1 2212.9,692.0 2213.5,691.8 2214.1,691.6 2214.6,691.4 2215.2,691.2 2215.7,690.9 2216.3,690.7 2216.9,690.4 2217.4,690.0 2218.0,689.7 2218.6,689.4 2219.1,689.0 2219.7,688.6 2220.2,688.2 2220.8,687.7 2221.4,687.3 2221.9,686.8 2222.5,686.4 2223.0,686.0 2223.6,685.6 2224.2,685.2 2224.7,684.9 2225.3,684.7 2225.9,684.5 2226.4,684.3 2227.0,684.3 2227.5,684.3 2228.1,684.3 2228.7,684.4 2229.2,684.6 2229.8,684.7 2230.3,685.0 2230.9,685.2 2231.5,685.4 2232.0,685.6 2232.6,685.8 2233.2,686.1 2233.7,686.3 2234.3,686.5 2234.8,686.7 2235.4,686.9 2236.0,687.1 2236.5,687.3 2237.1,687.6 2237.7,687.8 2238.3,688.1 2238.8,688.4 2239.4,688.7 2240.0,688.9 2240.5,689.2 2241.1,689.4 2241.7,689.6 2242.3,689.8 2242.8,689.9 2243.4,690.0 2244.0,690.0 2244.5,690.0 2245.1,689.9 2245.7,689.8 2246.2,689.7 2246.8,689.5 2247.4,689.3 2248.0,689.1 2248.5,688.9 2249.1,688.7 2249.7,688.5 2250.2,688.4 2250.8,688.3 2251.4,688.2 2252.0,688.2 2252.5,688.1 2253.1,688.1 2253.7,688.1 2254.2,688.0 2254.8,688.0 2255.4,688.0 2256.0,687.9 2256.5,687.9 2257.1,687.8 2257.7,687.6 2258.2,687.5 2258.8,687.3 2259.4,687.1 2260.0,686.9 2260.5,686.6 2261.1,686.4 2261.7,686.1 2262.2,685.9 2262.8,685.8 2263.4,685.6 2263.9,685.6 2264.5,685.6 2265.1,685.7 2265.7,685.8 2266.2,686.1 2266.8,686.4 2267.4,686.7 2267.9,687.1 2268.5,687.6 2269.1,688.0 2269.7,688.5 2270.2,688.9 2270.8,689.3 2271.4,689.7 2271.9,690.1 2272.5,690.4 2273.1,690.6 2273.7,690.9 2274.2,691.0 2274.8,691.2 2275.4,691.3 2275.9,691.5 2276.5,691.6 2277.1,691.7 2277.7,691.8 2278.2,691.9 2278.8,692.1 2279.4,692.2 2279.9,692.4 2280.5,692.5 2281.1,692.6 2281.7,692.8 2282.2,692.9 2282.8,692.9 2283.4,692.9 2283.9,692.9 2284.5,692.8 2285.1,692.7 2285.6,692.6 2286.2,692.4 2286.8,692.1 2287.4,691.8 2287.9,691.5 2288.5,691.2 2289.1,690.9 2289.6,690.6 2290.2,690.2 2290.8,689.9 2291.4,689.6 2291.9,689.3 2292.5,689.0 2293.1,688.7 2293.6,688.3 2294.2,688.0 2294.8,687.7 2295.4,687.4 2295.9,687.0 2296.5,686.7 2297.1,686.4 2297.6,686.1 2298.2,685.9 2298.8,685.7 2299.4,685.5 2299.9,685.4 2300.5,685.4 2301.1,685.4 2301.6,685.4 2302.2,685.5 2302.8,685.7 2303.3,685.9 2303.9,686.1 2304.5,686.4 2305.1,686.7 2305.6,687.1 2306.2,687.6 2306.8,688.0 2307.3,688.5 2307.9,688.9 2308.5,689.4 2309.1,689.9 2309.6,690.3 2310.2,690.7 2310.8,691.0 2311.3,691.3 2311.9,691.5 2312.5,691.7 2313.1,691.7 2313.6,691.8 2314.2,691.7 2314.8,691.7 2315.3,691.5 2315.9,691.4 2316.5,691.2 2317.1,691.0 2317.6,690.8 2318.2,690.6 2318.8,690.5 2319.3,690.3 2319.9,690.1 2320.5,689.9 2321.1,689.7 2321.6,689.5 2322.2,689.3 2322.8,689.1 2323.3,688.9 2323.9,688.8 2324.5,688.7 2325.0,688.6 2325.6,688.5 2326.2,688.5 2326.8,688.5 2327.3,688.5 2327.9,688.5 2328.5,688.6 2329.0,688.7 2329.6,688.8 2330.2,688.9 2330.8,688.9 2331.3,689.0 2331.9,689.0 2332.5,689.0 2333.0,689.0 2333.6,688.9 2334.2,688.8 2334.8,688.7 2335.3,688.6 2335.9,688.5 2336.5,688.4 2337.0,688.3 2337.6,688.2 2338.2,688.1 2338.8,688.1 2339.3,688.2 2339.9,688.2 2340.5,688.4 2341.0,688.5 2341.6,688.7 2342.2,688.9 2342.7,689.1 2343.3,689.3 2343.9,689.5 2344.5,689.7 2345.0,689.8 2345.6,689.9 2346.2,690.0 2346.7,690.1 2347.3,690.1 2347.9,690.1 2348.5,690.1 2349.0,690.0 2349.6,689.9" fill="none" stroke="#ff7f0e" stroke-width="3.4" stroke-linejoin="round" stroke-linecap="round" clip-path="url(#cr2)"/>
<text x="1386.50" y="633.00" font-size="24.6" font-family="'Liberation Sans', Arial, sans-serif" fill="#2c2c2c" text-anchor="end" textLength="34.08" lengthAdjust="spacingAndGlyphs">500</text>
<text x="1387.75" y="697.45" font-size="24.6" font-family="'Liberation Sans', Arial, sans-serif" fill="#2c2c2c" text-anchor="end" textLength="11.60" lengthAdjust="spacingAndGlyphs">0</text>
<text x="1387.00" y="761.95" font-size="24.6" font-family="'Liberation Sans', Arial, sans-serif" fill="#2c2c2c" text-anchor="end" textLength="46.06" lengthAdjust="spacingAndGlyphs">−500</text>
<text x="1324.20" y="689.90" font-size="24.3" font-family="'Liberation Sans', Arial, sans-serif" fill="#2c2c2c" text-anchor="middle" textLength="96.28" lengthAdjust="spacingAndGlyphs" transform="rotate(-90 1324.20 689.90)">Field (nT)</text>
<line x1="1440.5" y1="822.4" x2="1440.5" y2="1011.9" stroke="#d3d3d3" stroke-width="2.2"/>
<line x1="1554.7" y1="822.4" x2="1554.7" y2="1011.9" stroke="#d3d3d3" stroke-width="2.2"/>
<line x1="1668.6" y1="822.4" x2="1668.6" y2="1011.9" stroke="#d3d3d3" stroke-width="2.2"/>
<line x1="1780.9" y1="822.4" x2="1780.9" y2="1011.9" stroke="#d3d3d3" stroke-width="2.2"/>
<line x1="1894.8" y1="822.4" x2="1894.8" y2="1011.9" stroke="#d3d3d3" stroke-width="2.2"/>
<line x1="2009" y1="822.4" x2="2009" y2="1011.9" stroke="#d3d3d3" stroke-width="2.2"/>
<line x1="2123.1" y1="822.4" x2="2123.1" y2="1011.9" stroke="#d3d3d3" stroke-width="2.2"/>
<line x1="2235.4" y1="822.4" x2="2235.4" y2="1011.9" stroke="#d3d3d3" stroke-width="2.2"/>
<line x1="2349.6" y1="822.4" x2="2349.6" y2="1011.9" stroke="#d3d3d3" stroke-width="2.2"/>
<line x1="1395.1" y1="854.2" x2="2395.4" y2="854.2" stroke="#d3d3d3" stroke-width="2.2"/>
<line x1="1395.1" y1="917.8" x2="2395.4" y2="917.8" stroke="#d3d3d3" stroke-width="2.2"/>
<line x1="1395.1" y1="983" x2="2395.4" y2="983" stroke="#d3d3d3" stroke-width="2.2"/>
<rect x="1395.1" y="822.4" width="1000.3" height="189.5" fill="none" stroke="#d0d0d0" stroke-width="2.4"/>
<polygon points="1440.5,876.2 1441.1,876.1 1441.6,876.3 1442.2,876.3 1442.8,875.9 1443.4,875.8 1443.9,877.4 1444.5,877.4 1445.1,876.0 1445.6,876.0 1446.2,885.4 1446.8,885.4 1447.4,882.2 1447.9,882.1 1448.5,881.5 1449.1,881.5 1449.6,884.4 1450.2,884.3 1450.8,884.0 1451.3,884.0 1451.9,881.3 1452.5,881.3 1453.1,882.6 1453.6,882.6 1454.2,870.1 1454.8,870.1 1455.3,870.5 1455.9,870.5 1456.5,871.0 1457.1,871.0 1457.6,883.2 1458.2,883.3 1458.8,884.5 1459.3,884.6 1459.9,871.8 1460.5,871.9 1461.1,872.2 1461.6,872.2 1462.2,871.4 1462.8,871.4 1463.3,883.6 1463.9,883.6 1464.5,883.3 1465.1,883.3 1465.6,885.0 1466.2,884.9 1466.8,883.2 1467.3,883.1 1467.9,884.5 1468.5,884.4 1469.0,883.9 1469.6,883.8 1470.2,883.1 1470.8,883.0 1471.3,883.3 1471.9,883.2 1472.5,880.1 1473.0,880.1 1473.6,878.2 1474.2,878.2 1474.8,882.6 1475.3,882.6 1475.9,874.4 1476.5,874.4 1477.0,873.1 1477.6,873.2 1478.2,869.6 1478.8,869.6 1479.3,872.2 1479.9,872.2 1480.5,883.8 1481.0,883.8 1481.6,874.5 1482.2,874.5 1482.8,874.7 1483.3,874.8 1483.9,883.0 1484.5,883.1 1485.0,884.2 1485.6,884.3 1486.2,870.3 1486.8,870.4 1487.3,868.6 1487.9,868.7 1488.5,870.2 1489.0,870.3 1489.6,882.9 1490.2,883.0 1490.7,883.3 1491.3,883.4 1491.9,886.7 1492.5,886.8 1493.0,884.4 1493.6,884.4 1494.2,883.8 1494.7,883.8 1495.3,874.8 1495.9,874.8 1496.5,876.7 1497.0,876.6 1497.6,876.7 1498.2,876.6 1498.7,885.1 1499.3,885.0 1499.9,883.1 1500.5,882.9 1501.0,884.3 1501.6,884.1 1502.2,881.0 1502.7,880.9 1503.3,883.1 1503.9,883.0 1504.5,880.8 1505.0,880.7 1505.6,874.8 1506.2,874.7 1506.7,875.2 1507.3,875.2 1507.9,873.9 1508.4,873.9 1509.0,884.7 1509.6,884.8 1510.2,884.3 1510.7,884.4 1511.3,884.3 1511.9,884.5 1512.4,879.0 1513.0,879.3 1513.6,879.7 1514.2,879.8 1514.7,878.6 1515.3,878.7 1515.9,879.6 1516.4,879.7 1517.0,879.5 1517.6,879.5 1518.2,884.6 1518.7,884.6 1519.3,876.5 1519.9,876.5 1520.4,876.5 1521.0,876.5 1521.6,876.5 1522.2,876.6 1522.7,884.8 1523.3,884.8 1523.9,885.4 1524.4,885.5 1525.0,882.9 1525.6,882.9 1526.2,884.4 1526.7,884.5 1527.3,885.7 1527.9,885.7 1528.4,881.6 1529.0,881.5 1529.6,882.1 1530.1,882.1 1530.7,883.3 1531.3,883.2 1531.9,880.3 1532.4,880.2 1533.0,882.6 1533.6,882.5 1534.1,885.3 1534.7,885.2 1535.3,883.6 1535.9,883.5 1536.4,877.5 1537.0,877.4 1537.6,875.8 1538.1,875.7 1538.7,876.2 1539.3,876.1 1539.9,874.8 1540.4,874.7 1541.0,881.7 1541.6,881.7 1542.1,882.9 1542.7,882.9 1543.3,878.6 1543.9,878.5 1544.4,877.6 1545.0,877.6 1545.6,883.3 1546.1,883.3 1546.7,882.1 1547.3,882.1 1547.8,883.1 1548.4,883.1 1549.0,874.0 1549.6,874.0 1550.1,874.0 1550.7,874.1 1551.3,883.4 1551.8,883.5 1552.4,870.4 1553.0,870.4 1553.6,871.2 1554.1,871.3 1554.7,873.6 1555.3,873.6 1555.8,872.0 1556.4,872.0 1557.0,873.7 1557.5,873.6 1558.1,883.7 1558.7,883.6 1559.3,883.2 1559.8,883.1 1560.4,884.1 1561.0,884.0 1561.5,885.0 1562.1,885.0 1562.7,877.8 1563.2,877.8 1563.8,878.4 1564.4,878.4 1565.0,876.7 1565.5,876.8 1566.1,876.8 1566.7,876.9 1567.2,877.1 1567.8,877.2 1568.4,883.0 1568.9,883.1 1569.5,877.3 1570.1,877.4 1570.6,878.0 1571.2,878.1 1571.8,884.2 1572.4,884.3 1572.9,885.3 1573.5,885.5 1574.1,885.8 1574.6,885.9 1575.2,884.2 1575.8,884.3 1576.3,887.9 1576.9,888.0 1577.5,883.7 1578.0,883.8 1578.6,884.3 1579.2,884.4 1579.8,886.4 1580.3,886.4 1580.9,877.7 1581.5,877.7 1582.0,879.7 1582.6,879.7 1583.2,879.9 1583.7,879.8 1584.3,885.5 1584.9,885.5 1585.5,885.8 1586.0,885.8 1586.6,885.1 1587.2,885.1 1587.7,874.3 1588.3,874.3 1588.9,872.6 1589.4,872.6 1590.0,872.6 1590.6,872.6 1591.1,872.0 1591.7,871.9 1592.3,873.0 1592.9,872.8 1593.4,885.4 1594.0,885.2 1594.6,873.3 1595.1,873.2 1595.7,872.1 1596.3,871.9 1596.8,871.1 1597.4,870.9 1598.0,872.8 1598.6,872.7 1599.1,872.6 1599.7,872.5 1600.3,883.8 1600.8,883.7 1601.4,883.4 1602.0,883.4 1602.5,883.7 1603.1,883.7 1603.7,869.0 1604.2,869.0 1604.8,871.5 1605.4,871.6 1606.0,871.0 1606.5,871.1 1607.1,868.2 1607.7,868.2 1608.2,884.3 1608.8,884.4 1609.4,881.6 1609.9,881.6 1610.5,870.3 1611.1,870.4 1611.7,871.0 1612.2,871.1 1612.8,882.9 1613.4,883.0 1613.9,875.9 1614.5,876.0 1615.1,876.3 1615.6,876.4 1616.2,875.6 1616.8,875.6 1617.3,874.3 1617.9,874.2 1618.5,886.3 1619.1,886.3 1619.6,885.2 1620.2,885.1 1620.8,885.2 1621.3,885.1 1621.9,885.4 1622.5,885.4 1623.0,881.1 1623.6,881.1 1624.2,880.3 1624.7,880.4 1625.3,884.4 1625.9,884.5 1626.5,869.6 1627.0,869.7 1627.6,870.1 1628.2,870.1 1628.7,873.0 1629.3,873.0 1629.9,871.2 1630.4,871.1 1631.0,884.6 1631.6,884.5 1632.2,883.1 1632.7,883.0 1633.3,870.4 1633.9,870.2 1634.4,867.6 1635.0,867.5 1635.6,870.6 1636.1,870.5 1636.7,868.8 1637.3,868.8 1637.8,882.3 1638.4,882.3 1639.0,883.9 1639.6,883.9 1640.1,884.1 1640.7,884.1 1641.3,874.5 1641.8,874.6 1642.4,874.0 1643.0,874.1 1643.5,884.9 1644.1,885.0 1644.7,883.2 1645.3,883.3 1645.8,883.3 1646.4,883.3 1647.0,874.1 1647.5,874.2 1648.1,872.0 1648.7,872.0 1649.2,874.5 1649.8,874.5 1650.4,884.6 1650.9,884.6 1651.5,869.4 1652.1,869.3 1652.7,873.0 1653.2,872.9 1653.8,883.3 1654.4,883.2 1654.9,883.6 1655.5,883.5 1656.1,883.5 1656.6,883.4 1657.2,884.1 1657.8,884.0 1658.3,876.2 1658.9,876.1 1659.5,877.5 1660.1,877.5 1660.6,875.3 1661.2,875.3 1661.8,874.9 1662.3,874.8 1662.9,884.0 1663.5,884.0 1664.0,882.4 1664.6,882.4 1665.2,883.2 1665.8,883.3 1666.3,879.3 1666.9,879.4 1667.5,881.5 1668.0,881.6 1668.6,882.0 1669.2,882.2 1669.7,883.5 1670.3,883.7 1670.8,868.3 1671.4,868.4 1672.0,869.2 1672.5,869.3 1673.1,868.0 1673.7,868.2 1674.2,870.0 1674.8,870.1 1675.3,869.6 1675.9,869.7 1676.5,883.4 1677.0,883.4 1677.6,884.8 1678.1,884.8 1678.7,883.6 1679.3,883.5 1679.8,884.6 1680.4,884.6 1681.0,883.4 1681.5,883.3 1682.1,883.3 1682.6,883.2 1683.2,884.4 1683.8,884.3 1684.3,871.7 1684.9,871.7 1685.4,874.5 1686.0,874.5 1686.6,881.9 1687.1,881.9 1687.7,883.9 1688.3,884.0 1688.8,873.6 1689.4,873.6 1689.9,876.6 1690.5,876.6 1691.1,876.9 1691.6,876.9 1692.2,875.1 1692.7,875.0 1693.3,883.1 1693.9,883.0 1694.4,884.1 1695.0,884.0 1695.6,884.8 1696.1,884.7 1696.7,883.0 1697.2,883.0 1697.8,881.3 1698.4,881.2 1698.9,873.9 1699.5,873.9 1700.0,875.0 1700.6,875.0 1701.2,874.1 1701.7,874.1 1702.3,875.1 1702.9,875.1 1703.4,882.1 1704.0,882.0 1704.5,884.9 1705.1,884.8 1705.7,883.9 1706.2,883.8 1706.8,882.2 1707.3,882.1 1707.9,871.1 1708.5,870.9 1709.0,869.4 1709.6,869.3 1710.2,871.0 1710.7,871.0 1711.3,870.2 1711.8,870.2 1712.4,870.5 1713.0,870.5 1713.5,882.4 1714.1,882.4 1714.6,882.6 1715.2,882.7 1715.8,882.7 1716.3,882.8 1716.9,875.0 1717.5,875.1 1718.0,876.0 1718.6,876.1 1719.1,883.8 1719.7,883.9 1720.3,882.7 1720.8,882.8 1721.4,883.8 1721.9,883.9 1722.5,884.6 1723.1,884.6 1723.6,884.6 1724.2,884.6 1724.8,882.9 1725.3,882.8 1725.9,876.4 1726.4,876.4 1727.0,877.0 1727.6,876.9 1728.1,877.6 1728.7,877.5 1729.2,876.3 1729.8,876.2 1730.4,878.3 1730.9,878.2 1731.5,882.0 1732.0,881.9 1732.6,885.1 1733.2,885.1 1733.7,873.6 1734.3,873.6 1734.9,874.0 1735.4,874.1 1736.0,873.4 1736.5,873.4 1737.1,873.1 1737.7,873.2 1738.2,882.5 1738.8,882.6 1739.3,884.3 1739.9,884.5 1740.5,878.0 1741.0,878.1 1741.6,879.5 1742.2,879.7 1742.7,881.1 1743.3,881.3 1743.8,879.2 1744.4,879.4 1745.0,885.1 1745.5,885.2 1746.1,880.3 1746.6,880.3 1747.2,877.6 1747.8,877.6 1748.3,880.7 1748.9,880.7 1749.5,877.3 1750.0,877.2 1750.6,880.1 1751.1,880.0 1751.7,885.3 1752.3,885.2 1752.8,883.2 1753.4,883.1 1753.9,884.5 1754.5,884.4 1755.1,869.8 1755.6,869.7 1756.2,871.9 1756.8,871.8 1757.3,873.6 1757.9,873.5 1758.4,871.8 1759.0,871.7 1759.6,882.1 1760.1,882.1 1760.7,882.6 1761.2,882.5 1761.8,870.1 1762.4,870.0 1762.9,870.7 1763.5,870.7 1764.1,870.1 1764.6,870.1 1765.2,869.9 1765.7,869.9 1766.3,867.0 1766.9,867.1 1767.4,884.4 1768.0,884.5 1768.5,885.0 1769.1,885.2 1769.7,884.0 1770.2,884.1 1770.8,885.3 1771.4,885.5 1771.9,883.9 1772.5,884.0 1773.0,878.3 1773.6,878.2 1774.2,877.9 1774.7,877.9 1775.3,878.4 1775.8,878.3 1776.4,878.4 1777.0,878.4 1777.5,885.2 1778.1,885.2 1778.7,884.8 1779.2,884.8 1779.8,885.4 1780.3,885.4 1780.9,884.7 1781.5,884.8 1782.0,884.5 1782.6,884.6 1783.2,880.4 1783.7,880.5 1784.3,879.4 1784.9,879.6 1785.5,880.1 1786.0,880.2 1786.6,879.9 1787.2,880.0 1787.7,882.1 1788.3,882.2 1788.9,887.7 1789.4,887.7 1790.0,885.8 1790.6,885.7 1791.2,885.7 1791.7,885.6 1792.3,886.0 1792.9,885.9 1793.4,873.4 1794.0,873.3 1794.6,874.0 1795.1,873.9 1795.7,875.3 1796.3,875.2 1796.8,873.1 1797.4,873.0 1798.0,886.5 1798.6,886.4 1799.1,884.4 1799.7,884.3 1800.3,883.6 1800.8,883.5 1801.4,883.6 1802.0,883.5 1802.5,872.8 1803.1,872.7 1803.7,875.5 1804.2,875.4 1804.8,884.9 1805.4,884.9 1806.0,884.3 1806.5,884.3 1807.1,872.5 1807.7,872.5 1808.2,870.6 1808.8,870.6 1809.4,868.5 1809.9,868.5 1810.5,870.7 1811.1,870.7 1811.7,882.9 1812.2,882.9 1812.8,883.0 1813.4,882.9 1813.9,883.4 1814.5,883.3 1815.1,882.5 1815.6,882.4 1816.2,886.4 1816.8,886.4 1817.3,884.7 1817.9,884.6 1818.5,884.6 1819.1,884.6 1819.6,882.7 1820.2,882.6 1820.8,872.6 1821.3,872.6 1821.9,869.6 1822.5,869.6 1823.0,872.4 1823.6,872.5 1824.2,872.6 1824.8,872.7 1825.3,882.1 1825.9,882.2 1826.5,872.8 1827.0,872.9 1827.6,873.2 1828.2,873.3 1828.7,873.7 1829.3,873.8 1829.9,873.4 1830.4,873.5 1831.0,872.2 1831.6,872.3 1832.2,884.5 1832.7,884.5 1833.3,884.9 1833.9,884.8 1834.4,884.3 1835.0,884.2 1835.6,883.9 1836.1,883.9 1836.7,879.6 1837.3,879.6 1837.8,879.9 1838.4,879.9 1839.0,880.4 1839.6,880.4 1840.1,883.8 1840.7,883.7 1841.3,881.0 1841.8,880.9 1842.4,872.4 1843.0,872.4 1843.5,869.9 1844.1,869.8 1844.7,869.5 1845.3,869.4 1845.8,872.7 1846.4,872.5 1847.0,883.4 1847.5,883.2 1848.1,877.6 1848.7,877.5 1849.2,875.1 1849.8,875.1 1850.4,880.6 1850.9,880.6 1851.5,880.1 1852.1,880.2 1852.7,883.0 1853.2,883.2 1853.8,883.8 1854.4,884.0 1854.9,882.2 1855.5,882.4 1856.1,882.2 1856.6,882.5 1857.2,871.8 1857.8,872.0 1858.4,873.0 1858.9,873.2 1859.5,874.5 1860.1,874.6 1860.6,884.7 1861.2,884.8 1861.8,885.3 1862.3,885.2 1862.9,885.5 1863.5,885.4 1864.0,885.7 1864.6,885.5 1865.2,871.6 1865.8,871.4 1866.3,872.6 1866.9,872.4 1867.5,869.4 1868.0,869.2 1868.6,871.3 1869.2,871.1 1869.7,873.1 1870.3,872.9 1870.9,882.4 1871.5,882.3 1872.0,884.0 1872.6,884.0 1873.2,868.3 1873.7,868.2 1874.3,868.6 1874.9,868.5 1875.4,867.4 1876.0,867.4 1876.6,869.6 1877.1,869.6 1877.7,869.1 1878.3,869.1 1878.9,884.0 1879.4,884.1 1880.0,880.3 1880.6,880.3 1881.1,882.9 1881.7,883.0 1882.3,881.0 1882.8,881.1 1883.4,881.6 1884.0,881.6 1884.5,882.8 1885.1,882.9 1885.7,881.8 1886.3,881.9 1886.8,883.0 1887.4,883.2 1888.0,879.5 1888.5,879.7 1889.1,879.3 1889.7,879.6 1890.2,881.1 1890.8,881.3 1891.4,883.0 1892.0,883.3 1892.5,879.9 1893.1,880.2 1893.7,887.9 1894.2,888.2 1894.8,888.3 1895.4,888.5 1895.9,875.3 1896.5,875.5 1897.1,876.1 1897.7,876.3 1898.2,876.3 1898.8,876.4 1899.4,877.2 1899.9,877.2 1900.5,876.2 1901.1,876.2 1901.7,888.3 1902.2,888.3 1902.8,888.5 1903.4,888.5 1903.9,888.7 1904.5,888.7 1905.1,885.9 1905.6,886.0 1906.2,886.4 1906.8,886.6 1907.4,888.5 1907.9,888.8 1908.5,874.7 1909.1,875.1 1909.6,876.2 1910.2,876.6 1910.8,875.5 1911.4,876.0 1911.9,891.5 1912.5,892.1 1913.1,889.1 1913.6,889.6 1914.2,888.5 1914.8,889.0 1915.4,898.0 1915.9,898.5 1916.5,895.3 1917.1,895.8 1917.6,886.2 1918.2,886.6 1918.8,885.8 1919.4,886.2 1919.9,886.8 1920.5,887.1 1921.1,900.8 1921.6,901.2 1922.2,895.2 1922.8,895.5 1923.3,897.3 1923.9,897.6 1924.5,897.4 1925.1,897.8 1925.6,896.6 1926.2,896.9 1926.8,902.1 1927.3,902.4 1927.9,892.5 1928.5,892.9 1929.1,892.3 1929.6,892.7 1930.2,893.9 1930.8,894.3 1931.3,906.0 1931.9,906.5 1932.5,906.5 1933.1,906.9 1933.6,909.5 1934.2,909.9 1934.8,907.1 1935.3,907.4 1935.9,910.8 1936.5,911.0 1937.1,909.1 1937.6,909.2 1938.2,897.6 1938.8,897.5 1939.3,896.7 1939.9,896.1 1940.5,896.1 1941.1,895.0 1941.6,890.4 1942.2,889.0 1942.8,888.1 1943.3,886.5 1943.9,901.4 1944.5,899.7 1945.0,898.2 1945.6,896.7 1946.2,893.1 1946.8,891.6 1947.3,891.0 1947.9,889.5 1948.5,885.3 1949.0,883.6 1949.6,881.5 1950.2,879.8 1950.8,878.8 1951.3,877.1 1951.9,873.1 1952.5,871.3 1953.0,870.6 1953.6,868.6 1954.2,861.5 1954.8,859.2 1955.3,857.1 1955.9,854.9 1956.5,850.6 1957.0,848.6 1957.6,848.8 1958.2,847.0 1958.8,852.7 1959.3,851.4 1959.9,843.8 1960.5,842.6 1961.0,841.0 1961.6,839.8 1962.2,838.5 1962.7,837.5 1963.3,844.4 1963.9,843.5 1964.5,841.0 1965.0,840.4 1965.6,841.8 1966.2,841.7 1966.7,840.8 1967.3,841.0 1967.9,840.0 1968.5,840.6 1969.0,842.3 1969.6,843.1 1970.2,846.0 1970.7,846.9 1971.3,846.2 1971.9,847.2 1972.5,847.6 1973.0,848.6 1973.6,846.7 1974.2,847.7 1974.7,848.2 1975.3,849.3 1975.9,849.8 1976.5,850.9 1977.0,856.2 1977.6,857.3 1978.2,859.3 1978.7,860.3 1979.3,860.0 1979.9,861.0 1980.5,864.3 1981.0,865.1 1981.6,865.5 1982.2,866.3 1982.7,860.1 1983.3,860.8 1983.9,861.5 1984.4,862.2 1985.0,866.1 1985.6,866.8 1986.2,862.1 1986.7,862.7 1987.3,860.0 1987.9,860.6 1988.4,860.6 1989.0,861.1 1989.6,865.2 1990.2,865.6 1990.7,865.1 1991.3,865.5 1991.9,875.1 1992.4,875.4 1993.0,876.9 1993.6,877.2 1994.2,864.5 1994.7,864.7 1995.3,863.4 1995.9,863.7 1996.4,861.8 1997.0,862.0 1997.6,862.6 1998.2,863.0 1998.7,865.8 1999.3,866.1 1999.9,879.7 2000.4,880.0 2001.0,881.0 2001.6,881.2 2002.1,869.3 2002.7,869.5 2003.3,865.8 2003.9,865.9 2004.4,879.2 2005.0,879.3 2005.6,874.5 2006.1,874.6 2006.7,874.6 2007.3,874.5 2007.9,876.5 2008.4,876.5 2009.0,879.7 2009.6,879.6 2010.1,868.4 2010.7,868.4 2011.3,869.3 2011.9,869.4 2012.4,870.2 2013.0,870.3 2013.6,869.8 2014.1,869.9 2014.7,871.3 2015.3,871.5 2015.8,881.6 2016.4,881.8 2017.0,880.9 2017.6,881.1 2018.1,868.4 2018.7,868.7 2019.3,869.7 2019.8,869.9 2020.4,884.1 2021.0,884.2 2021.6,885.5 2022.1,885.6 2022.7,883.2 2023.3,883.3 2023.8,879.5 2024.4,879.5 2025.0,879.9 2025.5,879.8 2026.1,877.9 2026.7,877.8 2027.3,879.7 2027.8,879.5 2028.4,878.2 2029.0,878.0 2029.5,880.7 2030.1,880.5 2030.7,885.1 2031.2,884.9 2031.8,883.6 2032.4,883.5 2033.0,881.7 2033.5,881.7 2034.1,883.9 2034.7,883.8 2035.2,882.2 2035.8,882.2 2036.4,881.5 2037.0,881.5 2037.5,868.8 2038.1,868.8 2038.7,868.1 2039.2,868.0 2039.8,870.1 2040.4,870.1 2040.9,868.4 2041.5,868.3 2042.1,868.3 2042.7,868.3 2043.2,878.2 2043.8,878.3 2044.4,880.3 2044.9,880.5 2045.5,884.4 2046.1,884.7 2046.7,876.6 2047.2,876.9 2047.8,878.3 2048.4,878.6 2048.9,882.4 2049.5,882.7 2050.1,870.2 2050.6,870.5 2051.2,871.1 2051.8,871.3 2052.4,873.5 2052.9,873.7 2053.5,885.8 2054.1,885.9 2054.6,875.3 2055.2,875.4 2055.8,875.6 2056.4,875.6 2056.9,874.7 2057.5,874.6 2058.1,875.2 2058.6,875.1 2059.2,874.3 2059.8,874.2 2060.3,885.7 2060.9,885.7 2061.5,879.9 2062.1,879.8 2062.6,878.9 2063.2,878.9 2063.8,882.9 2064.3,882.9 2064.9,884.0 2065.5,884.0 2066.1,884.9 2066.6,884.9 2067.2,876.1 2067.8,876.1 2068.3,878.3 2068.9,878.3 2069.5,877.3 2070.0,877.3 2070.6,877.5 2071.2,877.4 2071.8,878.3 2072.3,878.2 2072.9,884.6 2073.5,884.5 2074.0,880.1 2074.6,879.9 2075.2,878.7 2075.7,878.6 2076.3,880.7 2076.9,880.6 2077.5,880.5 2078.0,880.5 2078.6,885.2 2079.2,885.2 2079.7,883.6 2080.3,883.7 2080.9,882.9 2081.5,883.1 2082.0,884.6 2082.6,884.8 2083.2,877.9 2083.7,878.2 2084.3,879.3 2084.9,879.6 2085.4,879.0 2086.0,879.2 2086.6,878.8 2087.2,878.9 2087.7,881.7 2088.3,881.7 2088.9,886.8 2089.4,886.7 2090.0,885.5 2090.6,885.4 2091.2,885.4 2091.7,885.3 2092.3,874.9 2092.9,874.9 2093.4,874.5 2094.0,874.4 2094.6,875.1 2095.1,875.0 2095.7,884.6 2096.3,884.6 2096.9,884.4 2097.4,884.4 2098.0,887.0 2098.6,887.1 2099.1,885.2 2099.7,885.3 2100.3,870.9 2100.9,870.9 2101.4,871.7 2102.0,871.7 2102.6,870.3 2103.1,870.3 2103.7,869.3 2104.3,869.3 2104.8,871.3 2105.4,871.3 2106.0,883.8 2106.6,883.8 2107.1,885.3 2107.7,885.2 2108.3,884.8 2108.8,884.7 2109.4,885.0 2110.0,884.8 2110.5,876.5 2111.1,876.3 2111.7,879.1 2112.3,878.9 2112.8,886.1 2113.4,886.0 2114.0,873.3 2114.5,873.3 2115.1,875.4 2115.7,875.4 2116.3,876.0 2116.8,876.1 2117.4,884.3 2118.0,884.5 2118.5,884.0 2119.1,884.2 2119.7,885.2 2120.2,885.4 2120.8,887.1 2121.4,887.2 2122.0,884.4 2122.5,884.5 2123.1,886.6 2123.7,886.6 2124.2,884.7 2124.8,884.7 2125.3,872.0 2125.9,871.9 2126.5,872.9 2127.0,872.8 2127.6,872.9 2128.2,872.8 2128.7,871.4 2129.3,871.3 2129.8,873.2 2130.4,873.2 2131.0,882.0 2131.5,882.0 2132.1,873.2 2132.6,873.2 2133.2,872.2 2133.8,872.2 2134.3,872.3 2134.9,872.4 2135.5,885.7 2136.0,885.7 2136.6,887.0 2137.1,887.1 2137.7,887.7 2138.3,887.7 2138.8,884.0 2139.4,884.1 2139.9,873.5 2140.5,873.6 2141.1,870.4 2141.6,870.5 2142.2,872.2 2142.8,872.3 2143.3,872.6 2143.9,872.6 2144.4,874.3 2145.0,874.2 2145.6,884.7 2146.1,884.6 2146.7,872.7 2147.2,872.6 2147.8,869.5 2148.4,869.4 2148.9,885.4 2149.5,885.2 2150.1,884.0 2150.6,883.9 2151.2,873.6 2151.7,873.5 2152.3,868.7 2152.9,868.6 2153.4,869.6 2154.0,869.5 2154.5,869.4 2155.1,869.3 2155.7,870.2 2156.2,870.1 2156.8,883.5 2157.4,883.4 2157.9,879.8 2158.5,879.8 2159.0,881.3 2159.6,881.3 2160.2,867.1 2160.7,867.1 2161.3,869.7 2161.8,869.7 2162.4,869.6 2163.0,869.6 2163.5,867.4 2164.1,867.4 2164.7,868.3 2165.2,868.3 2165.8,881.9 2166.3,881.9 2166.9,883.4 2167.5,883.4 2168.0,874.6 2168.6,874.6 2169.1,873.7 2169.7,873.8 2170.3,874.7 2170.8,874.9 2171.4,873.9 2172.0,874.0 2172.5,884.2 2173.1,884.4 2173.6,872.9 2174.2,873.1 2174.8,874.4 2175.3,874.5 2175.9,873.6 2176.4,873.7 2177.0,871.5 2177.6,871.5 2178.1,872.1 2178.7,872.1 2179.2,883.7 2179.8,883.6 2180.4,878.4 2180.9,878.4 2181.5,878.3 2182.1,878.4 2182.6,876.9 2183.2,877.0 2183.7,878.9 2184.3,878.9 2184.9,886.0 2185.4,886.1 2186.0,885.6 2186.5,885.6 2187.1,883.2 2187.7,883.1 2188.2,882.6 2188.8,882.5 2189.4,882.8 2189.9,882.7 2190.5,883.1 2191.0,883.1 2191.6,882.8 2192.2,882.8 2192.7,886.1 2193.3,886.1 2193.8,880.1 2194.4,880.1 2195.0,878.9 2195.5,878.9 2196.1,880.8 2196.7,880.8 2197.2,879.0 2197.8,879.0 2198.3,878.8 2198.9,878.7 2199.5,886.6 2200.0,886.5 2200.6,880.2 2201.1,880.1 2201.7,879.6 2202.3,879.4 2202.8,876.8 2203.4,876.6 2204.0,878.2 2204.5,878.0 2205.1,881.4 2205.6,881.2 2206.2,874.9 2206.8,874.8 2207.3,874.5 2207.9,874.4 2208.4,875.2 2209.0,875.2 2209.6,873.8 2210.1,873.9 2210.7,874.8 2211.3,874.9 2211.8,881.3 2212.4,881.5 2212.9,884.8 2213.5,885.0 2214.1,874.5 2214.6,874.7 2215.2,877.1 2215.7,877.3 2216.3,876.9 2216.9,877.0 2217.4,873.7 2218.0,873.8 2218.6,886.4 2219.1,886.4 2219.7,883.6 2220.2,883.6 2220.8,882.9 2221.4,882.8 2221.9,885.9 2222.5,885.9 2223.0,874.4 2223.6,874.4 2224.2,874.9 2224.7,874.9 2225.3,873.7 2225.9,873.7 2226.4,872.6 2227.0,872.6 2227.5,883.9 2228.1,883.9 2228.7,884.0 2229.2,884.0 2229.8,881.9 2230.3,881.8 2230.9,880.0 2231.5,879.9 2232.0,878.3 2232.6,878.1 2233.2,882.0 2233.7,881.9 2234.3,872.8 2234.8,872.7 2235.4,876.3 2236.0,876.2 2236.5,874.9 2237.1,874.9 2237.7,883.9 2238.3,883.9 2238.8,882.8 2239.4,882.8 2240.0,878.0 2240.5,878.0 2241.1,876.4 2241.7,876.5 2242.3,881.8 2242.8,881.8 2243.4,882.2 2244.0,882.2 2244.5,882.7 2245.1,882.7 2245.7,881.9 2246.2,881.9 2246.8,868.7 2247.4,868.7 2248.0,869.5 2248.5,869.5 2249.1,870.2 2249.7,870.2 2250.2,868.4 2250.8,868.4 2251.4,883.7 2252.0,883.7 2252.5,886.7 2253.1,886.7 2253.7,883.7 2254.2,883.6 2254.8,882.1 2255.4,882.1 2256.0,881.1 2256.5,881.1 2257.1,881.6 2257.7,881.6 2258.2,878.2 2258.8,878.2 2259.4,878.5 2260.0,878.5 2260.5,885.0 2261.1,885.0 2261.7,883.9 2262.2,883.9 2262.8,873.1 2263.4,873.0 2263.9,873.7 2264.5,873.6 2265.1,872.9 2265.7,872.8 2266.2,874.3 2266.8,874.2 2267.4,872.8 2267.9,872.8 2268.5,884.8 2269.1,884.8 2269.7,883.1 2270.2,883.2 2270.8,882.9 2271.4,883.1 2271.9,885.4 2272.5,885.6 2273.1,884.1 2273.7,884.4 2274.2,878.8 2274.8,879.0 2275.4,878.0 2275.9,878.2 2276.5,878.3 2277.1,878.4 2277.7,878.7 2278.2,878.8 2278.8,878.1 2279.4,878.0 2279.9,885.9 2280.5,885.8 2281.1,885.7 2281.7,885.5 2282.2,884.7 2282.8,884.5 2283.4,885.7 2283.9,885.6 2284.5,882.2 2285.1,882.0 2285.6,881.5 2286.2,881.3 2286.8,881.8 2287.4,881.7 2287.9,881.8 2288.5,881.7 2289.1,882.4 2289.6,882.3 2290.2,881.4 2290.8,881.4 2291.4,883.5 2291.9,883.4 2292.5,883.5 2293.1,883.5 2293.6,878.8 2294.2,878.7 2294.8,878.4 2295.4,878.4 2295.9,877.2 2296.5,877.1 2297.1,878.0 2297.6,878.0 2298.2,883.3 2298.8,883.3 2299.4,882.3 2299.9,882.3 2300.5,882.5 2301.1,882.4 2301.6,883.6 2302.2,883.6 2302.8,867.6 2303.3,867.6 2303.9,870.2 2304.5,870.2 2305.1,867.0 2305.6,867.0 2306.2,869.6 2306.8,869.6 2307.3,866.0 2307.9,866.1 2308.5,880.5 2309.1,880.6 2309.6,884.4 2310.2,884.6 2310.8,882.1 2311.3,882.2 2311.9,883.2 2312.5,883.3 2313.1,884.4 2313.6,884.5 2314.2,872.1 2314.8,872.2 2315.3,871.6 2315.9,871.7 2316.5,872.7 2317.1,872.8 2317.6,872.4 2318.2,872.4 2318.8,883.4 2319.3,883.4 2319.9,884.2 2320.5,884.2 2321.1,876.4 2321.6,876.5 2322.2,875.6 2322.8,875.6 2323.3,878.0 2323.9,878.0 2324.5,876.3 2325.0,876.3 2325.6,883.6 2326.2,883.5 2326.8,870.6 2327.3,870.5 2327.9,873.4 2328.5,873.4 2329.0,871.4 2329.6,871.4 2330.2,872.9 2330.8,872.9 2331.3,884.4 2331.9,884.4 2332.5,877.2 2333.0,877.2 2333.6,876.2 2334.2,876.2 2334.8,877.1 2335.3,877.1 2335.9,885.0 2336.5,885.0 2337.0,882.3 2337.6,882.3 2338.2,881.0 2338.8,881.1 2339.3,886.9 2339.9,886.9 2340.5,875.5 2341.0,875.6 2341.6,874.3 2342.2,874.4 2342.7,875.9 2343.3,876.0 2343.9,875.0 2344.5,875.1 2345.0,876.8 2345.6,876.9 2346.2,885.3 2346.7,885.4 2347.3,885.6 2347.9,885.5 2348.5,885.5 2349.0,885.4 2349.6,875.0 2349.6,961.7 2349.0,962.7 2348.5,962.8 2347.9,962.0 2347.3,962.1 2346.7,963.4 2346.2,963.3 2345.6,963.3 2345.0,963.3 2344.5,958.7 2343.9,958.6 2343.3,957.7 2342.7,957.6 2342.2,968.5 2341.6,968.4 2341.0,970.3 2340.5,970.2 2339.9,969.4 2339.3,969.3 2338.8,969.5 2338.2,969.5 2337.6,972.2 2337.0,972.1 2336.5,957.0 2335.9,957.0 2335.3,958.5 2334.8,958.5 2334.2,955.2 2333.6,955.2 2333.0,956.1 2332.5,956.1 2331.9,957.8 2331.3,957.8 2330.8,968.0 2330.2,968.1 2329.6,966.7 2329.0,966.7 2328.5,968.5 2327.9,968.5 2327.3,969.1 2326.8,969.1 2326.2,958.9 2325.6,958.9 2325.0,957.3 2324.5,957.3 2323.9,955.8 2323.3,955.8 2322.8,959.5 2322.2,959.5 2321.6,956.3 2321.1,956.3 2320.5,956.3 2319.9,956.3 2319.3,959.6 2318.8,959.6 2318.2,961.8 2317.6,961.8 2317.1,958.7 2316.5,958.7 2315.9,957.1 2315.3,957.1 2314.8,957.3 2314.2,957.2 2313.6,956.4 2313.1,956.3 2312.5,955.2 2311.9,955.0 2311.3,956.0 2310.8,955.8 2310.2,958.6 2309.6,958.5 2309.1,957.0 2308.5,956.9 2307.9,965.2 2307.3,965.1 2306.8,965.1 2306.2,965.0 2305.6,954.3 2305.1,954.3 2304.5,954.2 2303.9,954.1 2303.3,955.5 2302.8,955.5 2302.2,955.1 2301.6,955.1 2301.1,953.5 2300.5,953.5 2299.9,967.3 2299.4,967.3 2298.8,965.7 2298.2,965.8 2297.6,967.4 2297.1,967.4 2296.5,955.7 2295.9,955.7 2295.4,955.3 2294.8,955.4 2294.2,953.4 2293.6,953.4 2293.1,955.7 2292.5,955.7 2291.9,966.4 2291.4,966.4 2290.8,965.9 2290.2,966.0 2289.6,956.7 2289.1,956.8 2288.5,955.4 2287.9,955.6 2287.4,962.9 2286.8,963.1 2286.2,964.5 2285.6,964.6 2285.1,966.9 2284.5,967.0 2283.9,963.6 2283.4,963.8 2282.8,964.2 2282.2,964.4 2281.7,958.7 2281.1,958.9 2280.5,958.4 2279.9,958.5 2279.4,959.4 2278.8,959.5 2278.2,959.8 2277.7,959.8 2277.1,964.5 2276.5,964.4 2275.9,961.2 2275.4,961.0 2274.8,959.1 2274.2,958.8 2273.7,958.3 2273.1,958.1 2272.5,957.1 2271.9,956.9 2271.4,955.9 2270.8,955.7 2270.2,958.9 2269.7,958.7 2269.1,958.8 2268.5,958.8 2267.9,961.3 2267.4,961.3 2266.8,958.7 2266.2,958.8 2265.7,959.8 2265.1,959.9 2264.5,955.9 2263.9,956.0 2263.4,966.3 2262.8,966.3 2262.2,966.8 2261.7,966.8 2261.1,966.8 2260.5,966.8 2260.0,966.6 2259.4,966.6 2258.8,966.6 2258.2,966.6 2257.7,958.7 2257.1,958.6 2256.5,956.4 2256.0,956.4 2255.4,955.6 2254.8,955.7 2254.2,955.9 2253.7,955.9 2253.1,957.9 2252.5,957.9 2252.0,960.6 2251.4,960.6 2250.8,958.9 2250.2,958.9 2249.7,957.1 2249.1,957.1 2248.5,957.9 2248.0,957.9 2247.4,955.2 2246.8,955.2 2246.2,954.0 2245.7,954.0 2245.1,964.4 2244.5,964.4 2244.0,963.5 2243.4,963.5 2242.8,966.3 2242.3,966.3 2241.7,956.4 2241.1,956.4 2240.5,961.1 2240.0,961.0 2239.4,961.1 2238.8,961.1 2238.3,959.8 2237.7,959.7 2237.1,959.4 2236.5,959.4 2236.0,957.8 2235.4,957.8 2234.8,964.1 2234.3,964.3 2233.7,963.1 2233.2,963.3 2232.6,963.6 2232.0,963.8 2231.5,963.3 2230.9,963.5 2230.3,958.0 2229.8,958.1 2229.2,957.8 2228.7,957.9 2228.1,963.5 2227.5,963.5 2227.0,964.3 2226.4,964.3 2225.9,957.9 2225.3,957.9 2224.7,966.0 2224.2,966.0 2223.6,967.2 2223.0,967.2 2222.5,957.3 2221.9,957.4 2221.4,957.5 2220.8,957.5 2220.2,958.5 2219.7,958.5 2219.1,958.4 2218.6,958.4 2218.0,957.2 2217.4,957.2 2216.9,972.1 2216.3,972.0 2215.7,970.8 2215.2,970.7 2214.6,971.8 2214.1,971.7 2213.5,959.0 2212.9,958.8 2212.4,956.5 2211.8,956.4 2211.3,956.9 2210.7,956.8 2210.1,957.2 2209.6,957.1 2209.0,957.8 2208.4,957.8 2207.9,955.8 2207.3,955.9 2206.8,955.7 2206.2,955.9 2205.6,956.9 2205.1,957.0 2204.5,962.3 2204.0,962.4 2203.4,963.3 2202.8,963.4 2202.3,963.1 2201.7,963.2 2201.1,956.7 2200.6,956.8 2200.0,957.5 2199.5,957.6 2198.9,958.3 2198.3,958.3 2197.8,957.1 2197.2,957.1 2196.7,959.1 2196.1,959.1 2195.5,959.1 2195.0,959.1 2194.4,958.7 2193.8,958.7 2193.3,957.9 2192.7,958.0 2192.2,957.6 2191.6,957.6 2191.0,958.5 2190.5,958.6 2189.9,960.3 2189.4,960.3 2188.8,958.6 2188.2,958.6 2187.7,958.1 2187.1,958.2 2186.5,959.7 2186.0,959.7 2185.4,958.3 2184.9,958.3 2184.3,959.4 2183.7,959.3 2183.2,965.6 2182.6,965.5 2182.1,966.0 2181.5,965.9 2180.9,965.7 2180.4,965.7 2179.8,955.9 2179.2,956.0 2178.7,955.5 2178.1,955.5 2177.6,964.2 2177.0,964.2 2176.4,967.1 2175.9,967.1 2175.3,959.7 2174.8,959.7 2174.2,958.6 2173.6,958.5 2173.1,957.0 2172.5,956.8 2172.0,956.2 2171.4,956.0 2170.8,957.6 2170.3,957.5 2169.7,964.5 2169.1,964.4 2168.6,963.5 2168.0,963.4 2167.5,964.1 2166.9,964.1 2166.3,954.2 2165.8,954.2 2165.2,955.0 2164.7,955.0 2164.1,958.7 2163.5,958.7 2163.0,959.7 2162.4,959.7 2161.8,960.1 2161.3,960.1 2160.7,962.5 2160.2,962.5 2159.6,956.8 2159.0,956.8 2158.5,955.6 2157.9,955.6 2157.4,956.4 2156.8,956.4 2156.2,955.4 2155.7,955.5 2155.1,956.4 2154.5,956.5 2154.0,968.1 2153.4,968.2 2152.9,966.1 2152.3,966.3 2151.7,958.6 2151.2,958.8 2150.6,959.0 2150.1,959.1 2149.5,969.7 2148.9,969.9 2148.4,969.7 2147.8,969.8 2147.2,972.3 2146.7,972.4 2146.1,969.3 2145.6,969.3 2145.0,971.6 2144.4,971.6 2143.9,960.7 2143.3,960.7 2142.8,956.6 2142.2,956.6 2141.6,957.9 2141.1,957.8 2140.5,958.3 2139.9,958.2 2139.4,968.0 2138.8,967.9 2138.3,970.4 2137.7,970.3 2137.1,969.5 2136.6,969.4 2136.0,958.8 2135.5,958.7 2134.9,956.2 2134.3,956.2 2133.8,957.7 2133.2,957.7 2132.6,966.3 2132.1,966.3 2131.5,965.0 2131.0,965.1 2130.4,960.0 2129.8,960.1 2129.3,956.1 2128.7,956.2 2128.2,956.5 2127.6,956.6 2127.0,958.5 2126.5,958.6 2125.9,963.2 2125.3,963.2 2124.8,961.2 2124.2,961.2 2123.7,957.8 2123.1,957.8 2122.5,958.7 2122.0,958.6 2121.4,957.2 2120.8,957.0 2120.2,964.1 2119.7,963.9 2119.1,963.9 2118.5,963.8 2118.0,967.3 2117.4,967.2 2116.8,962.5 2116.3,962.4 2115.7,956.8 2115.1,956.8 2114.5,958.2 2114.0,958.3 2113.4,955.9 2112.8,956.0 2112.3,967.3 2111.7,967.5 2111.1,966.5 2110.5,966.6 2110.0,957.9 2109.4,958.0 2108.8,959.0 2108.3,959.1 2107.7,956.2 2107.1,956.2 2106.6,958.1 2106.0,958.2 2105.4,956.5 2104.8,956.5 2104.3,958.6 2103.7,958.6 2103.1,957.2 2102.6,957.1 2102.0,957.8 2101.4,957.7 2100.9,956.1 2100.3,956.0 2099.7,957.9 2099.1,957.9 2098.6,959.1 2098.0,959.1 2097.4,958.6 2096.9,958.6 2096.3,965.6 2095.7,965.6 2095.1,966.3 2094.6,966.3 2094.0,964.3 2093.4,964.4 2092.9,967.1 2092.3,967.2 2091.7,963.4 2091.2,963.5 2090.6,956.6 2090.0,956.6 2089.4,957.2 2088.9,957.2 2088.3,960.0 2087.7,960.0 2087.2,961.5 2086.6,961.4 2086.0,961.5 2085.4,961.4 2084.9,961.9 2084.3,961.7 2083.7,957.9 2083.2,957.7 2082.6,957.7 2082.0,957.5 2081.5,963.7 2080.9,963.5 2080.3,960.5 2079.7,960.3 2079.2,964.0 2078.6,963.9 2078.0,956.6 2077.5,956.6 2076.9,961.9 2076.3,962.0 2075.7,959.3 2075.2,959.5 2074.6,954.4 2074.0,954.6 2073.5,956.4 2072.9,956.5 2072.3,967.9 2071.8,968.0 2071.2,964.4 2070.6,964.4 2070.0,965.6 2069.5,965.6 2068.9,963.3 2068.3,963.3 2067.8,965.8 2067.2,965.8 2066.6,957.5 2066.1,957.5 2065.5,957.9 2064.9,957.9 2064.3,957.2 2063.8,957.2 2063.2,958.0 2062.6,958.0 2062.1,957.1 2061.5,957.1 2060.9,961.3 2060.3,961.3 2059.8,962.2 2059.2,962.3 2058.6,956.6 2058.1,956.7 2057.5,966.3 2056.9,966.4 2056.4,963.2 2055.8,963.2 2055.2,964.6 2054.6,964.6 2054.1,960.1 2053.5,960.0 2052.9,957.8 2052.4,957.7 2051.8,957.5 2051.2,957.3 2050.6,966.7 2050.1,966.4 2049.5,967.9 2048.9,967.6 2048.4,956.5 2047.8,956.2 2047.2,953.9 2046.7,953.6 2046.1,954.8 2045.5,954.6 2044.9,957.6 2044.4,957.4 2043.8,959.9 2043.2,959.8 2042.7,959.8 2042.1,959.8 2041.5,958.7 2040.9,958.7 2040.4,960.0 2039.8,960.1 2039.2,955.9 2038.7,955.9 2038.1,954.4 2037.5,954.4 2037.0,955.4 2036.4,955.4 2035.8,965.1 2035.2,965.1 2034.7,962.1 2034.1,962.1 2033.5,964.3 2033.0,964.4 2032.4,964.1 2031.8,964.3 2031.2,965.3 2030.7,965.5 2030.1,955.2 2029.5,955.4 2029.0,955.6 2028.4,955.8 2027.8,956.6 2027.3,956.7 2026.7,956.0 2026.1,956.0 2025.5,957.4 2025.0,957.4 2024.4,956.1 2023.8,956.0 2023.3,962.2 2022.7,962.2 2022.1,964.0 2021.6,963.8 2021.0,962.7 2020.4,962.5 2019.8,962.3 2019.3,962.1 2018.7,962.4 2018.1,962.2 2017.6,953.5 2017.0,953.3 2016.4,952.8 2015.8,952.6 2015.3,962.1 2014.7,961.9 2014.1,964.5 2013.6,964.4 2013.0,961.9 2012.4,961.8 2011.9,952.3 2011.3,952.3 2010.7,952.1 2010.1,952.1 2009.6,954.8 2009.0,954.9 2008.4,964.6 2007.9,964.7 2007.3,965.1 2006.7,965.1 2006.1,962.8 2005.6,962.8 2005.0,965.2 2004.4,965.1 2003.9,955.1 2003.3,955.0 2002.7,954.8 2002.1,954.6 2001.6,952.9 2001.0,952.7 2000.4,953.9 1999.9,953.6 1999.3,952.2 1998.7,952.0 1998.2,951.0 1997.6,950.7 1997.0,950.8 1996.4,950.6 1995.9,949.5 1995.3,949.3 1994.7,948.6 1994.2,948.4 1993.6,949.2 1993.0,949.0 1992.4,952.7 1991.9,952.4 1991.3,952.0 1990.7,951.7 1990.2,951.7 1989.6,951.3 1989.0,950.3 1988.4,949.9 1987.9,947.9 1987.3,947.4 1986.7,946.2 1986.2,945.7 1985.6,944.4 1985.0,943.9 1984.4,947.2 1983.9,946.6 1983.3,943.9 1982.7,943.2 1982.2,944.6 1981.6,944.0 1981.0,938.6 1980.5,937.9 1979.9,936.2 1979.3,935.5 1978.7,934.7 1978.2,933.8 1977.6,933.1 1977.0,932.1 1976.5,930.8 1975.9,929.8 1975.3,931.2 1974.7,930.3 1974.2,941.7 1973.6,940.9 1973.0,939.0 1972.5,938.3 1971.9,924.3 1971.3,923.5 1970.7,931.1 1970.2,930.4 1969.6,931.0 1969.0,930.5 1968.5,929.5 1967.9,929.2 1967.3,919.0 1966.7,919.1 1966.2,919.5 1965.6,920.2 1965.0,923.7 1964.5,924.6 1963.9,925.4 1963.3,926.7 1962.7,928.0 1962.2,929.4 1961.6,930.3 1961.0,931.8 1960.5,935.7 1959.9,937.2 1959.3,939.5 1958.8,941.3 1958.2,942.0 1957.6,944.1 1957.0,945.6 1956.5,947.9 1955.9,960.3 1955.3,962.7 1954.8,962.8 1954.2,965.1 1953.6,966.9 1953.0,968.9 1952.5,972.0 1951.9,973.8 1951.3,975.6 1950.8,977.3 1950.2,970.1 1949.6,971.7 1949.0,971.8 1948.5,973.3 1947.9,973.9 1947.3,975.3 1946.8,988.2 1946.2,989.4 1945.6,990.2 1945.0,991.5 1944.5,993.7 1943.9,995.1 1943.3,995.5 1942.8,996.8 1942.2,998.3 1941.6,999.3 1941.1,990.0 1940.5,990.6 1939.9,989.1 1939.3,989.1 1938.8,995.7 1938.2,995.4 1937.6,992.8 1937.1,992.4 1936.5,993.3 1935.9,992.7 1935.3,988.2 1934.8,987.5 1934.2,987.0 1933.6,986.3 1933.1,986.6 1932.5,985.9 1931.9,983.7 1931.3,983.0 1930.8,981.8 1930.2,981.1 1929.6,980.8 1929.1,980.2 1928.5,979.2 1927.9,978.7 1927.3,990.6 1926.8,990.1 1926.2,988.0 1925.6,987.5 1925.1,986.9 1924.5,986.4 1923.9,983.2 1923.3,982.7 1922.8,984.8 1922.2,984.3 1921.6,972.9 1921.1,972.4 1920.5,978.4 1919.9,978.0 1919.4,978.0 1918.8,977.6 1918.2,975.9 1917.6,975.4 1917.1,969.7 1916.5,969.2 1915.9,968.6 1915.4,968.0 1914.8,969.3 1914.2,968.7 1913.6,967.3 1913.1,966.8 1912.5,967.9 1911.9,967.4 1911.4,975.6 1910.8,975.1 1910.2,975.0 1909.6,974.5 1909.1,964.0 1908.5,963.6 1907.9,963.6 1907.4,963.2 1906.8,973.5 1906.2,973.2 1905.6,971.5 1905.1,971.5 1904.5,961.8 1903.9,961.7 1903.4,960.9 1902.8,960.8 1902.2,962.2 1901.7,962.2 1901.1,962.1 1900.5,962.0 1899.9,961.2 1899.4,961.1 1898.8,960.4 1898.2,960.3 1897.7,961.7 1897.1,961.5 1896.5,960.7 1895.9,960.5 1895.4,974.5 1894.8,974.3 1894.2,972.8 1893.7,972.5 1893.1,972.7 1892.5,972.4 1892.0,960.8 1891.4,960.5 1890.8,959.0 1890.2,958.7 1889.7,955.0 1889.1,954.7 1888.5,959.6 1888.0,959.4 1887.4,958.2 1886.8,958.0 1886.3,957.2 1885.7,957.1 1885.1,961.6 1884.5,961.5 1884.0,960.1 1883.4,960.0 1882.8,961.5 1882.3,961.4 1881.7,955.2 1881.1,955.1 1880.6,965.9 1880.0,965.8 1879.4,966.6 1878.9,966.5 1878.3,968.2 1877.7,968.2 1877.1,967.7 1876.6,967.6 1876.0,953.7 1875.4,953.8 1874.9,958.1 1874.3,958.1 1873.7,960.3 1873.2,960.4 1872.6,955.3 1872.0,955.4 1871.5,955.5 1870.9,955.7 1870.3,955.6 1869.7,955.8 1869.2,963.3 1868.6,963.5 1868.0,962.7 1867.5,962.9 1866.9,962.0 1866.3,962.2 1865.8,958.4 1865.2,958.6 1864.6,959.2 1864.0,959.3 1863.5,969.3 1862.9,969.4 1862.3,967.0 1861.8,967.0 1861.2,969.6 1860.6,969.5 1860.1,959.7 1859.5,959.6 1858.9,966.5 1858.4,966.3 1857.8,966.0 1857.2,965.8 1856.6,955.1 1856.1,954.8 1855.5,956.9 1854.9,956.7 1854.4,964.2 1853.8,964.0 1853.2,966.0 1852.7,965.7 1852.1,964.6 1851.5,964.4 1850.9,963.0 1850.4,962.9 1849.8,955.0 1849.2,955.0 1848.7,955.8 1848.1,955.9 1847.5,955.5 1847.0,955.7 1846.4,955.7 1845.8,955.9 1845.3,954.6 1844.7,954.7 1844.1,956.4 1843.5,956.5 1843.0,966.3 1842.4,966.4 1841.8,966.3 1841.3,966.4 1840.7,965.0 1840.1,965.0 1839.6,957.0 1839.0,957.0 1838.4,956.8 1837.8,956.8 1837.3,955.3 1836.7,955.4 1836.1,957.7 1835.6,957.7 1835.0,969.0 1834.4,969.1 1833.9,968.9 1833.3,969.0 1832.7,968.8 1832.2,968.8 1831.6,970.9 1831.0,970.8 1830.4,967.5 1829.9,967.5 1829.3,957.4 1828.7,957.3 1828.2,954.9 1827.6,954.7 1827.0,955.7 1826.5,955.6 1825.9,967.6 1825.3,967.5 1824.8,965.3 1824.2,965.2 1823.6,966.1 1823.0,966.0 1822.5,964.9 1821.9,964.9 1821.3,957.2 1820.8,957.3 1820.2,967.5 1819.6,967.5 1819.1,965.9 1818.5,966.0 1817.9,966.6 1817.3,966.7 1816.8,968.2 1816.2,968.3 1815.6,955.1 1815.1,955.2 1814.5,956.6 1813.9,956.7 1813.4,965.0 1812.8,965.1 1812.2,960.8 1811.7,960.9 1811.1,964.4 1810.5,964.4 1809.9,961.3 1809.4,961.3 1808.8,962.5 1808.2,962.5 1807.7,956.0 1807.1,956.1 1806.5,959.8 1806.0,959.8 1805.4,957.0 1804.8,957.1 1804.2,957.5 1803.7,957.5 1803.1,957.4 1802.5,957.4 1802.0,956.5 1801.4,956.5 1800.8,957.8 1800.3,957.8 1799.7,966.7 1799.1,966.8 1798.6,968.0 1798.0,968.1 1797.4,968.0 1796.8,968.1 1796.3,959.3 1795.7,959.5 1795.1,971.0 1794.6,971.1 1794.0,971.8 1793.4,972.0 1792.9,972.7 1792.3,972.9 1791.7,972.1 1791.2,972.2 1790.6,972.6 1790.0,972.6 1789.4,958.6 1788.9,958.5 1788.3,972.5 1787.7,972.4 1787.2,971.4 1786.6,971.3 1786.0,971.9 1785.5,971.8 1784.9,971.8 1784.3,971.7 1783.7,956.9 1783.2,956.8 1782.6,958.5 1782.0,958.4 1781.5,956.2 1780.9,956.1 1780.3,956.1 1779.8,956.1 1779.2,956.8 1778.7,956.8 1778.1,970.7 1777.5,970.7 1777.0,972.2 1776.4,972.2 1775.8,968.8 1775.3,968.9 1774.7,968.3 1774.2,968.3 1773.6,971.3 1773.0,971.3 1772.5,956.6 1771.9,956.6 1771.4,958.6 1770.8,958.5 1770.2,965.6 1769.7,965.5 1769.1,964.6 1768.5,964.4 1768.0,965.5 1767.4,965.4 1766.9,964.7 1766.3,964.5 1765.7,956.4 1765.2,956.3 1764.6,956.2 1764.1,956.2 1763.5,956.4 1762.9,956.4 1762.4,968.7 1761.8,968.7 1761.2,970.1 1760.7,970.1 1760.1,956.6 1759.6,956.7 1759.0,955.3 1758.4,955.4 1757.9,964.8 1757.3,964.9 1756.8,965.7 1756.2,965.8 1755.6,965.0 1755.1,965.1 1754.5,965.3 1753.9,965.4 1753.4,963.4 1752.8,963.5 1752.3,956.9 1751.7,957.0 1751.1,958.2 1750.6,958.2 1750.0,968.1 1749.5,968.1 1748.9,968.5 1748.3,968.5 1747.8,956.7 1747.2,956.7 1746.6,955.1 1746.1,955.1 1745.5,958.7 1745.0,958.6 1744.4,958.9 1743.8,958.8 1743.3,958.4 1742.7,958.3 1742.2,958.0 1741.6,957.9 1741.0,957.8 1740.5,957.7 1739.9,957.9 1739.3,957.7 1738.8,956.3 1738.2,956.2 1737.7,958.1 1737.1,958.0 1736.5,955.5 1736.0,955.4 1735.4,955.0 1734.9,955.0 1734.3,966.0 1733.7,966.0 1733.2,966.2 1732.6,966.3 1732.0,966.8 1731.5,966.9 1730.9,968.6 1730.4,968.6 1729.8,956.7 1729.2,956.8 1728.7,962.1 1728.1,962.2 1727.6,964.7 1727.0,964.8 1726.4,960.2 1725.9,960.2 1725.3,957.2 1724.8,957.3 1724.2,957.9 1723.6,957.9 1723.1,955.0 1722.5,955.0 1721.9,956.0 1721.4,955.9 1720.8,966.1 1720.3,966.0 1719.7,968.9 1719.1,968.7 1718.6,968.2 1718.0,968.1 1717.5,958.1 1716.9,958.0 1716.3,953.7 1715.8,953.5 1715.2,954.8 1714.6,954.7 1714.1,954.0 1713.5,953.9 1713.0,964.5 1712.4,964.5 1711.8,965.5 1711.3,965.5 1710.7,964.6 1710.2,964.7 1709.6,964.7 1709.0,964.8 1708.5,966.5 1707.9,966.6 1707.3,956.0 1706.8,956.1 1706.2,958.7 1705.7,958.8 1705.1,956.1 1704.5,956.2 1704.0,956.9 1703.4,957.0 1702.9,967.8 1702.3,967.8 1701.7,964.7 1701.2,964.7 1700.6,956.0 1700.0,956.0 1699.5,956.7 1698.9,956.7 1698.4,957.3 1697.8,957.3 1697.2,956.3 1696.7,956.4 1696.1,960.6 1695.6,960.6 1695.0,962.7 1694.4,962.8 1693.9,959.8 1693.3,959.9 1692.7,961.4 1692.2,961.4 1691.6,956.8 1691.1,956.8 1690.5,957.5 1689.9,957.5 1689.4,957.1 1688.8,957.1 1688.3,959.2 1687.7,959.2 1687.1,955.6 1686.6,955.6 1686.0,958.9 1685.4,958.9 1684.9,956.9 1684.3,957.0 1683.8,958.0 1683.2,958.1 1682.6,968.5 1682.1,968.6 1681.5,968.4 1681.0,968.4 1680.4,969.3 1679.8,969.3 1679.3,956.1 1678.7,956.2 1678.1,970.4 1677.6,970.4 1677.0,968.0 1676.5,968.0 1675.9,972.8 1675.3,972.7 1674.8,969.6 1674.2,969.5 1673.7,954.8 1673.1,954.7 1672.5,959.4 1672.0,959.3 1671.4,957.2 1670.8,957.1 1670.3,956.4 1669.7,956.3 1669.2,966.0 1668.6,965.9 1668.0,966.8 1667.5,966.7 1666.9,966.1 1666.3,966.0 1665.8,962.7 1665.2,962.6 1664.6,953.8 1664.0,953.8 1663.5,967.9 1662.9,967.9 1662.3,967.7 1661.8,967.8 1661.2,969.6 1660.6,969.7 1660.1,967.0 1659.5,967.0 1658.9,968.8 1658.3,968.8 1657.8,954.7 1657.2,954.8 1656.6,956.2 1656.1,956.4 1655.5,963.5 1654.9,963.6 1654.4,964.4 1653.8,964.6 1653.2,957.2 1652.7,957.3 1652.1,960.9 1651.5,960.9 1650.9,961.9 1650.4,962.0 1649.8,958.9 1649.2,958.9 1648.7,955.3 1648.1,955.3 1647.5,957.9 1647.0,957.9 1646.4,958.3 1645.8,958.2 1645.3,963.7 1644.7,963.6 1644.1,961.7 1643.5,961.6 1643.0,964.6 1642.4,964.5 1641.8,963.2 1641.3,963.1 1640.7,955.7 1640.1,955.6 1639.6,957.1 1639.0,957.1 1638.4,956.2 1637.8,956.2 1637.3,954.6 1636.7,954.7 1636.1,958.2 1635.6,958.4 1635.0,956.7 1634.4,956.8 1633.9,957.5 1633.3,957.6 1632.7,959.4 1632.2,959.5 1631.6,961.6 1631.0,961.7 1630.4,962.3 1629.9,962.4 1629.3,962.2 1628.7,962.2 1628.2,958.6 1627.6,958.6 1627.0,958.1 1626.5,958.0 1625.9,955.3 1625.3,955.2 1624.7,958.0 1624.2,957.9 1623.6,957.0 1623.0,957.0 1622.5,957.6 1621.9,957.6 1621.3,961.8 1620.8,961.9 1620.2,962.1 1619.6,962.2 1619.1,964.5 1618.5,964.5 1617.9,961.5 1617.3,961.5 1616.8,963.9 1616.2,963.9 1615.6,956.0 1615.1,956.0 1614.5,957.6 1613.9,957.5 1613.4,963.1 1612.8,963.0 1612.2,962.5 1611.7,962.4 1611.1,961.8 1610.5,961.7 1609.9,962.8 1609.4,962.7 1608.8,962.3 1608.2,962.3 1607.7,957.9 1607.1,957.9 1606.5,956.7 1606.0,956.7 1605.4,957.8 1604.8,957.7 1604.2,955.8 1603.7,955.8 1603.1,960.9 1602.5,960.8 1602.0,961.9 1601.4,961.9 1600.8,960.2 1600.3,960.3 1599.7,961.8 1599.1,961.9 1598.6,962.4 1598.0,962.5 1597.4,956.3 1596.8,956.5 1596.3,957.3 1595.7,957.5 1595.1,959.1 1594.6,959.3 1594.0,957.9 1593.4,958.0 1592.9,959.8 1592.3,960.0 1591.7,962.9 1591.1,963.0 1590.6,963.0 1590.0,963.0 1589.4,964.7 1588.9,964.7 1588.3,961.1 1587.7,961.1 1587.2,963.5 1586.6,963.5 1586.0,959.5 1585.5,959.5 1584.9,957.8 1584.3,957.8 1583.7,957.8 1583.2,957.9 1582.6,971.3 1582.0,971.3 1581.5,971.2 1580.9,971.3 1580.3,971.6 1579.8,971.6 1579.2,970.8 1578.6,970.8 1578.0,959.6 1577.5,959.5 1576.9,960.1 1576.3,960.0 1575.8,957.9 1575.2,957.8 1574.6,956.6 1574.1,956.4 1573.5,959.1 1572.9,958.9 1572.4,957.5 1571.8,957.4 1571.2,968.6 1570.6,968.5 1570.1,967.1 1569.5,966.9 1568.9,968.9 1568.4,968.7 1567.8,955.5 1567.2,955.3 1566.7,953.5 1566.1,953.4 1565.5,962.4 1565.0,962.4 1564.4,964.3 1563.8,964.3 1563.2,961.2 1562.7,961.1 1562.1,963.4 1561.5,963.5 1561.0,961.4 1560.4,961.4 1559.8,955.1 1559.3,955.2 1558.7,962.1 1558.1,962.2 1557.5,962.6 1557.0,962.6 1556.4,962.5 1555.8,962.5 1555.3,955.1 1554.7,955.1 1554.1,955.3 1553.6,955.3 1553.0,965.2 1552.4,965.1 1551.8,965.9 1551.3,965.8 1550.7,963.9 1550.1,963.8 1549.6,962.3 1549.0,962.2 1548.4,962.7 1547.8,962.7 1547.3,957.3 1546.7,957.4 1546.1,955.4 1545.6,955.5 1545.0,956.9 1544.4,956.9 1543.9,962.3 1543.3,962.3 1542.7,958.4 1542.1,958.4 1541.6,960.2 1541.0,960.3 1540.4,959.6 1539.9,959.7 1539.3,958.4 1538.7,958.5 1538.1,957.8 1537.6,957.9 1537.0,955.9 1536.4,956.0 1535.9,967.2 1535.3,967.2 1534.7,967.7 1534.1,967.8 1533.6,959.1 1533.0,959.2 1532.4,958.1 1531.9,958.2 1531.3,959.3 1530.7,959.3 1530.1,968.5 1529.6,968.6 1529.0,970.2 1528.4,970.2 1527.9,969.1 1527.3,969.1 1526.7,971.2 1526.2,971.2 1525.6,959.9 1525.0,959.8 1524.4,960.3 1523.9,960.2 1523.3,956.9 1522.7,956.8 1522.2,956.2 1521.6,956.2 1521.0,961.3 1520.4,961.2 1519.9,963.3 1519.3,963.3 1518.7,959.3 1518.2,959.3 1517.6,955.9 1517.0,955.9 1516.4,957.2 1515.9,957.2 1515.3,956.7 1514.7,956.6 1514.2,957.4 1513.6,957.2 1513.0,956.4 1512.4,956.2 1511.9,957.1 1511.3,956.9 1510.7,964.9 1510.2,964.7 1509.6,964.1 1509.0,964.0 1508.4,956.1 1507.9,956.0 1507.3,956.8 1506.7,956.8 1506.2,958.9 1505.6,959.0 1505.0,959.2 1504.5,959.3 1503.9,960.9 1503.3,961.0 1502.7,961.1 1502.2,961.3 1501.6,962.0 1501.0,962.2 1500.5,954.8 1499.9,954.9 1499.3,970.3 1498.7,970.4 1498.2,971.4 1497.6,971.5 1497.0,967.5 1496.5,967.5 1495.9,958.9 1495.3,959.0 1494.7,963.5 1494.2,963.6 1493.6,964.9 1493.0,964.9 1492.5,963.0 1491.9,963.0 1491.3,964.3 1490.7,964.3 1490.2,960.1 1489.6,960.0 1489.0,958.0 1488.5,957.9 1487.9,958.2 1487.3,958.1 1486.8,958.5 1486.2,958.4 1485.6,961.5 1485.0,961.4 1484.5,961.9 1483.9,961.8 1483.3,959.7 1482.8,959.7 1482.2,954.8 1481.6,954.8 1481.0,963.3 1480.5,963.3 1479.9,963.0 1479.3,963.0 1478.8,961.8 1478.2,961.7 1477.6,962.2 1477.0,962.1 1476.5,962.8 1475.9,962.7 1475.3,957.2 1474.8,957.2 1474.2,956.8 1473.6,956.9 1473.0,955.5 1472.5,955.6 1471.9,971.6 1471.3,971.7 1470.8,970.2 1470.2,970.3 1469.6,970.7 1469.0,970.8 1468.5,958.0 1467.9,958.1 1467.3,965.7 1466.8,965.8 1466.2,966.4 1465.6,966.5 1465.1,965.1 1464.5,965.1 1463.9,967.3 1463.3,967.3 1462.8,958.1 1462.2,958.1 1461.6,959.6 1461.1,959.6 1460.5,955.8 1459.9,955.7 1459.3,956.8 1458.8,956.7 1458.2,962.2 1457.6,962.1 1457.1,961.8 1456.5,961.7 1455.9,955.3 1455.3,955.2 1454.8,956.5 1454.2,956.5 1453.6,958.4 1453.1,958.4 1452.5,956.7 1451.9,956.6 1451.3,965.9 1450.8,966.0 1450.2,968.2 1449.6,968.2 1449.1,967.2 1448.5,967.2 1447.9,965.6 1447.4,965.7 1446.8,957.7 1446.2,957.7 1445.6,956.8 1445.1,956.9 1444.5,969.5 1443.9,969.5 1443.4,969.4 1442.8,969.4 1442.2,970.6 1441.6,970.6 1441.1,955.5 1440.5,955.5" fill="#1f77b4" stroke="#1f77b4" stroke-width="1.2" stroke-linejoin="round" clip-path="url(#cr3)"/>
<polyline points="1440.5,927.1 1441.1,925.5 1441.6,923.9 1442.2,922.5 1442.8,921.3 1443.4,920.3 1443.9,919.6 1444.5,919.1 1445.1,918.6 1445.6,918.1 1446.2,917.8 1446.8,917.6 1447.4,917.5 1447.9,917.5 1448.5,917.5 1449.1,917.6 1449.6,917.6 1450.2,917.7 1450.8,917.7 1451.3,917.8 1451.9,917.8 1452.5,917.8 1453.1,917.9 1453.6,917.9 1454.2,917.9 1454.8,917.9 1455.3,918.0 1455.9,918.0 1456.5,918.1 1457.1,918.2 1457.6,918.2 1458.2,918.3 1458.8,918.4 1459.3,918.5 1459.9,918.5 1460.5,918.6 1461.1,918.7 1461.6,918.8 1462.2,918.8 1462.8,918.8 1463.3,918.9 1463.9,918.9 1464.5,918.9 1465.1,918.8 1465.6,918.8 1466.2,918.7 1466.8,918.7 1467.3,918.6 1467.9,918.5 1468.5,918.4 1469.0,918.4 1469.6,918.2 1470.2,918.1 1470.8,918.0 1471.3,917.9 1471.9,917.8 1472.5,917.7 1473.0,917.6 1473.6,917.6 1474.2,917.5 1474.8,917.5 1475.3,917.5 1475.9,917.5 1476.5,917.5 1477.0,917.5 1477.6,917.5 1478.2,917.5 1478.8,917.6 1479.3,917.6 1479.9,917.6 1480.5,917.7 1481.0,917.7 1481.6,917.8 1482.2,917.8 1482.8,917.9 1483.3,918.0 1483.9,918.1 1484.5,918.2 1485.0,918.3 1485.6,918.4 1486.2,918.5 1486.8,918.6 1487.3,918.7 1487.9,918.8 1488.5,918.9 1489.0,919.0 1489.6,919.1 1490.2,919.2 1490.7,919.2 1491.3,919.3 1491.9,919.3 1492.5,919.3 1493.0,919.3 1493.6,919.3 1494.2,919.3 1494.7,919.3 1495.3,919.2 1495.9,919.2 1496.5,919.1 1497.0,919.0 1497.6,918.9 1498.2,918.8 1498.7,918.7 1499.3,918.6 1499.9,918.5 1500.5,918.3 1501.0,918.2 1501.6,918.1 1502.2,917.9 1502.7,917.8 1503.3,917.6 1503.9,917.5 1504.5,917.4 1505.0,917.3 1505.6,917.1 1506.2,917.0 1506.7,917.0 1507.3,916.9 1507.9,916.9 1508.4,916.9 1509.0,917.0 1509.6,917.1 1510.2,917.2 1510.7,917.4 1511.3,917.6 1511.9,917.8 1512.4,918.0 1513.0,918.2 1513.6,918.4 1514.2,918.6 1514.7,918.7 1515.3,918.9 1515.9,919.0 1516.4,919.0 1517.0,919.1 1517.6,919.1 1518.2,919.1 1518.7,919.1 1519.3,919.1 1519.9,919.1 1520.4,919.1 1521.0,919.1 1521.6,919.1 1522.2,919.2 1522.7,919.3 1523.3,919.3 1523.9,919.4 1524.4,919.5 1525.0,919.6 1525.6,919.7 1526.2,919.8 1526.7,919.8 1527.3,919.9 1527.9,919.9 1528.4,919.9 1529.0,919.8 1529.6,919.8 1530.1,919.8 1530.7,919.7 1531.3,919.6 1531.9,919.6 1532.4,919.5 1533.0,919.4 1533.6,919.3 1534.1,919.2 1534.7,919.1 1535.3,919.0 1535.9,918.9 1536.4,918.8 1537.0,918.7 1537.6,918.6 1538.1,918.5 1538.7,918.4 1539.3,918.3 1539.9,918.2 1540.4,918.2 1541.0,918.1 1541.6,918.0 1542.1,917.9 1542.7,917.9 1543.3,917.9 1543.9,917.8 1544.4,917.8 1545.0,917.8 1545.6,917.7 1546.1,917.7 1546.7,917.7 1547.3,917.7 1547.8,917.7 1548.4,917.7 1549.0,917.7 1549.6,917.7 1550.1,917.8 1550.7,917.8 1551.3,917.9 1551.8,918.0 1552.4,918.1 1553.0,918.1 1553.6,918.2 1554.1,918.3 1554.7,918.3 1555.3,918.3 1555.8,918.3 1556.4,918.3 1557.0,918.3 1557.5,918.3 1558.1,918.2 1558.7,918.2 1559.3,918.1 1559.8,918.0 1560.4,918.0 1561.0,917.9 1561.5,917.9 1562.1,917.8 1562.7,917.8 1563.2,917.8 1563.8,917.8 1564.4,917.8 1565.0,917.9 1565.5,918.0 1566.1,918.1 1566.7,918.2 1567.2,918.3 1567.8,918.4 1568.4,918.5 1568.9,918.6 1569.5,918.7 1570.1,918.9 1570.6,919.0 1571.2,919.1 1571.8,919.2 1572.4,919.4 1572.9,919.5 1573.5,919.6 1574.1,919.8 1574.6,919.9 1575.2,920.1 1575.8,920.2 1576.3,920.4 1576.9,920.5 1577.5,920.6 1578.0,920.7 1578.6,920.8 1579.2,920.8 1579.8,920.8 1580.3,920.8 1580.9,920.8 1581.5,920.8 1582.0,920.8 1582.6,920.7 1583.2,920.7 1583.7,920.6 1584.3,920.6 1584.9,920.5 1585.5,920.5 1586.0,920.5 1586.6,920.4 1587.2,920.4 1587.7,920.4 1588.3,920.4 1588.9,920.4 1589.4,920.3 1590.0,920.3 1590.6,920.2 1591.1,920.2 1591.7,920.1 1592.3,920.0 1592.9,919.9 1593.4,919.7 1594.0,919.6 1594.6,919.4 1595.1,919.2 1595.7,919.1 1596.3,918.9 1596.8,918.7 1597.4,918.5 1598.0,918.4 1598.6,918.2 1599.1,918.1 1599.7,918.0 1600.3,917.9 1600.8,917.9 1601.4,917.8 1602.0,917.8 1602.5,917.8 1603.1,917.8 1603.7,917.8 1604.2,917.9 1604.8,917.9 1605.4,917.9 1606.0,918.0 1606.5,918.0 1607.1,918.1 1607.7,918.1 1608.2,918.1 1608.8,918.2 1609.4,918.2 1609.9,918.3 1610.5,918.3 1611.1,918.4 1611.7,918.5 1612.2,918.6 1612.8,918.7 1613.4,918.8 1613.9,918.9 1614.5,919.0 1615.1,919.1 1615.6,919.2 1616.2,919.2 1616.8,919.2 1617.3,919.2 1617.9,919.2 1618.5,919.2 1619.1,919.1 1619.6,919.1 1620.2,919.0 1620.8,918.9 1621.3,918.9 1621.9,918.8 1622.5,918.8 1623.0,918.8 1623.6,918.8 1624.2,918.8 1624.7,918.8 1625.3,918.9 1625.9,918.9 1626.5,919.0 1627.0,919.0 1627.6,919.1 1628.2,919.1 1628.7,919.1 1629.3,919.1 1629.9,919.1 1630.4,919.0 1631.0,919.0 1631.6,918.9 1632.2,918.8 1632.7,918.6 1633.3,918.5 1633.9,918.4 1634.4,918.2 1635.0,918.1 1635.6,918.0 1636.1,917.9 1636.7,917.8 1637.3,917.7 1637.8,917.6 1638.4,917.6 1639.0,917.6 1639.6,917.6 1640.1,917.6 1640.7,917.7 1641.3,917.8 1641.8,917.9 1642.4,917.9 1643.0,918.0 1643.5,918.1 1644.1,918.2 1644.7,918.3 1645.3,918.4 1645.8,918.4 1646.4,918.5 1647.0,918.5 1647.5,918.5 1648.1,918.6 1648.7,918.6 1649.2,918.6 1649.8,918.6 1650.4,918.6 1650.9,918.5 1651.5,918.5 1652.1,918.4 1652.7,918.4 1653.2,918.3 1653.8,918.2 1654.4,918.1 1654.9,917.9 1655.5,917.8 1656.1,917.7 1656.6,917.6 1657.2,917.4 1657.8,917.3 1658.3,917.2 1658.9,917.1 1659.5,917.1 1660.1,917.0 1660.6,916.9 1661.2,916.9 1661.8,916.8 1662.3,916.8 1662.9,916.8 1663.5,916.8 1664.0,916.8 1664.6,916.8 1665.2,916.8 1665.8,916.9 1666.3,917.0 1666.9,917.1 1667.5,917.2 1668.0,917.3 1668.6,917.4 1669.2,917.6 1669.7,917.7 1670.3,917.8 1670.8,918.0 1671.4,918.1 1672.0,918.3 1672.5,918.4 1673.1,918.6 1673.7,918.7 1674.2,918.8 1674.8,918.9 1675.3,919.0 1675.9,919.0 1676.5,919.1 1677.0,919.1 1677.6,919.1 1678.1,919.1 1678.7,919.1 1679.3,919.0 1679.8,919.0 1680.4,918.9 1681.0,918.9 1681.5,918.8 1682.1,918.7 1682.6,918.7 1683.2,918.6 1683.8,918.5 1684.3,918.4 1684.9,918.4 1685.4,918.3 1686.0,918.3 1686.6,918.3 1687.1,918.3 1687.7,918.3 1688.3,918.3 1688.8,918.3 1689.4,918.3 1689.9,918.3 1690.5,918.3 1691.1,918.3 1691.6,918.3 1692.2,918.3 1692.7,918.3 1693.3,918.2 1693.9,918.2 1694.4,918.1 1695.0,918.1 1695.6,918.0 1696.1,918.0 1696.7,917.9 1697.2,917.9 1697.8,917.8 1698.4,917.8 1698.9,917.8 1699.5,917.8 1700.0,917.8 1700.6,917.7 1701.2,917.7 1701.7,917.7 1702.3,917.7 1702.9,917.7 1703.4,917.6 1704.0,917.6 1704.5,917.5 1705.1,917.4 1705.7,917.4 1706.2,917.3 1706.8,917.2 1707.3,917.1 1707.9,916.9 1708.5,916.8 1709.0,916.7 1709.6,916.6 1710.2,916.5 1710.7,916.5 1711.3,916.4 1711.8,916.4 1712.4,916.4 1713.0,916.4 1713.5,916.4 1714.1,916.4 1714.6,916.5 1715.2,916.6 1715.8,916.7 1716.3,916.8 1716.9,917.0 1717.5,917.1 1718.0,917.2 1718.6,917.4 1719.1,917.5 1719.7,917.7 1720.3,917.8 1720.8,917.9 1721.4,918.0 1721.9,918.1 1722.5,918.1 1723.1,918.2 1723.6,918.2 1724.2,918.2 1724.8,918.1 1725.3,918.1 1725.9,918.0 1726.4,917.9 1727.0,917.8 1727.6,917.8 1728.1,917.7 1728.7,917.6 1729.2,917.5 1729.8,917.4 1730.4,917.3 1730.9,917.2 1731.5,917.2 1732.0,917.1 1732.6,917.1 1733.2,917.0 1733.7,917.0 1734.3,917.0 1734.9,917.0 1735.4,917.0 1736.0,917.1 1736.5,917.1 1737.1,917.2 1737.7,917.3 1738.2,917.4 1738.8,917.6 1739.3,917.7 1739.9,917.9 1740.5,918.1 1741.0,918.3 1741.6,918.5 1742.2,918.6 1742.7,918.8 1743.3,919.0 1743.8,919.1 1744.4,919.2 1745.0,919.3 1745.5,919.4 1746.1,919.4 1746.6,919.5 1747.2,919.5 1747.8,919.5 1748.3,919.5 1748.9,919.5 1749.5,919.4 1750.0,919.4 1750.6,919.3 1751.1,919.3 1751.7,919.2 1752.3,919.1 1752.8,919.0 1753.4,918.9 1753.9,918.8 1754.5,918.7 1755.1,918.6 1755.6,918.5 1756.2,918.4 1756.8,918.3 1757.3,918.2 1757.9,918.1 1758.4,918.1 1759.0,918.0 1759.6,917.9 1760.1,917.9 1760.7,917.8 1761.2,917.7 1761.8,917.6 1762.4,917.6 1762.9,917.5 1763.5,917.5 1764.1,917.4 1764.6,917.4 1765.2,917.5 1765.7,917.5 1766.3,917.6 1766.9,917.7 1767.4,917.8 1768.0,918.0 1768.5,918.1 1769.1,918.3 1769.7,918.5 1770.2,918.6 1770.8,918.7 1771.4,918.9 1771.9,918.9 1772.5,919.0 1773.0,919.0 1773.6,919.0 1774.2,919.0 1774.7,919.0 1775.3,918.9 1775.8,918.9 1776.4,918.9 1777.0,918.8 1777.5,918.8 1778.1,918.8 1778.7,918.7 1779.2,918.8 1779.8,918.8 1780.3,918.8 1780.9,918.9 1781.5,918.9 1782.0,919.0 1782.6,919.1 1783.2,919.2 1783.7,919.4 1784.3,919.5 1784.9,919.7 1785.5,919.8 1786.0,920.0 1786.6,920.1 1787.2,920.3 1787.7,920.4 1788.3,920.5 1788.9,920.6 1789.4,920.6 1790.0,920.6 1790.6,920.6 1791.2,920.6 1791.7,920.5 1792.3,920.4 1792.9,920.2 1793.4,920.1 1794.0,919.9 1794.6,919.8 1795.1,919.6 1795.7,919.5 1796.3,919.4 1796.8,919.3 1797.4,919.2 1798.0,919.1 1798.6,919.1 1799.1,919.0 1799.7,919.0 1800.3,919.0 1800.8,918.9 1801.4,918.9 1802.0,918.8 1802.5,918.8 1803.1,918.7 1803.7,918.7 1804.2,918.6 1804.8,918.6 1805.4,918.5 1806.0,918.5 1806.5,918.5 1807.1,918.4 1807.7,918.4 1808.2,918.4 1808.8,918.4 1809.4,918.4 1809.9,918.4 1810.5,918.4 1811.1,918.4 1811.7,918.4 1812.2,918.3 1812.8,918.3 1813.4,918.2 1813.9,918.2 1814.5,918.1 1815.1,918.0 1815.6,917.9 1816.2,917.8 1816.8,917.7 1817.3,917.6 1817.9,917.5 1818.5,917.5 1819.1,917.4 1819.6,917.3 1820.2,917.3 1820.8,917.3 1821.3,917.3 1821.9,917.3 1822.5,917.3 1823.0,917.3 1823.6,917.4 1824.2,917.5 1824.8,917.5 1825.3,917.6 1825.9,917.8 1826.5,917.9 1827.0,918.0 1827.6,918.2 1828.2,918.3 1828.7,918.4 1829.3,918.5 1829.9,918.6 1830.4,918.7 1831.0,918.8 1831.6,918.8 1832.2,918.8 1832.7,918.8 1833.3,918.8 1833.9,918.7 1834.4,918.7 1835.0,918.6 1835.6,918.5 1836.1,918.5 1836.7,918.4 1837.3,918.4 1837.8,918.3 1838.4,918.3 1839.0,918.3 1839.6,918.2 1840.1,918.2 1840.7,918.1 1841.3,918.1 1841.8,918.0 1842.4,918.0 1843.0,917.9 1843.5,917.8 1844.1,917.7 1844.7,917.6 1845.3,917.5 1845.8,917.4 1846.4,917.3 1847.0,917.1 1847.5,917.0 1848.1,916.9 1848.7,916.8 1849.2,916.7 1849.8,916.6 1850.4,916.6 1850.9,916.7 1851.5,916.7 1852.1,916.8 1852.7,917.0 1853.2,917.2 1853.8,917.4 1854.4,917.6 1854.9,917.9 1855.5,918.1 1856.1,918.4 1856.6,918.6 1857.2,918.8 1857.8,919.1 1858.4,919.3 1858.9,919.4 1859.5,919.6 1860.1,919.7 1860.6,919.8 1861.2,919.8 1861.8,919.9 1862.3,919.9 1862.9,919.8 1863.5,919.7 1864.0,919.6 1864.6,919.5 1865.2,919.3 1865.8,919.1 1866.3,918.9 1866.9,918.7 1867.5,918.5 1868.0,918.3 1868.6,918.1 1869.2,917.9 1869.7,917.8 1870.3,917.6 1870.9,917.4 1871.5,917.3 1872.0,917.2 1872.6,917.1 1873.2,917.0 1873.7,916.9 1874.3,916.9 1874.9,916.8 1875.4,916.8 1876.0,916.7 1876.6,916.7 1877.1,916.7 1877.7,916.7 1878.3,916.8 1878.9,916.8 1879.4,916.9 1880.0,916.9 1880.6,917.0 1881.1,917.1 1881.7,917.1 1882.3,917.2 1882.8,917.3 1883.4,917.4 1884.0,917.5 1884.5,917.6 1885.1,917.7 1885.7,917.8 1886.3,918.0 1886.8,918.2 1887.4,918.3 1888.0,918.5 1888.5,918.7 1889.1,919.0 1889.7,919.2 1890.2,919.4 1890.8,919.7 1891.4,919.9 1892.0,920.2 1892.5,920.5 1893.1,920.7 1893.7,921.0 1894.2,921.2 1894.8,921.5 1895.4,921.7 1895.9,921.9 1896.5,922.1 1897.1,922.3 1897.7,922.5 1898.2,922.7 1898.8,922.8 1899.4,922.9 1899.9,923.0 1900.5,923.0 1901.1,923.1 1901.7,923.1 1902.2,923.2 1902.8,923.2 1903.4,923.2 1903.9,923.3 1904.5,923.3 1905.1,923.4 1905.6,923.5 1906.2,923.1 1906.8,923.3 1907.4,923.6 1907.9,923.9 1908.5,924.2 1909.1,924.6 1909.6,925.1 1910.2,925.5 1910.8,926.0 1911.4,926.5 1911.9,927.0 1912.5,927.5 1913.1,928.1 1913.6,928.6 1914.2,929.1 1914.8,929.7 1915.4,930.2 1915.9,930.7 1916.5,931.2 1917.1,931.7 1917.6,932.1 1918.2,932.5 1918.8,933.0 1919.4,933.4 1919.9,933.8 1920.5,934.2 1921.1,934.6 1921.6,935.0 1922.2,935.4 1922.8,935.8 1923.3,936.2 1923.9,936.6 1924.5,937.0 1925.1,937.4 1925.6,937.8 1926.2,938.2 1926.8,938.6 1927.3,939.0 1927.9,939.4 1928.5,939.8 1929.1,940.2 1929.6,940.7 1930.2,941.1 1930.8,941.6 1931.3,942.1 1931.9,942.7 1932.5,943.2 1933.1,943.8 1933.6,944.3 1934.2,944.8 1934.8,945.3 1935.3,945.8 1935.9,946.2 1936.5,946.6 1937.1,946.9 1937.6,947.2 1938.2,947.4 1938.8,947.5 1939.3,947.6 1939.9,947.4 1940.5,946.9 1941.1,946.2 1941.6,945.2 1942.2,944.0 1942.8,942.7 1943.3,941.3 1943.9,939.7 1944.5,938.2 1945.0,936.7 1945.6,935.2 1946.2,933.8 1946.8,932.4 1947.3,931.0 1947.9,929.5 1948.5,928.0 1949.0,926.4 1949.6,924.8 1950.2,923.2 1950.8,921.5 1951.3,919.8 1951.9,918.0 1952.5,916.2 1953.0,914.4 1953.6,912.4 1954.2,910.3 1954.8,908.1 1955.3,905.8 1955.9,903.5 1956.5,901.2 1957.0,899.0 1957.6,896.9 1958.2,894.9 1958.8,893.0 1959.3,891.4 1959.9,890.0 1960.5,888.7 1961.0,887.4 1961.6,886.1 1962.2,884.8 1962.7,883.6 1963.3,882.4 1963.9,881.4 1964.5,880.5 1965.0,879.7 1965.6,879.1 1966.2,878.6 1966.7,878.4 1967.3,878.4 1967.9,878.7 1968.5,879.0 1969.0,879.6 1969.6,880.2 1970.2,881.0 1970.7,881.8 1971.3,882.6 1971.9,883.5 1972.5,884.4 1973.0,885.3 1973.6,886.1 1974.2,887.0 1974.7,887.9 1975.3,888.9 1975.9,890.0 1976.5,891.0 1977.0,892.1 1977.6,893.2 1978.2,894.3 1978.7,895.3 1979.3,896.3 1979.9,897.2 1980.5,898.0 1981.0,898.7 1981.6,899.4 1982.2,900.2 1982.7,900.9 1983.3,901.6 1983.9,902.2 1984.4,902.9 1985.0,903.5 1985.6,904.2 1986.2,904.8 1986.7,905.3 1987.3,905.9 1987.9,906.4 1988.4,906.9 1989.0,907.4 1989.6,907.9 1990.2,908.3 1990.7,908.7 1991.3,909.0 1991.9,909.3 1992.4,909.6 1993.0,909.9 1993.6,910.2 1994.2,910.4 1994.7,910.7 1995.3,911.0 1995.9,911.2 1996.4,911.5 1997.0,911.7 1997.6,911.9 1998.2,912.3 1998.7,912.6 1999.3,912.9 1999.9,913.1 2000.4,913.4 2001.0,913.6 2001.6,913.8 2002.1,914.0 2002.7,914.2 2003.3,914.4 2003.9,914.5 2004.4,914.6 2005.0,914.7 2005.6,914.8 2006.1,914.8 2006.7,914.8 2007.3,914.8 2007.9,914.8 2008.4,914.8 2009.0,914.7 2009.6,914.7 2010.1,914.6 2010.7,914.6 2011.3,914.6 2011.9,914.6 2012.4,914.7 2013.0,914.8 2013.6,914.9 2014.1,915.0 2014.7,915.2 2015.3,915.3 2015.8,915.5 2016.4,915.7 2017.0,916.0 2017.6,916.2 2018.1,916.4 2018.7,916.6 2019.3,916.9 2019.8,917.1 2020.4,917.3 2021.0,917.4 2021.6,917.6 2022.1,917.7 2022.7,917.9 2023.3,918.0 2023.8,918.0 2024.4,918.1 2025.0,918.1 2025.5,918.1 2026.1,918.0 2026.7,918.0 2027.3,917.9 2027.8,917.7 2028.4,917.6 2029.0,917.4 2029.5,917.2 2030.1,917.0 2030.7,916.8 2031.2,916.6 2031.8,916.4 2032.4,916.2 2033.0,916.1 2033.5,916.0 2034.1,915.9 2034.7,915.8 2035.2,915.8 2035.8,915.7 2036.4,915.7 2037.0,915.7 2037.5,915.7 2038.1,915.6 2038.7,915.6 2039.2,915.5 2039.8,915.5 2040.4,915.4 2040.9,915.4 2041.5,915.3 2042.1,915.3 2042.7,915.3 2043.2,915.3 2043.8,915.4 2044.4,915.5 2044.9,915.6 2045.5,915.8 2046.1,916.1 2046.7,916.3 2047.2,916.6 2047.8,916.9 2048.4,917.3 2048.9,917.6 2049.5,917.9 2050.1,918.2 2050.6,918.5 2051.2,918.8 2051.8,919.0 2052.4,919.3 2052.9,919.4 2053.5,919.6 2054.1,919.7 2054.6,919.8 2055.2,919.8 2055.8,919.8 2056.4,919.8 2056.9,919.7 2057.5,919.7 2058.1,919.6 2058.6,919.5 2059.2,919.4 2059.8,919.3 2060.3,919.2 2060.9,919.1 2061.5,919.1 2062.1,919.0 2062.6,919.0 2063.2,918.9 2063.8,918.9 2064.3,918.9 2064.9,918.9 2065.5,918.9 2066.1,918.9 2066.6,918.9 2067.2,918.9 2067.8,918.9 2068.3,918.9 2068.9,918.9 2069.5,918.9 2070.0,918.9 2070.6,918.9 2071.2,918.8 2071.8,918.8 2072.3,918.7 2072.9,918.5 2073.5,918.4 2074.0,918.3 2074.6,918.1 2075.2,917.9 2075.7,917.8 2076.3,917.6 2076.9,917.5 2077.5,917.4 2078.0,917.3 2078.6,917.3 2079.2,917.3 2079.7,917.4 2080.3,917.5 2080.9,917.7 2081.5,917.8 2082.0,918.0 2082.6,918.3 2083.2,918.5 2083.7,918.8 2084.3,919.0 2084.9,919.2 2085.4,919.4 2086.0,919.6 2086.6,919.8 2087.2,919.9 2087.7,920.0 2088.3,920.1 2088.9,920.1 2089.4,920.1 2090.0,920.1 2090.6,920.0 2091.2,919.9 2091.7,919.8 2092.3,919.8 2092.9,919.7 2093.4,919.6 2094.0,919.5 2094.6,919.4 2095.1,919.4 2095.7,919.3 2096.3,919.3 2096.9,919.3 2097.4,919.3 2098.0,919.3 2098.6,919.3 2099.1,919.3 2099.7,919.3 2100.3,919.4 2100.9,919.4 2101.4,919.5 2102.0,919.5 2102.6,919.5 2103.1,919.6 2103.7,919.6 2104.3,919.6 2104.8,919.6 2105.4,919.6 2106.0,919.6 2106.6,919.6 2107.1,919.6 2107.7,919.5 2108.3,919.4 2108.8,919.3 2109.4,919.2 2110.0,919.1 2110.5,918.9 2111.1,918.8 2111.7,918.6 2112.3,918.5 2112.8,918.4 2113.4,918.3 2114.0,918.2 2114.5,918.1 2115.1,918.0 2115.7,918.0 2116.3,918.1 2116.8,918.1 2117.4,918.2 2118.0,918.3 2118.5,918.5 2119.1,918.6 2119.7,918.8 2120.2,919.0 2120.8,919.2 2121.4,919.4 2122.0,919.6 2122.5,919.7 2123.1,919.8 2123.7,919.9 2124.2,919.9 2124.8,919.9 2125.3,919.9 2125.9,919.8 2126.5,919.7 2127.0,919.7 2127.6,919.6 2128.2,919.5 2128.7,919.4 2129.3,919.3 2129.8,919.2 2130.4,919.2 2131.0,919.1 2131.5,919.1 2132.1,919.1 2132.6,919.1 2133.2,919.1 2133.8,919.1 2134.3,919.2 2134.9,919.2 2135.5,919.2 2136.0,919.2 2136.6,919.3 2137.1,919.3 2137.7,919.4 2138.3,919.5 2138.8,919.5 2139.4,919.6 2139.9,919.7 2140.5,919.8 2141.1,919.9 2141.6,919.9 2142.2,920.0 2142.8,920.0 2143.3,920.0 2143.9,920.0 2144.4,920.0 2145.0,920.0 2145.6,919.9 2146.1,919.9 2146.7,919.8 2147.2,919.7 2147.8,919.6 2148.4,919.5 2148.9,919.4 2149.5,919.3 2150.1,919.1 2150.6,919.0 2151.2,918.8 2151.7,918.7 2152.3,918.6 2152.9,918.4 2153.4,918.3 2154.0,918.2 2154.5,918.1 2155.1,918.0 2155.7,917.9 2156.2,917.8 2156.8,917.7 2157.4,917.7 2157.9,917.6 2158.5,917.6 2159.0,917.6 2159.6,917.5 2160.2,917.5 2160.7,917.6 2161.3,917.6 2161.8,917.6 2162.4,917.6 2163.0,917.6 2163.5,917.6 2164.1,917.6 2164.7,917.6 2165.2,917.6 2165.8,917.6 2166.3,917.6 2166.9,917.6 2167.5,917.6 2168.0,917.6 2168.6,917.7 2169.1,917.7 2169.7,917.8 2170.3,917.9 2170.8,918.0 2171.4,918.2 2172.0,918.4 2172.5,918.5 2173.1,918.7 2173.6,918.9 2174.2,919.0 2174.8,919.2 2175.3,919.3 2175.9,919.4 2176.4,919.4 2177.0,919.4 2177.6,919.4 2178.1,919.4 2178.7,919.4 2179.2,919.4 2179.8,919.3 2180.4,919.3 2180.9,919.4 2181.5,919.4 2182.1,919.4 2182.6,919.5 2183.2,919.6 2183.7,919.7 2184.3,919.7 2184.9,919.8 2185.4,919.9 2186.0,919.9 2186.5,919.9 2187.1,919.9 2187.7,919.9 2188.2,919.9 2188.8,919.8 2189.4,919.8 2189.9,919.7 2190.5,919.7 2191.0,919.6 2191.6,919.6 2192.2,919.5 2192.7,919.5 2193.3,919.5 2193.8,919.4 2194.4,919.4 2195.0,919.4 2195.5,919.4 2196.1,919.4 2196.7,919.4 2197.2,919.4 2197.8,919.4 2198.3,919.3 2198.9,919.3 2199.5,919.2 2200.0,919.1 2200.6,919.0 2201.1,918.9 2201.7,918.8 2202.3,918.7 2202.8,918.5 2203.4,918.4 2204.0,918.2 2204.5,918.0 2205.1,917.9 2205.6,917.7 2206.2,917.6 2206.8,917.5 2207.3,917.4 2207.9,917.3 2208.4,917.3 2209.0,917.3 2209.6,917.3 2210.1,917.3 2210.7,917.4 2211.3,917.5 2211.8,917.7 2212.4,917.8 2212.9,918.0 2213.5,918.2 2214.1,918.4 2214.6,918.6 2215.2,918.8 2215.7,918.9 2216.3,919.1 2216.9,919.2 2217.4,919.3 2218.0,919.4 2218.6,919.4 2219.1,919.4 2219.7,919.4 2220.2,919.4 2220.8,919.3 2221.4,919.3 2221.9,919.2 2222.5,919.1 2223.0,919.1 2223.6,919.0 2224.2,919.0 2224.7,919.0 2225.3,919.0 2225.9,918.9 2226.4,919.0 2227.0,919.0 2227.5,919.0 2228.1,919.0 2228.7,919.0 2229.2,918.9 2229.8,918.9 2230.3,918.8 2230.9,918.7 2231.5,918.6 2232.0,918.5 2232.6,918.3 2233.2,918.1 2233.7,918.0 2234.3,917.8 2234.8,917.7 2235.4,917.5 2236.0,917.5 2236.5,917.4 2237.1,917.4 2237.7,917.4 2238.3,917.4 2238.8,917.4 2239.4,917.5 2240.0,917.5 2240.5,917.6 2241.1,917.6 2241.7,917.6 2242.3,917.6 2242.8,917.6 2243.4,917.6 2244.0,917.6 2244.5,917.5 2245.1,917.5 2245.7,917.5 2246.2,917.5 2246.8,917.5 2247.4,917.5 2248.0,917.5 2248.5,917.6 2249.1,917.6 2249.7,917.6 2250.2,917.6 2250.8,917.6 2251.4,917.6 2252.0,917.6 2252.5,917.6 2253.1,917.6 2253.7,917.6 2254.2,917.6 2254.8,917.6 2255.4,917.6 2256.0,917.6 2256.5,917.6 2257.1,917.6 2257.7,917.6 2258.2,917.6 2258.8,917.6 2259.4,917.7 2260.0,917.7 2260.5,917.7 2261.1,917.8 2261.7,917.8 2262.2,917.8 2262.8,917.8 2263.4,917.7 2263.9,917.7 2264.5,917.6 2265.1,917.6 2265.7,917.5 2266.2,917.4 2266.8,917.3 2267.4,917.3 2267.9,917.3 2268.5,917.3 2269.1,917.3 2269.7,917.4 2270.2,917.6 2270.8,917.7 2271.4,917.9 2271.9,918.2 2272.5,918.4 2273.1,918.7 2273.7,919.0 2274.2,919.3 2274.8,919.5 2275.4,919.8 2275.9,920.0 2276.5,920.1 2277.1,920.2 2277.7,920.3 2278.2,920.4 2278.8,920.4 2279.4,920.3 2279.9,920.3 2280.5,920.1 2281.1,920.0 2281.7,919.9 2282.2,919.7 2282.8,919.6 2283.4,919.4 2283.9,919.2 2284.5,919.0 2285.1,918.9 2285.6,918.7 2286.2,918.5 2286.8,918.4 2287.4,918.2 2287.9,918.1 2288.5,917.9 2289.1,917.8 2289.6,917.7 2290.2,917.6 2290.8,917.5 2291.4,917.4 2291.9,917.3 2292.5,917.2 2293.1,917.2 2293.6,917.1 2294.2,917.0 2294.8,917.0 2295.4,916.9 2295.9,916.9 2296.5,916.8 2297.1,916.8 2297.6,916.7 2298.2,916.7 2298.8,916.6 2299.4,916.6 2299.9,916.5 2300.5,916.5 2301.1,916.4 2301.6,916.4 2302.2,916.4 2302.8,916.3 2303.3,916.3 2303.9,916.3 2304.5,916.3 2305.1,916.3 2305.6,916.4 2306.2,916.4 2306.8,916.5 2307.3,916.6 2307.9,916.7 2308.5,916.8 2309.1,916.9 2309.6,917.0 2310.2,917.2 2310.8,917.3 2311.3,917.4 2311.9,917.6 2312.5,917.7 2313.1,917.8 2313.6,917.9 2314.2,918.0 2314.8,918.1 2315.3,918.2 2315.9,918.3 2316.5,918.4 2317.1,918.4 2317.6,918.5 2318.2,918.5 2318.8,918.6 2319.3,918.6 2319.9,918.7 2320.5,918.7 2321.1,918.8 2321.6,918.8 2322.2,918.8 2322.8,918.8 2323.3,918.9 2323.9,918.9 2324.5,918.9 2325.0,918.9 2325.6,918.9 2326.2,918.9 2326.8,918.8 2327.3,918.8 2327.9,918.7 2328.5,918.7 2329.0,918.6 2329.6,918.6 2330.2,918.5 2330.8,918.5 2331.3,918.4 2331.9,918.4 2332.5,918.4 2333.0,918.4 2333.6,918.3 2334.2,918.3 2334.8,918.3 2335.3,918.3 2335.9,918.3 2336.5,918.4 2337.0,918.4 2337.6,918.4 2338.2,918.4 2338.8,918.4 2339.3,918.5 2339.9,918.5 2340.5,918.6 2341.0,918.6 2341.6,918.7 2342.2,918.8 2342.7,918.9 2343.3,919.0 2343.9,919.1 2344.5,919.2 2345.0,919.4 2345.6,919.4 2346.2,919.5 2346.7,919.6 2347.3,919.6 2347.9,919.6 2348.5,919.5 2349.0,919.4 2349.6,919.2" fill="none" stroke="#ff7f0e" stroke-width="3.4" stroke-linejoin="round" stroke-linecap="round" clip-path="url(#cr3)"/>
<text x="1386.50" y="861.80" font-size="24.6" font-family="'Liberation Sans', Arial, sans-serif" fill="#2c2c2c" text-anchor="end" textLength="34.08" lengthAdjust="spacingAndGlyphs">500</text>
<text x="1387.75" y="926.65" font-size="24.6" font-family="'Liberation Sans', Arial, sans-serif" fill="#2c2c2c" text-anchor="end" textLength="11.60" lengthAdjust="spacingAndGlyphs">0</text>
<text x="1387.00" y="990.10" font-size="24.6" font-family="'Liberation Sans', Arial, sans-serif" fill="#2c2c2c" text-anchor="end" textLength="46.06" lengthAdjust="spacingAndGlyphs">−500</text>
<text x="1324.20" y="916.90" font-size="24.3" font-family="'Liberation Sans', Arial, sans-serif" fill="#2c2c2c" text-anchor="middle" textLength="96.83" lengthAdjust="spacingAndGlyphs" transform="rotate(-90 1324.20 916.90)">Field (nT)</text>
<text x="1894.10" y="123.20" font-size="27.5" font-family="'Liberation Sans', Arial, sans-serif" fill="#2c2c2c" text-anchor="middle" textLength="116.26" lengthAdjust="spacingAndGlyphs">Total Field</text>
<text x="1894.30" y="351.40" font-size="27.5" font-family="'Liberation Sans', Arial, sans-serif" fill="#2c2c2c" text-anchor="middle" textLength="155.41" lengthAdjust="spacingAndGlyphs">X Component</text>
<text x="1894.00" y="579.60" font-size="27.5" font-family="'Liberation Sans', Arial, sans-serif" fill="#2c2c2c" text-anchor="middle" textLength="154.81" lengthAdjust="spacingAndGlyphs">Y Component</text>
<text x="1894.85" y="808.80" font-size="27.5" font-family="'Liberation Sans', Arial, sans-serif" fill="#2c2c2c" text-anchor="middle" textLength="154.23" lengthAdjust="spacingAndGlyphs">Z Component</text>
<text x="1877.50" y="41.55" font-size="26.6" font-family="'Liberation Sans', Arial, sans-serif" fill="#2c2c2c" text-anchor="middle" textLength="402.21" lengthAdjust="spacingAndGlyphs">24&quot; Pipe Parallel - Detrended Fields</text>
<text x="1440.00" y="1036.05" font-size="24.6" font-family="'Liberation Sans', Arial, sans-serif" fill="#2c2c2c" text-anchor="middle" textLength="22.21" lengthAdjust="spacingAndGlyphs">80</text>
<text x="1553.70" y="1036.05" font-size="24.6" font-family="'Liberation Sans', Arial, sans-serif" fill="#2c2c2c" text-anchor="middle" textLength="22.14" lengthAdjust="spacingAndGlyphs">90</text>
<text x="1668.35" y="1036.05" font-size="24.6" font-family="'Liberation Sans', Arial, sans-serif" fill="#2c2c2c" text-anchor="middle" textLength="33.58" lengthAdjust="spacingAndGlyphs">100</text>
<text x="1781.90" y="1036.05" font-size="24.6" font-family="'Liberation Sans', Arial, sans-serif" fill="#2c2c2c" text-anchor="middle" textLength="33.00" lengthAdjust="spacingAndGlyphs">110</text>
<text x="1894.80" y="1036.05" font-size="24.6" font-family="'Liberation Sans', Arial, sans-serif" fill="#2c2c2c" text-anchor="middle" textLength="34.11" lengthAdjust="spacingAndGlyphs">120</text>
<text x="2008.75" y="1036.05" font-size="24.6" font-family="'Liberation Sans', Arial, sans-serif" fill="#2c2c2c" text-anchor="middle" textLength="33.55" lengthAdjust="spacingAndGlyphs">130</text>
<text x="2122.85" y="1036.05" font-size="24.6" font-family="'Liberation Sans', Arial, sans-serif" fill="#2c2c2c" text-anchor="middle" textLength="34.63" lengthAdjust="spacingAndGlyphs">140</text>
<text x="2235.40" y="1036.05" font-size="24.6" font-family="'Liberation Sans', Arial, sans-serif" fill="#2c2c2c" text-anchor="middle" textLength="34.11" lengthAdjust="spacingAndGlyphs">150</text>
<text x="2349.10" y="1036.05" font-size="24.6" font-family="'Liberation Sans', Arial, sans-serif" fill="#2c2c2c" text-anchor="middle" textLength="34.11" lengthAdjust="spacingAndGlyphs">160</text>
<text x="1895.30" y="1069.65" font-size="25.7" font-family="'Liberation Sans', Arial, sans-serif" fill="#2c2c2c" text-anchor="middle" textLength="77.45" lengthAdjust="spacingAndGlyphs">Time (s)</text>
<line x1="2245.9" y1="165.6" x2="2287.6" y2="165.6" stroke="#1f77b4" stroke-width="3.4" stroke-linecap="round"/>
<line x1="2245.9" y1="198.9" x2="2287.6" y2="198.9" stroke="#ff7f0e" stroke-width="3.4" stroke-linecap="round"/>
<text x="2304.40" y="173.20" font-size="25.0" font-family="'Liberation Sans', Arial, sans-serif" fill="#2c2c2c" textLength="41.30" lengthAdjust="spacingAndGlyphs">Raw</text>
<text x="2303.90" y="207.50" font-size="25.0" font-family="'Liberation Sans', Arial, sans-serif" fill="#2c2c2c" textLength="69.52" lengthAdjust="spacingAndGlyphs">Filtered</text>
<line x1="1414.1" y1="488.8" x2="1454.3" y2="488.8" stroke="#1f77b4" stroke-width="3.4" stroke-linecap="round"/>
<line x1="1414.1" y1="522" x2="1454.3" y2="522" stroke="#ff7f0e" stroke-width="3.4" stroke-linecap="round"/>
<text x="1472.95" y="497.30" font-size="25.0" font-family="'Liberation Sans', Arial, sans-serif" fill="#2c2c2c" textLength="40.81" lengthAdjust="spacingAndGlyphs">Raw</text>
<text x="1472.70" y="530.60" font-size="25.0" font-family="'Liberation Sans', Arial, sans-serif" fill="#2c2c2c" textLength="69.59" lengthAdjust="spacingAndGlyphs">Filtered</text>
<line x1="1414.1" y1="718.1" x2="1454.3" y2="718.1" stroke="#1f77b4" stroke-width="3.4" stroke-linecap="round"/>
<line x1="1414.1" y1="751.6" x2="1454.3" y2="751.6" stroke="#ff7f0e" stroke-width="3.4" stroke-linecap="round"/>
<text x="1472.95" y="725.80" font-size="25.0" font-family="'Liberation Sans', Arial, sans-serif" fill="#2c2c2c" textLength="40.81" lengthAdjust="spacingAndGlyphs">Raw</text>
<text x="1472.70" y="760.30" font-size="25.0" font-family="'Liberation Sans', Arial, sans-serif" fill="#2c2c2c" textLength="69.59" lengthAdjust="spacingAndGlyphs">Filtered</text>
<line x1="1414.1" y1="851.7" x2="1454.3" y2="851.7" stroke="#1f77b4" stroke-width="3.4" stroke-linecap="round"/>
<line x1="1414.1" y1="885.3" x2="1454.3" y2="885.3" stroke="#ff7f0e" stroke-width="3.4" stroke-linecap="round"/>
<text x="1472.95" y="858.30" font-size="25.0" font-family="'Liberation Sans', Arial, sans-serif" fill="#2c2c2c" textLength="40.81" lengthAdjust="spacingAndGlyphs">Raw</text>
<text x="1472.70" y="892.00" font-size="25.0" font-family="'Liberation Sans', Arial, sans-serif" fill="#2c2c2c" textLength="69.59" lengthAdjust="spacingAndGlyphs">Filtered</text>
</g></svg></body></html>
